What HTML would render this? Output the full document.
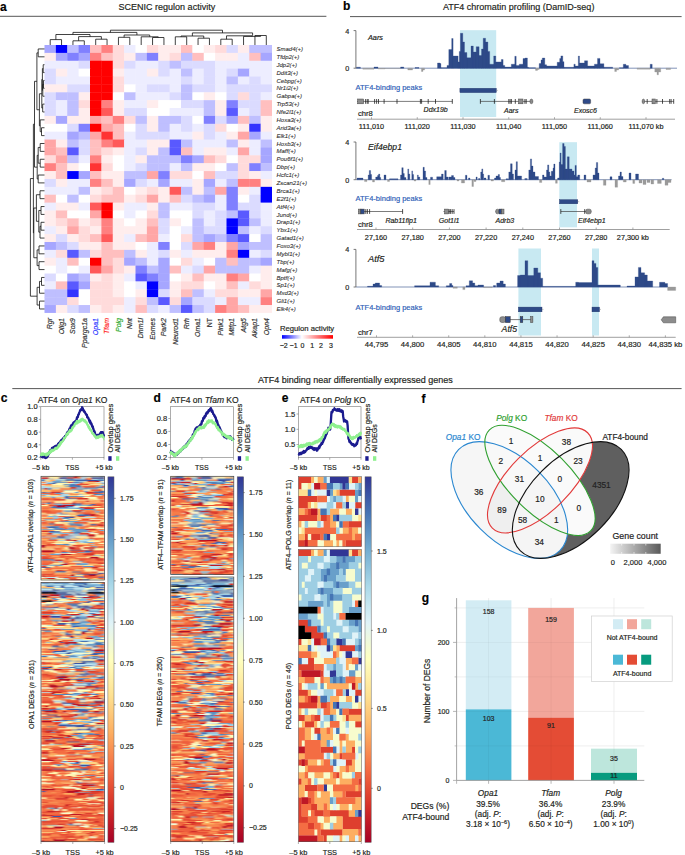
<!DOCTYPE html>
<html><head><meta charset="utf-8"><title>Figure</title>
<style>html,body{margin:0;padding:0;background:#fff;}body{width:685px;height:855px;overflow:hidden;font-family:"Liberation Sans",sans-serif;}svg{display:block;}</style>
</head><body><svg width="685" height="855" viewBox="0 0 685 855" font-family="'Liberation Sans', sans-serif"><text stroke="#000" stroke-width="0.18" x="0" y="11.3" font-size="12" text-anchor="start" fill="#000" font-weight="bold">a</text><text stroke="#231f20" stroke-width="0.18" x="118.6" y="10" font-size="9" text-anchor="start" fill="#231f20">SCENIC regulon activity</text><line x1="0" y1="16.3" x2="326.4" y2="16.3" stroke="#444" stroke-width="0.9"/><rect x="44.5" y="45" width="11.78" height="8.28" fill="#a6a6ff"/><rect x="55.88" y="45" width="11.78" height="8.28" fill="#0000ff"/><rect x="67.25" y="45" width="11.78" height="8.28" fill="#bfbfff"/><rect x="78.62" y="45" width="11.78" height="8.28" fill="#8080ff"/><rect x="90" y="45" width="11.78" height="8.28" fill="#ffbfbf"/><rect x="101.38" y="45" width="11.78" height="8.28" fill="#ff8080"/><rect x="112.75" y="45" width="11.78" height="8.28" fill="#ffdbdb"/><rect x="124.12" y="45" width="11.78" height="8.28" fill="#ededff"/><rect x="135.5" y="45" width="11.78" height="8.28" fill="#ffffff"/><rect x="146.88" y="45" width="11.78" height="8.28" fill="#ffdbdb"/><rect x="158.25" y="45" width="11.78" height="8.28" fill="#ffeded"/><rect x="169.62" y="45" width="11.78" height="8.28" fill="#ffeded"/><rect x="181" y="45" width="11.78" height="8.28" fill="#ffbfbf"/><rect x="192.38" y="45" width="11.78" height="8.28" fill="#ffffff"/><rect x="203.75" y="45" width="11.78" height="8.28" fill="#ffeded"/><rect x="215.12" y="45" width="11.78" height="8.28" fill="#ffdbdb"/><rect x="226.5" y="45" width="11.78" height="8.28" fill="#dbdbff"/><rect x="237.88" y="45" width="11.78" height="8.28" fill="#ffeded"/><rect x="249.25" y="45" width="11.78" height="8.28" fill="#bfbfff"/><rect x="260.62" y="45" width="11.38" height="8.28" fill="#bfbfff"/><rect x="44.5" y="52.88" width="11.78" height="8.28" fill="#ffeded"/><rect x="55.88" y="52.88" width="11.78" height="8.28" fill="#a6a6ff"/><rect x="67.25" y="52.88" width="11.78" height="8.28" fill="#8080ff"/><rect x="78.62" y="52.88" width="11.78" height="8.28" fill="#a6a6ff"/><rect x="90" y="52.88" width="11.78" height="8.28" fill="#ff8080"/><rect x="101.38" y="52.88" width="11.78" height="8.28" fill="#ffbfbf"/><rect x="112.75" y="52.88" width="11.78" height="8.28" fill="#ffdbdb"/><rect x="124.12" y="52.88" width="11.78" height="8.28" fill="#ffeded"/><rect x="135.5" y="52.88" width="11.78" height="8.28" fill="#bfbfff"/><rect x="146.88" y="52.88" width="11.78" height="8.28" fill="#8080ff"/><rect x="158.25" y="52.88" width="11.78" height="8.28" fill="#ffeded"/><rect x="169.62" y="52.88" width="11.78" height="8.28" fill="#ffdbdb"/><rect x="181" y="52.88" width="11.78" height="8.28" fill="#bfbfff"/><rect x="192.38" y="52.88" width="11.78" height="8.28" fill="#ffbfbf"/><rect x="203.75" y="52.88" width="11.78" height="8.28" fill="#ffffff"/><rect x="215.12" y="52.88" width="11.78" height="8.28" fill="#ffeded"/><rect x="226.5" y="52.88" width="11.78" height="8.28" fill="#ffeded"/><rect x="237.88" y="52.88" width="11.78" height="8.28" fill="#ededff"/><rect x="249.25" y="52.88" width="11.78" height="8.28" fill="#ffbfbf"/><rect x="260.62" y="52.88" width="11.38" height="8.28" fill="#a6a6ff"/><rect x="44.5" y="60.76" width="11.78" height="8.28" fill="#ededff"/><rect x="55.88" y="60.76" width="11.78" height="8.28" fill="#ededff"/><rect x="67.25" y="60.76" width="11.78" height="8.28" fill="#ededff"/><rect x="78.62" y="60.76" width="11.78" height="8.28" fill="#dbdbff"/><rect x="90" y="60.76" width="11.78" height="8.28" fill="#ff0000"/><rect x="101.38" y="60.76" width="11.78" height="8.28" fill="#ff0000"/><rect x="112.75" y="60.76" width="11.78" height="8.28" fill="#ffdbdb"/><rect x="124.12" y="60.76" width="11.78" height="8.28" fill="#dbdbff"/><rect x="135.5" y="60.76" width="11.78" height="8.28" fill="#ededff"/><rect x="146.88" y="60.76" width="11.78" height="8.28" fill="#ededff"/><rect x="158.25" y="60.76" width="11.78" height="8.28" fill="#dbdbff"/><rect x="169.62" y="60.76" width="11.78" height="8.28" fill="#bfbfff"/><rect x="181" y="60.76" width="11.78" height="8.28" fill="#dbdbff"/><rect x="192.38" y="60.76" width="11.78" height="8.28" fill="#dbdbff"/><rect x="203.75" y="60.76" width="11.78" height="8.28" fill="#dbdbff"/><rect x="215.12" y="60.76" width="11.78" height="8.28" fill="#ededff"/><rect x="226.5" y="60.76" width="11.78" height="8.28" fill="#ededff"/><rect x="237.88" y="60.76" width="11.78" height="8.28" fill="#ededff"/><rect x="249.25" y="60.76" width="11.78" height="8.28" fill="#ededff"/><rect x="260.62" y="60.76" width="11.38" height="8.28" fill="#ededff"/><rect x="44.5" y="68.64" width="11.78" height="8.28" fill="#dbdbff"/><rect x="55.88" y="68.64" width="11.78" height="8.28" fill="#ffeded"/><rect x="67.25" y="68.64" width="11.78" height="8.28" fill="#ededff"/><rect x="78.62" y="68.64" width="11.78" height="8.28" fill="#ffffff"/><rect x="90" y="68.64" width="11.78" height="8.28" fill="#ff0000"/><rect x="101.38" y="68.64" width="11.78" height="8.28" fill="#ff0000"/><rect x="112.75" y="68.64" width="11.78" height="8.28" fill="#ffeded"/><rect x="124.12" y="68.64" width="11.78" height="8.28" fill="#ededff"/><rect x="135.5" y="68.64" width="11.78" height="8.28" fill="#ededff"/><rect x="146.88" y="68.64" width="11.78" height="8.28" fill="#ffeded"/><rect x="158.25" y="68.64" width="11.78" height="8.28" fill="#dbdbff"/><rect x="169.62" y="68.64" width="11.78" height="8.28" fill="#ededff"/><rect x="181" y="68.64" width="11.78" height="8.28" fill="#bfbfff"/><rect x="192.38" y="68.64" width="11.78" height="8.28" fill="#ededff"/><rect x="203.75" y="68.64" width="11.78" height="8.28" fill="#dbdbff"/><rect x="215.12" y="68.64" width="11.78" height="8.28" fill="#ededff"/><rect x="226.5" y="68.64" width="11.78" height="8.28" fill="#dbdbff"/><rect x="237.88" y="68.64" width="11.78" height="8.28" fill="#a6a6ff"/><rect x="249.25" y="68.64" width="11.78" height="8.28" fill="#ededff"/><rect x="260.62" y="68.64" width="11.38" height="8.28" fill="#ededff"/><rect x="44.5" y="76.52" width="11.78" height="8.28" fill="#dbdbff"/><rect x="55.88" y="76.52" width="11.78" height="8.28" fill="#ededff"/><rect x="67.25" y="76.52" width="11.78" height="8.28" fill="#ededff"/><rect x="78.62" y="76.52" width="11.78" height="8.28" fill="#ededff"/><rect x="90" y="76.52" width="11.78" height="8.28" fill="#ff0000"/><rect x="101.38" y="76.52" width="11.78" height="8.28" fill="#ff0000"/><rect x="112.75" y="76.52" width="11.78" height="8.28" fill="#ffdbdb"/><rect x="124.12" y="76.52" width="11.78" height="8.28" fill="#ededff"/><rect x="135.5" y="76.52" width="11.78" height="8.28" fill="#ededff"/><rect x="146.88" y="76.52" width="11.78" height="8.28" fill="#ededff"/><rect x="158.25" y="76.52" width="11.78" height="8.28" fill="#ededff"/><rect x="169.62" y="76.52" width="11.78" height="8.28" fill="#ededff"/><rect x="181" y="76.52" width="11.78" height="8.28" fill="#dbdbff"/><rect x="192.38" y="76.52" width="11.78" height="8.28" fill="#ededff"/><rect x="203.75" y="76.52" width="11.78" height="8.28" fill="#dbdbff"/><rect x="215.12" y="76.52" width="11.78" height="8.28" fill="#ededff"/><rect x="226.5" y="76.52" width="11.78" height="8.28" fill="#bfbfff"/><rect x="237.88" y="76.52" width="11.78" height="8.28" fill="#ededff"/><rect x="249.25" y="76.52" width="11.78" height="8.28" fill="#dbdbff"/><rect x="260.62" y="76.52" width="11.38" height="8.28" fill="#ededff"/><rect x="44.5" y="84.4" width="11.78" height="8.28" fill="#ffeded"/><rect x="55.88" y="84.4" width="11.78" height="8.28" fill="#ffeded"/><rect x="67.25" y="84.4" width="11.78" height="8.28" fill="#dbdbff"/><rect x="78.62" y="84.4" width="11.78" height="8.28" fill="#dbdbff"/><rect x="90" y="84.4" width="11.78" height="8.28" fill="#ff0000"/><rect x="101.38" y="84.4" width="11.78" height="8.28" fill="#ff0000"/><rect x="112.75" y="84.4" width="11.78" height="8.28" fill="#ffdbdb"/><rect x="124.12" y="84.4" width="11.78" height="8.28" fill="#ffffff"/><rect x="135.5" y="84.4" width="11.78" height="8.28" fill="#ededff"/><rect x="146.88" y="84.4" width="11.78" height="8.28" fill="#dbdbff"/><rect x="158.25" y="84.4" width="11.78" height="8.28" fill="#dbdbff"/><rect x="169.62" y="84.4" width="11.78" height="8.28" fill="#ededff"/><rect x="181" y="84.4" width="11.78" height="8.28" fill="#bfbfff"/><rect x="192.38" y="84.4" width="11.78" height="8.28" fill="#dbdbff"/><rect x="203.75" y="84.4" width="11.78" height="8.28" fill="#dbdbff"/><rect x="215.12" y="84.4" width="11.78" height="8.28" fill="#ededff"/><rect x="226.5" y="84.4" width="11.78" height="8.28" fill="#dbdbff"/><rect x="237.88" y="84.4" width="11.78" height="8.28" fill="#dbdbff"/><rect x="249.25" y="84.4" width="11.78" height="8.28" fill="#dbdbff"/><rect x="260.62" y="84.4" width="11.38" height="8.28" fill="#dbdbff"/><rect x="44.5" y="92.28" width="11.78" height="8.28" fill="#dbdbff"/><rect x="55.88" y="92.28" width="11.78" height="8.28" fill="#bfbfff"/><rect x="67.25" y="92.28" width="11.78" height="8.28" fill="#bfbfff"/><rect x="78.62" y="92.28" width="11.78" height="8.28" fill="#ffeded"/><rect x="90" y="92.28" width="11.78" height="8.28" fill="#ff0000"/><rect x="101.38" y="92.28" width="11.78" height="8.28" fill="#ff0000"/><rect x="112.75" y="92.28" width="11.78" height="8.28" fill="#ffffff"/><rect x="124.12" y="92.28" width="11.78" height="8.28" fill="#bfbfff"/><rect x="135.5" y="92.28" width="11.78" height="8.28" fill="#ededff"/><rect x="146.88" y="92.28" width="11.78" height="8.28" fill="#ededff"/><rect x="158.25" y="92.28" width="11.78" height="8.28" fill="#ededff"/><rect x="169.62" y="92.28" width="11.78" height="8.28" fill="#dbdbff"/><rect x="181" y="92.28" width="11.78" height="8.28" fill="#bfbfff"/><rect x="192.38" y="92.28" width="11.78" height="8.28" fill="#ffffff"/><rect x="203.75" y="92.28" width="11.78" height="8.28" fill="#ffeded"/><rect x="215.12" y="92.28" width="11.78" height="8.28" fill="#ffffff"/><rect x="226.5" y="92.28" width="11.78" height="8.28" fill="#dbdbff"/><rect x="237.88" y="92.28" width="11.78" height="8.28" fill="#ffdbdb"/><rect x="249.25" y="92.28" width="11.78" height="8.28" fill="#dbdbff"/><rect x="260.62" y="92.28" width="11.38" height="8.28" fill="#ededff"/><rect x="44.5" y="100.16" width="11.78" height="8.28" fill="#dbdbff"/><rect x="55.88" y="100.16" width="11.78" height="8.28" fill="#ededff"/><rect x="67.25" y="100.16" width="11.78" height="8.28" fill="#bfbfff"/><rect x="78.62" y="100.16" width="11.78" height="8.28" fill="#ffdbdb"/><rect x="90" y="100.16" width="11.78" height="8.28" fill="#ff0000"/><rect x="101.38" y="100.16" width="11.78" height="8.28" fill="#ff8080"/><rect x="112.75" y="100.16" width="11.78" height="8.28" fill="#ffeded"/><rect x="124.12" y="100.16" width="11.78" height="8.28" fill="#ededff"/><rect x="135.5" y="100.16" width="11.78" height="8.28" fill="#ededff"/><rect x="146.88" y="100.16" width="11.78" height="8.28" fill="#ffeded"/><rect x="158.25" y="100.16" width="11.78" height="8.28" fill="#ffffff"/><rect x="169.62" y="100.16" width="11.78" height="8.28" fill="#ffffff"/><rect x="181" y="100.16" width="11.78" height="8.28" fill="#dbdbff"/><rect x="192.38" y="100.16" width="11.78" height="8.28" fill="#dbdbff"/><rect x="203.75" y="100.16" width="11.78" height="8.28" fill="#bfbfff"/><rect x="215.12" y="100.16" width="11.78" height="8.28" fill="#ffeded"/><rect x="226.5" y="100.16" width="11.78" height="8.28" fill="#8080ff"/><rect x="237.88" y="100.16" width="11.78" height="8.28" fill="#dbdbff"/><rect x="249.25" y="100.16" width="11.78" height="8.28" fill="#dbdbff"/><rect x="260.62" y="100.16" width="11.38" height="8.28" fill="#ffbfbf"/><rect x="44.5" y="108.04" width="11.78" height="8.28" fill="#dbdbff"/><rect x="55.88" y="108.04" width="11.78" height="8.28" fill="#ededff"/><rect x="67.25" y="108.04" width="11.78" height="8.28" fill="#bfbfff"/><rect x="78.62" y="108.04" width="11.78" height="8.28" fill="#ffeded"/><rect x="90" y="108.04" width="11.78" height="8.28" fill="#ff0000"/><rect x="101.38" y="108.04" width="11.78" height="8.28" fill="#ff5959"/><rect x="112.75" y="108.04" width="11.78" height="8.28" fill="#ffeded"/><rect x="124.12" y="108.04" width="11.78" height="8.28" fill="#dbdbff"/><rect x="135.5" y="108.04" width="11.78" height="8.28" fill="#dbdbff"/><rect x="146.88" y="108.04" width="11.78" height="8.28" fill="#ffffff"/><rect x="158.25" y="108.04" width="11.78" height="8.28" fill="#ffffff"/><rect x="169.62" y="108.04" width="11.78" height="8.28" fill="#ededff"/><rect x="181" y="108.04" width="11.78" height="8.28" fill="#ededff"/><rect x="192.38" y="108.04" width="11.78" height="8.28" fill="#ededff"/><rect x="203.75" y="108.04" width="11.78" height="8.28" fill="#bfbfff"/><rect x="215.12" y="108.04" width="11.78" height="8.28" fill="#ffeded"/><rect x="226.5" y="108.04" width="11.78" height="8.28" fill="#5959ff"/><rect x="237.88" y="108.04" width="11.78" height="8.28" fill="#ededff"/><rect x="249.25" y="108.04" width="11.78" height="8.28" fill="#dbdbff"/><rect x="260.62" y="108.04" width="11.38" height="8.28" fill="#ffbfbf"/><rect x="44.5" y="115.92" width="11.78" height="8.28" fill="#ffeded"/><rect x="55.88" y="115.92" width="11.78" height="8.28" fill="#a6a6ff"/><rect x="67.25" y="115.92" width="11.78" height="8.28" fill="#ffeded"/><rect x="78.62" y="115.92" width="11.78" height="8.28" fill="#ffeded"/><rect x="90" y="115.92" width="11.78" height="8.28" fill="#ffa6a6"/><rect x="101.38" y="115.92" width="11.78" height="8.28" fill="#ffbfbf"/><rect x="112.75" y="115.92" width="11.78" height="8.28" fill="#ff8080"/><rect x="124.12" y="115.92" width="11.78" height="8.28" fill="#ffdbdb"/><rect x="135.5" y="115.92" width="11.78" height="8.28" fill="#bfbfff"/><rect x="146.88" y="115.92" width="11.78" height="8.28" fill="#ffeded"/><rect x="158.25" y="115.92" width="11.78" height="8.28" fill="#bfbfff"/><rect x="169.62" y="115.92" width="11.78" height="8.28" fill="#bfbfff"/><rect x="181" y="115.92" width="11.78" height="8.28" fill="#dbdbff"/><rect x="192.38" y="115.92" width="11.78" height="8.28" fill="#ffffff"/><rect x="203.75" y="115.92" width="11.78" height="8.28" fill="#8080ff"/><rect x="215.12" y="115.92" width="11.78" height="8.28" fill="#dbdbff"/><rect x="226.5" y="115.92" width="11.78" height="8.28" fill="#a6a6ff"/><rect x="237.88" y="115.92" width="11.78" height="8.28" fill="#ffbfbf"/><rect x="249.25" y="115.92" width="11.78" height="8.28" fill="#bfbfff"/><rect x="260.62" y="115.92" width="11.38" height="8.28" fill="#ffeded"/><rect x="44.5" y="123.8" width="11.78" height="8.28" fill="#ffffff"/><rect x="55.88" y="123.8" width="11.78" height="8.28" fill="#ffffff"/><rect x="67.25" y="123.8" width="11.78" height="8.28" fill="#dbdbff"/><rect x="78.62" y="123.8" width="11.78" height="8.28" fill="#8080ff"/><rect x="90" y="123.8" width="11.78" height="8.28" fill="#ff0000"/><rect x="101.38" y="123.8" width="11.78" height="8.28" fill="#ffa6a6"/><rect x="112.75" y="123.8" width="11.78" height="8.28" fill="#ffbfbf"/><rect x="124.12" y="123.8" width="11.78" height="8.28" fill="#ffffff"/><rect x="135.5" y="123.8" width="11.78" height="8.28" fill="#dbdbff"/><rect x="146.88" y="123.8" width="11.78" height="8.28" fill="#ffeded"/><rect x="158.25" y="123.8" width="11.78" height="8.28" fill="#bfbfff"/><rect x="169.62" y="123.8" width="11.78" height="8.28" fill="#ededff"/><rect x="181" y="123.8" width="11.78" height="8.28" fill="#dbdbff"/><rect x="192.38" y="123.8" width="11.78" height="8.28" fill="#ededff"/><rect x="203.75" y="123.8" width="11.78" height="8.28" fill="#dbdbff"/><rect x="215.12" y="123.8" width="11.78" height="8.28" fill="#ffdbdb"/><rect x="226.5" y="123.8" width="11.78" height="8.28" fill="#ffffff"/><rect x="237.88" y="123.8" width="11.78" height="8.28" fill="#ffeded"/><rect x="249.25" y="123.8" width="11.78" height="8.28" fill="#3333ff"/><rect x="260.62" y="123.8" width="11.38" height="8.28" fill="#ffeded"/><rect x="44.5" y="131.68" width="11.78" height="8.28" fill="#ededff"/><rect x="55.88" y="131.68" width="11.78" height="8.28" fill="#ededff"/><rect x="67.25" y="131.68" width="11.78" height="8.28" fill="#a6a6ff"/><rect x="78.62" y="131.68" width="11.78" height="8.28" fill="#bfbfff"/><rect x="90" y="131.68" width="11.78" height="8.28" fill="#ffa6a6"/><rect x="101.38" y="131.68" width="11.78" height="8.28" fill="#ff3333"/><rect x="112.75" y="131.68" width="11.78" height="8.28" fill="#ffbfbf"/><rect x="124.12" y="131.68" width="11.78" height="8.28" fill="#ededff"/><rect x="135.5" y="131.68" width="11.78" height="8.28" fill="#dbdbff"/><rect x="146.88" y="131.68" width="11.78" height="8.28" fill="#dbdbff"/><rect x="158.25" y="131.68" width="11.78" height="8.28" fill="#dbdbff"/><rect x="169.62" y="131.68" width="11.78" height="8.28" fill="#ededff"/><rect x="181" y="131.68" width="11.78" height="8.28" fill="#ededff"/><rect x="192.38" y="131.68" width="11.78" height="8.28" fill="#ffeded"/><rect x="203.75" y="131.68" width="11.78" height="8.28" fill="#dbdbff"/><rect x="215.12" y="131.68" width="11.78" height="8.28" fill="#ededff"/><rect x="226.5" y="131.68" width="11.78" height="8.28" fill="#ffeded"/><rect x="237.88" y="131.68" width="11.78" height="8.28" fill="#ffa6a6"/><rect x="249.25" y="131.68" width="11.78" height="8.28" fill="#a6a6ff"/><rect x="260.62" y="131.68" width="11.38" height="8.28" fill="#ededff"/><rect x="44.5" y="139.56" width="11.78" height="8.28" fill="#ffa6a6"/><rect x="55.88" y="139.56" width="11.78" height="8.28" fill="#ffeded"/><rect x="67.25" y="139.56" width="11.78" height="8.28" fill="#bfbfff"/><rect x="78.62" y="139.56" width="11.78" height="8.28" fill="#dbdbff"/><rect x="90" y="139.56" width="11.78" height="8.28" fill="#ffbfbf"/><rect x="101.38" y="139.56" width="11.78" height="8.28" fill="#ff8080"/><rect x="112.75" y="139.56" width="11.78" height="8.28" fill="#ff5959"/><rect x="124.12" y="139.56" width="11.78" height="8.28" fill="#ededff"/><rect x="135.5" y="139.56" width="11.78" height="8.28" fill="#ededff"/><rect x="146.88" y="139.56" width="11.78" height="8.28" fill="#ffeded"/><rect x="158.25" y="139.56" width="11.78" height="8.28" fill="#ffeded"/><rect x="169.62" y="139.56" width="11.78" height="8.28" fill="#5959ff"/><rect x="181" y="139.56" width="11.78" height="8.28" fill="#bfbfff"/><rect x="192.38" y="139.56" width="11.78" height="8.28" fill="#ededff"/><rect x="203.75" y="139.56" width="11.78" height="8.28" fill="#ededff"/><rect x="215.12" y="139.56" width="11.78" height="8.28" fill="#ededff"/><rect x="226.5" y="139.56" width="11.78" height="8.28" fill="#bfbfff"/><rect x="237.88" y="139.56" width="11.78" height="8.28" fill="#ffeded"/><rect x="249.25" y="139.56" width="11.78" height="8.28" fill="#ededff"/><rect x="260.62" y="139.56" width="11.38" height="8.28" fill="#bfbfff"/><rect x="44.5" y="147.44" width="11.78" height="8.28" fill="#ffa6a6"/><rect x="55.88" y="147.44" width="11.78" height="8.28" fill="#ffbfbf"/><rect x="67.25" y="147.44" width="11.78" height="8.28" fill="#5959ff"/><rect x="78.62" y="147.44" width="11.78" height="8.28" fill="#dbdbff"/><rect x="90" y="147.44" width="11.78" height="8.28" fill="#ffbfbf"/><rect x="101.38" y="147.44" width="11.78" height="8.28" fill="#ffdbdb"/><rect x="112.75" y="147.44" width="11.78" height="8.28" fill="#ffeded"/><rect x="124.12" y="147.44" width="11.78" height="8.28" fill="#ededff"/><rect x="135.5" y="147.44" width="11.78" height="8.28" fill="#dbdbff"/><rect x="146.88" y="147.44" width="11.78" height="8.28" fill="#ffeded"/><rect x="158.25" y="147.44" width="11.78" height="8.28" fill="#bfbfff"/><rect x="169.62" y="147.44" width="11.78" height="8.28" fill="#5959ff"/><rect x="181" y="147.44" width="11.78" height="8.28" fill="#ffbfbf"/><rect x="192.38" y="147.44" width="11.78" height="8.28" fill="#ededff"/><rect x="203.75" y="147.44" width="11.78" height="8.28" fill="#ffeded"/><rect x="215.12" y="147.44" width="11.78" height="8.28" fill="#ffeded"/><rect x="226.5" y="147.44" width="11.78" height="8.28" fill="#ededff"/><rect x="237.88" y="147.44" width="11.78" height="8.28" fill="#ffa6a6"/><rect x="249.25" y="147.44" width="11.78" height="8.28" fill="#ededff"/><rect x="260.62" y="147.44" width="11.38" height="8.28" fill="#a6a6ff"/><rect x="44.5" y="155.32" width="11.78" height="8.28" fill="#ffdbdb"/><rect x="55.88" y="155.32" width="11.78" height="8.28" fill="#ffa6a6"/><rect x="67.25" y="155.32" width="11.78" height="8.28" fill="#bfbfff"/><rect x="78.62" y="155.32" width="11.78" height="8.28" fill="#ededff"/><rect x="90" y="155.32" width="11.78" height="8.28" fill="#ff8080"/><rect x="101.38" y="155.32" width="11.78" height="8.28" fill="#ffeded"/><rect x="112.75" y="155.32" width="11.78" height="8.28" fill="#ffffff"/><rect x="124.12" y="155.32" width="11.78" height="8.28" fill="#ededff"/><rect x="135.5" y="155.32" width="11.78" height="8.28" fill="#ffeded"/><rect x="146.88" y="155.32" width="11.78" height="8.28" fill="#bfbfff"/><rect x="158.25" y="155.32" width="11.78" height="8.28" fill="#bfbfff"/><rect x="169.62" y="155.32" width="11.78" height="8.28" fill="#bfbfff"/><rect x="181" y="155.32" width="11.78" height="8.28" fill="#8080ff"/><rect x="192.38" y="155.32" width="11.78" height="8.28" fill="#a6a6ff"/><rect x="203.75" y="155.32" width="11.78" height="8.28" fill="#ffbfbf"/><rect x="215.12" y="155.32" width="11.78" height="8.28" fill="#ffdbdb"/><rect x="226.5" y="155.32" width="11.78" height="8.28" fill="#ffffff"/><rect x="237.88" y="155.32" width="11.78" height="8.28" fill="#ffdbdb"/><rect x="249.25" y="155.32" width="11.78" height="8.28" fill="#ffdbdb"/><rect x="260.62" y="155.32" width="11.38" height="8.28" fill="#a6a6ff"/><rect x="44.5" y="163.2" width="11.78" height="8.28" fill="#ff8080"/><rect x="55.88" y="163.2" width="11.78" height="8.28" fill="#ffbfbf"/><rect x="67.25" y="163.2" width="11.78" height="8.28" fill="#ffeded"/><rect x="78.62" y="163.2" width="11.78" height="8.28" fill="#ffffff"/><rect x="90" y="163.2" width="11.78" height="8.28" fill="#ff3333"/><rect x="101.38" y="163.2" width="11.78" height="8.28" fill="#ffdbdb"/><rect x="112.75" y="163.2" width="11.78" height="8.28" fill="#ffffff"/><rect x="124.12" y="163.2" width="11.78" height="8.28" fill="#ededff"/><rect x="135.5" y="163.2" width="11.78" height="8.28" fill="#dbdbff"/><rect x="146.88" y="163.2" width="11.78" height="8.28" fill="#bfbfff"/><rect x="158.25" y="163.2" width="11.78" height="8.28" fill="#bfbfff"/><rect x="169.62" y="163.2" width="11.78" height="8.28" fill="#ededff"/><rect x="181" y="163.2" width="11.78" height="8.28" fill="#bfbfff"/><rect x="192.38" y="163.2" width="11.78" height="8.28" fill="#ffeded"/><rect x="203.75" y="163.2" width="11.78" height="8.28" fill="#ffeded"/><rect x="215.12" y="163.2" width="11.78" height="8.28" fill="#ffffff"/><rect x="226.5" y="163.2" width="11.78" height="8.28" fill="#bfbfff"/><rect x="237.88" y="163.2" width="11.78" height="8.28" fill="#ffdbdb"/><rect x="249.25" y="163.2" width="11.78" height="8.28" fill="#8080ff"/><rect x="260.62" y="163.2" width="11.38" height="8.28" fill="#bfbfff"/><rect x="44.5" y="171.08" width="11.78" height="8.28" fill="#ffeded"/><rect x="55.88" y="171.08" width="11.78" height="8.28" fill="#ffbfbf"/><rect x="67.25" y="171.08" width="11.78" height="8.28" fill="#0000ff"/><rect x="78.62" y="171.08" width="11.78" height="8.28" fill="#a6a6ff"/><rect x="90" y="171.08" width="11.78" height="8.28" fill="#ffbfbf"/><rect x="101.38" y="171.08" width="11.78" height="8.28" fill="#ffeded"/><rect x="112.75" y="171.08" width="11.78" height="8.28" fill="#ffeded"/><rect x="124.12" y="171.08" width="11.78" height="8.28" fill="#bfbfff"/><rect x="135.5" y="171.08" width="11.78" height="8.28" fill="#bfbfff"/><rect x="146.88" y="171.08" width="11.78" height="8.28" fill="#ffa6a6"/><rect x="158.25" y="171.08" width="11.78" height="8.28" fill="#8080ff"/><rect x="169.62" y="171.08" width="11.78" height="8.28" fill="#ffdbdb"/><rect x="181" y="171.08" width="11.78" height="8.28" fill="#ffdbdb"/><rect x="192.38" y="171.08" width="11.78" height="8.28" fill="#ffffff"/><rect x="203.75" y="171.08" width="11.78" height="8.28" fill="#ffbfbf"/><rect x="215.12" y="171.08" width="11.78" height="8.28" fill="#dbdbff"/><rect x="226.5" y="171.08" width="11.78" height="8.28" fill="#dbdbff"/><rect x="237.88" y="171.08" width="11.78" height="8.28" fill="#ffdbdb"/><rect x="249.25" y="171.08" width="11.78" height="8.28" fill="#ffeded"/><rect x="260.62" y="171.08" width="11.38" height="8.28" fill="#ededff"/><rect x="44.5" y="178.96" width="11.78" height="8.28" fill="#dbdbff"/><rect x="55.88" y="178.96" width="11.78" height="8.28" fill="#ffeded"/><rect x="67.25" y="178.96" width="11.78" height="8.28" fill="#ededff"/><rect x="78.62" y="178.96" width="11.78" height="8.28" fill="#ededff"/><rect x="90" y="178.96" width="11.78" height="8.28" fill="#ff8080"/><rect x="101.38" y="178.96" width="11.78" height="8.28" fill="#ffbfbf"/><rect x="112.75" y="178.96" width="11.78" height="8.28" fill="#ffeded"/><rect x="124.12" y="178.96" width="11.78" height="8.28" fill="#a6a6ff"/><rect x="135.5" y="178.96" width="11.78" height="8.28" fill="#dbdbff"/><rect x="146.88" y="178.96" width="11.78" height="8.28" fill="#ededff"/><rect x="158.25" y="178.96" width="11.78" height="8.28" fill="#a6a6ff"/><rect x="169.62" y="178.96" width="11.78" height="8.28" fill="#ededff"/><rect x="181" y="178.96" width="11.78" height="8.28" fill="#ededff"/><rect x="192.38" y="178.96" width="11.78" height="8.28" fill="#ffeded"/><rect x="203.75" y="178.96" width="11.78" height="8.28" fill="#a6a6ff"/><rect x="215.12" y="178.96" width="11.78" height="8.28" fill="#ededff"/><rect x="226.5" y="178.96" width="11.78" height="8.28" fill="#bfbfff"/><rect x="237.88" y="178.96" width="11.78" height="8.28" fill="#ff8080"/><rect x="249.25" y="178.96" width="11.78" height="8.28" fill="#ff8080"/><rect x="260.62" y="178.96" width="11.38" height="8.28" fill="#ffeded"/><rect x="44.5" y="186.84" width="11.78" height="8.28" fill="#ededff"/><rect x="55.88" y="186.84" width="11.78" height="8.28" fill="#ededff"/><rect x="67.25" y="186.84" width="11.78" height="8.28" fill="#ededff"/><rect x="78.62" y="186.84" width="11.78" height="8.28" fill="#bfbfff"/><rect x="90" y="186.84" width="11.78" height="8.28" fill="#ffeded"/><rect x="101.38" y="186.84" width="11.78" height="8.28" fill="#ffdbdb"/><rect x="112.75" y="186.84" width="11.78" height="8.28" fill="#ffbfbf"/><rect x="124.12" y="186.84" width="11.78" height="8.28" fill="#ffffff"/><rect x="135.5" y="186.84" width="11.78" height="8.28" fill="#ffeded"/><rect x="146.88" y="186.84" width="11.78" height="8.28" fill="#ffdbdb"/><rect x="158.25" y="186.84" width="11.78" height="8.28" fill="#ffeded"/><rect x="169.62" y="186.84" width="11.78" height="8.28" fill="#ff5959"/><rect x="181" y="186.84" width="11.78" height="8.28" fill="#bfbfff"/><rect x="192.38" y="186.84" width="11.78" height="8.28" fill="#ffeded"/><rect x="203.75" y="186.84" width="11.78" height="8.28" fill="#bfbfff"/><rect x="215.12" y="186.84" width="11.78" height="8.28" fill="#ffa6a6"/><rect x="226.5" y="186.84" width="11.78" height="8.28" fill="#8080ff"/><rect x="237.88" y="186.84" width="11.78" height="8.28" fill="#ffeded"/><rect x="249.25" y="186.84" width="11.78" height="8.28" fill="#ededff"/><rect x="260.62" y="186.84" width="11.38" height="8.28" fill="#0000ff"/><rect x="44.5" y="194.72" width="11.78" height="8.28" fill="#ffbfbf"/><rect x="55.88" y="194.72" width="11.78" height="8.28" fill="#ffffff"/><rect x="67.25" y="194.72" width="11.78" height="8.28" fill="#bfbfff"/><rect x="78.62" y="194.72" width="11.78" height="8.28" fill="#ffffff"/><rect x="90" y="194.72" width="11.78" height="8.28" fill="#ffdbdb"/><rect x="101.38" y="194.72" width="11.78" height="8.28" fill="#ffbfbf"/><rect x="112.75" y="194.72" width="11.78" height="8.28" fill="#ffbfbf"/><rect x="124.12" y="194.72" width="11.78" height="8.28" fill="#ffeded"/><rect x="135.5" y="194.72" width="11.78" height="8.28" fill="#ffdbdb"/><rect x="146.88" y="194.72" width="11.78" height="8.28" fill="#ffa6a6"/><rect x="158.25" y="194.72" width="11.78" height="8.28" fill="#ffeded"/><rect x="169.62" y="194.72" width="11.78" height="8.28" fill="#ffbfbf"/><rect x="181" y="194.72" width="11.78" height="8.28" fill="#dbdbff"/><rect x="192.38" y="194.72" width="11.78" height="8.28" fill="#bfbfff"/><rect x="203.75" y="194.72" width="11.78" height="8.28" fill="#a6a6ff"/><rect x="215.12" y="194.72" width="11.78" height="8.28" fill="#ededff"/><rect x="226.5" y="194.72" width="11.78" height="8.28" fill="#8080ff"/><rect x="237.88" y="194.72" width="11.78" height="8.28" fill="#ffffff"/><rect x="249.25" y="194.72" width="11.78" height="8.28" fill="#dbdbff"/><rect x="260.62" y="194.72" width="11.38" height="8.28" fill="#0000ff"/><rect x="44.5" y="202.6" width="11.78" height="8.28" fill="#ededff"/><rect x="55.88" y="202.6" width="11.78" height="8.28" fill="#ffeded"/><rect x="67.25" y="202.6" width="11.78" height="8.28" fill="#ffeded"/><rect x="78.62" y="202.6" width="11.78" height="8.28" fill="#ededff"/><rect x="90" y="202.6" width="11.78" height="8.28" fill="#ff5959"/><rect x="101.38" y="202.6" width="11.78" height="8.28" fill="#ff0000"/><rect x="112.75" y="202.6" width="11.78" height="8.28" fill="#ffeded"/><rect x="124.12" y="202.6" width="11.78" height="8.28" fill="#ededff"/><rect x="135.5" y="202.6" width="11.78" height="8.28" fill="#ededff"/><rect x="146.88" y="202.6" width="11.78" height="8.28" fill="#ffeded"/><rect x="158.25" y="202.6" width="11.78" height="8.28" fill="#bfbfff"/><rect x="169.62" y="202.6" width="11.78" height="8.28" fill="#ededff"/><rect x="181" y="202.6" width="11.78" height="8.28" fill="#ededff"/><rect x="192.38" y="202.6" width="11.78" height="8.28" fill="#dbdbff"/><rect x="203.75" y="202.6" width="11.78" height="8.28" fill="#dbdbff"/><rect x="215.12" y="202.6" width="11.78" height="8.28" fill="#ededff"/><rect x="226.5" y="202.6" width="11.78" height="8.28" fill="#8080ff"/><rect x="237.88" y="202.6" width="11.78" height="8.28" fill="#dbdbff"/><rect x="249.25" y="202.6" width="11.78" height="8.28" fill="#dbdbff"/><rect x="260.62" y="202.6" width="11.38" height="8.28" fill="#ededff"/><rect x="44.5" y="210.48" width="11.78" height="8.28" fill="#ffeded"/><rect x="55.88" y="210.48" width="11.78" height="8.28" fill="#ffbfbf"/><rect x="67.25" y="210.48" width="11.78" height="8.28" fill="#ffffff"/><rect x="78.62" y="210.48" width="11.78" height="8.28" fill="#ffffff"/><rect x="90" y="210.48" width="11.78" height="8.28" fill="#ffa6a6"/><rect x="101.38" y="210.48" width="11.78" height="8.28" fill="#ff0000"/><rect x="112.75" y="210.48" width="11.78" height="8.28" fill="#ffffff"/><rect x="124.12" y="210.48" width="11.78" height="8.28" fill="#ededff"/><rect x="135.5" y="210.48" width="11.78" height="8.28" fill="#ffffff"/><rect x="146.88" y="210.48" width="11.78" height="8.28" fill="#ffdbdb"/><rect x="158.25" y="210.48" width="11.78" height="8.28" fill="#bfbfff"/><rect x="169.62" y="210.48" width="11.78" height="8.28" fill="#ffffff"/><rect x="181" y="210.48" width="11.78" height="8.28" fill="#ffffff"/><rect x="192.38" y="210.48" width="11.78" height="8.28" fill="#dbdbff"/><rect x="203.75" y="210.48" width="11.78" height="8.28" fill="#ededff"/><rect x="215.12" y="210.48" width="11.78" height="8.28" fill="#dbdbff"/><rect x="226.5" y="210.48" width="11.78" height="8.28" fill="#bfbfff"/><rect x="237.88" y="210.48" width="11.78" height="8.28" fill="#5959ff"/><rect x="249.25" y="210.48" width="11.78" height="8.28" fill="#dbdbff"/><rect x="260.62" y="210.48" width="11.38" height="8.28" fill="#ededff"/><rect x="44.5" y="218.36" width="11.78" height="8.28" fill="#ffeded"/><rect x="55.88" y="218.36" width="11.78" height="8.28" fill="#ffdbdb"/><rect x="67.25" y="218.36" width="11.78" height="8.28" fill="#ffbfbf"/><rect x="78.62" y="218.36" width="11.78" height="8.28" fill="#ffeded"/><rect x="90" y="218.36" width="11.78" height="8.28" fill="#ffdbdb"/><rect x="101.38" y="218.36" width="11.78" height="8.28" fill="#ff8080"/><rect x="112.75" y="218.36" width="11.78" height="8.28" fill="#ffeded"/><rect x="124.12" y="218.36" width="11.78" height="8.28" fill="#ffffff"/><rect x="135.5" y="218.36" width="11.78" height="8.28" fill="#ffeded"/><rect x="146.88" y="218.36" width="11.78" height="8.28" fill="#ffbfbf"/><rect x="158.25" y="218.36" width="11.78" height="8.28" fill="#dbdbff"/><rect x="169.62" y="218.36" width="11.78" height="8.28" fill="#ffeded"/><rect x="181" y="218.36" width="11.78" height="8.28" fill="#ffffff"/><rect x="192.38" y="218.36" width="11.78" height="8.28" fill="#bfbfff"/><rect x="203.75" y="218.36" width="11.78" height="8.28" fill="#ededff"/><rect x="215.12" y="218.36" width="11.78" height="8.28" fill="#dbdbff"/><rect x="226.5" y="218.36" width="11.78" height="8.28" fill="#0000ff"/><rect x="237.88" y="218.36" width="11.78" height="8.28" fill="#5959ff"/><rect x="249.25" y="218.36" width="11.78" height="8.28" fill="#bfbfff"/><rect x="260.62" y="218.36" width="11.38" height="8.28" fill="#ededff"/><rect x="44.5" y="226.24" width="11.78" height="8.28" fill="#ededff"/><rect x="55.88" y="226.24" width="11.78" height="8.28" fill="#ffeded"/><rect x="67.25" y="226.24" width="11.78" height="8.28" fill="#ffa6a6"/><rect x="78.62" y="226.24" width="11.78" height="8.28" fill="#ffdbdb"/><rect x="90" y="226.24" width="11.78" height="8.28" fill="#ffeded"/><rect x="101.38" y="226.24" width="11.78" height="8.28" fill="#ff8080"/><rect x="112.75" y="226.24" width="11.78" height="8.28" fill="#ffeded"/><rect x="124.12" y="226.24" width="11.78" height="8.28" fill="#ffeded"/><rect x="135.5" y="226.24" width="11.78" height="8.28" fill="#ffeded"/><rect x="146.88" y="226.24" width="11.78" height="8.28" fill="#ffa6a6"/><rect x="158.25" y="226.24" width="11.78" height="8.28" fill="#dbdbff"/><rect x="169.62" y="226.24" width="11.78" height="8.28" fill="#ffffff"/><rect x="181" y="226.24" width="11.78" height="8.28" fill="#ededff"/><rect x="192.38" y="226.24" width="11.78" height="8.28" fill="#bfbfff"/><rect x="203.75" y="226.24" width="11.78" height="8.28" fill="#dbdbff"/><rect x="215.12" y="226.24" width="11.78" height="8.28" fill="#dbdbff"/><rect x="226.5" y="226.24" width="11.78" height="8.28" fill="#0000ff"/><rect x="237.88" y="226.24" width="11.78" height="8.28" fill="#bfbfff"/><rect x="249.25" y="226.24" width="11.78" height="8.28" fill="#ededff"/><rect x="260.62" y="226.24" width="11.38" height="8.28" fill="#dbdbff"/><rect x="44.5" y="234.12" width="11.78" height="8.28" fill="#ffeded"/><rect x="55.88" y="234.12" width="11.78" height="8.28" fill="#dbdbff"/><rect x="67.25" y="234.12" width="11.78" height="8.28" fill="#ffeded"/><rect x="78.62" y="234.12" width="11.78" height="8.28" fill="#ffdbdb"/><rect x="90" y="234.12" width="11.78" height="8.28" fill="#ffbfbf"/><rect x="101.38" y="234.12" width="11.78" height="8.28" fill="#ff5959"/><rect x="112.75" y="234.12" width="11.78" height="8.28" fill="#ffeded"/><rect x="124.12" y="234.12" width="11.78" height="8.28" fill="#ededff"/><rect x="135.5" y="234.12" width="11.78" height="8.28" fill="#ffbfbf"/><rect x="146.88" y="234.12" width="11.78" height="8.28" fill="#ffa6a6"/><rect x="158.25" y="234.12" width="11.78" height="8.28" fill="#ededff"/><rect x="169.62" y="234.12" width="11.78" height="8.28" fill="#ffffff"/><rect x="181" y="234.12" width="11.78" height="8.28" fill="#ffdbdb"/><rect x="192.38" y="234.12" width="11.78" height="8.28" fill="#bfbfff"/><rect x="203.75" y="234.12" width="11.78" height="8.28" fill="#a6a6ff"/><rect x="215.12" y="234.12" width="11.78" height="8.28" fill="#bfbfff"/><rect x="226.5" y="234.12" width="11.78" height="8.28" fill="#8080ff"/><rect x="237.88" y="234.12" width="11.78" height="8.28" fill="#5959ff"/><rect x="249.25" y="234.12" width="11.78" height="8.28" fill="#ffffff"/><rect x="260.62" y="234.12" width="11.38" height="8.28" fill="#bfbfff"/><rect x="44.5" y="242" width="11.78" height="8.28" fill="#a6a6ff"/><rect x="55.88" y="242" width="11.78" height="8.28" fill="#bfbfff"/><rect x="67.25" y="242" width="11.78" height="8.28" fill="#dbdbff"/><rect x="78.62" y="242" width="11.78" height="8.28" fill="#ffeded"/><rect x="90" y="242" width="11.78" height="8.28" fill="#ffeded"/><rect x="101.38" y="242" width="11.78" height="8.28" fill="#ffbfbf"/><rect x="112.75" y="242" width="11.78" height="8.28" fill="#ffeded"/><rect x="124.12" y="242" width="11.78" height="8.28" fill="#ffeded"/><rect x="135.5" y="242" width="11.78" height="8.28" fill="#ffffff"/><rect x="146.88" y="242" width="11.78" height="8.28" fill="#ededff"/><rect x="158.25" y="242" width="11.78" height="8.28" fill="#8080ff"/><rect x="169.62" y="242" width="11.78" height="8.28" fill="#ffffff"/><rect x="181" y="242" width="11.78" height="8.28" fill="#dbdbff"/><rect x="192.38" y="242" width="11.78" height="8.28" fill="#ffa6a6"/><rect x="203.75" y="242" width="11.78" height="8.28" fill="#ff8080"/><rect x="215.12" y="242" width="11.78" height="8.28" fill="#ffeded"/><rect x="226.5" y="242" width="11.78" height="8.28" fill="#ffa6a6"/><rect x="237.88" y="242" width="11.78" height="8.28" fill="#a6a6ff"/><rect x="249.25" y="242" width="11.78" height="8.28" fill="#bfbfff"/><rect x="260.62" y="242" width="11.38" height="8.28" fill="#bfbfff"/><rect x="44.5" y="249.88" width="11.78" height="8.28" fill="#ededff"/><rect x="55.88" y="249.88" width="11.78" height="8.28" fill="#ffdbdb"/><rect x="67.25" y="249.88" width="11.78" height="8.28" fill="#5959ff"/><rect x="78.62" y="249.88" width="11.78" height="8.28" fill="#bfbfff"/><rect x="90" y="249.88" width="11.78" height="8.28" fill="#ffdbdb"/><rect x="101.38" y="249.88" width="11.78" height="8.28" fill="#ffbfbf"/><rect x="112.75" y="249.88" width="11.78" height="8.28" fill="#ffbfbf"/><rect x="124.12" y="249.88" width="11.78" height="8.28" fill="#bfbfff"/><rect x="135.5" y="249.88" width="11.78" height="8.28" fill="#ffeded"/><rect x="146.88" y="249.88" width="11.78" height="8.28" fill="#ededff"/><rect x="158.25" y="249.88" width="11.78" height="8.28" fill="#dbdbff"/><rect x="169.62" y="249.88" width="11.78" height="8.28" fill="#ffeded"/><rect x="181" y="249.88" width="11.78" height="8.28" fill="#ededff"/><rect x="192.38" y="249.88" width="11.78" height="8.28" fill="#ffeded"/><rect x="203.75" y="249.88" width="11.78" height="8.28" fill="#ffeded"/><rect x="215.12" y="249.88" width="11.78" height="8.28" fill="#ffeded"/><rect x="226.5" y="249.88" width="11.78" height="8.28" fill="#ff8080"/><rect x="237.88" y="249.88" width="11.78" height="8.28" fill="#0000ff"/><rect x="249.25" y="249.88" width="11.78" height="8.28" fill="#ededff"/><rect x="260.62" y="249.88" width="11.38" height="8.28" fill="#dbdbff"/><rect x="44.5" y="257.76" width="11.78" height="8.28" fill="#ffeded"/><rect x="55.88" y="257.76" width="11.78" height="8.28" fill="#ededff"/><rect x="67.25" y="257.76" width="11.78" height="8.28" fill="#ffbfbf"/><rect x="78.62" y="257.76" width="11.78" height="8.28" fill="#ffffff"/><rect x="90" y="257.76" width="11.78" height="8.28" fill="#ff0000"/><rect x="101.38" y="257.76" width="11.78" height="8.28" fill="#ffbfbf"/><rect x="112.75" y="257.76" width="11.78" height="8.28" fill="#ffdbdb"/><rect x="124.12" y="257.76" width="11.78" height="8.28" fill="#a6a6ff"/><rect x="135.5" y="257.76" width="11.78" height="8.28" fill="#bfbfff"/><rect x="146.88" y="257.76" width="11.78" height="8.28" fill="#ededff"/><rect x="158.25" y="257.76" width="11.78" height="8.28" fill="#a6a6ff"/><rect x="169.62" y="257.76" width="11.78" height="8.28" fill="#ffffff"/><rect x="181" y="257.76" width="11.78" height="8.28" fill="#ffdbdb"/><rect x="192.38" y="257.76" width="11.78" height="8.28" fill="#ededff"/><rect x="203.75" y="257.76" width="11.78" height="8.28" fill="#ffffff"/><rect x="215.12" y="257.76" width="11.78" height="8.28" fill="#bfbfff"/><rect x="226.5" y="257.76" width="11.78" height="8.28" fill="#ffbfbf"/><rect x="237.88" y="257.76" width="11.78" height="8.28" fill="#bfbfff"/><rect x="249.25" y="257.76" width="11.78" height="8.28" fill="#bfbfff"/><rect x="260.62" y="257.76" width="11.38" height="8.28" fill="#a6a6ff"/><rect x="44.5" y="265.64" width="11.78" height="8.28" fill="#ffffff"/><rect x="55.88" y="265.64" width="11.78" height="8.28" fill="#ededff"/><rect x="67.25" y="265.64" width="11.78" height="8.28" fill="#ffffff"/><rect x="78.62" y="265.64" width="11.78" height="8.28" fill="#ededff"/><rect x="90" y="265.64" width="11.78" height="8.28" fill="#ff5959"/><rect x="101.38" y="265.64" width="11.78" height="8.28" fill="#ffa6a6"/><rect x="112.75" y="265.64" width="11.78" height="8.28" fill="#ffdbdb"/><rect x="124.12" y="265.64" width="11.78" height="8.28" fill="#ffeded"/><rect x="135.5" y="265.64" width="11.78" height="8.28" fill="#8080ff"/><rect x="146.88" y="265.64" width="11.78" height="8.28" fill="#bfbfff"/><rect x="158.25" y="265.64" width="11.78" height="8.28" fill="#a6a6ff"/><rect x="169.62" y="265.64" width="11.78" height="8.28" fill="#ffbfbf"/><rect x="181" y="265.64" width="11.78" height="8.28" fill="#ededff"/><rect x="192.38" y="265.64" width="11.78" height="8.28" fill="#dbdbff"/><rect x="203.75" y="265.64" width="11.78" height="8.28" fill="#ffa6a6"/><rect x="215.12" y="265.64" width="11.78" height="8.28" fill="#bfbfff"/><rect x="226.5" y="265.64" width="11.78" height="8.28" fill="#bfbfff"/><rect x="237.88" y="265.64" width="11.78" height="8.28" fill="#bfbfff"/><rect x="249.25" y="265.64" width="11.78" height="8.28" fill="#ededff"/><rect x="260.62" y="265.64" width="11.38" height="8.28" fill="#ffeded"/><rect x="44.5" y="273.52" width="11.78" height="8.28" fill="#dbdbff"/><rect x="55.88" y="273.52" width="11.78" height="8.28" fill="#ffffff"/><rect x="67.25" y="273.52" width="11.78" height="8.28" fill="#a6a6ff"/><rect x="78.62" y="273.52" width="11.78" height="8.28" fill="#bfbfff"/><rect x="90" y="273.52" width="11.78" height="8.28" fill="#ffeded"/><rect x="101.38" y="273.52" width="11.78" height="8.28" fill="#ffdbdb"/><rect x="112.75" y="273.52" width="11.78" height="8.28" fill="#ffeded"/><rect x="124.12" y="273.52" width="11.78" height="8.28" fill="#ededff"/><rect x="135.5" y="273.52" width="11.78" height="8.28" fill="#5959ff"/><rect x="146.88" y="273.52" width="11.78" height="8.28" fill="#8080ff"/><rect x="158.25" y="273.52" width="11.78" height="8.28" fill="#a6a6ff"/><rect x="169.62" y="273.52" width="11.78" height="8.28" fill="#ffffff"/><rect x="181" y="273.52" width="11.78" height="8.28" fill="#ffeded"/><rect x="192.38" y="273.52" width="11.78" height="8.28" fill="#ffbfbf"/><rect x="203.75" y="273.52" width="11.78" height="8.28" fill="#ffeded"/><rect x="215.12" y="273.52" width="11.78" height="8.28" fill="#ffeded"/><rect x="226.5" y="273.52" width="11.78" height="8.28" fill="#ff8080"/><rect x="237.88" y="273.52" width="11.78" height="8.28" fill="#ffa6a6"/><rect x="249.25" y="273.52" width="11.78" height="8.28" fill="#ffffff"/><rect x="260.62" y="273.52" width="11.38" height="8.28" fill="#ffeded"/><rect x="44.5" y="281.4" width="11.78" height="8.28" fill="#ededff"/><rect x="55.88" y="281.4" width="11.78" height="8.28" fill="#ffbfbf"/><rect x="67.25" y="281.4" width="11.78" height="8.28" fill="#5959ff"/><rect x="78.62" y="281.4" width="11.78" height="8.28" fill="#a6a6ff"/><rect x="90" y="281.4" width="11.78" height="8.28" fill="#ffdbdb"/><rect x="101.38" y="281.4" width="11.78" height="8.28" fill="#ffdbdb"/><rect x="112.75" y="281.4" width="11.78" height="8.28" fill="#ffeded"/><rect x="124.12" y="281.4" width="11.78" height="8.28" fill="#ffffff"/><rect x="135.5" y="281.4" width="11.78" height="8.28" fill="#ededff"/><rect x="146.88" y="281.4" width="11.78" height="8.28" fill="#0000ff"/><rect x="158.25" y="281.4" width="11.78" height="8.28" fill="#a6a6ff"/><rect x="169.62" y="281.4" width="11.78" height="8.28" fill="#ffeded"/><rect x="181" y="281.4" width="11.78" height="8.28" fill="#ffdbdb"/><rect x="192.38" y="281.4" width="11.78" height="8.28" fill="#ffdbdb"/><rect x="203.75" y="281.4" width="11.78" height="8.28" fill="#ffffff"/><rect x="215.12" y="281.4" width="11.78" height="8.28" fill="#ffeded"/><rect x="226.5" y="281.4" width="11.78" height="8.28" fill="#ffbfbf"/><rect x="237.88" y="281.4" width="11.78" height="8.28" fill="#ededff"/><rect x="249.25" y="281.4" width="11.78" height="8.28" fill="#ffdbdb"/><rect x="260.62" y="281.4" width="11.38" height="8.28" fill="#ffeded"/><rect x="44.5" y="289.28" width="11.78" height="8.28" fill="#bfbfff"/><rect x="55.88" y="289.28" width="11.78" height="8.28" fill="#bfbfff"/><rect x="67.25" y="289.28" width="11.78" height="8.28" fill="#3333ff"/><rect x="78.62" y="289.28" width="11.78" height="8.28" fill="#ffffff"/><rect x="90" y="289.28" width="11.78" height="8.28" fill="#ffdbdb"/><rect x="101.38" y="289.28" width="11.78" height="8.28" fill="#ffdbdb"/><rect x="112.75" y="289.28" width="11.78" height="8.28" fill="#ffeded"/><rect x="124.12" y="289.28" width="11.78" height="8.28" fill="#ffffff"/><rect x="135.5" y="289.28" width="11.78" height="8.28" fill="#ffeded"/><rect x="146.88" y="289.28" width="11.78" height="8.28" fill="#0000ff"/><rect x="158.25" y="289.28" width="11.78" height="8.28" fill="#dbdbff"/><rect x="169.62" y="289.28" width="11.78" height="8.28" fill="#ffeded"/><rect x="181" y="289.28" width="11.78" height="8.28" fill="#ffbfbf"/><rect x="192.38" y="289.28" width="11.78" height="8.28" fill="#bfbfff"/><rect x="203.75" y="289.28" width="11.78" height="8.28" fill="#ededff"/><rect x="215.12" y="289.28" width="11.78" height="8.28" fill="#ffdbdb"/><rect x="226.5" y="289.28" width="11.78" height="8.28" fill="#ffdbdb"/><rect x="237.88" y="289.28" width="11.78" height="8.28" fill="#ffeded"/><rect x="249.25" y="289.28" width="11.78" height="8.28" fill="#ffeded"/><rect x="260.62" y="289.28" width="11.38" height="8.28" fill="#ffa6a6"/><rect x="44.5" y="297.16" width="11.78" height="8.28" fill="#bfbfff"/><rect x="55.88" y="297.16" width="11.78" height="8.28" fill="#bfbfff"/><rect x="67.25" y="297.16" width="11.78" height="8.28" fill="#ffdbdb"/><rect x="78.62" y="297.16" width="11.78" height="8.28" fill="#ffffff"/><rect x="90" y="297.16" width="11.78" height="8.28" fill="#ffdbdb"/><rect x="101.38" y="297.16" width="11.78" height="8.28" fill="#ffdbdb"/><rect x="112.75" y="297.16" width="11.78" height="8.28" fill="#ffdbdb"/><rect x="124.12" y="297.16" width="11.78" height="8.28" fill="#ededff"/><rect x="135.5" y="297.16" width="11.78" height="8.28" fill="#ffdbdb"/><rect x="146.88" y="297.16" width="11.78" height="8.28" fill="#bfbfff"/><rect x="158.25" y="297.16" width="11.78" height="8.28" fill="#5959ff"/><rect x="169.62" y="297.16" width="11.78" height="8.28" fill="#ffdbdb"/><rect x="181" y="297.16" width="11.78" height="8.28" fill="#a6a6ff"/><rect x="192.38" y="297.16" width="11.78" height="8.28" fill="#dbdbff"/><rect x="203.75" y="297.16" width="11.78" height="8.28" fill="#dbdbff"/><rect x="215.12" y="297.16" width="11.78" height="8.28" fill="#ededff"/><rect x="226.5" y="297.16" width="11.78" height="8.28" fill="#ffa6a6"/><rect x="237.88" y="297.16" width="11.78" height="8.28" fill="#ededff"/><rect x="249.25" y="297.16" width="11.78" height="8.28" fill="#ededff"/><rect x="260.62" y="297.16" width="11.38" height="8.28" fill="#ff8080"/><rect x="44.5" y="305.04" width="11.78" height="7.88" fill="#a6a6ff"/><rect x="55.88" y="305.04" width="11.78" height="7.88" fill="#ffeded"/><rect x="67.25" y="305.04" width="11.78" height="7.88" fill="#dbdbff"/><rect x="78.62" y="305.04" width="11.78" height="7.88" fill="#bfbfff"/><rect x="90" y="305.04" width="11.78" height="7.88" fill="#ffeded"/><rect x="101.38" y="305.04" width="11.78" height="7.88" fill="#ffdbdb"/><rect x="112.75" y="305.04" width="11.78" height="7.88" fill="#ffeded"/><rect x="124.12" y="305.04" width="11.78" height="7.88" fill="#ededff"/><rect x="135.5" y="305.04" width="11.78" height="7.88" fill="#ffbfbf"/><rect x="146.88" y="305.04" width="11.78" height="7.88" fill="#dbdbff"/><rect x="158.25" y="305.04" width="11.78" height="7.88" fill="#ededff"/><rect x="169.62" y="305.04" width="11.78" height="7.88" fill="#bfbfff"/><rect x="181" y="305.04" width="11.78" height="7.88" fill="#5959ff"/><rect x="192.38" y="305.04" width="11.78" height="7.88" fill="#bfbfff"/><rect x="203.75" y="305.04" width="11.78" height="7.88" fill="#dbdbff"/><rect x="215.12" y="305.04" width="11.78" height="7.88" fill="#ff8080"/><rect x="226.5" y="305.04" width="11.78" height="7.88" fill="#ffa6a6"/><rect x="237.88" y="305.04" width="11.78" height="7.88" fill="#ffbfbf"/><rect x="249.25" y="305.04" width="11.78" height="7.88" fill="#ffeded"/><rect x="260.62" y="305.04" width="11.38" height="7.88" fill="#ffeded"/><text stroke="#333" stroke-width="0.18" x="52.49" y="318" font-size="7" text-anchor="end" fill="#333" font-style="italic" transform="rotate(-90 52.49 318)">Rgr</text><text stroke="#333" stroke-width="0.18" x="63.86" y="318" font-size="7" text-anchor="end" fill="#333" font-style="italic" transform="rotate(-90 63.86 318)">Olig1</text><text stroke="#333" stroke-width="0.18" x="75.24" y="318" font-size="7" text-anchor="end" fill="#333" font-style="italic" transform="rotate(-90 75.24 318)">Sox9</text><text stroke="#333" stroke-width="0.18" x="86.61" y="318" font-size="7" text-anchor="end" fill="#333" font-style="italic" transform="rotate(-90 86.61 318)">Ppargc1a</text><text stroke="#2a35ff" stroke-width="0.18" x="97.99" y="318" font-size="7" text-anchor="end" fill="#2a35ff" font-style="italic" transform="rotate(-90 97.99 318)">Opa1</text><text stroke="#ff2a2a" stroke-width="0.18" x="109.36" y="318" font-size="7" text-anchor="end" fill="#ff2a2a" font-style="italic" transform="rotate(-90 109.36 318)">Tfam</text><text stroke="#2aa82a" stroke-width="0.18" x="120.74" y="318" font-size="7" text-anchor="end" fill="#2aa82a" font-style="italic" transform="rotate(-90 120.74 318)">Polg</text><text stroke="#333" stroke-width="0.18" x="132.11" y="318" font-size="7" text-anchor="end" fill="#333" font-style="italic" transform="rotate(-90 132.11 318)">Nnt</text><text stroke="#333" stroke-width="0.18" x="143.49" y="318" font-size="7" text-anchor="end" fill="#333" font-style="italic" transform="rotate(-90 143.49 318)">Dnm1l</text><text stroke="#333" stroke-width="0.18" x="154.86" y="318" font-size="7" text-anchor="end" fill="#333" font-style="italic" transform="rotate(-90 154.86 318)">Eomes</text><text stroke="#333" stroke-width="0.18" x="166.24" y="318" font-size="7" text-anchor="end" fill="#333" font-style="italic" transform="rotate(-90 166.24 318)">Park2</text><text stroke="#333" stroke-width="0.18" x="177.61" y="318" font-size="7" text-anchor="end" fill="#333" font-style="italic" transform="rotate(-90 177.61 318)">Neurod1</text><text stroke="#333" stroke-width="0.18" x="188.99" y="318" font-size="7" text-anchor="end" fill="#333" font-style="italic" transform="rotate(-90 188.99 318)">Rrh</text><text stroke="#333" stroke-width="0.18" x="200.36" y="318" font-size="7" text-anchor="end" fill="#333" font-style="italic" transform="rotate(-90 200.36 318)">Oma1</text><text stroke="#333" stroke-width="0.18" x="211.74" y="318" font-size="7" text-anchor="end" fill="#333" transform="rotate(-90 211.74 318)">NT</text><text stroke="#333" stroke-width="0.18" x="223.11" y="318" font-size="7" text-anchor="end" fill="#333" font-style="italic" transform="rotate(-90 223.11 318)">Pink1</text><text stroke="#333" stroke-width="0.18" x="234.49" y="318" font-size="7" text-anchor="end" fill="#333" font-style="italic" transform="rotate(-90 234.49 318)">Mtfp1</text><text stroke="#333" stroke-width="0.18" x="245.86" y="318" font-size="7" text-anchor="end" fill="#333" font-style="italic" transform="rotate(-90 245.86 318)">Atg5</text><text stroke="#333" stroke-width="0.18" x="257.24" y="318" font-size="7" text-anchor="end" fill="#333" font-style="italic" transform="rotate(-90 257.24 318)">Akap1</text><text stroke="#333" stroke-width="0.18" x="268.61" y="318" font-size="7" text-anchor="end" fill="#333" font-style="italic" transform="rotate(-90 268.61 318)">Opn4</text><text stroke="#333" stroke-width="0.1" x="276.5" y="51.04" font-size="6" text-anchor="start" fill="#333" font-style="italic">Smad4(+)</text><text stroke="#333" stroke-width="0.1" x="276.5" y="58.92" font-size="6" text-anchor="start" fill="#333" font-style="italic">Tfdp2(+)</text><text stroke="#333" stroke-width="0.1" x="276.5" y="66.8" font-size="6" text-anchor="start" fill="#333" font-style="italic">Jdp2(+)</text><text stroke="#333" stroke-width="0.1" x="276.5" y="74.68" font-size="6" text-anchor="start" fill="#333" font-style="italic">Ddit3(+)</text><text stroke="#333" stroke-width="0.1" x="276.5" y="82.56" font-size="6" text-anchor="start" fill="#333" font-style="italic">Cebpg(+)</text><text stroke="#333" stroke-width="0.1" x="276.5" y="90.44" font-size="6" text-anchor="start" fill="#333" font-style="italic">Nr1i2(+)</text><text stroke="#333" stroke-width="0.1" x="276.5" y="98.32" font-size="6" text-anchor="start" fill="#333" font-style="italic">Gabpa(+)</text><text stroke="#333" stroke-width="0.1" x="276.5" y="106.2" font-size="6" text-anchor="start" fill="#333" font-style="italic">Trp53(+)</text><text stroke="#333" stroke-width="0.1" x="276.5" y="114.08" font-size="6" text-anchor="start" fill="#333" font-style="italic">Nfe2l1(+)</text><text stroke="#333" stroke-width="0.1" x="276.5" y="121.96" font-size="6" text-anchor="start" fill="#333" font-style="italic">Hoxa3(+)</text><text stroke="#333" stroke-width="0.1" x="276.5" y="129.84" font-size="6" text-anchor="start" fill="#333" font-style="italic">Arid3a(+)</text><text stroke="#333" stroke-width="0.1" x="276.5" y="137.72" font-size="6" text-anchor="start" fill="#333" font-style="italic">Elk1(+)</text><text stroke="#333" stroke-width="0.1" x="276.5" y="145.6" font-size="6" text-anchor="start" fill="#333" font-style="italic">Hoxb3(+)</text><text stroke="#333" stroke-width="0.1" x="276.5" y="153.48" font-size="6" text-anchor="start" fill="#333" font-style="italic">Maff(+)</text><text stroke="#333" stroke-width="0.1" x="276.5" y="161.36" font-size="6" text-anchor="start" fill="#333" font-style="italic">Pou6f1(+)</text><text stroke="#333" stroke-width="0.1" x="276.5" y="169.24" font-size="6" text-anchor="start" fill="#333" font-style="italic">Dbp(+)</text><text stroke="#333" stroke-width="0.1" x="276.5" y="177.12" font-size="6" text-anchor="start" fill="#333" font-style="italic">Hcfc1(+)</text><text stroke="#333" stroke-width="0.1" x="276.5" y="185" font-size="6" text-anchor="start" fill="#333" font-style="italic">Zscan21(+)</text><text stroke="#333" stroke-width="0.1" x="276.5" y="192.88" font-size="6" text-anchor="start" fill="#333" font-style="italic">Brca1(+)</text><text stroke="#333" stroke-width="0.1" x="276.5" y="200.76" font-size="6" text-anchor="start" fill="#333" font-style="italic">E2f1(+)</text><text stroke="#333" stroke-width="0.1" x="276.5" y="208.64" font-size="6" text-anchor="start" fill="#333" font-style="italic">Atf4(+)</text><text stroke="#333" stroke-width="0.1" x="276.5" y="216.52" font-size="6" text-anchor="start" fill="#333" font-style="italic">Jund(+)</text><text stroke="#333" stroke-width="0.1" x="276.5" y="224.4" font-size="6" text-anchor="start" fill="#333" font-style="italic">Drap1(+)</text><text stroke="#333" stroke-width="0.1" x="276.5" y="232.28" font-size="6" text-anchor="start" fill="#333" font-style="italic">Ybx1(+)</text><text stroke="#333" stroke-width="0.1" x="276.5" y="240.16" font-size="6" text-anchor="start" fill="#333" font-style="italic">Gatad1(+)</text><text stroke="#333" stroke-width="0.1" x="276.5" y="248.04" font-size="6" text-anchor="start" fill="#333" font-style="italic">Foxo3(+)</text><text stroke="#333" stroke-width="0.1" x="276.5" y="255.92" font-size="6" text-anchor="start" fill="#333" font-style="italic">Mybl1(+)</text><text stroke="#333" stroke-width="0.1" x="276.5" y="263.8" font-size="6" text-anchor="start" fill="#333" font-style="italic">Tbp(+)</text><text stroke="#333" stroke-width="0.1" x="276.5" y="271.68" font-size="6" text-anchor="start" fill="#333" font-style="italic">Mafg(+)</text><text stroke="#333" stroke-width="0.1" x="276.5" y="279.56" font-size="6" text-anchor="start" fill="#333" font-style="italic">Bptf(+)</text><text stroke="#333" stroke-width="0.1" x="276.5" y="287.44" font-size="6" text-anchor="start" fill="#333" font-style="italic">Sp1(+)</text><text stroke="#333" stroke-width="0.1" x="276.5" y="295.32" font-size="6" text-anchor="start" fill="#333" font-style="italic">Mxd3(+)</text><text stroke="#333" stroke-width="0.1" x="276.5" y="303.2" font-size="6" text-anchor="start" fill="#333" font-style="italic">Gli1(+)</text><text stroke="#333" stroke-width="0.1" x="276.5" y="311.08" font-size="6" text-anchor="start" fill="#333" font-style="italic">Elk4(+)</text><path d="M50.19 45L50.19 39.6M61.56 45L61.56 39.6M50.19 39.6L61.56 39.6M72.94 45L72.94 40.8M84.31 45L84.31 40.8M72.94 40.8L84.31 40.8M95.69 45L95.69 39.2M107.06 45L107.06 39.2M95.69 39.2L107.06 39.2M78.62 40.8L78.62 36.6M101.38 39.2L101.38 36.6M78.62 36.6L101.38 36.6M55.88 39.6L55.88 34.5M90 36.6L90 34.5M55.88 34.5L90 34.5M118.44 45L118.44 37.3M129.81 45L129.81 37.3M118.44 37.3L129.81 37.3M152.56 45L152.56 37.5M163.94 45L163.94 37.5M152.56 37.5L163.94 37.5M141.19 45L141.19 36.8M158.25 37.5L158.25 36.8M141.19 36.8L158.25 36.8M124.12 37.3L124.12 35M149.72 36.8L149.72 35M124.12 35L149.72 35M72.94 34.5L72.94 32.4M136.92 35L136.92 32.4M72.94 32.4L136.92 32.4M175.31 45L175.31 36.8M186.69 45L186.69 36.8M175.31 36.8L186.69 36.8M198.06 45L198.06 38.2M209.44 45L209.44 38.2M198.06 38.2L209.44 38.2M181 36.8L181 36M203.75 38.2L203.75 36M181 36L203.75 36M220.81 45L220.81 39.2M232.19 45L232.19 39.2M220.81 39.2L232.19 39.2M254.94 45L254.94 35.5M266.31 45L266.31 35.5M254.94 35.5L266.31 35.5M243.56 45L243.56 36.4M260.62 35.5L260.62 36.4M243.56 36.4L260.62 36.4M226.5 39.2L226.5 35.8M252.09 36.4L252.09 35.8M226.5 35.8L252.09 35.8M192.38 36L192.38 32.9M252.6 35.8L252.6 32.9M192.38 32.9L252.6 32.9M110.4 32.4L110.4 30.2M222.49 32.9L222.49 30.2M110.4 30.2L222.49 30.2" stroke="#111" stroke-width="0.8" fill="none"/><path d="M44.5 48.94L38.2 48.94M44.5 56.82L38.2 56.82M38.2 48.94L38.2 56.82M44.5 64.7L43.2 64.7M44.5 72.58L43.2 72.58M43.2 64.7L43.2 72.58M44.5 80.46L43.5 80.46M44.5 88.34L43.5 88.34M43.5 80.46L43.5 88.34M43.5 84.4L42.8 84.4M44.5 96.22L42.8 96.22M42.8 84.4L42.8 96.22M43.2 68.64L42.4 68.64M42.8 90.31L42.4 90.31M42.4 68.64L42.4 90.31M44.5 104.1L42.7 104.1M44.5 111.98L42.7 111.98M42.7 104.1L42.7 111.98M42.4 79.47L41.8 79.47M42.7 108.04L41.8 108.04M41.8 79.47L41.8 108.04M44.5 127.74L41.5 127.74M44.5 135.62L41.5 135.62M41.5 127.74L41.5 135.62M44.5 119.86L40.2 119.86M41.5 131.68L40.2 131.68M40.2 119.86L40.2 131.68M41.8 93.76L39.4 93.76M40.2 125.77L39.4 125.77M39.4 93.76L39.4 125.77M38.2 52.88L36.9 52.88M39.4 109.76L36.9 109.76M36.9 52.88L36.9 109.76M44.5 143.5L40.2 143.5M44.5 151.38L40.2 151.38M40.2 143.5L40.2 151.38M44.5 159.26L40.2 159.26M44.5 167.14L40.2 167.14M40.2 159.26L40.2 167.14M40.2 147.44L38.2 147.44M40.2 163.2L38.2 163.2M38.2 147.44L38.2 163.2M44.5 175.02L38.2 175.02M44.5 182.9L38.2 182.9M38.2 175.02L38.2 182.9M38.2 155.32L37.2 155.32M38.2 178.96L37.2 178.96M37.2 155.32L37.2 178.96M36.9 81.32L34.5 81.32M37.2 167.14L34.5 167.14M34.5 81.32L34.5 167.14M44.5 190.78L40 190.78M44.5 198.66L40 198.66M40 190.78L40 198.66M44.5 206.54L41 206.54M44.5 214.42L41 214.42M41 206.54L41 214.42M44.5 222.3L41 222.3M44.5 230.18L41 230.18M41 222.3L41 230.18M41 226.24L40 226.24M44.5 238.06L40 238.06M40 226.24L40 238.06M41 210.48L38.8 210.48M40 232.15L38.8 232.15M38.8 210.48L38.8 232.15M40 194.72L36.4 194.72M38.8 221.31L36.4 221.31M36.4 194.72L36.4 221.31M44.5 245.94L39 245.94M44.5 253.82L39 253.82M39 245.94L39 253.82M44.5 261.7L39 261.7M44.5 269.58L39 269.58M39 261.7L39 269.58M39 249.88L37.1 249.88M39 265.64L37.1 265.64M37.1 249.88L37.1 265.64M36.4 208.02L33.8 208.02M37.1 257.76L33.8 257.76M33.8 208.02L33.8 257.76M34.5 124.23L33.4 124.23M33.8 232.89L33.4 232.89M33.4 124.23L33.4 232.89M44.5 277.46L41.5 277.46M44.5 285.34L41.5 285.34M41.5 277.46L41.5 285.34M41.5 281.4L39.5 281.4M44.5 293.22L39.5 293.22M39.5 281.4L39.5 293.22M44.5 301.1L39.5 301.1M44.5 308.98L39.5 308.98M39.5 301.1L39.5 308.98M39.5 287.31L37.1 287.31M39.5 305.04L37.1 305.04M37.1 287.31L37.1 305.04M33.4 178.56L30.4 178.56M37.1 296.18L30.4 296.18M30.4 178.56L30.4 296.18" stroke="#111" stroke-width="0.8" fill="none"/><text stroke="#231f20" stroke-width="0.18" x="279.9" y="331.4" font-size="7.7" text-anchor="start" fill="#231f20">Regulon activity</text><defs><linearGradient id="gbwr" x1="0" x2="1" y1="0" y2="0"><stop offset="0" stop-color="#0000ff"/><stop offset="0.39" stop-color="#ffffff"/><stop offset="1" stop-color="#ff0000"/></linearGradient></defs><rect x="282" y="335.1" width="51" height="3.6" fill="url(#gbwr)"/><text stroke="#231f20" stroke-width="0.18" x="283.7" y="348.4" font-size="7" text-anchor="middle" fill="#231f20">−2</text><text stroke="#231f20" stroke-width="0.18" x="293.6" y="348.4" font-size="7" text-anchor="middle" fill="#231f20">−1</text><text stroke="#231f20" stroke-width="0.18" x="302.4" y="348.4" font-size="7" text-anchor="middle" fill="#231f20">0</text><text stroke="#231f20" stroke-width="0.18" x="312.2" y="348.4" font-size="7" text-anchor="middle" fill="#231f20">1</text><text stroke="#231f20" stroke-width="0.18" x="321" y="348.4" font-size="7" text-anchor="middle" fill="#231f20">2</text><text stroke="#231f20" stroke-width="0.18" x="331" y="348.4" font-size="7" text-anchor="middle" fill="#231f20">3</text><text stroke="#000" stroke-width="0.18" x="343" y="10.3" font-size="12" text-anchor="start" fill="#000" font-weight="bold">b</text><text stroke="#231f20" stroke-width="0.18" x="443" y="10.4" font-size="9" text-anchor="start" fill="#231f20">ATF4 chromatin profiling (DamID-seq)</text><line x1="350" y1="16.6" x2="681.6" y2="16.6" stroke="#444" stroke-width="0.9"/><rect x="460" y="30.2" width="36.2" height="86.8" fill="#c8e9f2"/><line x1="356" y1="68.2" x2="677" y2="68.2" stroke="#2e4a88" stroke-width="0.6"/><path d="M362.8 68.2H374V69.2H362.8ZM378 68.2H385V69H378ZM385 68.2H400.6V68.6H385ZM407.8 68.2H412.6V70H407.8ZM421.4 68.2H423V71.5H421.4ZM423 68.2H424.6V70H423ZM535.5 68.2H537.5V70.4H535.5ZM537.5 68.2H539.2V69.5H537.5ZM614.7 68.2H616.5V71.5H614.7ZM616.5 68.2H618.7V70H616.5ZM637 68.2H650.2V69.2H637ZM654.8 68.2H657V72H654.8ZM657 68.2H658.5V74.8H657ZM658.5 68.2H660.7V72H658.5ZM666 68.2H670.6V69.5H666Z" fill="#9a9a9a" stroke="#9a9a9a" stroke-width="0.3"/><path d="M356.4 68.2H360.4V67.2H356.4ZM374 68.2H378V67H374ZM400.6 68.2H403.8V67H400.6ZM415 68.2H419V67.6H415ZM437.5 68.2H440V63H437.5ZM440 68.2H440.9V63.6H440ZM440.9 68.2H447V67.7H440.9ZM447 68.2H448.8V65.4H447ZM448.8 68.2H451.7V49.6H448.8ZM451.7 68.2H453.1V38.5H451.7ZM453.1 68.2H458.1V56H453.1ZM458.1 68.2H459.3V61.9H458.1ZM459.3 68.2H460.4V51.4H459.3ZM460.4 68.2H462.8V33.3H460.4ZM462.8 68.2H464.5V42H462.8ZM464.5 68.2H466.9V52.5H464.5ZM466.9 68.2H471V57.8H466.9ZM471 68.2H473.3V46.1H471ZM473.3 68.2H476.2V52H473.3ZM476.2 68.2H479.1V46.7H476.2ZM479.1 68.2H481.5V55.5H479.1ZM481.5 68.2H483.2V49H481.5ZM483.2 68.2H485.6V38.3H483.2ZM485.6 68.2H487.9V42H485.6ZM487.9 68.2H489.7V51.4H487.9ZM489.7 68.2H493.7V64.2H489.7ZM493.7 68.2H495.8V56H493.7ZM495.8 68.2H501.3V61.9H495.8ZM501.3 68.2H503.1V59.5H501.3ZM503.1 68.2H504.8V65.4H503.1ZM504.8 68.2H511.3V67.1H504.8ZM511.3 68.2H514.8V64.2H511.3ZM514.8 68.2H516.2V56.3H514.8ZM516.2 68.2H519.3V65.4H516.2ZM519.3 68.2H523V64.2H519.3ZM523 68.2H525V58.6H523ZM525 68.2H527.4V58H525ZM527.4 68.2H528.6V67.3H527.4ZM528.6 68.2H535.5V67.8H528.6ZM539.2 68.2H541V63.6H539.2ZM541 68.2H542.3V59.9H541ZM542.3 68.2H544.8V58H542.3ZM544.8 68.2H546.6V64.8H544.8ZM546.6 68.2H557.2V66H546.6ZM557.2 68.2H559.7V62.3H557.2ZM559.7 68.2H560.9V58.6H559.7ZM560.9 68.2H562.8V55.9H560.9ZM562.8 68.2H564V61.7H562.8ZM564 68.2H573.9V67.3H564ZM573.9 68.2H575.2V64.2H573.9ZM575.2 68.2H578.3V66H575.2ZM578.3 68.2H579.5V56.1H578.3ZM579.5 68.2H584.5V63H579.5ZM584.5 68.2H587.6V60.8H584.5ZM587.6 68.2H594.4V66H587.6ZM594.4 68.2H597.5V64.2H594.4ZM597.5 68.2H600V58.4H597.5ZM600 68.2H603.9V63.7H600ZM603.9 68.2H612.7V67.2H603.9ZM619.3 68.2H623.3V67.8H619.3ZM623.3 68.2H625.9V64.3H623.3ZM625.9 68.2H628.5V65.6H625.9ZM650.2 68.2H652.2V64.3H650.2Z" fill="#2e4a88" stroke="#2e4a88" stroke-width="0.3"/><line x1="355.9" y1="30.6" x2="355.9" y2="68.2" stroke="#555" stroke-width="0.8"/><line x1="353.6" y1="30.6" x2="355.9" y2="30.6" stroke="#555" stroke-width="0.8"/><line x1="353.6" y1="68.2" x2="355.9" y2="68.2" stroke="#555" stroke-width="0.8"/><text stroke="#231f20" stroke-width="0.18" x="345.2" y="33.6" font-size="7.2" text-anchor="start" fill="#231f20">4</text><text stroke="#231f20" stroke-width="0.18" x="345.2" y="71" font-size="7.2" text-anchor="start" fill="#231f20">0</text><text stroke="#231f20" stroke-width="0.18" x="368" y="39.6" font-size="7.3" text-anchor="start" fill="#231f20" font-style="italic">Aars</text><text stroke="#2f5fb8" stroke-width="0.18" x="355.6" y="90.3" font-size="7.5" text-anchor="start" fill="#2f5fb8">ATF4-binding peaks</text><rect x="459.9" y="88.3" width="36.4" height="4.3" fill="#2e4a88" stroke="#1f3366" stroke-width="0.4"/><line x1="496.3" y1="90.4" x2="497.8" y2="90.4" stroke="#888" stroke-width="0.5"/><line x1="357" y1="101.4" x2="452.3" y2="101.4" stroke="#444" stroke-width="0.7"/><rect x="357.6" y="99" width="6" height="4.8" fill="#8c8c8c" stroke="#444" stroke-width="0.5"/><line x1="365.6" y1="99" x2="365.6" y2="103.8" stroke="#222" stroke-width="0.8"/><line x1="367.2" y1="99" x2="367.2" y2="103.8" stroke="#222" stroke-width="0.8"/><line x1="368.2" y1="99" x2="368.2" y2="103.8" stroke="#222" stroke-width="0.8"/><line x1="374.6" y1="99" x2="374.6" y2="103.8" stroke="#222" stroke-width="0.8"/><line x1="376.6" y1="99" x2="376.6" y2="103.8" stroke="#222" stroke-width="0.8"/><line x1="378.5" y1="99" x2="378.5" y2="103.8" stroke="#222" stroke-width="0.8"/><line x1="384.1" y1="99" x2="384.1" y2="103.8" stroke="#222" stroke-width="0.8"/><line x1="397" y1="99" x2="397" y2="103.8" stroke="#222" stroke-width="0.8"/><line x1="420.4" y1="99" x2="420.4" y2="103.8" stroke="#222" stroke-width="0.8"/><line x1="421.6" y1="99" x2="421.6" y2="103.8" stroke="#222" stroke-width="0.8"/><line x1="428.2" y1="99" x2="428.2" y2="103.8" stroke="#222" stroke-width="0.8"/><line x1="435.5" y1="99" x2="435.5" y2="103.8" stroke="#222" stroke-width="0.8"/><line x1="452.3" y1="99" x2="452.3" y2="103.8" stroke="#222" stroke-width="0.8"/><line x1="480.4" y1="101.4" x2="532.6" y2="101.4" stroke="#444" stroke-width="0.7"/><line x1="480.4" y1="99" x2="480.4" y2="103.8" stroke="#222" stroke-width="0.8"/><line x1="494.4" y1="99" x2="494.4" y2="103.8" stroke="#222" stroke-width="0.8"/><line x1="508.8" y1="99" x2="508.8" y2="103.8" stroke="#222" stroke-width="0.8"/><line x1="510.1" y1="99" x2="510.1" y2="103.8" stroke="#222" stroke-width="0.8"/><line x1="511.4" y1="99" x2="511.4" y2="103.8" stroke="#222" stroke-width="0.8"/><line x1="515.3" y1="99" x2="515.3" y2="103.8" stroke="#222" stroke-width="0.8"/><rect x="518.5" y="99" width="4.5" height="4.8" fill="#8c8c8c" stroke="#444" stroke-width="0.5"/><line x1="524.9" y1="99" x2="524.9" y2="103.8" stroke="#222" stroke-width="0.8"/><line x1="526.2" y1="99" x2="526.2" y2="103.8" stroke="#222" stroke-width="0.8"/><rect x="530" y="99.1" width="2.8" height="4.6" rx="1.68" fill="#8c8c8c" stroke="#444" stroke-width="0.5"/><rect x="583" y="99.0" width="7.6" height="4.8" rx="1.2" fill="#2e4a88" stroke="#444" stroke-width="0.5"/><line x1="642.2" y1="101.4" x2="673.7" y2="101.4" stroke="#444" stroke-width="0.7"/><rect x="642.2" y="99.1" width="2.4" height="4.6" rx="1.68" fill="#8c8c8c" stroke="#444" stroke-width="0.5"/><line x1="647.2" y1="99" x2="647.2" y2="103.8" stroke="#222" stroke-width="0.8"/><rect x="652" y="99" width="3.3" height="4.8" fill="#8c8c8c" stroke="#444" stroke-width="0.5"/><line x1="656.9" y1="99" x2="656.9" y2="103.8" stroke="#222" stroke-width="0.8"/><line x1="662.5" y1="99" x2="662.5" y2="103.8" stroke="#222" stroke-width="0.8"/><line x1="669.7" y1="99" x2="669.7" y2="103.8" stroke="#222" stroke-width="0.8"/><line x1="671.1" y1="99" x2="671.1" y2="103.8" stroke="#222" stroke-width="0.8"/><line x1="673.7" y1="99" x2="673.7" y2="103.8" stroke="#222" stroke-width="0.8"/><text stroke="#231f20" stroke-width="0.18" x="423.6" y="112.4" font-size="7" text-anchor="start" fill="#231f20" font-style="italic">Ddx19b</text><text stroke="#231f20" stroke-width="0.18" x="504" y="112.6" font-size="7" text-anchor="start" fill="#231f20" font-style="italic">Aars</text><text stroke="#231f20" stroke-width="0.18" x="574" y="112.6" font-size="7" text-anchor="start" fill="#231f20" font-style="italic">Exosc6</text><line x1="357" y1="119.2" x2="675" y2="119.2" stroke="#888" stroke-width="0.8"/><line x1="371.5" y1="117.2" x2="371.5" y2="119.2" stroke="#888" stroke-width="0.7"/><text stroke="#231f20" stroke-width="0.18" x="371.5" y="128.9" font-size="7.3" text-anchor="middle" fill="#231f20">111,010</text><line x1="417.25" y1="117.2" x2="417.25" y2="119.2" stroke="#888" stroke-width="0.7"/><text stroke="#231f20" stroke-width="0.18" x="417.25" y="128.9" font-size="7.3" text-anchor="middle" fill="#231f20">111,020</text><line x1="463" y1="117.2" x2="463" y2="119.2" stroke="#888" stroke-width="0.7"/><text stroke="#231f20" stroke-width="0.18" x="463" y="128.9" font-size="7.3" text-anchor="middle" fill="#231f20">111,030</text><line x1="508.75" y1="117.2" x2="508.75" y2="119.2" stroke="#888" stroke-width="0.7"/><text stroke="#231f20" stroke-width="0.18" x="508.75" y="128.9" font-size="7.3" text-anchor="middle" fill="#231f20">111,040</text><line x1="554.5" y1="117.2" x2="554.5" y2="119.2" stroke="#888" stroke-width="0.7"/><text stroke="#231f20" stroke-width="0.18" x="554.5" y="128.9" font-size="7.3" text-anchor="middle" fill="#231f20">111,050</text><line x1="600.25" y1="117.2" x2="600.25" y2="119.2" stroke="#888" stroke-width="0.7"/><text stroke="#231f20" stroke-width="0.18" x="600.25" y="128.9" font-size="7.3" text-anchor="middle" fill="#231f20">111,060</text><line x1="646" y1="117.2" x2="646" y2="119.2" stroke="#888" stroke-width="0.7"/><text stroke="#231f20" stroke-width="0.18" x="646" y="128.9" font-size="7.3" text-anchor="middle" fill="#231f20">111,070 kb</text><text stroke="#231f20" stroke-width="0.18" x="358" y="115.8" font-size="7.6" text-anchor="start" fill="#231f20">chr8</text><rect x="559.3" y="142.2" width="17.7" height="85.1" fill="#c8e9f2"/><line x1="356" y1="179.7" x2="671.6" y2="179.7" stroke="#2e4a88" stroke-width="0.6"/><path d="M364.5 179.7H367V181.6H364.5ZM372.5 179.7H374.5V182H372.5ZM387.5 179.7H389.5V181.5H387.5ZM414 179.7H416V181H414ZM428.8 179.7H430.2V184.5H428.8ZM457 179.7H459V181H457ZM461.4 179.7H464.6V183H461.4ZM471.9 179.7H473.5V186.5H471.9ZM474 179.7H476V181.5H474ZM491 179.7H493.5V181H491ZM501.5 179.7H504.8V181.7H501.5ZM539.5 179.7H541.8V182.5H539.5ZM555.5 179.7H557.3V183.3H555.5ZM587 179.7H591V182H587ZM603.4 179.7H606V185.3H603.4ZM615 179.7H617.6V187.2H615ZM623.3 179.7H626.2V182H623.3ZM632.8 179.7H634.7V183.4H632.8ZM639 179.7H642V183H639ZM643 179.7H646V184.5H643ZM647 179.7H650V182.5H647ZM651 179.7H653.7V184H651ZM657.5 179.7H661.3V183.4H657.5ZM665 179.7H668V185.2H665ZM668 179.7H671V182.5H668Z" fill="#9a9a9a" stroke="#9a9a9a" stroke-width="0.3"/><path d="M357 179.7H363V178.1H357ZM368.2 179.7H369.3V175H368.2ZM369.3 179.7H370.6V170.5H369.3ZM370.6 179.7H371.6V174.5H370.6ZM375.7 179.7H377.5V177H375.7ZM377.5 179.7H378.6V175.5H377.5ZM378.6 179.7H379.8V174.1H378.6ZM379.8 179.7H380.7V177.5H379.8ZM384 179.7H386V175H384ZM389.5 179.7H398V178.8H389.5ZM400.5 179.7H401.8V175H400.5ZM401.8 179.7H403.2V167.7H401.8ZM403.2 179.7H404.3V173.5H403.2ZM404.3 179.7H406V177.5H404.3ZM407.8 179.7H408.7V169H407.8ZM408.7 179.7H409.8V174H408.7ZM411.8 179.7H412.6V170.9H411.8ZM412.6 179.7H413.6V174.5H412.6ZM417.4 179.7H418.3V175H417.4ZM418.3 179.7H419.8V177H418.3ZM423 179.7H424.3V167.3H423ZM424.3 179.7H425.6V171H424.3ZM425.6 179.7H427V177.5H425.6ZM430.5 179.7H432.6V177.2H430.5ZM436.7 179.7H441.5V176.8H436.7ZM441.5 179.7H443.2V174.1H441.5ZM444.7 179.7H446.3V170.5H444.7ZM446.3 179.7H448V177H446.3ZM448.7 179.7H451.5V177H448.7ZM451.5 179.7H453.5V175.6H451.5ZM453.5 179.7H455V177.5H453.5ZM465.4 179.7H467V175.3H465.4ZM468.5 179.7H470V178H468.5ZM476 179.7H477.2V177H476ZM478.5 179.7H480V178.5H478.5ZM480.7 179.7H481.8V172H480.7ZM481.8 179.7H482.8V168.9H481.8ZM482.8 179.7H483.6V174H482.8ZM484 179.7H486V178H484ZM487.9 179.7H489.5V175.3H487.9ZM494.5 179.7H496V178H494.5ZM496 179.7H498.2V176H496ZM498.2 179.7H499.5V174.5H498.2ZM499.5 179.7H500.5V177.5H499.5ZM506 179.7H508.5V178.8H506ZM508.8 179.7H510.5V172H508.8ZM510.5 179.7H512.2V163.8H510.5ZM512.2 179.7H513.5V174H512.2ZM515 179.7H516.2V170H515ZM516.2 179.7H517.4V161.7H516.2ZM517.4 179.7H521.6V176H517.4ZM524.8 179.7H527.2V178.5H524.8ZM528.8 179.7H530.4V170H528.8ZM530.4 179.7H531.6V158.9H530.4ZM531.6 179.7H533V166H531.6ZM533 179.7H535V172H533ZM535 179.7H538.5V176.5H535ZM542.5 179.7H544V175H542.5ZM544 179.7H546.5V177H544ZM546.5 179.7H547.6V170H546.5ZM547.6 179.7H548.8V164.9H547.6ZM548.8 179.7H549.8V172H548.8ZM549.8 179.7H551.3V176H549.8ZM551.3 179.7H553V171.3H551.3ZM553 179.7H553.8V168H553ZM553.8 179.7H555V164.1H553.8ZM557.6 179.7H559.3V178H557.6ZM559.3 179.7H560.1V162H559.3ZM560.1 179.7H561.1V153H560.1ZM561.1 179.7H562.6V164.4H561.1ZM562.6 179.7H564.1V143.5H562.6ZM564.1 179.7H565.4V146.4H564.1ZM565.4 179.7H567.3V169H565.4ZM567.3 179.7H569.2V156.8H567.3ZM569.2 179.7H572V169H569.2ZM572 179.7H574V171H572ZM574 179.7H575V175H574ZM575 179.7H576.3V165.4H575ZM576.3 179.7H577.8V176.7H576.3ZM577.8 179.7H579.7V175H577.8ZM584 179.7H585.9V175H584ZM593 179.7H595.2V175H593ZM595.2 179.7H596.4V168H595.2ZM596.4 179.7H597.7V162.5H596.4ZM597.7 179.7H599V173H597.7ZM610 179.7H612V176.8H610ZM618.5 179.7H620V176H618.5ZM620 179.7H621.4V172H620ZM621.4 179.7H623V176.5H621.4ZM629 179.7H631V173H629ZM635.6 179.7H638.5V174H635.6ZM662.3 179.7H663.8V178.3H662.3Z" fill="#2e4a88" stroke="#2e4a88" stroke-width="0.3"/><line x1="355.9" y1="142" x2="355.9" y2="179.7" stroke="#555" stroke-width="0.8"/><line x1="353.6" y1="142" x2="355.9" y2="142" stroke="#555" stroke-width="0.8"/><line x1="353.6" y1="179.7" x2="355.9" y2="179.7" stroke="#555" stroke-width="0.8"/><text stroke="#231f20" stroke-width="0.18" x="345.2" y="145" font-size="7.2" text-anchor="start" fill="#231f20">4</text><text stroke="#231f20" stroke-width="0.18" x="345.2" y="182.5" font-size="7.2" text-anchor="start" fill="#231f20">0</text><text stroke="#231f20" stroke-width="0.18" x="368" y="150.4" font-size="8.6" text-anchor="start" fill="#231f20" font-style="italic">Eif4ebp1</text><text stroke="#2f5fb8" stroke-width="0.18" x="355.6" y="201.2" font-size="7.5" text-anchor="start" fill="#2f5fb8">ATF4-binding peaks</text><rect x="559.5" y="199.7" width="18.3" height="4.1" fill="#2e4a88" stroke="#1f3366" stroke-width="0.4"/><line x1="577.8" y1="201.7" x2="579.3" y2="201.7" stroke="#888" stroke-width="0.5"/><line x1="358.4" y1="211.5" x2="402.6" y2="211.5" stroke="#444" stroke-width="0.7"/><rect x="358.4" y="209.1" width="2.6" height="4.8" fill="#8c8c8c" stroke="#444" stroke-width="0.5"/><rect x="360.8" y="209.1" width="3.4" height="4.8" fill="#2e4a88" stroke="#333" stroke-width="0.5"/><line x1="365.8" y1="209.1" x2="365.8" y2="213.9" stroke="#222" stroke-width="0.8"/><line x1="367.4" y1="209.1" x2="367.4" y2="213.9" stroke="#222" stroke-width="0.8"/><line x1="369.6" y1="209.1" x2="369.6" y2="213.9" stroke="#222" stroke-width="0.8"/><line x1="402.6" y1="209.1" x2="402.6" y2="213.9" stroke="#222" stroke-width="0.8"/><line x1="443.5" y1="211.5" x2="454" y2="211.5" stroke="#444" stroke-width="0.7"/><rect x="444.5" y="209.1" width="4" height="4.8" fill="#8c8c8c" stroke="#444" stroke-width="0.5"/><line x1="449.2" y1="209.1" x2="449.2" y2="213.9" stroke="#222" stroke-width="0.8"/><line x1="450.6" y1="209.1" x2="450.6" y2="213.9" stroke="#222" stroke-width="0.8"/><line x1="452.2" y1="209.1" x2="452.2" y2="213.9" stroke="#222" stroke-width="0.8"/><line x1="454" y1="209.1" x2="454" y2="213.9" stroke="#222" stroke-width="0.8"/><line x1="495.7" y1="211.5" x2="504" y2="211.5" stroke="#444" stroke-width="0.7"/><rect x="495.7" y="209.2" width="3.3" height="4.6" rx="1.68" fill="#8c8c8c" stroke="#444" stroke-width="0.5"/><rect x="499" y="209.1" width="2.5" height="4.8" fill="#2e4a88" stroke="#333" stroke-width="0.5"/><rect x="501.5" y="209.1" width="2.5" height="4.8" fill="#8c8c8c" stroke="#444" stroke-width="0.5"/><line x1="560.8" y1="211.5" x2="591.2" y2="211.5" stroke="#444" stroke-width="0.7"/><line x1="560.8" y1="209.1" x2="560.8" y2="213.9" stroke="#222" stroke-width="0.8"/><line x1="584.7" y1="209.1" x2="584.7" y2="213.9" stroke="#222" stroke-width="0.8"/><rect x="585.7" y="209.2" width="5.5" height="4.6" rx="1.68" fill="#8c8c8c" stroke="#444" stroke-width="0.5"/><text stroke="#231f20" stroke-width="0.18" x="385.4" y="222.8" font-size="7" text-anchor="start" fill="#231f20" font-style="italic">Rab11fip1</text><text stroke="#231f20" stroke-width="0.18" x="438.8" y="222.8" font-size="7" text-anchor="start" fill="#231f20" font-style="italic">Got1l1</text><text stroke="#231f20" stroke-width="0.18" x="495.5" y="222.8" font-size="7" text-anchor="start" fill="#231f20" font-style="italic">Adrb3</text><text stroke="#231f20" stroke-width="0.18" x="578" y="222.8" font-size="7" text-anchor="start" fill="#231f20" font-style="italic">Eif4ebp1</text><line x1="357" y1="229.5" x2="669.7" y2="229.5" stroke="#888" stroke-width="0.8"/><line x1="376" y1="227.5" x2="376" y2="229.5" stroke="#888" stroke-width="0.7"/><text stroke="#231f20" stroke-width="0.18" x="376" y="239.5" font-size="7.3" text-anchor="middle" fill="#231f20">27,160</text><line x1="412.7" y1="227.5" x2="412.7" y2="229.5" stroke="#888" stroke-width="0.7"/><text stroke="#231f20" stroke-width="0.18" x="412.7" y="239.5" font-size="7.3" text-anchor="middle" fill="#231f20">27,180</text><line x1="449.4" y1="227.5" x2="449.4" y2="229.5" stroke="#888" stroke-width="0.7"/><text stroke="#231f20" stroke-width="0.18" x="449.4" y="239.5" font-size="7.3" text-anchor="middle" fill="#231f20">27,200</text><line x1="486.1" y1="227.5" x2="486.1" y2="229.5" stroke="#888" stroke-width="0.7"/><text stroke="#231f20" stroke-width="0.18" x="486.1" y="239.5" font-size="7.3" text-anchor="middle" fill="#231f20">27,220</text><line x1="522.8" y1="227.5" x2="522.8" y2="229.5" stroke="#888" stroke-width="0.7"/><text stroke="#231f20" stroke-width="0.18" x="522.8" y="239.5" font-size="7.3" text-anchor="middle" fill="#231f20">27,240</text><line x1="559.5" y1="227.5" x2="559.5" y2="229.5" stroke="#888" stroke-width="0.7"/><text stroke="#231f20" stroke-width="0.18" x="559.5" y="239.5" font-size="7.3" text-anchor="middle" fill="#231f20">27,260</text><line x1="596.2" y1="227.5" x2="596.2" y2="229.5" stroke="#888" stroke-width="0.7"/><text stroke="#231f20" stroke-width="0.18" x="596.2" y="239.5" font-size="7.3" text-anchor="middle" fill="#231f20">27,280</text><line x1="632.9" y1="227.5" x2="632.9" y2="229.5" stroke="#888" stroke-width="0.7"/><text stroke="#231f20" stroke-width="0.18" x="632.9" y="239.5" font-size="7.3" text-anchor="middle" fill="#231f20">27,300 kb</text><text stroke="#231f20" stroke-width="0.18" x="358" y="227.3" font-size="7.6" text-anchor="start" fill="#231f20">chr8</text><rect x="518.4" y="248.5" width="22.6" height="87" fill="#c8e9f2"/><rect x="592" y="248.5" width="7" height="87" fill="#c8e9f2"/><line x1="356" y1="287" x2="667.6" y2="287" stroke="#2e4a88" stroke-width="0.6"/><path d="M453 287H457.3V288.3H453ZM462.8 287H465V289.6H462.8ZM483.6 287H492.3V287.6H483.6ZM667.6 287H675.7V290.4H667.6Z" fill="#9a9a9a" stroke="#9a9a9a" stroke-width="0.3"/><path d="M367.5 287H373V286.3H367.5ZM373 287H375.2V284.1H373ZM375.2 287H379.6V283H375.2ZM379.6 287H381.7V285.5H379.6ZM414.6 287H430V285.7H414.6ZM430 287H435.4V282.2H430ZM435.4 287H438.7V285.7H435.4ZM446.3 287H449.6V285.7H446.3ZM449.6 287H451.8V283.5H449.6ZM451.8 287H453V285.5H451.8ZM466 287H469.3V285.7H466ZM469.3 287H472.6V280.8H469.3ZM472.6 287H474.8V283H472.6ZM474.8 287H478V285.7H474.8ZM478 287H483.6V285H478ZM493.4 287H495.6V285.5H493.4ZM496.7 287H500V283H496.7ZM500 287H503.2V281H500ZM503.2 287H505.4V284H503.2ZM517.6 287H520.3V275.5H517.6ZM520.3 287H525V275H520.3ZM525 287H527.8V260.7H525ZM527.8 287H533.8V275.5H527.8ZM533.8 287H537.8V268H533.8ZM537.8 287H540.5V272.8H537.8ZM540.5 287H542.7V278.2H540.5ZM542.7 287H575.7V286.4H542.7ZM575.7 287H578.4V282.3H575.7ZM578.4 287H592V282.6H578.4ZM592 287H594V260.7H592ZM594 287H596V263.4H594ZM596 287H597.8V267.4H596ZM597.8 287H620.3V285H597.8ZM627 287H635V286H627ZM635 287H638.4V276.9H635ZM638.4 287H641V267.4H638.4ZM641 287H644.6V272.8H641ZM644.6 287H647.3V275H644.6ZM647.3 287H652.7V281H647.3ZM659.5 287H664.9V282.3H659.5ZM664.9 287H667.6V283.5H664.9Z" fill="#2e4a88" stroke="#2e4a88" stroke-width="0.3"/><line x1="355.9" y1="249.4" x2="355.9" y2="287" stroke="#555" stroke-width="0.8"/><line x1="353.6" y1="249.4" x2="355.9" y2="249.4" stroke="#555" stroke-width="0.8"/><line x1="353.6" y1="287" x2="355.9" y2="287" stroke="#555" stroke-width="0.8"/><text stroke="#231f20" stroke-width="0.18" x="345.2" y="252.4" font-size="7.2" text-anchor="start" fill="#231f20">4</text><text stroke="#231f20" stroke-width="0.18" x="345.2" y="289.8" font-size="7.2" text-anchor="start" fill="#231f20">0</text><text stroke="#231f20" stroke-width="0.18" x="368" y="261.8" font-size="9.3" text-anchor="start" fill="#231f20" font-style="italic">Atf5</text><text stroke="#2f5fb8" stroke-width="0.18" x="355.6" y="309.5" font-size="7.5" text-anchor="start" fill="#2f5fb8">ATF4-binding peaks</text><rect x="518.4" y="307.1" width="23.6" height="4.7" fill="#2e4a88" stroke="#1f3366" stroke-width="0.4"/><line x1="542" y1="309.4" x2="543.5" y2="309.4" stroke="#888" stroke-width="0.5"/><rect x="592" y="307.1" width="7.5" height="4.7" fill="#2e4a88" stroke="#1f3366" stroke-width="0.4"/><line x1="599.5" y1="309.4" x2="601" y2="309.4" stroke="#888" stroke-width="0.5"/><line x1="500" y1="319.6" x2="533" y2="319.6" stroke="#444" stroke-width="0.7"/><rect x="499.8" y="316.7" width="6" height="5.8" rx="2.1" fill="#8c8c8c" stroke="#444" stroke-width="0.5"/><rect x="505.4" y="316.6" width="4.8" height="6" fill="#2e4a88" stroke="#333" stroke-width="0.5"/><rect x="520.2" y="316.6" width="2.6" height="6" fill="#2e4a88" stroke="#333" stroke-width="0.5"/><rect x="530.6" y="316.6" width="2.3" height="6" fill="#8c8c8c" stroke="#444" stroke-width="0.5"/><path d="M661.2 319.8L663.4 316.8H675.7V322.8H663.4Z" fill="#8c8c8c" stroke="#444" stroke-width="0.5"/><text stroke="#231f20" stroke-width="0.18" x="501.6" y="332" font-size="8.7" text-anchor="start" fill="#231f20" font-style="italic">Atf5</text><line x1="357" y1="337.3" x2="675.7" y2="337.3" stroke="#888" stroke-width="0.8"/><line x1="376.5" y1="335.3" x2="376.5" y2="337.3" stroke="#888" stroke-width="0.7"/><text stroke="#231f20" stroke-width="0.18" x="376.5" y="347.4" font-size="7.7" text-anchor="middle" fill="#231f20">44,795</text><line x1="412.61" y1="335.3" x2="412.61" y2="337.3" stroke="#888" stroke-width="0.7"/><text stroke="#231f20" stroke-width="0.18" x="412.61" y="347.4" font-size="7.7" text-anchor="middle" fill="#231f20">44,800</text><line x1="448.72" y1="335.3" x2="448.72" y2="337.3" stroke="#888" stroke-width="0.7"/><text stroke="#231f20" stroke-width="0.18" x="448.72" y="347.4" font-size="7.7" text-anchor="middle" fill="#231f20">44,805</text><line x1="484.83" y1="335.3" x2="484.83" y2="337.3" stroke="#888" stroke-width="0.7"/><text stroke="#231f20" stroke-width="0.18" x="484.83" y="347.4" font-size="7.7" text-anchor="middle" fill="#231f20">44,810</text><line x1="520.94" y1="335.3" x2="520.94" y2="337.3" stroke="#888" stroke-width="0.7"/><text stroke="#231f20" stroke-width="0.18" x="520.94" y="347.4" font-size="7.7" text-anchor="middle" fill="#231f20">44,815</text><line x1="557.05" y1="335.3" x2="557.05" y2="337.3" stroke="#888" stroke-width="0.7"/><text stroke="#231f20" stroke-width="0.18" x="557.05" y="347.4" font-size="7.7" text-anchor="middle" fill="#231f20">44,820</text><line x1="593.16" y1="335.3" x2="593.16" y2="337.3" stroke="#888" stroke-width="0.7"/><text stroke="#231f20" stroke-width="0.18" x="593.16" y="347.4" font-size="7.7" text-anchor="middle" fill="#231f20">44,825</text><line x1="629.27" y1="335.3" x2="629.27" y2="337.3" stroke="#888" stroke-width="0.7"/><text stroke="#231f20" stroke-width="0.18" x="629.27" y="347.4" font-size="7.7" text-anchor="middle" fill="#231f20">44,830</text><line x1="665.38" y1="335.3" x2="665.38" y2="337.3" stroke="#888" stroke-width="0.7"/><text stroke="#231f20" stroke-width="0.18" x="665.38" y="347.4" font-size="7.7" text-anchor="middle" fill="#231f20">44,835 kb</text><text stroke="#231f20" stroke-width="0.18" x="358" y="334.9" font-size="7.6" text-anchor="start" fill="#231f20">chr7</text><text stroke="#231f20" stroke-width="0.18" x="355.3" y="383.2" font-size="9" text-anchor="middle" fill="#231f20">ATF4 binding near differentially expressed genes</text><line x1="12.3" y1="388.6" x2="681.6" y2="388.6" stroke="#444" stroke-width="0.9"/><defs><filter id="hblur" x="0" y="0" width="1" height="1"><feGaussianBlur stdDeviation="0.8 0.45"/></filter></defs><rect x="40.8" y="406.7" width="63.2" height="51" fill="none" stroke="#777" stroke-width="0.6"/><line x1="38.8" y1="406.7" x2="40.8" y2="406.7" stroke="#777" stroke-width="0.6"/><text stroke="#231f20" stroke-width="0.18" x="37.6" y="409.4" font-size="7.5" text-anchor="end" fill="#231f20">1.0</text><line x1="38.8" y1="419.4" x2="40.8" y2="419.4" stroke="#777" stroke-width="0.6"/><text stroke="#231f20" stroke-width="0.18" x="37.6" y="422.1" font-size="7.5" text-anchor="end" fill="#231f20">0.8</text><line x1="38.8" y1="432.1" x2="40.8" y2="432.1" stroke="#777" stroke-width="0.6"/><text stroke="#231f20" stroke-width="0.18" x="37.6" y="434.8" font-size="7.5" text-anchor="end" fill="#231f20">0.6</text><line x1="38.8" y1="444.8" x2="40.8" y2="444.8" stroke="#777" stroke-width="0.6"/><text stroke="#231f20" stroke-width="0.18" x="37.6" y="447.5" font-size="7.5" text-anchor="end" fill="#231f20">0.4</text><line x1="38.8" y1="457.4" x2="40.8" y2="457.4" stroke="#777" stroke-width="0.6"/><text stroke="#231f20" stroke-width="0.18" x="37.6" y="460.1" font-size="7.5" text-anchor="end" fill="#231f20">0.2</text><line x1="40.8" y1="457.7" x2="40.8" y2="459.7" stroke="#777" stroke-width="0.6"/><line x1="72.4" y1="457.7" x2="72.4" y2="459.7" stroke="#777" stroke-width="0.6"/><line x1="104" y1="457.7" x2="104" y2="459.7" stroke="#777" stroke-width="0.6"/><text stroke="#231f20" stroke-width="0.18" x="40.8" y="470.2" font-size="7" text-anchor="middle" fill="#231f20">–5 kb</text><text stroke="#231f20" stroke-width="0.18" x="72.4" y="470.2" font-size="7" text-anchor="middle" fill="#231f20">TSS</text><text stroke="#231f20" stroke-width="0.18" x="104" y="470.2" font-size="7" text-anchor="middle" fill="#231f20">+5 kb</text><path d="M40.8 455.43L41.25 456.5L41.7 454.79L42.15 455.49L42.61 457.14L43.06 456.63L43.51 455.61L43.96 456.24L44.41 457.56L44.86 456.75L45.31 455.99L45.77 458.05L46.22 456.51L46.67 457.42L47.12 456.59L47.57 455.45L48.02 455.77L48.47 453.26L48.93 453.42L49.38 451.55L49.83 452.64L50.28 450.05L50.73 450.08L51.18 450L51.63 449.8L52.09 447.82L52.54 449.28L52.99 448.95L53.44 447.54L53.89 448.26L54.34 446.85L54.79 446.43L55.25 446.2L55.7 446.27L56.15 447.16L56.6 446.11L57.05 446.94L57.5 446.23L57.95 444.23L58.41 444.21L58.86 442.9L59.31 443.54L59.76 443.09L60.21 442.54L60.66 440.94L61.11 441.59L61.57 439.99L62.02 441.09L62.47 439.75L62.92 438.38L63.37 439.71L63.82 439.04L64.27 437.09L64.73 437.8L65.18 435.78L65.63 435.72L66.08 435.2L66.53 435.08L66.98 432.89L67.43 432.21L67.89 431.86L68.34 431.75L68.79 431.76L69.24 430.69L69.69 428.43L70.14 428.9L70.59 426.8L71.05 425.52L71.5 425.63L71.95 425.67L72.4 425.1L72.85 423.7L73.3 424.11L73.75 422.4L74.21 421.95L74.66 423.33L75.11 422.32L75.56 420.85L76.01 420.65L76.46 420.48L76.91 417.77L77.37 416.92L77.82 417.15L78.27 414.77L78.72 414.04L79.17 412.93L79.62 411.9L80.07 410.72L80.53 409.83L80.98 410.29L81.43 409.45L81.88 409.11L82.33 407.49L82.78 408.42L83.23 410.62L83.69 410.1L84.14 411.83L84.59 411.42L85.04 412.29L85.49 413.6L85.94 413.9L86.39 414.94L86.85 414.7L87.3 417.33L87.75 417.64L88.2 417.67L88.65 418.98L89.1 420.17L89.55 421.71L90.01 420.61L90.46 423.5L90.91 423.67L91.36 423.37L91.81 424.99L92.26 426.68L92.71 426.24L93.17 428.4L93.62 429.75L94.07 431.18L94.52 431.39L94.97 432.78L95.42 436.27L95.87 435.74L96.33 435.58L96.78 436.23L97.23 434.81L97.68 436.18L98.13 436.05L98.58 434.91L99.03 435.15L99.49 434.51L99.94 434.58L100.39 433.08L100.84 432.38L101.29 432.15L101.74 433.62L102.19 433.36L102.65 432.06L103.1 434.41L103.55 434.63L104 436.71" fill="none" stroke="#1b1b8f" stroke-width="2.3" stroke-linejoin="round"/><path d="M40.8 455.08L41.25 455.91L41.7 457.46L42.15 457.47L42.61 457.85L43.06 457.6L43.51 456.33L43.96 455.38L44.41 458.04L44.86 457.46L45.31 455.6L45.77 456.75L46.22 455.54L46.67 458.21L47.12 458.08L47.57 453.58L48.02 455.28L48.47 455.56L48.93 454.76L49.38 453.32L49.83 450.1L50.28 451.08L50.73 449.41L51.18 449.59L51.63 448.39L52.09 447.55L52.54 448.83L52.99 446.66L53.44 446.49L53.89 448.18L54.34 448.41L54.79 445.67L55.25 445.22L55.7 446.4L56.15 444.81L56.6 447.96L57.05 445.05L57.5 443.42L57.95 444.8L58.41 444.51L58.86 443.58L59.31 443.66L59.76 441.15L60.21 440.98L60.66 442.23L61.11 439.48L61.57 440.6L62.02 439.29L62.47 440.86L62.92 439.36L63.37 439.07L63.82 437.25L64.27 437.43L64.73 436.73L65.18 436.14L65.63 436.07L66.08 435.03L66.53 435.47L66.98 433.51L67.43 432.14L67.89 430.83L68.34 430.29L68.79 429.15L69.24 428.54L69.69 430.08L70.14 428.98L70.59 426.69L71.05 427.93L71.5 424.65L71.95 424.38L72.4 424.99L72.85 422.63L73.3 423.13L73.75 422.28L74.21 423.49L74.66 421.01L75.11 421.65L75.56 422.44L76.01 421.77L76.46 421.69L76.91 418.39L77.37 417.91L77.82 415.28L78.27 414.65L78.72 415.25L79.17 414.87L79.62 411.5L80.07 409.57L80.53 411.11L80.98 407.97L81.43 407.95L81.88 406.35L82.33 409.05L82.78 410.25L83.23 408.34L83.69 411.42L84.14 410.48L84.59 411.57L85.04 412.77L85.49 413.25L85.94 414.31L86.39 414.19L86.85 415.65L87.3 418.1L87.75 416.21L88.2 418.11L88.65 418.03L89.1 419.22L89.55 419.57L90.01 422.87L90.46 422.42L90.91 421.63L91.36 425.63L91.81 425.04L92.26 424.9L92.71 427.43L93.17 426.78L93.62 429.79L94.07 431.87L94.52 432L94.97 433.02L95.42 434.83L95.87 435.06L96.33 436.96L96.78 435.31L97.23 434.68L97.68 437.12L98.13 436.9L98.58 433.99L99.03 435.5L99.49 433.2L99.94 433.26L100.39 433.37L100.84 431.71L101.29 431.09L101.74 433.94L102.19 431.73L102.65 431.95L103.1 432.57L103.55 436.73L104 437.71" fill="none" stroke="#1b1b8f" stroke-width="1.0" stroke-linejoin="round"/><path d="M40.8 453.36L41.25 455.24L41.7 453.78L42.15 453.44L42.61 454.22L43.06 454.83L43.51 453.52L43.96 453.99L44.41 454.1L44.86 454.62L45.31 454.15L45.77 455.28L46.22 455.52L46.67 455.38L47.12 453.39L47.57 454.05L48.02 454.43L48.47 453.29L48.93 453L49.38 453.33L49.83 452.72L50.28 451.11L50.73 450.71L51.18 451.96L51.63 450.42L52.09 450.68L52.54 450.7L52.99 449.81L53.44 449.97L53.89 450.36L54.34 449.49L54.79 449.02L55.25 448.28L55.7 448.95L56.15 447.68L56.6 448.87L57.05 448.32L57.5 447.97L57.95 446.82L58.41 447.03L58.86 444.94L59.31 445.95L59.76 445.3L60.21 444.22L60.66 442.34L61.11 442.26L61.57 441.61L62.02 441.84L62.47 441.11L62.92 441.14L63.37 439.96L63.82 439.04L64.27 437.91L64.73 438.29L65.18 437.24L65.63 436.7L66.08 435.93L66.53 434.35L66.98 433.76L67.43 433.28L67.89 434.31L68.34 432.83L68.79 431.76L69.24 431.66L69.69 430.9L70.14 430.04L70.59 431.5L71.05 430.09L71.5 430.46L71.95 429.54L72.4 427.46L72.85 427.55L73.3 426.67L73.75 426.42L74.21 426.15L74.66 424.48L75.11 423.77L75.56 423.95L76.01 422.78L76.46 422.16L76.91 421.11L77.37 423.1L77.82 421.84L78.27 422.24L78.72 422.26L79.17 420.67L79.62 420.42L80.07 421.26L80.53 421.41L80.98 420.22L81.43 419.03L81.88 419.02L82.33 418.76L82.78 419.11L83.23 419.88L83.69 420.15L84.14 420.4L84.59 421.48L85.04 421.02L85.49 421.32L85.94 421.61L86.39 422.08L86.85 423.32L87.3 424.74L87.75 425.06L88.2 426L88.65 427.45L89.1 426.74L89.55 428.69L90.01 429.83L90.46 429.16L90.91 430.47L91.36 431L91.81 431.77L92.26 433.29L92.71 433.73L93.17 433.62L93.62 433.89L94.07 435.46L94.52 435.28L94.97 436.57L95.42 436.29L95.87 437.36L96.33 437.08L96.78 437.21L97.23 436.59L97.68 437.43L98.13 436.49L98.58 437.54L99.03 436.67L99.49 436.05L99.94 436.59L100.39 435.96L100.84 436.6L101.29 435.81L101.74 436.38L102.19 434.9L102.65 436.41L103.1 437.21L103.55 437.23L104 438.1" fill="none" stroke="#8ff08f" stroke-width="2.3" stroke-linejoin="round"/><path d="M40.8 454.89L41.25 455.14L41.7 452.87L42.15 453.96L42.61 453.09L43.06 455.82L43.51 455.31L43.96 455.04L44.41 454.25L44.86 454.07L45.31 455.85L45.77 452.9L46.22 453.5L46.67 454.37L47.12 455.97L47.57 452.49L48.02 455.11L48.47 451.55L48.93 453.15L49.38 451.02L49.83 453.57L50.28 450.09L50.73 452.04L51.18 449.52L51.63 452.19L52.09 448.77L52.54 451.81L52.99 451.34L53.44 451.28L53.89 450.03L54.34 448.68L54.79 449.38L55.25 447.29L55.7 449.85L56.15 447.84L56.6 448.27L57.05 449.22L57.5 448.48L57.95 447.01L58.41 444.34L58.86 444.03L59.31 443.53L59.76 443.78L60.21 442.52L60.66 441.69L61.11 444.01L61.57 444.19L62.02 441.18L62.47 442.12L62.92 440.84L63.37 439.4L63.82 437.55L64.27 439.07L64.73 438.05L65.18 438.45L65.63 437.34L66.08 434.9L66.53 436.42L66.98 434.42L67.43 433.77L67.89 433.95L68.34 431.74L68.79 432.78L69.24 430.31L69.69 429.36L70.14 429.19L70.59 430.46L71.05 430.71L71.5 429.7L71.95 429.46L72.4 427.11L72.85 425.85L73.3 428.46L73.75 425.89L74.21 425.51L74.66 422.91L75.11 422.97L75.56 424.88L76.01 423.25L76.46 420.45L76.91 424.14L77.37 423.99L77.82 420.3L78.27 422.55L78.72 420.4L79.17 421.54L79.62 422.97L80.07 421.53L80.53 420.6L80.98 420.31L81.43 418.17L81.88 421.42L82.33 418.72L82.78 420.42L83.23 421.13L83.69 418.96L84.14 421.61L84.59 421.17L85.04 419.31L85.49 423.24L85.94 421.68L86.39 421.45L86.85 421.96L87.3 423.85L87.75 424.67L88.2 426.52L88.65 428.32L89.1 426.32L89.55 428.84L90.01 428.52L90.46 429.41L90.91 428.99L91.36 432.27L91.81 433.41L92.26 433.27L92.71 434.46L93.17 434.58L93.62 434.78L94.07 435.51L94.52 434.19L94.97 435.14L95.42 437.03L95.87 439.13L96.33 439.08L96.78 438.24L97.23 436.68L97.68 439.02L98.13 437.52L98.58 438.14L99.03 437.68L99.49 437.54L99.94 436.5L100.39 434.33L100.84 436.57L101.29 436.48L101.74 436.43L102.19 436.75L102.65 435.61L103.1 436.92L103.55 437.13L104 440.38" fill="none" stroke="#8ff08f" stroke-width="1.0" stroke-linejoin="round"/><text stroke="#231f20" stroke-width="0.18" x="37.7" y="403.4" font-size="8.5" fill="#231f20">ATF4 on <tspan font-style="italic">Opa1</tspan> KO</text><text stroke="#000" stroke-width="0.18" x="0.8" y="402.4" font-size="12" text-anchor="start" fill="#000" font-weight="bold">c</text><text stroke="#231f20" stroke-width="0.18" x="112.8" y="452.6" font-size="7.5" text-anchor="start" fill="#231f20" transform="rotate(-90 112.8 452.6)">Overlap genes</text><text stroke="#231f20" stroke-width="0.18" x="120.2" y="452.6" font-size="7" text-anchor="start" fill="#231f20" transform="rotate(-90 120.2 452.6)">All DEGs</text><rect x="108.3" y="456.2" width="3.3" height="4.6" fill="#1b1b8f"/><rect x="116" y="456.2" width="3.3" height="4.6" fill="#8ff08f"/><rect x="170.3" y="406.7" width="63.2" height="51" fill="none" stroke="#777" stroke-width="0.6"/><line x1="168.3" y1="418.5" x2="170.3" y2="418.5" stroke="#777" stroke-width="0.6"/><text stroke="#231f20" stroke-width="0.18" x="167.1" y="421.2" font-size="7.5" text-anchor="end" fill="#231f20">0.8</text><line x1="168.3" y1="431.4" x2="170.3" y2="431.4" stroke="#777" stroke-width="0.6"/><text stroke="#231f20" stroke-width="0.18" x="167.1" y="434.1" font-size="7.5" text-anchor="end" fill="#231f20">0.6</text><line x1="168.3" y1="444.5" x2="170.3" y2="444.5" stroke="#777" stroke-width="0.6"/><text stroke="#231f20" stroke-width="0.18" x="167.1" y="447.2" font-size="7.5" text-anchor="end" fill="#231f20">0.4</text><line x1="168.3" y1="457.4" x2="170.3" y2="457.4" stroke="#777" stroke-width="0.6"/><text stroke="#231f20" stroke-width="0.18" x="167.1" y="460.1" font-size="7.5" text-anchor="end" fill="#231f20">0.2</text><line x1="170.3" y1="457.7" x2="170.3" y2="459.7" stroke="#777" stroke-width="0.6"/><line x1="201.9" y1="457.7" x2="201.9" y2="459.7" stroke="#777" stroke-width="0.6"/><line x1="233.5" y1="457.7" x2="233.5" y2="459.7" stroke="#777" stroke-width="0.6"/><text stroke="#231f20" stroke-width="0.18" x="170.3" y="470.2" font-size="7" text-anchor="middle" fill="#231f20">–5 kb</text><text stroke="#231f20" stroke-width="0.18" x="201.9" y="470.2" font-size="7" text-anchor="middle" fill="#231f20">TSS</text><text stroke="#231f20" stroke-width="0.18" x="233.5" y="470.2" font-size="7" text-anchor="middle" fill="#231f20">+5 kb</text><path d="M170.3 451.57L170.75 452.27L171.2 451.99L171.65 451.82L172.11 452.09L172.56 452.58L173.01 452.69L173.46 454.61L173.91 453.32L174.36 455.72L174.81 454.82L175.27 455.26L175.72 454.95L176.17 454.71L176.62 453.1L177.07 454.54L177.52 453.38L177.97 452.4L178.43 452.67L178.88 451.68L179.33 451.31L179.78 450.58L180.23 451.18L180.68 449.88L181.13 450.41L181.59 450.13L182.04 449.74L182.49 448.79L182.94 447.63L183.39 448.25L183.84 446.65L184.29 447.03L184.75 445.84L185.2 445.99L185.65 446.92L186.1 444.49L186.55 445.34L187 443.59L187.45 443.26L187.91 443.14L188.36 441.65L188.81 441.45L189.26 440.97L189.71 439.85L190.16 440.86L190.61 438.89L191.07 438.74L191.52 438.3L191.97 438.13L192.42 436.75L192.87 434.52L193.32 435.57L193.77 434.55L194.23 433.08L194.68 430.65L195.13 431.04L195.58 428.76L196.03 429.84L196.48 427.65L196.93 427.83L197.39 428.18L197.84 427.09L198.29 427.89L198.74 426.4L199.19 426.84L199.64 427.37L200.09 425.19L200.55 424.44L201 424.38L201.45 424.07L201.9 421.13L202.35 421.11L202.8 420.77L203.25 418.07L203.71 417.85L204.16 418.4L204.61 416.29L205.06 416.51L205.51 415.67L205.96 413.93L206.41 413.2L206.87 412.46L207.32 413.45L207.77 412.57L208.22 411.17L208.67 410.14L209.12 411.15L209.57 410.15L210.03 409.41L210.48 408.41L210.93 408.12L211.38 410.08L211.83 411.79L212.28 410.68L212.73 412.04L213.19 413.84L213.64 414.35L214.09 414.74L214.54 416L214.99 416.31L215.44 417.24L215.89 418.58L216.35 421.03L216.8 420.5L217.25 421.62L217.7 424.55L218.15 424.36L218.6 426.26L219.05 426.42L219.51 427.29L219.96 429.29L220.41 429.23L220.86 431.07L221.31 431.11L221.76 432.21L222.21 433.44L222.67 434.59L223.12 435.51L223.57 435.33L224.02 435.52L224.47 437.12L224.92 436.75L225.37 436.79L225.83 437.41L226.28 437.04L226.73 438.35L227.18 437.83L227.63 436.96L228.08 437.11L228.53 436.23L228.99 437.81L229.44 438.09L229.89 437.02L230.34 436.45L230.79 437.77L231.24 438.88L231.69 438.54L232.15 439.72L232.6 439.51L233.05 438.82L233.5 440.12" fill="none" stroke="#1b1b8f" stroke-width="2.3" stroke-linejoin="round"/><path d="M170.3 451.77L170.75 449.9L171.2 453.34L171.65 451.15L172.11 452.9L172.56 452.45L173.01 454L173.46 455.64L173.91 453.21L174.36 455.56L174.81 456.79L175.27 456.86L175.72 454.23L176.17 453.71L176.62 453.81L177.07 453.89L177.52 452.1L177.97 454.86L178.43 453.77L178.88 454L179.33 452.2L179.78 452.26L180.23 451.46L180.68 452.26L181.13 450.77L181.59 449.16L182.04 448.63L182.49 450.12L182.94 448.39L183.39 447.38L183.84 448.24L184.29 447.33L184.75 446L185.2 447.06L185.65 444.99L186.1 447.13L186.55 444.68L187 442.66L187.45 442.45L187.91 443.44L188.36 441.87L188.81 443.58L189.26 439.9L189.71 438.95L190.16 439.73L190.61 438.58L191.07 437.14L191.52 439.57L191.97 437.2L192.42 437.27L192.87 435.17L193.32 436.3L193.77 433.94L194.23 434.51L194.68 430.15L195.13 429.09L195.58 427.87L196.03 429.46L196.48 426.78L196.93 430.3L197.39 429.64L197.84 428.19L198.29 426.68L198.74 427.98L199.19 426.89L199.64 425.86L200.09 424.96L200.55 426.87L201 425L201.45 422.19L201.9 423.07L202.35 420.01L202.8 420.53L203.25 419.23L203.71 416.67L204.16 416.5L204.61 416.43L205.06 415.92L205.51 417.38L205.96 416.66L206.41 415.02L206.87 413.08L207.32 411.17L207.77 412.44L208.22 412.84L208.67 410.47L209.12 408.97L209.57 410.01L210.03 408.4L210.48 407.63L210.93 407.71L211.38 411.56L211.83 409.7L212.28 411.65L212.73 412.59L213.19 414.69L213.64 415.16L214.09 415.33L214.54 417.58L214.99 416.51L215.44 418.7L215.89 417.39L216.35 422.33L216.8 422.89L217.25 423.88L217.7 422.58L218.15 426.41L218.6 426.77L219.05 429.11L219.51 426.21L219.96 427.43L220.41 431.99L220.86 430.98L221.31 431.85L221.76 431.54L222.21 432.99L222.67 434.1L223.12 435.61L223.57 436.05L224.02 434.12L224.47 436.9L224.92 437.7L225.37 435.74L225.83 437.03L226.28 438.53L226.73 437.94L227.18 437.08L227.63 435.85L228.08 436.09L228.53 435.86L228.99 435.66L229.44 436.01L229.89 438.54L230.34 437.06L230.79 439.86L231.24 436.54L231.69 439.92L232.15 439.55L232.6 439.98L233.05 439.38L233.5 440.57" fill="none" stroke="#1b1b8f" stroke-width="1.0" stroke-linejoin="round"/><path d="M170.3 451.84L170.75 453.07L171.2 453.76L171.65 452.66L172.11 453.99L172.56 453.97L173.01 453.35L173.46 453.68L173.91 455.5L174.36 454.34L174.81 455.07L175.27 456.09L175.72 453.82L176.17 454.95L176.62 454.3L177.07 452.57L177.52 452.93L177.97 452.81L178.43 453.38L178.88 450.93L179.33 451.93L179.78 451.57L180.23 449.96L180.68 449.57L181.13 450.6L181.59 449.86L182.04 448.88L182.49 448.17L182.94 447.41L183.39 447.64L183.84 447.29L184.29 446.44L184.75 447.24L185.2 447.47L185.65 445.32L186.1 446.68L186.55 446.32L187 445.83L187.45 444.72L187.91 443.63L188.36 442.64L188.81 442.94L189.26 441.28L189.71 440.77L190.16 440.77L190.61 439.18L191.07 440.26L191.52 438.76L191.97 437.18L192.42 438.4L192.87 436.92L193.32 435.57L193.77 435.88L194.23 434.39L194.68 434.34L195.13 432.93L195.58 431.2L196.03 431.16L196.48 430.75L196.93 430.18L197.39 429.25L197.84 429.78L198.29 430.06L198.74 427.71L199.19 427.89L199.64 428.37L200.09 426.86L200.55 427.06L201 427.43L201.45 428.34L201.9 428.26L202.35 426.84L202.8 427.78L203.25 427.64L203.71 427.88L204.16 425.99L204.61 425L205.06 426.49L205.51 424.74L205.96 423.68L206.41 423.68L206.87 423.48L207.32 421.42L207.77 423.03L208.22 422.71L208.67 420.54L209.12 421.65L209.57 420.76L210.03 421.59L210.48 421.02L210.93 420.65L211.38 421.4L211.83 420.43L212.28 421.5L212.73 423.14L213.19 423.35L213.64 422.41L214.09 422.38L214.54 423.08L214.99 423.37L215.44 423.95L215.89 425.04L216.35 426.23L216.8 427.46L217.25 428.2L217.7 427.09L218.15 429.16L218.6 430.41L219.05 429.61L219.51 429.8L219.96 430.58L220.41 431.46L220.86 432.16L221.31 431.85L221.76 432.17L222.21 432.73L222.67 435.23L223.12 433.8L223.57 434.19L224.02 434.6L224.47 434.65L224.92 435.72L225.37 435.07L225.83 436.67L226.28 436.69L226.73 436.98L227.18 437.55L227.63 437.27L228.08 436.06L228.53 438.04L228.99 436.66L229.44 437.51L229.89 437.14L230.34 438.7L230.79 437.37L231.24 439.07L231.69 438.85L232.15 438.93L232.6 439.65L233.05 439.8L233.5 439.53" fill="none" stroke="#8ff08f" stroke-width="2.3" stroke-linejoin="round"/><path d="M170.3 450.91L170.75 453.57L171.2 453.66L171.65 451.47L172.11 452.81L172.56 452.97L173.01 455.73L173.46 455.4L173.91 456.18L174.36 455.18L174.81 457.19L175.27 456.29L175.72 456.72L176.17 452.84L176.62 454.03L177.07 452.76L177.52 451.31L177.97 454.57L178.43 451.37L178.88 452.88L179.33 453.03L179.78 450.53L180.23 449.44L180.68 452.23L181.13 449.13L181.59 448.34L182.04 450.72L182.49 447.58L182.94 449.57L183.39 447.54L183.84 446.9L184.29 446.49L184.75 447.95L185.2 446.76L185.65 444.9L186.1 446.95L186.55 446.82L187 443.08L187.45 443.53L187.91 444.82L188.36 442.55L188.81 443.06L189.26 441.97L189.71 443.02L190.16 440.08L190.61 438.5L191.07 440.51L191.52 440.75L191.97 438.49L192.42 438.9L192.87 435.18L193.32 437.67L193.77 433.46L194.23 434.29L194.68 433.93L195.13 431.83L195.58 432.23L196.03 433.18L196.48 431.69L196.93 428.45L197.39 428.52L197.84 428.63L198.29 428.2L198.74 429.1L199.19 428.12L199.64 425.99L200.09 428.79L200.55 427.2L201 429.16L201.45 426.95L201.9 428.33L202.35 426.3L202.8 426.6L203.25 425.89L203.71 429.02L204.16 425.03L204.61 425.13L205.06 424L205.51 424.82L205.96 423.93L206.41 425.6L206.87 423.39L207.32 422.12L207.77 423.84L208.22 421.43L208.67 419.64L209.12 422.86L209.57 422.7L210.03 419.82L210.48 422.17L210.93 420.91L211.38 420.69L211.83 422.34L212.28 419.84L212.73 423.57L213.19 421.89L213.64 422.66L214.09 424.3L214.54 424L214.99 425.23L215.44 423.07L215.89 426.8L216.35 424.46L216.8 428.6L217.25 426.33L217.7 428.82L218.15 427.67L218.6 428.59L219.05 428.28L219.51 430.35L219.96 430.99L220.41 432.54L220.86 430.5L221.31 434.05L221.76 431.82L222.21 432.37L222.67 432.42L223.12 434.66L223.57 433.84L224.02 432.92L224.47 436.79L224.92 435.66L225.37 435.02L225.83 436.39L226.28 437.71L226.73 435.21L227.18 436L227.63 435.37L228.08 437.24L228.53 435.89L228.99 438.78L229.44 439.46L229.89 436.24L230.34 437.28L230.79 439.99L231.24 436.97L231.69 437.88L232.15 438.75L232.6 437.41L233.05 440.86L233.5 441.82" fill="none" stroke="#8ff08f" stroke-width="1.0" stroke-linejoin="round"/><text stroke="#231f20" stroke-width="0.18" x="170.3" y="403.4" font-size="8.5" fill="#231f20">ATF4 on <tspan font-style="italic">Tfam</tspan> KO</text><text stroke="#000" stroke-width="0.18" x="153.6" y="402.4" font-size="12" text-anchor="start" fill="#000" font-weight="bold">d</text><text stroke="#231f20" stroke-width="0.18" x="242.3" y="452.6" font-size="7.5" text-anchor="start" fill="#231f20" transform="rotate(-90 242.3 452.6)">Overlap genes</text><text stroke="#231f20" stroke-width="0.18" x="249.7" y="452.6" font-size="7" text-anchor="start" fill="#231f20" transform="rotate(-90 249.7 452.6)">All DEGs</text><rect x="237.8" y="456.2" width="3.3" height="4.6" fill="#1b1b8f"/><rect x="245.5" y="456.2" width="3.3" height="4.6" fill="#8ff08f"/><rect x="298.5" y="406.7" width="62.5" height="51" fill="none" stroke="#777" stroke-width="0.6"/><line x1="296.5" y1="414" x2="298.5" y2="414" stroke="#777" stroke-width="0.6"/><text stroke="#231f20" stroke-width="0.18" x="295.3" y="416.7" font-size="7.5" text-anchor="end" fill="#231f20">1.5</text><line x1="296.5" y1="429.3" x2="298.5" y2="429.3" stroke="#777" stroke-width="0.6"/><text stroke="#231f20" stroke-width="0.18" x="295.3" y="432" font-size="7.5" text-anchor="end" fill="#231f20">1.0</text><line x1="296.5" y1="444.5" x2="298.5" y2="444.5" stroke="#777" stroke-width="0.6"/><text stroke="#231f20" stroke-width="0.18" x="295.3" y="447.2" font-size="7.5" text-anchor="end" fill="#231f20">0.5</text><line x1="298.5" y1="457.7" x2="298.5" y2="459.7" stroke="#777" stroke-width="0.6"/><line x1="329.75" y1="457.7" x2="329.75" y2="459.7" stroke="#777" stroke-width="0.6"/><line x1="361" y1="457.7" x2="361" y2="459.7" stroke="#777" stroke-width="0.6"/><text stroke="#231f20" stroke-width="0.18" x="298.5" y="470.2" font-size="7" text-anchor="middle" fill="#231f20">–5 kb</text><text stroke="#231f20" stroke-width="0.18" x="329.75" y="470.2" font-size="7" text-anchor="middle" fill="#231f20">TSS</text><text stroke="#231f20" stroke-width="0.18" x="361" y="470.2" font-size="7" text-anchor="middle" fill="#231f20">+5 kb</text><path d="M298.5 453.88L298.95 454.62L299.39 453.36L299.84 453.11L300.29 454.1L300.73 453.25L301.18 453.93L301.62 452.79L302.07 452.69L302.52 452.93L302.96 451.71L303.41 452.21L303.86 450.98L304.3 452.54L304.75 451.47L305.2 451.92L305.64 450.75L306.09 450.53L306.54 450.3L306.98 449.11L307.43 448.09L307.88 448.89L308.32 448.77L308.77 446.99L309.21 448.15L309.66 447.37L310.11 446.51L310.55 447.15L311 447.88L311.45 447.23L311.89 448.01L312.34 447.48L312.79 448.22L313.23 449.43L313.68 448.6L314.12 449.95L314.57 448.41L315.02 449.51L315.46 448.76L315.91 448.28L316.36 448.52L316.8 450.11L317.25 450.52L317.7 449.21L318.14 448.11L318.59 448.66L319.04 446.59L319.48 447.81L319.93 445.67L320.38 445.08L320.82 444.56L321.27 443.88L321.71 442.69L322.16 443.78L322.61 442.44L323.05 441.9L323.5 440.62L323.95 438.67L324.39 438.83L324.84 438.12L325.29 436.6L325.73 434.55L326.18 434.3L326.62 434.1L327.07 432.08L327.52 430.53L327.96 430.22L328.41 427.78L328.86 428.27L329.3 429.84L329.75 429.21L330.2 429.44L330.64 425.25L331.09 418.17L331.54 411.88L331.98 412.39L332.43 411.98L332.88 410.01L333.32 409.72L333.77 409.53L334.21 409.51L334.66 408.73L335.11 409.67L335.55 410.06L336 409.69L336.45 410.44L336.89 409.8L337.34 409.97L337.79 409.23L338.23 410.3L338.68 409.54L339.12 410.44L339.57 409.3L340.02 411.11L340.46 410.6L340.91 411.19L341.36 411.72L341.8 410.4L342.25 410.91L342.7 411.01L343.14 416.17L343.59 418.73L344.04 421.48L344.48 419.87L344.93 420.1L345.38 420.1L345.82 421.67L346.27 421.88L346.71 421.14L347.16 421.6L347.61 425.47L348.05 433.43L348.5 438.72L348.95 439.33L349.39 441.8L349.84 440.92L350.29 441.7L350.73 442.52L351.18 443L351.62 444.41L352.07 444.43L352.52 444.88L352.96 444.04L353.41 445.09L353.86 444.7L354.3 444.84L354.75 445.24L355.2 445.67L355.64 444.62L356.09 445.1L356.54 443.06L356.98 444.05L357.43 441.54L357.88 440.55L358.32 438.84L358.77 435.09L359.21 435.81L359.66 435.95L360.11 436.57L360.55 437.81L361 439.3" fill="none" stroke="#1b1b8f" stroke-width="2.3" stroke-linejoin="round"/><path d="M298.5 454.02L298.95 453.62L299.39 452.75L299.84 455.13L300.29 451.91L300.73 452.31L301.18 452.28L301.62 451.82L302.07 454.18L302.52 452.97L302.96 454.05L303.41 452.89L303.86 452.54L304.3 451.2L304.75 452.6L305.2 451.05L305.64 451.79L306.09 450.27L306.54 449.4L306.98 448.84L307.43 449.93L307.88 447.8L308.32 448.95L308.77 449.62L309.21 447.91L309.66 446.13L310.11 447.97L310.55 447.7L311 445.98L311.45 447.17L311.89 448.8L312.34 449.43L312.79 447.41L313.23 447.32L313.68 449.69L314.12 449.49L314.57 447.41L315.02 449.92L315.46 449.1L315.91 449.75L316.36 451.4L316.8 451.31L317.25 447.57L317.7 449.26L318.14 448.84L318.59 447.07L319.04 445.53L319.48 447.49L319.93 445.4L320.38 444.71L320.82 446.34L321.27 445.93L321.71 443.14L322.16 444.78L322.61 440.6L323.05 440.34L323.5 439.08L323.95 440.4L324.39 437.95L324.84 436.25L325.29 434.85L325.73 435.56L326.18 436.19L326.62 433.45L327.07 433.32L327.52 432.6L327.96 428.56L328.41 430.21L328.86 428.93L329.3 427.65L329.75 428.9L330.2 428.81L330.64 425.89L331.09 416.62L331.54 411.2L331.98 412.72L332.43 413.19L332.88 411.4L333.32 409.79L333.77 410.8L334.21 407.23L334.66 407.89L335.11 409.2L335.55 410.4L336 410.2L336.45 410.76L336.89 408.65L337.34 411.62L337.79 408.79L338.23 411.24L338.68 411.81L339.12 409.38L339.57 410.41L340.02 410.69L340.46 412.15L340.91 410.86L341.36 409.66L341.8 412.71L342.25 411.48L342.7 412.23L343.14 414.81L343.59 420.45L344.04 420.12L344.48 420.49L344.93 420.57L345.38 420.38L345.82 420.28L346.27 421.97L346.71 420.72L347.16 422.9L347.61 425.39L348.05 431.36L348.5 439.43L348.95 438.95L349.39 440.98L349.84 441.61L350.29 444.04L350.73 443.51L351.18 442.16L351.62 443.22L352.07 445.32L352.52 444.01L352.96 443.04L353.41 446.78L353.86 446.97L354.3 447.17L354.75 444.09L355.2 443.97L355.64 444.65L356.09 445.22L356.54 443.93L356.98 443.86L357.43 442.62L357.88 438.58L358.32 439.66L358.77 434.34L359.21 435.64L359.66 437.6L360.11 435.8L360.55 437.62L361 436.39" fill="none" stroke="#1b1b8f" stroke-width="1.0" stroke-linejoin="round"/><path d="M298.5 447.51L298.95 445.9L299.39 446.5L299.84 446.87L300.29 445.88L300.73 445.28L301.18 446.61L301.62 445.03L302.07 447.02L302.52 445.63L302.96 446.73L303.41 446.62L303.86 444.98L304.3 446.16L304.75 446.16L305.2 444.96L305.64 445.22L306.09 444.74L306.54 445.33L306.98 443.48L307.43 444.31L307.88 444.91L308.32 444.13L308.77 443.65L309.21 443.04L309.66 443.79L310.11 443.95L310.55 443.35L311 444.07L311.45 443.68L311.89 444.52L312.34 443.2L312.79 444.1L313.23 443.55L313.68 443L314.12 443.22L314.57 441.65L315.02 443.07L315.46 442.65L315.91 441.66L316.36 441.86L316.8 440.98L317.25 442.42L317.7 440.89L318.14 440.58L318.59 440.04L319.04 440.13L319.48 441.17L319.93 439.26L320.38 439.65L320.82 440.08L321.27 438.29L321.71 437.26L322.16 438.17L322.61 437.25L323.05 436.3L323.5 434.96L323.95 433.21L324.39 432.45L324.84 431.62L325.29 432.97L325.73 431.05L326.18 432.66L326.62 430.69L327.07 430.85L327.52 429.74L327.96 430.11L328.41 429.23L328.86 429.53L329.3 428.66L329.75 428.25L330.2 426.79L330.64 427.67L331.09 426.37L331.54 424.5L331.98 424.11L332.43 423.86L332.88 424.72L333.32 424.07L333.77 425.39L334.21 426.19L334.66 425.48L335.11 426.78L335.55 425.81L336 427.18L336.45 425.65L336.89 425.85L337.34 426.51L337.79 427.49L338.23 425.96L338.68 426.51L339.12 426.68L339.57 426.84L340.02 426.13L340.46 427.42L340.91 426.68L341.36 428.65L341.8 427.71L342.25 428.1L342.7 429.46L343.14 429.3L343.59 429.61L344.04 429.27L344.48 428.95L344.93 430.79L345.38 430.64L345.82 431.63L346.27 431.38L346.71 433.5L347.16 434.27L347.61 434.39L348.05 433.29L348.5 435.48L348.95 434.65L349.39 435.23L349.84 436.07L350.29 436.88L350.73 438.19L351.18 437.24L351.62 437.39L352.07 439.17L352.52 439.08L352.96 438.98L353.41 436.86L353.86 438.23L354.3 437.53L354.75 437.03L355.2 437.08L355.64 436.95L356.09 436.24L356.54 435.76L356.98 436.24L357.43 435.83L357.88 435.93L358.32 435.87L358.77 434.11L359.21 433.79L359.66 434.86L360.11 435.05L360.55 432.75L361 434.57" fill="none" stroke="#8ff08f" stroke-width="2.3" stroke-linejoin="round"/><path d="M298.5 445.66L298.95 445.7L299.39 446.54L299.84 448.29L300.29 445.37L300.73 445.88L301.18 444.7L301.62 446.77L302.07 444.13L302.52 447.18L302.96 444.73L303.41 445.34L303.86 443.89L304.3 444.92L304.75 446.31L305.2 443.93L305.64 443.65L306.09 446.35L306.54 444.29L306.98 444.62L307.43 445.79L307.88 445.09L308.32 442.7L308.77 443.47L309.21 445.81L309.66 443.97L310.11 444.23L310.55 442.58L311 444.27L311.45 445.16L311.89 443.23L312.34 444.54L312.79 441.75L313.23 441.88L313.68 444.7L314.12 443.14L314.57 443.19L315.02 442.73L315.46 443.87L315.91 440.16L316.36 442.03L316.8 441.51L317.25 443.03L317.7 440.47L318.14 441.53L318.59 442.44L319.04 438.54L319.48 438.94L319.93 441.68L320.38 439.22L320.82 438.65L321.27 439.71L321.71 436.88L322.16 436.93L322.61 437.03L323.05 434.86L323.5 433.07L323.95 433.09L324.39 434.67L324.84 434.14L325.29 433.31L325.73 430.02L326.18 429.72L326.62 430.4L327.07 430.41L327.52 431.48L327.96 431.26L328.41 431.08L328.86 430.37L329.3 426.83L329.75 429.21L330.2 428.61L330.64 427.81L331.09 424.27L331.54 425.52L331.98 423.66L332.43 422.77L332.88 423.93L333.32 423.01L333.77 426.62L334.21 423.35L334.66 424.86L335.11 427.28L335.55 424.15L336 427.87L336.45 425.58L336.89 425.04L337.34 427.9L337.79 426.37L338.23 426.75L338.68 425.67L339.12 425.28L339.57 428.46L340.02 427.84L340.46 427.26L340.91 425.86L341.36 429L341.8 429.76L342.25 427.95L342.7 428.55L343.14 427.8L343.59 428.52L344.04 428.4L344.48 431.07L344.93 431.79L345.38 432.09L345.82 430.17L346.27 432.57L346.71 432.81L347.16 432.2L347.61 434.79L348.05 433.39L348.5 434.38L348.95 435.1L349.39 434.2L349.84 436.29L350.29 439.15L350.73 437.49L351.18 438.43L351.62 439.23L352.07 437.53L352.52 438.56L352.96 439.08L353.41 437.45L353.86 438.97L354.3 436.98L354.75 436.19L355.2 438.55L355.64 437.15L356.09 435.33L356.54 434.38L356.98 437.59L357.43 435.72L357.88 434.64L358.32 434.51L358.77 435.98L359.21 435.69L359.66 432.82L360.11 435.94L360.55 434.29L361 432.67" fill="none" stroke="#8ff08f" stroke-width="1.0" stroke-linejoin="round"/><text stroke="#231f20" stroke-width="0.18" x="300" y="403.4" font-size="8.5" fill="#231f20">ATF4 on <tspan font-style="italic">Polg</tspan> KO</text><text stroke="#000" stroke-width="0.18" x="281.8" y="402.4" font-size="12" text-anchor="start" fill="#000" font-weight="bold">e</text><text stroke="#231f20" stroke-width="0.18" x="369.8" y="452.6" font-size="7.5" text-anchor="start" fill="#231f20" transform="rotate(-90 369.8 452.6)">Overlap genes</text><text stroke="#231f20" stroke-width="0.18" x="377.2" y="452.6" font-size="7" text-anchor="start" fill="#231f20" transform="rotate(-90 377.2 452.6)">All DEGs</text><rect x="365.3" y="456.2" width="3.3" height="4.6" fill="#1b1b8f"/><rect x="373" y="456.2" width="3.3" height="4.6" fill="#8ff08f"/><g filter="url(#hblur)"><rect x="41" y="476.3" width="63.6" height="103.7" fill="#f46d43"/><path d="M41 476.3h8v1.4h-8zM53.3 478.5h13v1.4h-13zM100.3 480.7h4.3v1.4h-4.3zM41 485h3.9v1.4h-3.9zM61.4 491.6h13.4v1.4h-13.4zM95.6 494.9h6.5v1.4h-6.5zM96.6 499.2h8v1.4h-8zM73.5 505.8h7.1v1.4h-7.1zM61.9 511.2h4.6v1.4h-4.6zM41 513.4h8.7v1.4h-8.7zM76.7 518.9h4.6v1.4h-4.6zM90 518.9h12.2v1.4h-12.2zM82.7 524.3h4.4v1.4h-4.4zM48.1 527.6h5.5v1.4h-5.5zM52.4 533.1h7v1.4h-7zM71.3 546.2h5v1.4h-5zM41 548.3h13.8v1.4h-13.8zM54.9 552.7h12.5v1.4h-12.5z" fill="#f0f9dc"/><path d="M49 476.3h8.1v1.4h-8.1zM57.1 476.3h5v1.4h-5zM48.8 477.4h10v1.4h-10zM89.2 483.9h12.5v1.4h-12.5zM101.7 483.9h2.9v1.4h-2.9zM52 488.3h7.9v1.4h-7.9zM78.8 491.6h6.2v1.4h-6.2zM88.7 498.1h9.9v1.4h-9.9zM93.5 499.2h3.1v1.4h-3.1zM41 500.3h10.3v1.4h-10.3zM75.9 501.4h4.9v1.4h-4.9zM84.4 501.4h7.6v1.4h-7.6zM92.1 501.4h7v1.4h-7zM55.3 523.2h12.9v1.4h-12.9zM66.1 545.1h6.1v1.4h-6.1zM45.3 546.2h9.2v1.4h-9.2zM98 556h6.6v1.4h-6.6zM63 564.7h13.6v1.4h-13.6zM76.6 564.7h7.1v1.4h-7.1zM51.6 569.1h11.2v1.4h-11.2zM83.5 569.1h12.3v1.4h-12.3zM101.4 578.9h3.2v1.4h-3.2z" fill="#fef0a8"/><path d="M62.1 476.3h11.7v1.4h-11.7zM99.5 485h5.1v1.4h-5.1zM56.2 508h12.8v1.4h-12.8zM69.8 530.9h5.6v1.4h-5.6zM69.2 533.1h10.1v1.4h-10.1zM78.1 535.2h9.5v1.4h-9.5zM64.9 536.3h5.5v1.4h-5.5zM65.2 538.5h5.8v1.4h-5.8zM73.8 540.7h13.7v1.4h-13.7zM69.1 541.8h5.6v1.4h-5.6zM88.1 548.3h6.5v1.4h-6.5zM41 554.9h4.1v1.4h-4.1zM92.6 554.9h7.7v1.4h-7.7zM63.8 562.5h3.3v1.4h-3.3z" fill="#90c3dd"/><path d="M73.9 476.3h4v1.4h-4zM66.9 477.4h14v1.4h-14zM67.4 481.8h5.8v1.4h-5.8zM102 486.1h2.6v1.4h-2.6zM50.4 491.6h11v1.4h-11zM84.9 491.6h8.8v1.4h-8.8zM41 498.1h8.7v1.4h-8.7zM86 500.3h3.3v1.4h-3.3zM83.3 508h11.8v1.4h-11.8zM83.7 513.4h12.6v1.4h-12.6zM64.3 520h4.5v1.4h-4.5zM69.6 551.6h7.9v1.4h-7.9zM41 558.2h13.5v1.4h-13.5zM96.2 559.3h8.4v1.4h-8.4zM55.9 570.2h12.1v1.4h-12.1zM46.9 577.8h8.8v1.4h-8.8z" fill="#ca2427"/><path d="M77.8 476.3h3.5v1.4h-3.5zM82.8 482.8h10.7v1.4h-10.7zM73.4 489.4h9.9v1.4h-9.9zM88.1 490.5h11.5v1.4h-11.5zM64 492.7h8.5v1.4h-8.5zM89.2 500.3h5.8v1.4h-5.8zM45.3 503.6h8v1.4h-8zM81.8 503.6h8.8v1.4h-8.8zM41 509h12.7v1.4h-12.7zM92.9 510.1h11.7v1.4h-11.7zM91.2 512.3h8.3v1.4h-8.3zM66 515.6h12.1v1.4h-12.1zM85.3 515.6h9.2v1.4h-9.2zM80.9 517.8h6.6v1.4h-6.6zM87.5 517.8h7.4v1.4h-7.4zM83.2 523.2h8.5v1.4h-8.5zM97.9 525.4h6.7v1.4h-6.7zM49.7 529.8h4.8v1.4h-4.8zM51.3 536.3h6.1v1.4h-6.1zM41 539.6h7v1.4h-7zM41 544h5.5v1.4h-5.5zM77.3 544h13.3v1.4h-13.3zM60.6 546.2h7v1.4h-7zM62.3 548.3h3.3v1.4h-3.3zM62.6 559.3h6.5v1.4h-6.5zM68.4 563.6h7.7v1.4h-7.7zM99.8 573.5h4.8v1.4h-4.8zM41 574.5h6.4v1.4h-6.4zM56.2 575.6h13.7v1.4h-13.7z" fill="#fb9e5a"/><path d="M81.3 476.3h9.8v1.4h-9.8zM46.2 481.8h7.6v1.4h-7.6zM95.6 481.8h9v1.4h-9zM41 482.8h6v1.4h-6zM70.1 482.8h9.4v1.4h-9.4zM76.4 487.2h8v1.4h-8zM49.7 513.4h10.2v1.4h-10.2zM41 525.4h9.4v1.4h-9.4zM86.1 532h7.7v1.4h-7.7zM70.4 536.3h5.4v1.4h-5.4zM44.4 576.7h13.5v1.4h-13.5z" fill="#c6e6f0"/><path d="M91.1 476.3h8.8v1.4h-8.8zM41 478.5h12.3v1.4h-12.3zM74.8 480.7h12.5v1.4h-12.5zM41 486.1h10.5v1.4h-10.5zM41 487.2h13.5v1.4h-13.5zM54.5 487.2h8v1.4h-8zM61.2 493.8h8.2v1.4h-8.2zM58.9 494.9h8.8v1.4h-8.8zM60.8 498.1h7.5v1.4h-7.5zM66.5 511.2h7.1v1.4h-7.1zM53.5 516.7h10.3v1.4h-10.3zM41 521.1h3.8v1.4h-3.8zM80.1 521.1h11.8v1.4h-11.8zM46.4 534.2h9v1.4h-9zM72.5 535.2h5.6v1.4h-5.6zM41 536.3h10.3v1.4h-10.3zM51.7 560.4h11.2v1.4h-11.2z" fill="#abd9e9"/><path d="M99.9 476.3h4.7v1.4h-4.7zM51.6 480.7h9.6v1.4h-9.6zM95.5 486.1h6.5v1.4h-6.5zM41 488.3h3.2v1.4h-3.2zM71.8 488.3h10.5v1.4h-10.5zM82.4 488.3h5v1.4h-5zM62.5 489.4h10.9v1.4h-10.9zM45.9 491.6h4.5v1.4h-4.5zM95 511.2h5v1.4h-5zM67.7 518.9h9v1.4h-9zM50.4 525.4h12.9v1.4h-12.9zM41 528.7h13.9v1.4h-13.9zM99.5 529.8h5.1v1.4h-5.1zM48.5 532h13.7v1.4h-13.7zM75.2 537.4h4.7v1.4h-4.7zM48.3 538.5h7.4v1.4h-7.4zM83.8 538.5h10.3v1.4h-10.3zM83.4 541.8h10.8v1.4h-10.8zM77.5 551.6h13.2v1.4h-13.2zM58.5 561.4h4.4v1.4h-4.4zM69.9 575.6h13.3v1.4h-13.3z" fill="#74add1"/><path d="M41 477.4h7.8v1.4h-7.8zM87.3 480.7h13v1.4h-13zM44.2 488.3h3.3v1.4h-3.3zM71.9 502.5h3.8v1.4h-3.8zM79.1 506.9h6.9v1.4h-6.9zM89.6 514.5h5.3v1.4h-5.3zM78.1 515.6h7.1v1.4h-7.1zM96.7 524.3h7.9v1.4h-7.9zM84.7 528.7h11.6v1.4h-11.6zM41 530.9h7.8v1.4h-7.8zM65.4 539.6h12.1v1.4h-12.1zM60 553.8h11.7v1.4h-11.7zM54.4 559.3h8.2v1.4h-8.2zM60.6 563.6h7.7v1.4h-7.7zM91.6 566.9h7.2v1.4h-7.2zM41 575.6h4.5v1.4h-4.5z" fill="#be1826"/><path d="M58.9 477.4h8v1.4h-8zM87.7 479.6h10.1v1.4h-10.1zM57.2 504.7h5.1v1.4h-5.1z" fill="#36469d"/><path d="M80.9 477.4h6.5v1.4h-6.5zM91.9 478.5h12.7v1.4h-12.7zM87.3 488.3h10.9v1.4h-10.9zM79.2 493.8h3.3v1.4h-3.3zM41 495.9h12.8v1.4h-12.8zM41 502.5h6.3v1.4h-6.3zM62.1 503.6h10.3v1.4h-10.3zM56.9 512.3h5.5v1.4h-5.5zM79 513.4h4.7v1.4h-4.7zM76.6 525.4h8.2v1.4h-8.2zM73.9 534.2h10.6v1.4h-10.6zM84.5 534.2h3.2v1.4h-3.2zM68.6 537.4h6.6v1.4h-6.6zM57.9 539.6h7.5v1.4h-7.5zM90.5 544h4.3v1.4h-4.3zM80.8 562.5h7.6v1.4h-7.6zM101.8 564.7h2.8v1.4h-2.8zM63.7 577.8h4.9v1.4h-4.9z" fill="#9dcee3"/><path d="M87.3 477.4h3.8v1.4h-3.8zM44.9 485h12.7v1.4h-12.7zM41 489.4h9.8v1.4h-9.8zM72.5 492.7h13.7v1.4h-13.7zM82.5 493.8h10.6v1.4h-10.6zM51.3 500.3h9.3v1.4h-9.3zM87.2 505.8h13.1v1.4h-13.1zM47.2 516.7h6.3v1.4h-6.3zM74.9 516.7h9.2v1.4h-9.2zM100.2 516.7h4.4v1.4h-4.4zM69.4 517.8h11.4v1.4h-11.4zM41 518.9h3.2v1.4h-3.2zM91.9 521.1h8.1v1.4h-8.1zM95.1 534.2h9.5v1.4h-9.5zM55.8 538.5h9.4v1.4h-9.4zM90.5 539.6h8.6v1.4h-8.6zM54.6 541.8h8.4v1.4h-8.4zM63.3 542.9h5.8v1.4h-5.8zM69.7 544h7.6v1.4h-7.6zM65.5 548.3h5.5v1.4h-5.5zM94.9 553.8h9.7v1.4h-9.7zM69.3 558.2h5.8v1.4h-5.8zM91.2 558.2h4v1.4h-4zM49.5 563.6h11.1v1.4h-11.1zM55.6 578.9h13.9v1.4h-13.9z" fill="#fed484"/><path d="M91.1 477.4h13.5v1.4h-13.5zM65.2 479.6h5.3v1.4h-5.3zM73.6 511.2h7.7v1.4h-7.7zM63.8 516.7h11v1.4h-11zM54.9 528.7h11.3v1.4h-11.3zM48.8 530.9h11.8v1.4h-11.8zM41 566.9h10v1.4h-10zM98.2 572.4h6.4v1.4h-6.4zM76.2 573.5h13.4v1.4h-13.4zM89.6 573.5h10.2v1.4h-10.2z" fill="#3b56a4"/><path d="M66.3 478.5h7.4v1.4h-7.4zM64.4 486.1h12.8v1.4h-12.8zM47.5 488.3h4.5v1.4h-4.5zM60.7 506.9h3.8v1.4h-3.8zM83.6 509h12.9v1.4h-12.9zM61.7 517.8h7.7v1.4h-7.7zM58.7 521.1h10.2v1.4h-10.2zM53.6 527.6h10.3v1.4h-10.3zM74.6 528.7h10.1v1.4h-10.1zM75.4 530.9h3.5v1.4h-3.5zM60.9 551.6h8.7v1.4h-8.7zM41 559.3h13.4v1.4h-13.4zM82.5 565.8h11.4v1.4h-11.4z" fill="#5c91c2"/><path d="M73.7 478.5h11.6v1.4h-11.6zM41 480.7h6.6v1.4h-6.6zM53.8 495.9h11v1.4h-11zM68.5 506.9h10.6v1.4h-10.6zM81.3 511.2h3.7v1.4h-3.7zM84 516.7h12.1v1.4h-12.1zM68.7 534.2h5.3v1.4h-5.3zM77.5 539.6h13v1.4h-13zM79.7 541.8h3.7v1.4h-3.7z" fill="#b8e0ed"/><path d="M85.3 478.5h6.7v1.4h-6.7zM98 492.7h3.7v1.4h-3.7zM49.2 493.8h12v1.4h-12zM41 501.4h13.6v1.4h-13.6zM50.7 502.5h7.3v1.4h-7.3zM58 502.5h13.9v1.4h-13.9zM75.7 502.5h8.3v1.4h-8.3zM41 508h7.8v1.4h-7.8zM46 512.3h10.9v1.4h-10.9zM41 515.6h6.4v1.4h-6.4zM94.9 517.8h9.7v1.4h-9.7zM41 520h5.7v1.4h-5.7zM95.3 520h6.2v1.4h-6.2zM41 523.2h7.8v1.4h-7.8zM91.8 523.2h10.6v1.4h-10.6zM59.4 526.5h6.4v1.4h-6.4zM78.4 526.5h10.7v1.4h-10.7zM99.7 526.5h4.9v1.4h-4.9zM96.5 530.9h8.1v1.4h-8.1zM62.2 532h11.4v1.4h-11.4zM93.8 532h10.8v1.4h-10.8zM93.5 537.4h11.1v1.4h-11.1zM94.1 538.5h10.5v1.4h-10.5zM41 540.7h5.5v1.4h-5.5zM100.2 540.7h4.4v1.4h-4.4zM45.8 542.9h5.8v1.4h-5.8zM67.6 546.2h3.7v1.4h-3.7zM76.3 546.2h5.2v1.4h-5.2zM53.5 547.3h7.9v1.4h-7.9zM54.8 548.3h7.4v1.4h-7.4zM82.7 549.4h6.5v1.4h-6.5zM94.6 552.7h3.7v1.4h-3.7zM41 553.8h8.9v1.4h-8.9zM57.6 554.9h7.3v1.4h-7.3zM57.2 557.1h6.8v1.4h-6.8zM86.1 559.3h10.1v1.4h-10.1zM41 560.4h5.4v1.4h-5.4zM41 561.4h8.9v1.4h-8.9zM62.9 561.4h6.2v1.4h-6.2zM90.7 561.4h9.7v1.4h-9.7zM41 562.5h12v1.4h-12zM67.2 562.5h13.6v1.4h-13.6zM62.3 566.9h7.6v1.4h-7.6zM44.8 568h10.3v1.4h-10.3zM55.1 568h6.4v1.4h-6.4zM61.5 568h9.2v1.4h-9.2zM91.7 568h12.9v1.4h-12.9zM41 569.1h10.6v1.4h-10.6zM52 572.4h3.2v1.4h-3.2zM47.4 574.5h3.7v1.4h-3.7zM51.1 574.5h9.3v1.4h-9.3zM60.4 574.5h10.5v1.4h-10.5zM92.7 575.6h9.7v1.4h-9.7zM102.5 575.6h2.1v1.4h-2.1zM70 576.7h11.3v1.4h-11.3z" fill="#f46d43"/><path d="M41 479.6h4.1v1.4h-4.1zM97.8 479.6h6.8v1.4h-6.8zM68.6 485h12.2v1.4h-12.2zM77.2 486.1h5.2v1.4h-5.2zM97 487.2h7.6v1.4h-7.6zM99.6 490.5h5v1.4h-5zM41 491.6h4.9v1.4h-4.9zM64.8 495.9h12.2v1.4h-12.2zM47.3 502.5h3.5v1.4h-3.5zM72.4 503.6h9.4v1.4h-9.4zM52.2 505.8h3.8v1.4h-3.8zM65.9 505.8h7.7v1.4h-7.7zM50.2 506.9h10.5v1.4h-10.5zM59.9 513.4h8.2v1.4h-8.2zM69.8 524.3h12.9v1.4h-12.9zM73 560.4h11.2v1.4h-11.2zM54.5 571.3h11.9v1.4h-11.9zM71.7 571.3h9.7v1.4h-9.7zM81.3 576.7h3v1.4h-3zM98.1 576.7h6.5v1.4h-6.5zM82.5 578.9h7.3v1.4h-7.3z" fill="#4575b4"/><path d="M45.1 479.6h5v1.4h-5zM57.6 485h11.1v1.4h-11.1zM80.9 485h3.3v1.4h-3.3zM51.5 486.1h13v1.4h-13zM51.1 494.9h7.8v1.4h-7.8zM89.7 499.2h3.8v1.4h-3.8zM67.3 512.3h9v1.4h-9zM52.6 514.5h4.1v1.4h-4.1zM70.2 514.5h6.3v1.4h-6.3zM46.7 520h13.2v1.4h-13.2zM62.4 522.1h11.3v1.4h-11.3zM87.7 522.1h12.4v1.4h-12.4zM84.8 537.4h4v1.4h-4zM75.8 542.9h12.1v1.4h-12.1zM97.3 545.1h7.3v1.4h-7.3zM54.5 546.2h6v1.4h-6zM99.2 557.1h5.4v1.4h-5.4zM54.5 558.2h10.4v1.4h-10.4zM69.1 561.4h3.6v1.4h-3.6zM55.2 572.4h5.8v1.4h-5.8zM49.9 578.9h5.7v1.4h-5.7z" fill="#fee090"/><path d="M50.1 479.6h5.1v1.4h-5.1zM50.8 489.4h11.7v1.4h-11.7zM41 497h10.5v1.4h-10.5zM95 500.3h5.1v1.4h-5.1zM99.6 514.5h5v1.4h-5zM102.2 518.9h2.4v1.4h-2.4zM102.4 523.2h2.2v1.4h-2.2zM65.8 526.5h12.6v1.4h-12.6zM41 538.5h7.3v1.4h-7.3zM74.8 541.8h5v1.4h-5zM92.6 545.1h4.6v1.4h-4.6zM41 547.3h12.5v1.4h-12.5zM61.4 547.3h3.3v1.4h-3.3zM50 549.4h5v1.4h-5zM64.9 554.9h9.8v1.4h-9.8zM51.5 556h8.1v1.4h-8.1zM46.6 570.2h9.3v1.4h-9.3z" fill="#fdae61"/><path d="M55.2 479.6h10.1v1.4h-10.1zM41 493.8h8.2v1.4h-8.2zM53.3 503.6h8.8v1.4h-8.8zM75.3 504.7h3.7v1.4h-3.7zM69.1 508h7v1.4h-7zM47.4 515.6h10.6v1.4h-10.6zM53.2 517.8h4.7v1.4h-4.7zM44.2 518.9h10.2v1.4h-10.2zM79.5 523.2h3.8v1.4h-3.8zM59.4 533.1h9.7v1.4h-9.7zM56.6 535.2h3.2v1.4h-3.2zM63.8 535.2h8.7v1.4h-8.7zM51.3 537.4h10v1.4h-10zM61.3 537.4h7.3v1.4h-7.3zM41 564.7h8.4v1.4h-8.4z" fill="#82b8d7"/><path d="M70.6 479.6h11.8v1.4h-11.8zM82.4 479.6h5.3v1.4h-5.3zM51.9 482.8h4.4v1.4h-4.4zM93.7 491.6h6.4v1.4h-6.4zM100.1 491.6h4.5v1.4h-4.5zM64.4 497h5v1.4h-5zM68.3 498.1h8.6v1.4h-8.6zM90.7 503.6h5.6v1.4h-5.6zM76.5 514.5h13.1v1.4h-13.1zM90.1 524.3h6.6v1.4h-6.6zM45.9 526.5h10v1.4h-10zM78.2 532h3.4v1.4h-3.4zM57.4 536.3h7.5v1.4h-7.5zM69.2 549.4h13.5v1.4h-13.5zM84.1 550.5h9.2v1.4h-9.2z" fill="#4065ac"/><path d="M47.6 480.7h4v1.4h-4zM83.2 481.8h12.4v1.4h-12.4zM93.5 482.8h8.3v1.4h-8.3zM41 512.3h5v1.4h-5zM62.4 512.3h4.9v1.4h-4.9zM68.8 520h9.2v1.4h-9.2zM87.1 524.3h3v1.4h-3zM94.5 526.5h5.2v1.4h-5.2zM75.8 527.6h3.5v1.4h-3.5zM85 527.6h11.3v1.4h-11.3zM60.1 529.8h11.7v1.4h-11.7zM81.6 532h4.6v1.4h-4.6zM55.4 534.2h5.4v1.4h-5.4zM80 537.4h4.8v1.4h-4.8zM71 538.5h12.8v1.4h-12.8zM46.5 540.7h9v1.4h-9zM86.9 556h11.1v1.4h-11.1zM97.3 563.6h4.1v1.4h-4.1zM58.3 565.8h12.1v1.4h-12.1zM41 572.4h11v1.4h-11zM61 572.4h6v1.4h-6zM92.9 577.8h5v1.4h-5z" fill="#fec778"/><path d="M61.2 480.7h13.6v1.4h-13.6zM84.2 485h5.5v1.4h-5.5zM62.4 487.2h7.6v1.4h-7.6zM98.2 488.3h6.4v1.4h-6.4zM45.4 494.9h5.8v1.4h-5.8zM67.7 494.9h9.9v1.4h-9.9zM53.7 509h8.7v1.4h-8.7zM96.2 513.4h8.4v1.4h-8.4zM41 516.7h6.2v1.4h-6.2zM101.5 520h3.1v1.4h-3.1zM100 521.1h4.6v1.4h-4.6zM64.3 524.3h5.4v1.4h-5.4zM55.5 540.7h8.4v1.4h-8.4zM63 541.8h6.1v1.4h-6.1zM61.8 549.4h7.4v1.4h-7.4zM53 562.5h10.8v1.4h-10.8zM83.6 564.7h9.5v1.4h-9.5zM74.8 569.1h8.7v1.4h-8.7zM66.3 571.3h5.4v1.4h-5.4zM74.7 574.5h8.8v1.4h-8.8zM76.9 577.8h10.2v1.4h-10.2z" fill="#fee89c"/><path d="M41 481.8h5.2v1.4h-5.2zM89.7 485h9.8v1.4h-9.8zM59.9 488.3h11.9v1.4h-11.9zM77.7 490.5h6.5v1.4h-6.5zM69.4 493.8h9.8v1.4h-9.8zM41 494.9h4.4v1.4h-4.4zM84.5 495.9h13v1.4h-13zM74.6 500.3h11.4v1.4h-11.4zM80.8 501.4h3.6v1.4h-3.6zM84 502.5h13.3v1.4h-13.3zM41 505.8h11.2v1.4h-11.2zM48.8 508h7.4v1.4h-7.4zM82.6 510.1h10.3v1.4h-10.3zM45.7 514.5h3v1.4h-3zM96.1 516.7h4v1.4h-4zM44.8 521.1h13.9v1.4h-13.9zM46.9 522.1h3.4v1.4h-3.4zM41 524.3h13v1.4h-13zM63.3 525.4h13.3v1.4h-13.3zM41 527.6h7.1v1.4h-7.1zM45.7 535.2h11v1.4h-11zM94.2 541.8h10.4v1.4h-10.4zM87.9 542.9h10.8v1.4h-10.8zM95.1 547.3h9.5v1.4h-9.5zM41 549.4h9v1.4h-9zM55 549.4h6.9v1.4h-6.9zM54.4 550.5h6.9v1.4h-6.9zM41 552.7h13.9v1.4h-13.9zM74.7 554.9h5.3v1.4h-5.3zM100.3 554.9h4.3v1.4h-4.3zM64.1 557.1h6.1v1.4h-6.1zM54.1 561.4h4.4v1.4h-4.4zM51 566.9h11.3v1.4h-11.3zM69.9 566.9h13.8v1.4h-13.8zM68 570.2h7.8v1.4h-7.8zM81.4 571.3h9.4v1.4h-9.4zM89.3 572.4h8.9v1.4h-8.9zM53.6 573.5h13.4v1.4h-13.4zM96.3 574.5h8.3v1.4h-8.3z" fill="#f88e52"/><path d="M53.8 481.8h13.6v1.4h-13.6zM73.2 481.8h6.2v1.4h-6.2zM63.2 483.9h13.1v1.4h-13.1zM84.4 487.2h12.6v1.4h-12.6zM93 493.8h11.6v1.4h-11.6zM76.9 495.9h4.4v1.4h-4.4zM81.3 495.9h3.2v1.4h-3.2zM88.9 504.7h3.8v1.4h-3.8zM64.6 506.9h3.9v1.4h-3.9zM79.7 509h3.9v1.4h-3.9zM63.4 510.1h8.4v1.4h-8.4zM48.8 523.2h6.5v1.4h-6.5zM55.8 526.5h3.6v1.4h-3.6zM73.6 532h4.6v1.4h-4.6zM56 544h13.7v1.4h-13.7z" fill="#5183bb"/><path d="M79.4 481.8h3.8v1.4h-3.8zM47 482.8h4.9v1.4h-4.9zM101.8 482.8h2.8v1.4h-2.8zM84.2 490.5h3.9v1.4h-3.9zM74.8 491.6h3.9v1.4h-3.9zM54.7 492.7h9.3v1.4h-9.3zM51.5 497h4.2v1.4h-4.2zM79 504.7h9.9v1.4h-9.9zM76.1 508h7.3v1.4h-7.3zM68.9 521.1h11.1v1.4h-11.1zM68.2 523.2h11.3v1.4h-11.3zM67.9 527.6h7.8v1.4h-7.8zM66.1 528.7h8.5v1.4h-8.5zM71.8 529.8h8.4v1.4h-8.4zM80.2 529.8h8.5v1.4h-8.5zM78.9 530.9h8.8v1.4h-8.8zM89.9 546.2h7.4v1.4h-7.4zM49.9 553.8h10.1v1.4h-10.1zM76.1 563.6h12.2v1.4h-12.2zM49.4 564.7h13.6v1.4h-13.6z" fill="#689fca"/><path d="M56.3 482.8h13.8v1.4h-13.8zM78.3 499.2h11.4v1.4h-11.4zM60.6 500.3h14v1.4h-14zM99.1 501.4h5.5v1.4h-5.5zM41 504.7h7v1.4h-7zM80.6 505.8h6.6v1.4h-6.6zM48.7 514.5h3.9v1.4h-3.9zM54.9 522.1h7.5v1.4h-7.5zM89.1 526.5h5.5v1.4h-5.5zM95.3 535.2h9.3v1.4h-9.3zM85.7 536.3h13.7v1.4h-13.7zM99.4 536.3h5.2v1.4h-5.2zM87.5 540.7h12.7v1.4h-12.7zM51.6 542.9h11.8v1.4h-11.8zM98.7 542.9h5.9v1.4h-5.9zM94.7 548.3h9.9v1.4h-9.9zM93.4 549.4h5.4v1.4h-5.4zM98.9 549.4h5.7v1.4h-5.7zM76.3 557.1h13.3v1.4h-13.3zM101.4 563.6h3.2v1.4h-3.2zM47 565.8h7.4v1.4h-7.4zM98.7 566.9h5.9v1.4h-5.9zM83.9 568h7.8v1.4h-7.8zM41 570.2h5.6v1.4h-5.6z" fill="#fff7b3"/><path d="M79.6 482.8h3.2v1.4h-3.2zM82.4 486.1h13.1v1.4h-13.1zM41 492.7h13.7v1.4h-13.7zM52.8 498.1h8v1.4h-8zM41 499.2h13v1.4h-13zM96.3 503.6h8.3v1.4h-8.3zM90.3 506.9h14.3v1.4h-14.3zM96.5 509h4.6v1.4h-4.6zM101.1 509h3.5v1.4h-3.5zM41 510.1h8.7v1.4h-8.7zM51 511.2h10.8v1.4h-10.8zM82.2 512.3h9v1.4h-9zM99.5 512.3h5.1v1.4h-5.1zM57.9 515.6h8.1v1.4h-8.1zM59.9 520h4.4v1.4h-4.4zM41 522.1h5.9v1.4h-5.9zM50.3 522.1h4.6v1.4h-4.6zM73.8 522.1h13.9v1.4h-13.9zM64 527.6h4v1.4h-4zM87.7 530.9h4v1.4h-4zM41 533.1h5.8v1.4h-5.8zM60.8 534.2h7.9v1.4h-7.9zM59.9 535.2h3.9v1.4h-3.9zM88.8 537.4h4.7v1.4h-4.7zM48 539.6h9.9v1.4h-9.9zM45.3 545.1h9v1.4h-9zM97.2 546.2h7.4v1.4h-7.4zM74.9 547.3h5.3v1.4h-5.3zM41 551.6h10.3v1.4h-10.3zM90.8 551.6h13.8v1.4h-13.8zM98.3 552.7h6.3v1.4h-6.3zM41 556h6.1v1.4h-6.1zM47.1 556h4.4v1.4h-4.4zM59.6 556h13.4v1.4h-13.4zM70.2 557.1h6.2v1.4h-6.2zM87.1 558.2h4.1v1.4h-4.1zM78.7 559.3h7.3v1.4h-7.3zM49.9 561.4h4.2v1.4h-4.2zM88.4 562.5h4.2v1.4h-4.2zM41 563.6h8.5v1.4h-8.5zM70.5 565.8h12v1.4h-12zM93.9 565.8h10.7v1.4h-10.7zM79.6 568h4.4v1.4h-4.4zM68 569.1h6.8v1.4h-6.8zM95.8 569.1h8.8v1.4h-8.8zM97.4 570.2h3.4v1.4h-3.4zM100.7 570.2h3.9v1.4h-3.9zM90.8 571.3h7v1.4h-7zM45.5 575.6h10.7v1.4h-10.7zM84.3 576.7h13.7v1.4h-13.7zM68.6 577.8h8.3v1.4h-8.3zM97.9 577.8h6.7v1.4h-6.7z" fill="#ed5e3c"/><path d="M41 483.9h11.1v1.4h-11.1zM51.1 490.5h12.9v1.4h-12.9zM101.7 492.7h2.9v1.4h-2.9zM90 494.9h5.6v1.4h-5.6zM97.5 495.9h7.1v1.4h-7.1zM69.4 497h13.9v1.4h-13.9zM96.8 497h7.8v1.4h-7.8zM49.7 498.1h3.1v1.4h-3.1zM98.6 498.1h6v1.4h-6zM72.4 501.4h3.5v1.4h-3.5zM97.3 502.5h7.3v1.4h-7.3zM101.7 504.7h2.9v1.4h-2.9zM100.3 505.8h4.3v1.4h-4.3zM41 506.9h9.2v1.4h-9.2zM49.7 510.1h13.7v1.4h-13.7zM84.9 511.2h10.1v1.4h-10.1zM100 511.2h4.6v1.4h-4.6zM76.3 512.3h5.9v1.4h-5.9zM41 514.5h4.7v1.4h-4.7zM94.5 515.6h10.1v1.4h-10.1zM41 517.8h12.2v1.4h-12.2zM57.9 517.8h3.8v1.4h-3.8zM54.4 518.9h8.6v1.4h-8.6zM77.9 520h13v1.4h-13zM84.8 525.4h13.1v1.4h-13.1zM41 526.5h4.9v1.4h-4.9zM79.3 527.6h5.8v1.4h-5.8zM96.3 528.7h8.3v1.4h-8.3zM41 529.8h8.7v1.4h-8.7zM88.7 529.8h10.9v1.4h-10.9zM41 537.4h10.3v1.4h-10.3zM41 541.8h13.6v1.4h-13.6zM41 542.9h4.8v1.4h-4.8zM94.8 544h9.8v1.4h-9.8zM54.3 545.1h11.8v1.4h-11.8zM83.6 545.1h9v1.4h-9zM66 550.5h5.3v1.4h-5.3zM51.3 551.6h9.6v1.4h-9.6zM75.8 552.7h10.1v1.4h-10.1zM71.6 553.8h11.8v1.4h-11.8zM45.1 554.9h12.5v1.4h-12.5zM80 554.9h12.6v1.4h-12.6zM73 556h13.9v1.4h-13.9zM48.7 557.1h8.6v1.4h-8.6zM46.4 560.4h5.3v1.4h-5.3zM62.9 560.4h10.1v1.4h-10.1zM84.2 560.4h11v1.4h-11zM95.2 560.4h3.2v1.4h-3.2zM98.4 560.4h6.2v1.4h-6.2zM81.9 561.4h4.1v1.4h-4.1zM100.5 561.4h4.1v1.4h-4.1zM93.1 564.7h8.7v1.4h-8.7zM54.4 565.8h3.9v1.4h-3.9zM83.7 566.9h7.8v1.4h-7.8zM70.7 568h8.9v1.4h-8.9zM75.7 570.2h9.2v1.4h-9.2zM41 571.3h13.5v1.4h-13.5zM67 572.4h8.6v1.4h-8.6zM75.6 572.4h4.8v1.4h-4.8zM41 577.8h5.9v1.4h-5.9zM87.1 577.8h5.8v1.4h-5.8z" fill="#f67d4a"/><path d="M52.1 483.9h11.1v1.4h-11.1zM102.2 489.4h2.4v1.4h-2.4zM64 490.5h13.8v1.4h-13.8zM83.3 497h13.5v1.4h-13.5zM65.6 499.2h12.7v1.4h-12.7zM54.6 501.4h13.9v1.4h-13.9zM68.6 501.4h3.8v1.4h-3.8zM95.1 508h9.5v1.4h-9.5zM62.4 509h13.6v1.4h-13.6zM76 509h3.7v1.4h-3.7zM54.5 529.8h5.6v1.4h-5.6zM60.6 530.9h9.3v1.4h-9.3zM75.7 536.3h9.9v1.4h-9.9zM63.9 540.7h9.9v1.4h-9.9zM81.5 546.2h8.3v1.4h-8.3zM64.7 547.3h3.8v1.4h-3.8zM80.2 547.3h3.1v1.4h-3.1zM41 568h3.8v1.4h-3.8zM84.9 570.2h8.4v1.4h-8.4zM41 578.9h8.9v1.4h-8.9zM89.8 578.9h11.6v1.4h-11.6z" fill="#ffffbf"/><path d="M76.3 483.9h12.9v1.4h-12.9zM90.4 489.4h11.8v1.4h-11.8zM86.2 492.7h11.8v1.4h-11.8zM100.2 500.3h4.4v1.4h-4.4zM41 503.6h4.3v1.4h-4.3zM48 504.7h9.2v1.4h-9.2zM92.6 504.7h9.1v1.4h-9.1zM71.8 510.1h10.8v1.4h-10.8zM41 511.2h10v1.4h-10zM94.9 514.5h4.7v1.4h-4.7zM81.3 518.9h8.7v1.4h-8.7zM90.9 520h4.3v1.4h-4.3zM100.1 522.1h4.5v1.4h-4.5zM54 524.3h10.3v1.4h-10.3zM98 533.1h6.6v1.4h-6.6zM41 535.2h4.7v1.4h-4.7zM46.5 544h9.4v1.4h-9.4zM72.2 545.1h11.4v1.4h-11.4zM71 548.3h10.2v1.4h-10.2zM61.4 550.5h4.6v1.4h-4.6zM71.3 550.5h12.8v1.4h-12.8zM93.3 550.5h11.3v1.4h-11.3zM41 557.1h7.7v1.4h-7.7zM64.9 558.2h4.5v1.4h-4.5zM75.1 558.2h12v1.4h-12zM95.2 558.2h9.4v1.4h-9.4zM86 561.4h4.7v1.4h-4.7zM92.6 562.5h6.6v1.4h-6.6zM80.4 572.4h9v1.4h-9zM41 573.5h7v1.4h-7zM48 573.5h5.6v1.4h-5.6zM83.5 574.5h5.2v1.4h-5.2zM83.2 575.6h9.5v1.4h-9.5zM57.9 576.7h12.1v1.4h-12.1z" fill="#e64e35"/><path d="M70 487.2h6.5v1.4h-6.5zM76.9 498.1h11.8v1.4h-11.8zM46.8 533.1h5.7v1.4h-5.7zM89.3 549.4h4.2v1.4h-4.2zM83.4 553.8h11.5v1.4h-11.5z" fill="#d73027"/><path d="M83.3 489.4h7.1v1.4h-7.1zM77.7 494.9h12.4v1.4h-12.4zM56.6 514.5h13.5v1.4h-13.5zM63 518.9h4.7v1.4h-4.7zM96.4 527.6h8.2v1.4h-8.2zM90 533.1h8.1v1.4h-8.1zM69.1 542.9h6.7v1.4h-6.7zM81.3 548.3h6.9v1.4h-6.9zM67.4 552.7h8.4v1.4h-8.4zM72.7 561.4h9.1v1.4h-9.1zM93.2 570.2h4.1v1.4h-4.1zM97.8 571.3h6.8v1.4h-6.8zM41 576.7h3.4v1.4h-3.4zM55.7 577.8h8v1.4h-8z" fill="#f7fccd"/><path d="M41 490.5h10.1v1.4h-10.1zM55.7 497h8.7v1.4h-8.7zM68.1 513.4h10.8v1.4h-10.8zM91.7 530.9h4.9v1.4h-4.9zM41 532h7.5v1.4h-7.5zM41 534.2h5.4v1.4h-5.4zM99.1 539.6h5.5v1.4h-5.5zM69.1 559.3h9.7v1.4h-9.7zM88.3 563.6h9v1.4h-9zM62.8 569.1h5.2v1.4h-5.2zM66.9 573.5h9.2v1.4h-9.2z" fill="#fdba6d"/><path d="M102.1 494.9h2.5v1.4h-2.5zM54 499.2h11.6v1.4h-11.6zM86.1 506.9h4.3v1.4h-4.3zM79.3 533.1h10.6v1.4h-10.6zM87.8 534.2h7.3v1.4h-7.3zM83.3 547.3h11.7v1.4h-11.7zM86 552.7h8.6v1.4h-8.6zM99.2 562.5h5.4v1.4h-5.4zM41 565.8h6v1.4h-6zM69.5 578.9h13v1.4h-13z" fill="#de3f2e"/><path d="M62.3 504.7h13.1v1.4h-13.1zM56 505.8h9.9v1.4h-9.9zM87.7 535.2h7.7v1.4h-7.7zM41 545.1h4.3v1.4h-4.3zM41 546.2h4.3v1.4h-4.3zM68.5 547.3h6.4v1.4h-6.4zM41 550.5h13.4v1.4h-13.4zM89.6 557.1h9.6v1.4h-9.6zM70.9 574.5h3.8v1.4h-3.8zM88.7 574.5h7.6v1.4h-7.6z" fill="#b20c26"/></g><rect x="41" y="476.3" width="63.6" height="103.7" fill="none" stroke="#444" stroke-width="0.7"/><g filter="url(#hblur)"><rect x="41" y="582.6" width="63.6" height="259.1" fill="#f46d43"/><path d="M41 582.6h8.2v1.4h-8.2zM59.8 582.6h9.6v1.4h-9.6zM100.9 583.7h3.7v1.4h-3.7zM59.6 589.1h10.6v1.4h-10.6zM48 590.2h7.9v1.4h-7.9zM54.6 591.2h7.3v1.4h-7.3zM48.3 592.3h6.5v1.4h-6.5zM60.1 594.5h10v1.4h-10zM41 596.6h5.7v1.4h-5.7zM50.9 597.7h5.5v1.4h-5.5zM53.1 598.8h6.3v1.4h-6.3zM66.9 604.2h5.5v1.4h-5.5zM95.8 604.2h4.9v1.4h-4.9zM81 606.4h13.3v1.4h-13.3zM58.4 607.4h7.5v1.4h-7.5zM88.4 610.7h10.9v1.4h-10.9zM75.2 616.1h11.6v1.4h-11.6zM70.2 617.1h4.6v1.4h-4.6zM78.4 618.2h9.2v1.4h-9.2zM80.5 624.7h11.3v1.4h-11.3zM89.5 625.8h8.1v1.4h-8.1zM87 627.9h8.5v1.4h-8.5zM97.6 630.1h7v1.4h-7zM86.8 635.5h3.3v1.4h-3.3zM94.3 635.5h3.6v1.4h-3.6zM72.9 644.1h11.9v1.4h-11.9zM65 645.2h4.2v1.4h-4.2zM51.5 646.3h12.8v1.4h-12.8zM61.6 649.5h13.3v1.4h-13.3zM65.2 654.9h9.9v1.4h-9.9zM68.9 656h9.5v1.4h-9.5zM53.1 657.1h8.5v1.4h-8.5zM98.2 657.1h6.4v1.4h-6.4zM92.1 661.4h4.1v1.4h-4.1zM73.7 665.7h11.5v1.4h-11.5zM71.4 671.1h8.7v1.4h-8.7zM82.8 677.6h7.2v1.4h-7.2zM97.9 677.6h6.7v1.4h-6.7zM87.2 684.1h4.3v1.4h-4.3zM56.8 688.4h11.9v1.4h-11.9zM52.6 693.8h9.1v1.4h-9.1zM93.6 705.7h3.4v1.4h-3.4zM87.9 717.5h4.5v1.4h-4.5zM93.4 718.6h11.2v1.4h-11.2zM58.5 724h12.7v1.4h-12.7zM45.4 729.4h13.3v1.4h-13.3zM50.8 731.6h4.7v1.4h-4.7zM72.8 748.9h5.7v1.4h-5.7zM78.5 748.9h13v1.4h-13zM74.5 769.4h13.4v1.4h-13.4z" fill="#5c91c2"/><path d="M49.2 582.6h4.6v1.4h-4.6zM62.3 583.7h12v1.4h-12zM74.3 583.7h9.6v1.4h-9.6zM53.9 584.8h3.3v1.4h-3.3zM57.2 584.8h8.7v1.4h-8.7zM41 588h13.6v1.4h-13.6zM74.5 589.1h7.3v1.4h-7.3zM76 590.2h6.1v1.4h-6.1zM74.6 592.3h7.5v1.4h-7.5zM96.6 594.5h8v1.4h-8zM60.8 597.7h11.2v1.4h-11.2zM97.3 597.7h7.3v1.4h-7.3zM76.3 598.8h10.4v1.4h-10.4zM88.7 605.3h3.7v1.4h-3.7zM72.6 607.4h10.5v1.4h-10.5zM76.3 623.6h10.1v1.4h-10.1zM74.4 630.1h13.9v1.4h-13.9zM97.7 634.4h6.9v1.4h-6.9zM90.1 635.5h4.2v1.4h-4.2zM85.3 645.2h11.1v1.4h-11.1zM101.3 647.4h3.3v1.4h-3.3zM79.7 650.6h5.8v1.4h-5.8zM90.9 650.6h3.4v1.4h-3.4zM99.7 662.5h4.9v1.4h-4.9zM60.4 663.6h13.9v1.4h-13.9zM89.3 674.4h12.7v1.4h-12.7zM77.7 683h9v1.4h-9zM79.8 688.4h9v1.4h-9zM83.4 696h9.1v1.4h-9.1zM65.4 697h9.8v1.4h-9.8zM101.9 698.1h2.7v1.4h-2.7zM78.8 733.7h9.6v1.4h-9.6zM44.2 739.1h8.4v1.4h-8.4zM49.7 743.5h8.8v1.4h-8.8zM68.9 754.3h12v1.4h-12zM80.1 764h9.4v1.4h-9.4zM86.9 783.4h9.2v1.4h-9.2zM95.4 789.9h9.2v1.4h-9.2z" fill="#82b8d7"/><path d="M53.8 582.6h6v1.4h-6zM73.2 584.8h9v1.4h-9zM60.6 586.9h13.4v1.4h-13.4zM84.8 586.9h5.8v1.4h-5.8zM70.1 589.1h4.4v1.4h-4.4zM88.4 589.1h4v1.4h-4zM61.9 591.2h13.7v1.4h-13.7zM75.4 593.4h4.9v1.4h-4.9zM93 593.4h11.6v1.4h-11.6zM59 595.6h5.7v1.4h-5.7zM76.7 596.6h5.5v1.4h-5.5zM72.3 604.2h6.1v1.4h-6.1zM70.2 605.3h13.3v1.4h-13.3zM78.3 612.8h6.4v1.4h-6.4zM88.2 612.8h7.3v1.4h-7.3zM92.1 615h8.2v1.4h-8.2zM66.8 618.2h11.7v1.4h-11.7zM70.4 623.6h6v1.4h-6zM94.7 642h9.9v1.4h-9.9zM73.6 643.1h8v1.4h-8zM81.3 648.5h10.9v1.4h-10.9zM85.8 649.5h7.8v1.4h-7.8zM68.6 651.7h6.7v1.4h-6.7zM76.1 660.3h13.3v1.4h-13.3zM85.1 664.6h7.3v1.4h-7.3zM96.4 672.2h8.2v1.4h-8.2zM58.2 677.6h6v1.4h-6zM68.3 685.2h12.8v1.4h-12.8zM81.2 685.2h13.8v1.4h-13.8zM83.3 691.6h4.6v1.4h-4.6zM72.8 692.7h7.4v1.4h-7.4zM61.7 693.8h11.3v1.4h-11.3zM91.3 693.8h8v1.4h-8zM79.4 698.1h6.2v1.4h-6.2zM93.5 700.3h11.1v1.4h-11.1zM49.2 708.9h12v1.4h-12zM72.5 711.1h9.1v1.4h-9.1zM77.9 714.3h6.9v1.4h-6.9zM87.8 716.5h9.9v1.4h-9.9zM88.3 721.9h5.4v1.4h-5.4zM82.4 724h7.2v1.4h-7.2zM96.3 727.3h8.3v1.4h-8.3zM86.8 729.4h13.2v1.4h-13.2zM58.4 743.5h4v1.4h-4zM96.6 744.5h8v1.4h-8zM100.1 756.4h4.5v1.4h-4.5zM69.6 762.9h10v1.4h-10zM74.1 768.3h8.4v1.4h-8.4zM81.6 779.1h10v1.4h-10zM84.3 792h6.3v1.4h-6.3zM50 808.2h10.7v1.4h-10.7zM69.5 817.9h8.2v1.4h-8.2zM41 820.1h5.7v1.4h-5.7z" fill="#5183bb"/><path d="M69.4 582.6h4.6v1.4h-4.6zM45.2 583.7h6.4v1.4h-6.4zM51.7 583.7h10.7v1.4h-10.7zM82.1 592.3h7.4v1.4h-7.4zM80.3 593.4h6.3v1.4h-6.3zM101.5 596.6h3.1v1.4h-3.1zM69.1 601h4.3v1.4h-4.3zM50.5 607.4h7.9v1.4h-7.9zM41 609.6h5.9v1.4h-5.9zM65.5 609.6h12.1v1.4h-12.1zM76.5 615h7.7v1.4h-7.7zM87.3 617.1h7.5v1.4h-7.5zM59.1 619.3h11.8v1.4h-11.8zM46.9 624.7h5.8v1.4h-5.8zM70.7 626.9h4v1.4h-4zM73.9 639.8h9.8v1.4h-9.8zM83.7 639.8h12.1v1.4h-12.1zM88.4 640.9h10.3v1.4h-10.3zM102.2 643.1h2.4v1.4h-2.4zM74.1 646.3h9.4v1.4h-9.4zM71.5 648.5h9.8v1.4h-9.8zM66.6 650.6h7.4v1.4h-7.4zM41 654.9h13.5v1.4h-13.5zM69.1 657.1h12.8v1.4h-12.8zM90.4 657.1h7.8v1.4h-7.8zM56.6 661.4h13.6v1.4h-13.6zM100.8 664.6h3.8v1.4h-3.8zM82.5 674.4h6.8v1.4h-6.8zM73.5 676.5h4.6v1.4h-4.6zM86.4 692.7h8.7v1.4h-8.7zM54.2 701.4h12.3v1.4h-12.3zM102.5 704.6h2.1v1.4h-2.1zM97.1 705.7h7.5v1.4h-7.5zM72.7 707.8h13v1.4h-13zM76.3 712.2h11.6v1.4h-11.6zM74.2 715.4h13.9v1.4h-13.9zM72.7 720.8h7.6v1.4h-7.6zM59.5 722.9h8.6v1.4h-8.6zM98.9 740.2h5.7v1.4h-5.7zM58 757.5h4.1v1.4h-4.1zM99.4 767.2h5.2v1.4h-5.2zM80.8 775.8h3.7v1.4h-3.7zM60.6 779.1h3.5v1.4h-3.5zM82.3 789.9h13.1v1.4h-13.1z" fill="#abd9e9"/><path d="M74 582.6h13v1.4h-13zM50.9 585.8h3.1v1.4h-3.1zM49.1 591.2h5.5v1.4h-5.5zM95.4 591.2h5.8v1.4h-5.8zM54.8 592.3h12.3v1.4h-12.3zM91.4 595.6h8.2v1.4h-8.2zM65.4 603.1h5.4v1.4h-5.4zM70.8 603.1h11.2v1.4h-11.2zM69.3 622.5h11.7v1.4h-11.7zM91.7 624.7h4.3v1.4h-4.3zM61.1 629h13.5v1.4h-13.5zM79.8 640.9h8.6v1.4h-8.6zM93.3 643.1h8.9v1.4h-8.9zM95.6 644.1h9v1.4h-9zM92.6 646.3h6.7v1.4h-6.7zM51.6 651.7h4v1.4h-4zM41 656h6.6v1.4h-6.6zM92 656h7.3v1.4h-7.3zM61.7 657.1h7.5v1.4h-7.5zM89.4 660.3h5.2v1.4h-5.2zM81.7 661.4h10.3v1.4h-10.3zM41 666.8h6.7v1.4h-6.7zM69 666.8h7v1.4h-7zM74.5 667.9h9.1v1.4h-9.1zM75.6 675.4h6.2v1.4h-6.2zM92.1 676.5h12.5v1.4h-12.5zM71 678.7h13.3v1.4h-13.3zM86.7 683h10.1v1.4h-10.1zM79.9 701.4h6.8v1.4h-6.8zM89.8 702.4h10.9v1.4h-10.9zM80.1 708.9h13.1v1.4h-13.1zM46.6 714.3h11.2v1.4h-11.2zM82.1 718.6h7.2v1.4h-7.2zM90.8 719.7h8.2v1.4h-8.2zM95.3 725.1h9.3v1.4h-9.3zM46.5 726.2h8.4v1.4h-8.4zM88.3 733.7h12v1.4h-12zM62.2 760.7h5v1.4h-5zM47 767.2h3.1v1.4h-3.1zM52.4 768.3h13.8v1.4h-13.8zM88.5 794.2h5.3v1.4h-5.3z" fill="#4575b4"/><path d="M87 582.6h3.8v1.4h-3.8zM87.2 583.7h13.7v1.4h-13.7zM41 584.8h4.3v1.4h-4.3zM82.2 584.8h3.4v1.4h-3.4zM64.1 588h9.4v1.4h-9.4zM55.9 590.2h6.8v1.4h-6.8zM62.7 590.2h13.4v1.4h-13.4zM75.6 591.2h6.9v1.4h-6.9zM82.5 591.2h8.5v1.4h-8.5zM81 597.7h9.3v1.4h-9.3zM41 598.8h5.3v1.4h-5.3zM78.4 599.9h10.9v1.4h-10.9zM79.8 602h3.2v1.4h-3.2zM89.1 609.6h11.1v1.4h-11.1zM54.9 613.9h6.9v1.4h-6.9zM81 622.5h10.5v1.4h-10.5zM74.6 629h12.9v1.4h-12.9zM62.5 634.4h9.2v1.4h-9.2zM45.3 642h6v1.4h-6zM62.8 644.1h10.1v1.4h-10.1zM75.4 651.7h13.4v1.4h-13.4zM53.5 652.8h12.8v1.4h-12.8zM72.7 664.6h12.4v1.4h-12.4zM93.2 667.9h5.9v1.4h-5.9zM91 679.8h6.3v1.4h-6.3zM95.1 680.8h4.8v1.4h-4.8zM83.5 681.9h13.3v1.4h-13.3zM80.2 692.7h6.2v1.4h-6.2zM74.7 705.7h3.9v1.4h-3.9zM73.5 719.7h3.2v1.4h-3.2zM80.3 720.8h11.1v1.4h-11.1zM83.2 721.9h5.1v1.4h-5.1zM90.9 728.3h5.1v1.4h-5.1zM70.1 739.1h3v1.4h-3zM81.4 742.4h12v1.4h-12zM93.2 746.7h3.4v1.4h-3.4zM73.6 778h3.7v1.4h-3.7zM74.9 792h9.4v1.4h-9.4zM87.2 796.4h6.6v1.4h-6.6zM66.1 823.3h7.1v1.4h-7.1z" fill="#90c3dd"/><path d="M90.8 582.6h7.5v1.4h-7.5zM54 585.8h6.8v1.4h-6.8zM64.2 585.8h14v1.4h-14zM73.4 588h11.1v1.4h-11.1zM72.1 593.4h3.3v1.4h-3.3zM55.1 595.6h3.9v1.4h-3.9zM61.6 601h7.6v1.4h-7.6zM71.7 606.4h5.2v1.4h-5.2zM84.8 611.7h11.5v1.4h-11.5zM95.5 612.8h4.9v1.4h-4.9zM84.2 615h7.9v1.4h-7.9zM73.6 620.4h8.5v1.4h-8.5zM74.4 636.6h5.4v1.4h-5.4zM64.3 646.3h3.5v1.4h-3.5zM83.5 646.3h9.1v1.4h-9.1zM68.6 647.4h8.8v1.4h-8.8zM91.9 647.4h9.4v1.4h-9.4zM88.8 651.7h5.4v1.4h-5.4zM74.3 663.6h13.9v1.4h-13.9zM88.2 663.6h9.2v1.4h-9.2zM41 664.6h5.4v1.4h-5.4zM65 665.7h4v1.4h-4zM85.2 665.7h10v1.4h-10zM61.8 703.5h9.8v1.4h-9.8zM69.4 707.8h3.3v1.4h-3.3zM91.4 720.8h9.9v1.4h-9.9zM71.1 726.2h4.4v1.4h-4.4zM44 754.3h4.5v1.4h-4.5zM79 760.7h13v1.4h-13zM65.7 761.8h9.5v1.4h-9.5z" fill="#c6e6f0"/><path d="M98.3 582.6h3.7v1.4h-3.7zM95.3 588h9.3v1.4h-9.3zM82.1 590.2h5.4v1.4h-5.4zM99.2 602h5.4v1.4h-5.4zM41 605.3h7.6v1.4h-7.6zM70.8 608.5h9.7v1.4h-9.7zM98.7 618.2h5.9v1.4h-5.9zM100.4 621.5h4.2v1.4h-4.2zM97.6 625.8h7v1.4h-7zM63.7 627.9h9.6v1.4h-9.6zM53.3 640.9h4.6v1.4h-4.6zM98.7 640.9h5.9v1.4h-5.9zM79.3 645.2h6v1.4h-6zM41 658.2h12.7v1.4h-12.7zM66.3 659.3h5v1.4h-5zM49.9 671.1h6.9v1.4h-6.9zM51.7 678.7h6.5v1.4h-6.5zM77.4 690.6h5.4v1.4h-5.4zM55.9 706.8h7.8v1.4h-7.8zM41 712.2h12.9v1.4h-12.9zM49.3 718.6h13.2v1.4h-13.2zM65.4 720.8h7.2v1.4h-7.2zM89.6 724h15v1.4h-15zM41 725.1h4.1v1.4h-4.1zM65.4 731.6h9.3v1.4h-9.3zM75.4 738.1h6.5v1.4h-6.5zM91.5 748.9h6.4v1.4h-6.4zM75.3 753.2h3.9v1.4h-3.9zM48.6 755.3h6.7v1.4h-6.7zM98.4 768.3h6.2v1.4h-6.2zM53 771.5h8v1.4h-8zM77.5 772.6h12.3v1.4h-12.3zM72.1 775.8h8.7v1.4h-8.7zM46.8 779.1h8.5v1.4h-8.5zM53.7 786.6h8.6v1.4h-8.6zM74.9 799.6h8v1.4h-8zM45.3 808.2h4.7v1.4h-4.7zM79.7 810.4h4v1.4h-4zM91.1 829.8h13.5v1.4h-13.5zM84.9 837.4h11.6v1.4h-11.6zM77.5 838.5h9.5v1.4h-9.5z" fill="#fee89c"/><path d="M101.9 582.6h2.7v1.4h-2.7zM70.5 598.8h5.8v1.4h-5.8zM56.6 603.1h8.8v1.4h-8.8zM92.5 605.3h12.1v1.4h-12.1zM41 606.4h11.6v1.4h-11.6zM41 611.7h12.7v1.4h-12.7zM41 673.3h7.1v1.4h-7.1zM46.8 674.4h5.3v1.4h-5.3zM47.9 680.8h13.3v1.4h-13.3zM99.9 680.8h4.7v1.4h-4.7zM66.6 690.6h10.8v1.4h-10.8zM80.2 693.8h11.1v1.4h-11.1zM48.6 707.8h8.1v1.4h-8.1zM81.6 711.1h11.9v1.4h-11.9zM97.3 713.2h7.3v1.4h-7.3zM54.3 715.4h6v1.4h-6zM53.9 722.9h5.6v1.4h-5.6zM41 730.5h8.2v1.4h-8.2zM57.6 734.8h13.6v1.4h-13.6zM81.8 738.1h11.4v1.4h-11.4zM86 741.3h11.8v1.4h-11.8zM41 758.6h9.8v1.4h-9.8zM41 767.2h6v1.4h-6zM86.4 776.9h4.7v1.4h-4.7zM90.1 791h10.8v1.4h-10.8zM61.4 792h13.6v1.4h-13.6zM64.8 803.9h7v1.4h-7zM60.6 808.2h7.6v1.4h-7.6zM41 811.5h13.5v1.4h-13.5zM97.2 813.6h4.3v1.4h-4.3zM57.8 821.2h11v1.4h-11zM41 824.4h5.7v1.4h-5.7zM94.7 825.5h9.9v1.4h-9.9zM78.4 836.3h5.2v1.4h-5.2zM41 837.4h6.7v1.4h-6.7zM64.4 838.5h13v1.4h-13z" fill="#d73027"/><path d="M41 583.7h4.2v1.4h-4.2zM65.9 584.8h7.3v1.4h-7.3zM41 589.1h11.7v1.4h-11.7zM81.9 589.1h6.6v1.4h-6.6zM50.7 595.6h4.4v1.4h-4.4zM92.5 603.1h7v1.4h-7zM68.9 610.7h13.6v1.4h-13.6zM80.5 613.9h11.1v1.4h-11.1zM50.9 615h9.8v1.4h-9.8zM54 627.9h9.7v1.4h-9.7zM58.1 637.7h13.7v1.4h-13.7zM93.9 637.7h6.8v1.4h-6.8zM72.4 638.7h10.1v1.4h-10.1zM86.6 643.1h6.7v1.4h-6.7zM55.5 651.7h13.1v1.4h-13.1zM72.2 653.9h10.6v1.4h-10.6zM79.8 658.2h12v1.4h-12zM97.3 658.2h7.3v1.4h-7.3zM84.5 672.2h5v1.4h-5zM76.4 674.4h6.2v1.4h-6.2zM90 677.6h7.9v1.4h-7.9zM71.4 683h6.3v1.4h-6.3zM74.1 684.1h13.1v1.4h-13.1zM68.7 688.4h11.1v1.4h-11.1zM41 691.6h10.5v1.4h-10.5zM70.7 694.9h6.7v1.4h-6.7zM49.2 697h3.8v1.4h-3.8zM53 700.3h12.6v1.4h-12.6zM63.9 704.6h12.5v1.4h-12.5zM61.3 708.9h5.2v1.4h-5.2zM89.2 718.6h4.1v1.4h-4.1zM71.2 724h11.2v1.4h-11.2zM66 726.2h5.1v1.4h-5.1zM87.8 727.3h8.6v1.4h-8.6zM60.9 761.8h4.8v1.4h-4.8zM68.7 765h10.7v1.4h-10.7z" fill="#b8e0ed"/><path d="M83.9 583.7h3.3v1.4h-3.3zM100.9 584.8h3.7v1.4h-3.7zM45.8 585.8h5.1v1.4h-5.1zM100.7 586.9h3.9v1.4h-3.9zM52.7 589.1h6.9v1.4h-6.9zM92.4 589.1h12.2v1.4h-12.2zM89.5 592.3h5.3v1.4h-5.3zM77.3 594.5h10.9v1.4h-10.9zM88.1 595.6h3.3v1.4h-3.3zM60.1 596.6h7v1.4h-7zM92.5 599.9h12.1v1.4h-12.1zM83 602h7.4v1.4h-7.4zM99.5 603.1h5.1v1.4h-5.1zM83.5 605.3h5.2v1.4h-5.2zM52.6 606.4h6.5v1.4h-6.5zM83.1 607.4h7.3v1.4h-7.3zM66.1 608.5h4.8v1.4h-4.8zM66 613.9h3.7v1.4h-3.7zM56.9 622.5h12.3v1.4h-12.3zM100.9 627.9h3.7v1.4h-3.7zM41 630.1h10.3v1.4h-10.3zM81.6 631.2h11.9v1.4h-11.9zM65 633.3h9.1v1.4h-9.1zM69.7 636.6h4.6v1.4h-4.6zM52 645.2h7.1v1.4h-7.1zM52.8 650.6h13.8v1.4h-13.8zM66.3 652.8h5.2v1.4h-5.2zM89.8 653.9h8.8v1.4h-8.8zM81.9 657.1h8.5v1.4h-8.5zM96.9 659.3h7.7v1.4h-7.7zM73 662.5h12.8v1.4h-12.8zM81.8 675.4h5v1.4h-5zM58.3 686.2h6.4v1.4h-6.4zM98.6 704.6h3.9v1.4h-3.9zM66.5 708.9h13.6v1.4h-13.6zM99.7 711.1h4.9v1.4h-4.9zM60.5 719.7h7.2v1.4h-7.2zM57.6 725.1h8.6v1.4h-8.6zM77.3 725.1h7.7v1.4h-7.7zM75.5 726.2h12.6v1.4h-12.6zM66.5 741.3h13.4v1.4h-13.4zM75.2 761.8h5.2v1.4h-5.2zM56.7 765h3.9v1.4h-3.9zM79.4 765h12.2v1.4h-12.2zM82.5 768.3h7.3v1.4h-7.3zM76.6 782.3h5.4v1.4h-5.4zM95.6 788.8h9v1.4h-9zM41 791h5.3v1.4h-5.3zM51.5 815.8h10.7v1.4h-10.7z" fill="#3b56a4"/><path d="M45.3 584.8h8.6v1.4h-8.6zM85.6 584.8h10v1.4h-10zM95.6 584.8h5.3v1.4h-5.3zM41 590.2h7v1.4h-7zM87.5 590.2h10.7v1.4h-10.7zM70.1 594.5h7.3v1.4h-7.3zM100.7 604.2h3.9v1.4h-3.9zM41 607.4h9.5v1.4h-9.5zM41 613.9h13.9v1.4h-13.9zM60.7 615h11.3v1.4h-11.3zM72 615h4.5v1.4h-4.5zM50.5 617.1h10.9v1.4h-10.9zM49.3 619.3h9.8v1.4h-9.8zM82.1 620.4h5.4v1.4h-5.4zM90.8 629h3.1v1.4h-3.1zM44.3 631.2h8v1.4h-8zM90.6 636.6h14v1.4h-14zM69.2 643.1h4.4v1.4h-4.4zM62.1 660.3h14v1.4h-14zM63.8 673.3h10.8v1.4h-10.8zM68.2 676.5h5.3v1.4h-5.3zM77.5 677.6h5.3v1.4h-5.3zM73 693.8h7.2v1.4h-7.2zM78.6 705.7h12.1v1.4h-12.1zM92.4 707.8h3.7v1.4h-3.7zM92.7 712.2h9.3v1.4h-9.3zM80.6 713.2h7.7v1.4h-7.7zM41 718.6h8.3v1.4h-8.3zM79.1 737h6.4v1.4h-6.4zM87.4 752.1h7.1v1.4h-7.1zM53.4 764h10.2v1.4h-10.2zM81.1 766.1h5.1v1.4h-5.1zM89.4 785.6h6.9v1.4h-6.9zM47.2 807.2h7.2v1.4h-7.2z" fill="#74add1"/><path d="M41 585.8h4.8v1.4h-4.8zM41 597.7h9.9v1.4h-9.9zM64.1 625.8h7.6v1.4h-7.6zM88.3 630.1h9.3v1.4h-9.3zM41 637.7h8.7v1.4h-8.7zM41 638.7h7.9v1.4h-7.9zM41 643.1h13.2v1.4h-13.2zM41 646.3h10.5v1.4h-10.5zM85.5 650.6h5.4v1.4h-5.4zM53.7 658.2h13.5v1.4h-13.5zM65.8 674.4h10.5v1.4h-10.5zM41 685.2h8.3v1.4h-8.3zM82.8 690.6h13.4v1.4h-13.4zM96.2 690.6h4.8v1.4h-4.8zM41 696h13.9v1.4h-13.9zM75.2 697h5.8v1.4h-5.8zM41 706.8h9.7v1.4h-9.7zM69.5 713.2h11.2v1.4h-11.2zM57.9 714.3h10.7v1.4h-10.7zM101.3 715.4h3.3v1.4h-3.3zM80.6 719.7h10.2v1.4h-10.2zM67.9 728.3h9.3v1.4h-9.3zM101.8 728.3h2.8v1.4h-2.8zM69.5 737h9.6v1.4h-9.6zM85.5 737h6.4v1.4h-6.4zM41 747.8h7.9v1.4h-7.9zM88.4 761.8h9.1v1.4h-9.1zM85.2 762.9h13.7v1.4h-13.7zM96 764h8.6v1.4h-8.6zM60.6 765h3.9v1.4h-3.9zM54.5 766.1h13.7v1.4h-13.7zM80.7 770.4h12.1v1.4h-12.1zM92.8 770.4h11.8v1.4h-11.8zM41 783.4h10.3v1.4h-10.3zM46 787.7h6.1v1.4h-6.1zM86.8 787.7h9.6v1.4h-9.6zM96.4 787.7h3.4v1.4h-3.4zM79 801.8h8.3v1.4h-8.3zM92.7 807.2h8.2v1.4h-8.2zM41 832h12.7v1.4h-12.7zM68.1 837.4h6.8v1.4h-6.8z" fill="#fed484"/><path d="M60.8 585.8h3.4v1.4h-3.4zM95 586.9h5.7v1.4h-5.7zM48.6 616.1h12.5v1.4h-12.5zM94.9 617.1h9.7v1.4h-9.7zM47.9 648.5h10.5v1.4h-10.5zM47.7 666.8h5.1v1.4h-5.1zM90.6 705.7h3v1.4h-3zM77.3 728.3h13.6v1.4h-13.6zM63.9 769.4h4.3v1.4h-4.3zM68.2 769.4h6.3v1.4h-6.3z" fill="#36469d"/><path d="M78.2 585.8h6.5v1.4h-6.5zM41 591.2h8.1v1.4h-8.1zM41 592.3h7.3v1.4h-7.3zM94.7 592.3h9.9v1.4h-9.9zM53.6 593.4h6.4v1.4h-6.4zM60 593.4h12.2v1.4h-12.2zM41 601h12.9v1.4h-12.9zM87.3 601h4.6v1.4h-4.6zM45.5 604.2h8.9v1.4h-8.9zM77 606.4h4v1.4h-4zM98.2 608.5h6.4v1.4h-6.4zM74.8 617.1h4.9v1.4h-4.9zM69.3 620.4h4.3v1.4h-4.3zM56.8 623.6h9.4v1.4h-9.4zM71.7 625.8h8.1v1.4h-8.1zM41 627.9h5.8v1.4h-5.8zM74.1 633.3h7.3v1.4h-7.3zM54.9 635.5h6.6v1.4h-6.6zM94.4 638.7h10.2v1.4h-10.2zM59.9 642h4.1v1.4h-4.1zM94.3 650.6h10.3v1.4h-10.3zM92.1 652.8h12.5v1.4h-12.5zM91.7 658.2h5.6v1.4h-5.6zM80.2 671.1h6.7v1.4h-6.7zM79.3 673.3h10.2v1.4h-10.2zM60.4 675.4h5.5v1.4h-5.5zM95.1 687.3h9.5v1.4h-9.5zM61.5 702.4h13.5v1.4h-13.5zM41 710h11.4v1.4h-11.4zM78.2 710h10.7v1.4h-10.7zM54.6 716.5h6.6v1.4h-6.6zM66.2 725.1h11.1v1.4h-11.1zM88.1 726.2h6v1.4h-6zM73.5 732.7h8.4v1.4h-8.4zM74.8 781.2h3.8v1.4h-3.8zM68.7 824.4h12.1v1.4h-12.1z" fill="#4065ac"/><path d="M84.7 585.8h10v1.4h-10zM91 591.2h4.5v1.4h-4.5zM41 594.5h8.9v1.4h-8.9zM79.6 617.1h7.7v1.4h-7.7zM52.6 620.4h8.9v1.4h-8.9zM79.2 621.5h11.3v1.4h-11.3zM70.6 624.7h9.8v1.4h-9.8zM79.8 625.8h9.7v1.4h-9.7zM59.8 632.3h9.2v1.4h-9.2zM101.3 633.3h3.3v1.4h-3.3zM75.7 634.4h6.8v1.4h-6.8zM84.8 644.1h10.8v1.4h-10.8zM74 650.6h5.8v1.4h-5.8zM82.8 653.9h7v1.4h-7zM41 669h12.3v1.4h-12.3zM89.6 673.3h5.6v1.4h-5.6zM55.6 675.4h4.7v1.4h-4.7zM101.4 675.4h3.2v1.4h-3.2zM76.9 680.8h7.2v1.4h-7.2zM88.7 688.4h10.2v1.4h-10.2zM76 699.2h10.1v1.4h-10.1zM79.4 703.5h9v1.4h-9zM88.4 703.5h7v1.4h-7zM41 716.5h13.6v1.4h-13.6zM74.3 718.6h7.8v1.4h-7.8zM67.7 719.7h5.8v1.4h-5.8zM71.5 729.4h8.9v1.4h-8.9zM81.9 732.7h12.1v1.4h-12.1zM71.2 734.8h11.6v1.4h-11.6zM76.4 735.9h8.2v1.4h-8.2zM64.4 737h5.1v1.4h-5.1zM50.3 738.1h11.3v1.4h-11.3zM82.8 747.8h10.7v1.4h-10.7zM91.3 769.4h5.3v1.4h-5.3zM84.6 774.8h11.1v1.4h-11.1zM96.4 776.9h4v1.4h-4zM46.7 824.4h10.9v1.4h-10.9z" fill="#689fca"/><path d="M94.8 585.8h9.8v1.4h-9.8zM54.4 586.9h6.2v1.4h-6.2zM74 586.9h10.8v1.4h-10.8zM98.2 590.2h6.4v1.4h-6.4zM67.1 592.3h7.5v1.4h-7.5zM53.9 601h7.6v1.4h-7.6zM45.6 608.5h9.5v1.4h-9.5zM85.2 608.5h13v1.4h-13zM53.2 610.7h4v1.4h-4zM96.3 611.7h3.9v1.4h-3.9zM74.6 619.3h10.4v1.4h-10.4zM91.8 620.4h6.6v1.4h-6.6zM87.6 626.9h7.5v1.4h-7.5zM95.4 627.9h5.5v1.4h-5.5zM68.6 640.9h11.2v1.4h-11.2zM74.9 649.5h10.9v1.4h-10.9zM98.5 653.9h6.1v1.4h-6.1zM75.1 654.9h10.8v1.4h-10.8zM87.4 656h4.6v1.4h-4.6zM85.8 662.5h13.9v1.4h-13.9zM92.4 664.6h8.3v1.4h-8.3zM76 666.8h5.5v1.4h-5.5zM57.7 667.9h13.1v1.4h-13.1zM83.5 670h12.2v1.4h-12.2zM57.5 673.3h6.3v1.4h-6.3zM66.3 687.3h5.4v1.4h-5.4zM61.8 698.1h13.8v1.4h-13.8zM56.7 707.8h12.6v1.4h-12.6zM87.9 712.2h4.9v1.4h-4.9zM70.8 716.5h7v1.4h-7zM53 720.8h12.4v1.4h-12.4zM80.4 729.4h6.4v1.4h-6.4zM92.9 739.1h11.7v1.4h-11.7zM80 744.5h8.7v1.4h-8.7zM91.3 751h13.3v1.4h-13.3zM81 754.3h6.4v1.4h-6.4zM64.1 779.1h4.3v1.4h-4.3zM92.7 827.7h11.9v1.4h-11.9z" fill="#9dcee3"/><path d="M41 586.9h13.4v1.4h-13.4zM63.4 602h4.2v1.4h-4.2zM77.7 609.6h7.8v1.4h-7.8zM84.9 619.3h9.1v1.4h-9.1zM45 621.5h10.1v1.4h-10.1zM86.5 623.6h12.9v1.4h-12.9zM65.4 624.7h5.2v1.4h-5.2zM45.4 626.9h11.6v1.4h-11.6zM69 632.3h5.5v1.4h-5.5zM73.9 635.5h12.9v1.4h-12.9zM71.8 637.7h13.2v1.4h-13.2zM69.2 645.2h10v1.4h-10zM95.9 654.9h8.7v1.4h-8.7zM68.4 664.6h4.3v1.4h-4.3zM52.7 667.9h4.9v1.4h-4.9zM64.7 670h4.5v1.4h-4.5zM41 672.2h12.9v1.4h-12.9zM64.2 677.6h13.3v1.4h-13.3zM52.1 681.9h12.6v1.4h-12.6zM91.5 684.1h8.8v1.4h-8.8zM54.8 692.7h7.8v1.4h-7.8zM97.1 697h7.5v1.4h-7.5zM101.4 703.5h3.2v1.4h-3.2zM74.3 706.8h12.5v1.4h-12.5zM102 707.8h2.6v1.4h-2.6zM88.9 710h6v1.4h-6zM94.9 710h9.7v1.4h-9.7zM77.8 716.5h10.1v1.4h-10.1zM93.8 721.9h10.8v1.4h-10.8zM60.4 732.7h13.1v1.4h-13.1zM64.2 733.7h7.1v1.4h-7.1zM92.7 745.6h9v1.4h-9zM98 747.8h6.6v1.4h-6.6zM75.5 752.1h11.9v1.4h-11.9zM48.6 754.3h6.9v1.4h-6.9zM102.6 766.1h2v1.4h-2zM77.3 778h6.2v1.4h-6.2zM79.9 821.2h13.9v1.4h-13.9zM85.9 823.3h6.6v1.4h-6.6zM63.5 825.5h12.7v1.4h-12.7z" fill="#fdba6d"/><path d="M90.6 586.9h4.4v1.4h-4.4zM89.7 604.2h6.1v1.4h-6.1zM59.1 606.4h12.7v1.4h-12.7zM99.8 619.3h4.8v1.4h-4.8zM46.8 627.9h7.2v1.4h-7.2zM73.3 627.9h4.8v1.4h-4.8zM53.2 633.3h11.8v1.4h-11.8zM41 652.8h12.5v1.4h-12.5zM67.2 658.2h12.6v1.4h-12.6zM71.3 659.3h12.3v1.4h-12.3zM65 662.5h7.9v1.4h-7.9zM73.7 672.2h10.9v1.4h-10.9zM41 681.9h11.1v1.4h-11.1zM102.1 683h2.5v1.4h-2.5zM68.6 692.7h4.2v1.4h-4.2zM96.1 707.8h5.9v1.4h-5.9zM64 730.5h13v1.4h-13zM82.8 734.8h3.6v1.4h-3.6zM49.8 742.4h3.9v1.4h-3.9zM88.7 744.5h7.9v1.4h-7.9zM96.7 746.7h7.9v1.4h-7.9zM55.4 754.3h13.5v1.4h-13.5zM64.7 762.9h4.9v1.4h-4.9zM79.6 762.9h5.6v1.4h-5.6zM67 764h5.2v1.4h-5.2zM64.9 771.5h14v1.4h-14zM81.5 797.4h4v1.4h-4zM83.7 810.4h8.1v1.4h-8.1zM96.4 810.4h8.2v1.4h-8.2zM87.4 816.9h7.7v1.4h-7.7zM84.1 824.4h13.2v1.4h-13.2zM41 825.5h12.2v1.4h-12.2zM47.6 826.6h6v1.4h-6zM80.5 829.8h10.7v1.4h-10.7zM70.8 832h10.3v1.4h-10.3z" fill="#fee090"/><path d="M54.6 588h9.5v1.4h-9.5zM84.5 588h10.8v1.4h-10.8zM57.3 599.9h7v1.4h-7zM46.1 602h11.4v1.4h-11.4zM78.4 604.2h11.3v1.4h-11.3zM67.7 612.8h10.6v1.4h-10.6zM41 625.8h11.1v1.4h-11.1zM41 634.4h10.4v1.4h-10.4zM77.6 642h7v1.4h-7zM77.4 647.4h3.8v1.4h-3.8zM59.5 653.9h7.1v1.4h-7.1zM61.6 654.9h3.6v1.4h-3.6zM87.5 659.3h9.3v1.4h-9.3zM70.2 661.4h5.5v1.4h-5.5zM54.8 664.6h13.7v1.4h-13.7zM51.5 670h5.8v1.4h-5.8zM41 679.8h12.8v1.4h-12.8zM66.9 680.8h9.9v1.4h-9.9zM77.2 689.5h13.8v1.4h-13.8zM89.4 694.9h6v1.4h-6zM52 699.2h9v1.4h-9zM70.9 699.2h5.1v1.4h-5.1zM86.1 699.2h3.9v1.4h-3.9zM54 702.4h7.4v1.4h-7.4zM76.7 719.7h3.9v1.4h-3.9zM61.9 721.9h10v1.4h-10zM99.7 726.2h4.9v1.4h-4.9zM66.4 727.3h5.4v1.4h-5.4zM41 765h10.2v1.4h-10.2zM91.7 765h10.9v1.4h-10.9zM95.7 775.8h8.9v1.4h-8.9zM74.4 798.5h8v1.4h-8zM89.2 798.5h9.6v1.4h-9.6zM87.8 807.2h4.9v1.4h-4.9zM64.1 816.9h11v1.4h-11zM60.1 819h7.8v1.4h-7.8zM99.3 834.1h5.3v1.4h-5.3zM90.3 840.6h3.9v1.4h-3.9z" fill="#ffffbf"/><path d="M101.2 591.2h3.4v1.4h-3.4zM72 597.7h4.1v1.4h-4.1zM76.1 597.7h4.9v1.4h-4.9zM59.4 598.8h7.4v1.4h-7.4zM92.8 598.8h11.8v1.4h-11.8zM69.9 599.9h8.5v1.4h-8.5zM82 603.1h10.4v1.4h-10.4zM95.1 616.1h9.5v1.4h-9.5zM58.2 621.5h12.8v1.4h-12.8zM41 631.2h3.3v1.4h-3.3zM72.8 631.2h8.8v1.4h-8.8zM74.4 632.3h6.6v1.4h-6.6zM85.5 632.3h7.5v1.4h-7.5zM82.5 638.7h11.9v1.4h-11.9zM49.7 639.8h12v1.4h-12zM45.3 647.4h10.4v1.4h-10.4zM75.8 661.4h5.9v1.4h-5.9zM46.4 664.6h8.4v1.4h-8.4zM52.9 666.8h5.2v1.4h-5.2zM57.9 672.2h9.3v1.4h-9.3zM101.1 690.6h3.5v1.4h-3.5zM84.7 714.3h10.9v1.4h-10.9zM94.1 726.2h5.6v1.4h-5.6zM71.8 727.3h6.8v1.4h-6.8zM91.9 737h3.5v1.4h-3.5zM83.3 739.1h9.6v1.4h-9.6zM58.6 745.6h8.7v1.4h-8.7zM41 748.9h10.8v1.4h-10.8zM65.1 748.9h7.7v1.4h-7.7zM41 775.8h9.9v1.4h-9.9zM83.5 778h6.6v1.4h-6.6zM75.6 788.8h11.2v1.4h-11.2zM82.9 799.6h7.9v1.4h-7.9zM84.3 826.6h4.4v1.4h-4.4zM66.7 829.8h13.8v1.4h-13.8z" fill="#fef0a8"/><path d="M41 593.4h12.6v1.4h-12.6zM88.2 594.5h8.4v1.4h-8.4zM49.3 599.9h8v1.4h-8zM73.4 601h4.3v1.4h-4.3zM92 601h12.6v1.4h-12.6zM53.3 603.1h3.3v1.4h-3.3zM41 618.2h8.5v1.4h-8.5zM55.1 621.5h3.1v1.4h-3.1zM90.5 621.5h9.8v1.4h-9.8zM91.5 622.5h4.5v1.4h-4.5zM41 626.9h4.4v1.4h-4.4zM93.9 629h10.7v1.4h-10.7zM41 632.3h6.7v1.4h-6.7zM41 635.5h13.9v1.4h-13.9zM61.6 639.8h12.3v1.4h-12.3zM54.2 643.1h11.4v1.4h-11.4zM54.9 644.1h7.9v1.4h-7.9zM94.2 651.7h10.4v1.4h-10.4zM54.5 654.9h7v1.4h-7zM94.7 660.3h3.8v1.4h-3.8zM41 670h3.3v1.4h-3.3zM74.9 670h8.5v1.4h-8.5zM64.5 671.1h6.9v1.4h-6.9zM95.2 673.3h6.5v1.4h-6.5zM41 675.4h5.1v1.4h-5.1zM65.9 675.4h9.8v1.4h-9.8zM41 676.5h3.6v1.4h-3.6zM96.8 681.9h7.8v1.4h-7.8zM41 686.2h8.6v1.4h-8.6zM41 688.4h5.9v1.4h-5.9zM91 689.5h4.6v1.4h-4.6zM95.6 689.5h9v1.4h-9zM41 693.8h11.6v1.4h-11.6zM77.4 694.9h12v1.4h-12zM58.6 696h13.4v1.4h-13.4zM41 697h8.2v1.4h-8.2zM52.9 697h12.5v1.4h-12.5zM41 699.2h11v1.4h-11zM41 700.3h12v1.4h-12zM41 702.4h13v1.4h-13zM49.4 703.5h12.4v1.4h-12.4zM52.4 704.6h11.6v1.4h-11.6zM68.8 706.8h5.5v1.4h-5.5zM92.7 706.8h11.9v1.4h-11.9zM41 708.9h8.2v1.4h-8.2zM98.2 708.9h6.4v1.4h-6.4zM70.5 710h7.7v1.4h-7.7zM41 711.1h3.6v1.4h-3.6zM53.9 712.2h9.2v1.4h-9.2zM88.3 713.2h9v1.4h-9zM61.3 716.5h9.5v1.4h-9.5zM41 717.5h6.4v1.4h-6.4zM47.4 717.5h5.3v1.4h-5.3zM62.8 717.5h11.6v1.4h-11.6zM101.3 720.8h3.3v1.4h-3.3zM52.5 724h6v1.4h-6zM55.6 727.3h10.8v1.4h-10.8zM41 729.4h4.4v1.4h-4.4zM100 729.4h4.6v1.4h-4.6zM52.5 730.5h11.5v1.4h-11.5zM41 731.6h4.4v1.4h-4.4zM48 733.7h9.5v1.4h-9.5zM67.5 740.2h13.8v1.4h-13.8zM41 741.3h3.2v1.4h-3.2zM44.2 741.3h11.1v1.4h-11.1zM93.4 742.4h6.4v1.4h-6.4zM62.4 743.5h10.6v1.4h-10.6zM90.3 743.5h11.3v1.4h-11.3zM67 744.5h3.1v1.4h-3.1zM48.9 747.8h11.9v1.4h-11.9zM74 749.9h13.1v1.4h-13.1zM41 751h4.7v1.4h-4.7zM49.1 752.1h7.2v1.4h-7.2zM94.5 752.1h10.1v1.4h-10.1zM41 753.2h8.5v1.4h-8.5zM90.2 753.2h6.5v1.4h-6.5zM41 755.3h7.6v1.4h-7.6zM74.5 755.3h8.7v1.4h-8.7zM64.7 756.4h11.2v1.4h-11.2zM76 757.5h11.5v1.4h-11.5zM95.6 758.6h6.2v1.4h-6.2zM54.3 759.7h8.3v1.4h-8.3zM100.2 759.7h4.4v1.4h-4.4zM97.5 761.8h7.1v1.4h-7.1zM41 762.9h11v1.4h-11zM52 762.9h12.7v1.4h-12.7zM41 766.1h13.5v1.4h-13.5zM96.6 769.4h5.6v1.4h-5.6zM95.7 774.8h8.9v1.4h-8.9zM50.9 775.8h7.8v1.4h-7.8zM50.4 776.9h4.4v1.4h-4.4zM51 778h11.7v1.4h-11.7zM98.9 780.2h5.7v1.4h-5.7zM87.7 782.3h6v1.4h-6zM93.7 782.3h10.9v1.4h-10.9zM94.3 784.5h5.2v1.4h-5.2zM79 785.6h10.4v1.4h-10.4zM76.2 786.6h13.7v1.4h-13.7zM55 788.8h8.2v1.4h-8.2zM91.9 788.8h3.7v1.4h-3.7zM41 789.9h7.4v1.4h-7.4zM78.9 791h11.2v1.4h-11.2zM96.6 793.1h3.7v1.4h-3.7zM41 794.2h6v1.4h-6zM47 794.2h8.6v1.4h-8.6zM52.2 795.3h7.2v1.4h-7.2zM72.7 795.3h7.6v1.4h-7.6zM99.3 795.3h5.3v1.4h-5.3zM41 798.5h4.2v1.4h-4.2zM102.1 798.5h2.5v1.4h-2.5zM64.2 799.6h10.7v1.4h-10.7zM81.6 800.7h12.8v1.4h-12.8zM71.8 803.9h11.7v1.4h-11.7zM62.1 807.2h9.3v1.4h-9.3zM91.2 808.2h6.3v1.4h-6.3zM54.5 811.5h11v1.4h-11zM41 813.6h4.9v1.4h-4.9zM82.3 813.6h10.7v1.4h-10.7zM78.5 815.8h11.7v1.4h-11.7zM90.2 815.8h3.3v1.4h-3.3zM93.5 815.8h4.9v1.4h-4.9zM98.4 815.8h6.2v1.4h-6.2zM60.3 816.9h3.7v1.4h-3.7zM96.8 817.9h7.8v1.4h-7.8zM50.1 819h4.7v1.4h-4.7zM54.9 819h5.2v1.4h-5.2zM67.9 819h12.8v1.4h-12.8zM98.9 819h5.7v1.4h-5.7zM46.7 820.1h11.8v1.4h-11.8zM58.5 820.1h7.4v1.4h-7.4zM87.2 820.1h11.2v1.4h-11.2zM98.4 820.1h6.2v1.4h-6.2zM41 822.3h13.9v1.4h-13.9zM76.8 822.3h4.4v1.4h-4.4zM41 823.3h10.9v1.4h-10.9zM51.9 823.3h5.8v1.4h-5.8zM102 824.4h2.6v1.4h-2.6zM80.6 826.6h3.7v1.4h-3.7zM66.2 830.9h5.3v1.4h-5.3zM48.6 833.1h13.1v1.4h-13.1zM99.9 833.1h4.7v1.4h-4.7zM68.7 834.1h7.3v1.4h-7.3zM89.1 834.1h10.2v1.4h-10.2zM60.6 835.2h13.6v1.4h-13.6zM49.3 836.3h13.2v1.4h-13.2zM62.5 836.3h3.2v1.4h-3.2zM47.7 837.4h12.1v1.4h-12.1zM59.8 837.4h8.3v1.4h-8.3zM41 839.5h3v1.4h-3zM65.3 839.5h12.2v1.4h-12.2zM87.5 839.5h6.9v1.4h-6.9zM50.7 840.6h3.4v1.4h-3.4z" fill="#ed5e3c"/><path d="M86.5 593.4h6.4v1.4h-6.4zM67.1 596.6h9.6v1.4h-9.6zM41 604.2h4.5v1.4h-4.5zM54.4 604.2h12.5v1.4h-12.5zM45.6 623.6h11.2v1.4h-11.2zM51.3 630.1h12.6v1.4h-12.6zM63.9 630.1h10.5v1.4h-10.5zM61.6 635.5h4.4v1.4h-4.4zM52 636.6h9.1v1.4h-9.1zM79.8 636.6h10.8v1.4h-10.8zM51.2 642h8.6v1.4h-8.6zM56.8 656h12.1v1.4h-12.1zM45.9 663.6h8v1.4h-8zM99 667.9h5.6v1.4h-5.6zM74.6 673.3h4.7v1.4h-4.7zM78.1 676.5h14v1.4h-14zM84.3 678.7h11.3v1.4h-11.3zM97.3 679.8h7.3v1.4h-7.3zM100.3 684.1h4.3v1.4h-4.3zM52.6 687.3h8.9v1.4h-8.9zM86.7 687.3h8.4v1.4h-8.4zM95.1 692.7h9.5v1.4h-9.5zM75 702.4h9.2v1.4h-9.2zM45.1 725.1h12.5v1.4h-12.5zM41 727.3h9v1.4h-9zM86.9 731.6h11.2v1.4h-11.2zM100.3 733.7h4.3v1.4h-4.3zM48.8 734.8h8.7v1.4h-8.7zM101.7 735.9h2.9v1.4h-2.9zM41 739.1h3.2v1.4h-3.2zM55.3 741.3h7.5v1.4h-7.5zM66.5 742.4h6.5v1.4h-6.5zM72.9 742.4h8.4v1.4h-8.4zM41 745.6h4.4v1.4h-4.4zM47.6 746.7h4.3v1.4h-4.3zM87.1 749.9h11.6v1.4h-11.6zM87.4 754.3h6.3v1.4h-6.3zM41 761.8h8.9v1.4h-8.9zM41 770.4h6.6v1.4h-6.6zM47.6 770.4h6.9v1.4h-6.9zM54.3 773.7h12.9v1.4h-12.9zM41 778h10v1.4h-10zM54.5 781.2h6.9v1.4h-6.9zM101.1 800.7h3.5v1.4h-3.5zM77.8 806.1h9.3v1.4h-9.3zM68.3 810.4h11.4v1.4h-11.4zM70.4 814.7h9.6v1.4h-9.6zM57.6 824.4h5.9v1.4h-5.9zM71.6 827.7h7.7v1.4h-7.7zM41 835.2h13.8v1.4h-13.8zM77.5 839.5h10v1.4h-10zM78 840.6h12.3v1.4h-12.3z" fill="#fb9e5a"/><path d="M49.9 594.5h10.2v1.4h-10.2zM82.2 596.6h12.1v1.4h-12.1zM80.5 608.5h4.6v1.4h-4.6zM61.5 620.4h7.8v1.4h-7.8zM65.9 635.5h8v1.4h-8zM85 637.7h8.8v1.4h-8.8zM57.8 640.9h4.5v1.4h-4.5zM64 642h13.6v1.4h-13.6zM65.6 643.1h3.6v1.4h-3.6zM98.5 660.3h6.1v1.4h-6.1zM53.3 669h8.9v1.4h-8.9zM63 679.8h7.1v1.4h-7.1zM88.8 680.8h6.2v1.4h-6.2zM84.9 686.2h13.7v1.4h-13.7zM92.5 696h6.6v1.4h-6.6zM75.6 698.1h3.8v1.4h-3.8zM88.7 698.1h13.2v1.4h-13.2zM71.6 703.5h7.8v1.4h-7.8zM76.5 704.6h12.4v1.4h-12.4zM44.9 705.7h3.9v1.4h-3.9zM93.5 711.1h6.2v1.4h-6.2zM95.5 722.9h9.1v1.4h-9.1zM49.2 730.5h3.3v1.4h-3.3zM66.6 735.9h6.5v1.4h-6.5zM52.2 737h12.2v1.4h-12.2zM60.8 747.8h7.4v1.4h-7.4zM66.7 775.8h5.5v1.4h-5.5zM80.7 784.5h13.6v1.4h-13.6zM73.4 789.9h8.9v1.4h-8.9zM55.2 797.4h7.4v1.4h-7.4zM62.5 797.4h6.1v1.4h-6.1zM96.6 797.4h8v1.4h-8zM54.4 807.2h3.6v1.4h-3.6zM46.6 810.4h8.9v1.4h-8.9zM69.8 813.6h12.5v1.4h-12.5zM41 814.7h12.1v1.4h-12.1zM61.6 814.7h8.8v1.4h-8.8zM80.7 819h8.8v1.4h-8.8zM90 832h5.4v1.4h-5.4zM41 840.6h3.5v1.4h-3.5z" fill="#be1826"/><path d="M41 595.6h9.7v1.4h-9.7zM90.4 607.4h14.2v1.4h-14.2zM99.4 610.7h5.2v1.4h-5.2zM69.6 613.9h10.9v1.4h-10.9zM91.7 613.9h12.9v1.4h-12.9zM86.8 616.1h8.3v1.4h-8.3zM98.5 620.4h6.1v1.4h-6.1zM48.9 638.7h4.5v1.4h-4.5zM41 667.9h8v1.4h-8zM75.7 679.8h7.9v1.4h-7.9zM84.1 680.8h4.7v1.4h-4.7zM47.6 684.1h7.5v1.4h-7.5zM75.8 687.3h10.9v1.4h-10.9zM46.9 688.4h9.9v1.4h-9.9zM51.5 691.6h11.1v1.4h-11.1zM41 707.8h7.6v1.4h-7.6zM52.4 710h4.1v1.4h-4.1zM60.3 715.4h13.8v1.4h-13.8zM53.8 719.7h6.7v1.4h-6.7zM45.4 731.6h5.4v1.4h-5.4zM55.5 731.6h5.7v1.4h-5.7zM41 735.9h12.3v1.4h-12.3zM98.5 735.9h3.3v1.4h-3.3zM77.3 743.5h13v1.4h-13zM70.2 744.5h9.8v1.4h-9.8zM41 752.1h8.1v1.4h-8.1zM68.4 779.1h13.2v1.4h-13.2zM82 782.3h5.7v1.4h-5.7zM80.3 787.7h6.5v1.4h-6.5zM76.8 793.1h9.2v1.4h-9.2zM75.7 794.2h9.4v1.4h-9.4zM64.4 796.4h11.5v1.4h-11.5zM64.7 805h4.3v1.4h-4.3zM55.4 810.4h6v1.4h-6zM93.8 821.2h5.9v1.4h-5.9zM68.5 822.3h8.3v1.4h-8.3zM57.7 823.3h8.4v1.4h-8.4zM102.6 826.6h2v1.4h-2zM41 827.7h13.1v1.4h-13.1zM60.4 829.8h6.3v1.4h-6.3zM97.4 838.5h4.5v1.4h-4.5z" fill="#ca2427"/><path d="M64.8 595.6h9.8v1.4h-9.8zM94.3 596.6h7.2v1.4h-7.2zM99.3 623.6h5.3v1.4h-5.3zM95.1 626.9h9.5v1.4h-9.5zM41 661.4h4.1v1.4h-4.1zM97.3 663.6h7.3v1.4h-7.3zM76.1 669h13.2v1.4h-13.2zM86.9 671.1h12.7v1.4h-12.7zM53.8 679.8h9.3v1.4h-9.3zM62.8 684.1h11.2v1.4h-11.2zM57.1 685.2h11.2v1.4h-11.2zM95 685.2h9.6v1.4h-9.6zM47.8 690.6h11v1.4h-11zM102.5 699.2h2.1v1.4h-2.1zM41 701.4h13.2v1.4h-13.2zM66.5 701.4h13.3v1.4h-13.3zM95.4 703.5h6v1.4h-6zM63.7 706.8h5.1v1.4h-5.1zM41 728.3h7.3v1.4h-7.3zM95.7 734.8h8.9v1.4h-8.9zM93.2 738.1h11.4v1.4h-11.4zM97.8 741.3h6.8v1.4h-6.8zM41 743.5h8.7v1.4h-8.7zM101.7 745.6h2.9v1.4h-2.9zM52.4 769.4h11.5v1.4h-11.5zM54.5 770.4h12.3v1.4h-12.3zM46.3 771.5h6.7v1.4h-6.7zM63.7 783.4h9.5v1.4h-9.5zM56.1 784.5h8.1v1.4h-8.1zM41 785.6h8.4v1.4h-8.4zM90.6 792h8.7v1.4h-8.7zM86 793.1h10.6v1.4h-10.6zM87.8 795.3h11.5v1.4h-11.5zM46.6 797.4h8.5v1.4h-8.5zM41 801.8h7.4v1.4h-7.4zM100.5 802.8h4.1v1.4h-4.1zM90.6 803.9h5.5v1.4h-5.5zM59.1 806.1h7.8v1.4h-7.8zM41 807.2h6.2v1.4h-6.2zM84.5 812.6h13.9v1.4h-13.9zM100.7 814.7h3.9v1.4h-3.9zM41 821.2h10.1v1.4h-10.1zM89.1 822.3h7.4v1.4h-7.4zM96.4 822.3h8.2v1.4h-8.2zM89 825.5h5.7v1.4h-5.7zM67.4 832h3.4v1.4h-3.4zM41 834.1h9.9v1.4h-9.9zM80.3 835.2h12.9v1.4h-12.9zM65.7 836.3h12.6v1.4h-12.6zM101.9 838.5h2.7v1.4h-2.7z" fill="#de3f2e"/><path d="M74.6 595.6h13.6v1.4h-13.6zM56.4 597.7h4.4v1.4h-4.4zM71.5 616.1h3.7v1.4h-3.7zM66.2 623.6h4.2v1.4h-4.2zM84.6 642h10.1v1.4h-10.1zM81.6 643.1h5v1.4h-5zM41 647.4h4.3v1.4h-4.3zM69 665.7h4.7v1.4h-4.7zM53.9 672.2h4v1.4h-4zM41 687.3h11.6v1.4h-11.6zM71.7 687.3h4.1v1.4h-4.1zM67.5 691.6h11v1.4h-11zM78.5 691.6h4.8v1.4h-4.8zM63.5 694.9h7.1v1.4h-7.1zM79.5 700.3h14v1.4h-14zM93.2 708.9h4.9v1.4h-4.9zM63.1 712.2h13.2v1.4h-13.2zM41 744.5h13v1.4h-13zM85.3 745.6h7.4v1.4h-7.4zM71.2 747.8h11.6v1.4h-11.6zM55.3 755.3h9.8v1.4h-9.8zM82.1 771.5h3v1.4h-3zM76.8 773.7h6.5v1.4h-6.5zM78.6 781.2h12.9v1.4h-12.9zM71.6 787.7h8.7v1.4h-8.7zM58 807.2h4.2v1.4h-4.2zM71.4 807.2h10v1.4h-10zM53.7 809.3h5.3v1.4h-5.3zM73.2 823.3h12.6v1.4h-12.6zM79.9 825.5h9.1v1.4h-9.1zM57.1 830.9h9.1v1.4h-9.1zM89.5 836.3h8v1.4h-8z" fill="#f0f9dc"/><path d="M99.7 595.6h4.9v1.4h-4.9zM82.5 610.7h5.9v1.4h-5.9zM74.2 611.7h10.7v1.4h-10.7zM84.7 612.8h3.5v1.4h-3.5zM61.8 613.9h4.2v1.4h-4.2zM52.8 622.5h4.1v1.4h-4.1zM57 626.9h13.7v1.4h-13.7zM74.7 626.9h12.9v1.4h-12.9zM71.7 634.4h4v1.4h-4zM58.5 638.7h14v1.4h-14zM59.1 645.2h5.9v1.4h-5.9zM45.1 661.4h11.6v1.4h-11.6zM56.8 671.1h4.4v1.4h-4.4zM70.1 679.8h5.6v1.4h-5.6zM41 689.5h10.8v1.4h-10.8zM48.9 705.7h13.7v1.4h-13.7zM85.7 707.8h6.6v1.4h-6.6zM52.7 717.5h10.1v1.4h-10.1zM74.7 731.6h12.3v1.4h-12.3zM73.1 735.9h3.3v1.4h-3.3zM61 746.7h11v1.4h-11zM84.9 746.7h8.3v1.4h-8.3zM62.1 757.5h13.8v1.4h-13.8zM80.4 761.8h8v1.4h-8zM74 767.2h5.9v1.4h-5.9zM41 780.2h11.5v1.4h-11.5zM60.7 782.3h7.2v1.4h-7.2zM67.9 782.3h8.7v1.4h-8.7zM100.8 806.1h3.8v1.4h-3.8zM65.5 811.5h9.7v1.4h-9.7zM92.9 813.6h4.3v1.4h-4.3zM41 816.9h8.7v1.4h-8.7zM47.7 817.9h10.6v1.4h-10.6zM82.2 834.1h6.8v1.4h-6.8z" fill="#fec778"/><path d="M46.7 596.6h13.5v1.4h-13.5zM86.7 598.8h6.1v1.4h-6.1zM94.3 606.4h8.1v1.4h-8.1zM41 608.5h4.6v1.4h-4.6zM46.9 609.6h6v1.4h-6zM61.1 611.7h13.1v1.4h-13.1zM100.2 611.7h4.4v1.4h-4.4zM63.7 612.8h4v1.4h-4zM100.3 615h4.3v1.4h-4.3zM62.6 618.2h4.1v1.4h-4.1zM45.6 619.3h3.7v1.4h-3.7zM94.1 619.3h5.7v1.4h-5.7zM41 621.5h4v1.4h-4zM96 622.5h8.6v1.4h-8.6zM41 623.6h4.6v1.4h-4.6zM93.5 631.2h11.1v1.4h-11.1zM53.4 638.7h5v1.4h-5zM41 640.9h5v1.4h-5zM41 642h4.3v1.4h-4.3zM96.4 645.2h3.4v1.4h-3.4zM99.8 645.2h4.8v1.4h-4.8zM58.4 648.5h13.1v1.4h-13.1zM49.6 649.5h11.9v1.4h-11.9zM41 653.9h5.1v1.4h-5.1zM41 659.3h11.8v1.4h-11.8zM51.4 662.5h13.7v1.4h-13.7zM41 663.6h4.9v1.4h-4.9zM89.3 669h11.6v1.4h-11.6zM99.6 671.1h5v1.4h-5zM48.1 673.3h9.4v1.4h-9.4zM52.1 674.4h9.6v1.4h-9.6zM41 677.6h9.3v1.4h-9.3zM41 678.7h4.2v1.4h-4.2zM83.6 679.8h4v1.4h-4zM69.8 681.9h13.7v1.4h-13.7zM41 684.1h3.1v1.4h-3.1zM51.8 689.5h6.6v1.4h-6.6zM64 689.5h13.2v1.4h-13.2zM87.9 691.6h5.8v1.4h-5.8zM54.9 696h3.8v1.4h-3.8zM55.5 698.1h6.3v1.4h-6.3zM84.2 702.4h5.6v1.4h-5.6zM50.7 706.8h5.2v1.4h-5.2zM56.5 710h10.4v1.4h-10.4zM57.5 711.1h5.4v1.4h-5.4zM95.7 714.3h3.2v1.4h-3.2zM88 715.4h13.3v1.4h-13.3zM74.4 717.5h13.5v1.4h-13.5zM41 719.7h12.8v1.4h-12.8zM41 722.9h12.9v1.4h-12.9zM41 724h11.5v1.4h-11.5zM84.9 725.1h10.3v1.4h-10.3zM41 726.2h5.5v1.4h-5.5zM54.9 726.2h11.1v1.4h-11.1zM50 727.3h5.6v1.4h-5.6zM41 734.8h7.8v1.4h-7.8zM53.3 735.9h13.3v1.4h-13.3zM84.5 735.9h13.9v1.4h-13.9zM41 740.2h3.7v1.4h-3.7zM62.8 741.3h3.7v1.4h-3.7zM41 746.7h6.6v1.4h-6.6zM50.3 749.9h5.5v1.4h-5.5zM98.7 749.9h5.9v1.4h-5.9zM56.7 753.2h7.1v1.4h-7.1zM96.6 753.2h8v1.4h-8zM91.5 755.3h13.1v1.4h-13.1zM41 756.4h12.4v1.4h-12.4zM101.5 757.5h3.1v1.4h-3.1zM50.8 758.6h5.9v1.4h-5.9zM101.8 758.6h2.8v1.4h-2.8zM52.6 760.7h9.7v1.4h-9.7zM92 760.7h12.6v1.4h-12.6zM91.2 766.1h11.4v1.4h-11.4zM92.6 767.2h6.8v1.4h-6.8zM89.8 768.3h8.6v1.4h-8.6zM102.1 769.4h2.5v1.4h-2.5zM41 771.5h5.3v1.4h-5.3zM101.5 771.5h3.1v1.4h-3.1zM41 772.6h7.5v1.4h-7.5zM84.5 775.8h5.7v1.4h-5.7zM41 776.9h9.4v1.4h-9.4zM100.4 776.9h4.2v1.4h-4.2zM66.2 780.2h4.4v1.4h-4.4zM82.1 780.2h6.7v1.4h-6.7zM88.8 780.2h10.1v1.4h-10.1zM59.1 783.4h4.6v1.4h-4.6zM96 783.4h8.6v1.4h-8.6zM41 784.5h10.1v1.4h-10.1zM49.4 785.6h13.6v1.4h-13.6zM63 785.6h8.7v1.4h-8.7zM41 786.6h4.6v1.4h-4.6zM89.9 786.6h12.7v1.4h-12.7zM58.4 787.7h5.8v1.4h-5.8zM48.4 789.9h13.2v1.4h-13.2zM44.6 792h6.3v1.4h-6.3zM56.1 792h5.3v1.4h-5.3zM41 793.1h10.9v1.4h-10.9zM73 793.1h3.9v1.4h-3.9zM100.3 793.1h4.3v1.4h-4.3zM64 794.2h3.1v1.4h-3.1zM41 796.4h13.6v1.4h-13.6zM53.1 799.6h11.2v1.4h-11.2zM90.8 799.6h7.6v1.4h-7.6zM52.8 800.7h11.9v1.4h-11.9zM64.8 800.7h11.5v1.4h-11.5zM94.4 800.7h6.6v1.4h-6.6zM57.9 801.8h7.5v1.4h-7.5zM46.7 802.8h4.4v1.4h-4.4zM51.1 802.8h8.6v1.4h-8.6zM72.6 802.8h5.7v1.4h-5.7zM53.9 803.9h10.9v1.4h-10.9zM41 805h3.3v1.4h-3.3zM81.4 807.2h6.4v1.4h-6.4zM41 809.3h12.7v1.4h-12.7zM59 809.3h3v1.4h-3zM96.6 809.3h8v1.4h-8zM85.1 811.5h9.9v1.4h-9.9zM41 815.8h10.5v1.4h-10.5zM87.2 817.9h9.6v1.4h-9.6zM85.3 827.7h7.4v1.4h-7.4zM41 830.9h9.1v1.4h-9.1zM50.1 830.9h7v1.4h-7zM95.4 832h9.2v1.4h-9.2zM50.9 834.1h3.2v1.4h-3.2zM54 834.1h5.5v1.4h-5.5zM41 838.5h11.7v1.4h-11.7zM44 839.5h9.1v1.4h-9.1zM94.4 839.5h5.2v1.4h-5.2zM54.1 840.6h4.3v1.4h-4.3zM58.3 840.6h11.6v1.4h-11.6z" fill="#f67d4a"/><path d="M90.4 597.7h6.9v1.4h-6.9zM41 602h5.1v1.4h-5.1zM67.6 602h12.2v1.4h-12.2zM57.5 605.3h6.3v1.4h-6.3zM52.9 609.6h12.7v1.4h-12.7zM41 610.7h12.2v1.4h-12.2zM53.7 611.7h7.5v1.4h-7.5zM41 615h4.6v1.4h-4.6zM45.6 615h5.3v1.4h-5.3zM61.1 616.1h10.4v1.4h-10.4zM41 617.1h9.5v1.4h-9.5zM41 620.4h11.6v1.4h-11.6zM41 622.5h11.8v1.4h-11.8zM47.7 632.3h12.1v1.4h-12.1zM93 632.3h11.6v1.4h-11.6zM41 633.3h4.1v1.4h-4.1zM81.4 633.3h12.2v1.4h-12.2zM51.4 634.4h11.2v1.4h-11.2zM97.9 635.5h6.7v1.4h-6.7zM49.7 637.7h8.4v1.4h-8.4zM41 639.8h8.7v1.4h-8.7zM62.3 640.9h6.3v1.4h-6.3zM41 644.1h13.9v1.4h-13.9zM99.3 646.3h5.3v1.4h-5.3zM41 648.5h6.9v1.4h-6.9zM41 650.6h11.8v1.4h-11.8zM44.9 651.7h6.7v1.4h-6.7zM46.1 653.9h13.4v1.4h-13.4zM99.3 656h5.3v1.4h-5.3zM53.9 663.6h6.4v1.4h-6.4zM50.1 665.7h3v1.4h-3zM62.2 669h13.9v1.4h-13.9zM100.9 669h3.7v1.4h-3.7zM57.3 670h7.4v1.4h-7.4zM95.7 670h8.9v1.4h-8.9zM41 671.1h8.9v1.4h-8.9zM61.2 671.1h3.3v1.4h-3.3zM61.7 674.4h4.2v1.4h-4.2zM86.9 675.4h10.3v1.4h-10.3zM44.6 676.5h12v1.4h-12zM87.6 679.8h3.4v1.4h-3.4zM41 680.8h6.9v1.4h-6.9zM41 683h6.6v1.4h-6.6zM60.8 683h10.6v1.4h-10.6zM98.6 686.2h6v1.4h-6zM41 692.7h10.3v1.4h-10.3zM62.6 692.7h6v1.4h-6zM95.4 694.9h9.2v1.4h-9.2zM81 697h5.6v1.4h-5.6zM86.6 697h10.5v1.4h-10.5zM41 698.1h8.1v1.4h-8.1zM49.1 698.1h6.4v1.4h-6.4zM86.6 701.4h7.9v1.4h-7.9zM41 704.6h11.4v1.4h-11.4zM41 705.7h3.9v1.4h-3.9zM71 705.7h3.7v1.4h-3.7zM66.9 710h3.6v1.4h-3.6zM66.4 711.1h6.1v1.4h-6.1zM102 712.2h2.6v1.4h-2.6zM60.5 713.2h8.9v1.4h-8.9zM41 715.4h13.3v1.4h-13.3zM62.5 718.6h11.8v1.4h-11.8zM41 721.9h13.8v1.4h-13.8zM68.1 722.9h8.9v1.4h-8.9zM93.7 730.5h10.9v1.4h-10.9zM61.2 731.6h4.1v1.4h-4.1zM98.1 731.6h6.5v1.4h-6.5zM41 732.7h7.5v1.4h-7.5zM48.5 732.7h11.9v1.4h-11.9zM93.9 732.7h10.7v1.4h-10.7zM41 733.7h7v1.4h-7zM71.2 733.7h7.5v1.4h-7.5zM86.4 734.8h9.3v1.4h-9.3zM41 737h11.2v1.4h-11.2zM95.4 737h9.2v1.4h-9.2zM57.6 739.1h12.5v1.4h-12.5zM55.6 740.2h11.8v1.4h-11.8zM81.2 740.2h7.2v1.4h-7.2zM88.4 740.2h10.5v1.4h-10.5zM80 741.3h6v1.4h-6zM101.6 743.5h3v1.4h-3zM51.9 746.7h9.1v1.4h-9.1zM68.2 747.8h3v1.4h-3zM97.9 748.9h6.7v1.4h-6.7zM41 749.9h9.3v1.4h-9.3zM55.8 749.9h9.2v1.4h-9.2zM65.1 749.9h8.9v1.4h-8.9zM53.3 751h13v1.4h-13zM69.8 751h11.3v1.4h-11.3zM81.1 751h10.2v1.4h-10.2zM56.3 752.1h10.9v1.4h-10.9zM63.7 753.2h11.6v1.4h-11.6zM79.2 753.2h10.9v1.4h-10.9zM65.1 755.3h9.4v1.4h-9.4zM53.4 756.4h11.3v1.4h-11.3zM95.1 757.5h6.5v1.4h-6.5zM76.6 758.6h7.1v1.4h-7.1zM87.8 759.7h12.4v1.4h-12.4zM57.7 761.8h3.3v1.4h-3.3zM41 764h12.4v1.4h-12.4zM63.5 764h3.4v1.4h-3.4zM72.1 764h8v1.4h-8zM89.5 764h6.5v1.4h-6.5zM102.6 765h2v1.4h-2zM56.2 767.2h5.3v1.4h-5.3zM61.4 767.2h12.5v1.4h-12.5zM87.8 769.4h3.5v1.4h-3.5zM66.8 770.4h13.8v1.4h-13.8zM78.9 771.5h3.2v1.4h-3.2zM57.7 772.6h5.4v1.4h-5.4zM63 772.6h7.8v1.4h-7.8zM41 773.7h6.6v1.4h-6.6zM47.6 773.7h6.7v1.4h-6.7zM83.3 773.7h7.9v1.4h-7.9zM91.2 773.7h4.6v1.4h-4.6zM60.9 774.8h3.5v1.4h-3.5zM75.8 774.8h8.8v1.4h-8.8zM58.7 775.8h7.9v1.4h-7.9zM54.9 776.9h4.5v1.4h-4.5zM59.4 776.9h7.9v1.4h-7.9zM67.2 776.9h7v1.4h-7zM62.7 778h10.9v1.4h-10.9zM90 778h11.3v1.4h-11.3zM101.3 778h3.3v1.4h-3.3zM55.3 779.1h5.3v1.4h-5.3zM91.6 779.1h8.3v1.4h-8.3zM52.5 780.2h13.7v1.4h-13.7zM41 781.2h5.5v1.4h-5.5zM70.3 781.2h4.5v1.4h-4.5zM64.2 784.5h5.9v1.4h-5.9zM96.3 785.6h8.3v1.4h-8.3zM45.6 786.6h8.1v1.4h-8.1zM52.1 787.7h6.4v1.4h-6.4zM99.8 787.7h4.8v1.4h-4.8zM86.7 788.8h5.2v1.4h-5.2zM46.3 791h12.9v1.4h-12.9zM59.2 791h7.3v1.4h-7.3zM41 792h3.6v1.4h-3.6zM51.9 793.1h11.9v1.4h-11.9zM55.6 794.2h8.4v1.4h-8.4zM85.1 794.2h3.4v1.4h-3.4zM93.8 794.2h7.2v1.4h-7.2zM101 794.2h3.6v1.4h-3.6zM80.2 795.3h7.5v1.4h-7.5zM54.6 796.4h9.7v1.4h-9.7zM67.4 798.5h7v1.4h-7zM82.4 798.5h6.8v1.4h-6.8zM98.8 798.5h3.3v1.4h-3.3zM41 799.6h12.1v1.4h-12.1zM41 800.7h11.8v1.4h-11.8zM76.3 800.7h5.3v1.4h-5.3zM65.4 801.8h13.6v1.4h-13.6zM59.7 802.8h12.9v1.4h-12.9zM78.3 802.8h9v1.4h-9zM41 803.9h12.9v1.4h-12.9zM96.1 803.9h8.5v1.4h-8.5zM57.5 805h7.2v1.4h-7.2zM69 805h9.1v1.4h-9.1zM88.3 805h10.6v1.4h-10.6zM41 808.2h4.3v1.4h-4.3zM68.3 808.2h7.6v1.4h-7.6zM75.9 808.2h3.1v1.4h-3.1zM41 810.4h5.6v1.4h-5.6zM61.4 810.4h6.9v1.4h-6.9zM75.2 811.5h9.9v1.4h-9.9zM95 811.5h9.6v1.4h-9.6zM41 812.6h8.5v1.4h-8.5zM49.5 812.6h11.6v1.4h-11.6zM45.9 813.6h10.9v1.4h-10.9zM56.7 813.6h6.9v1.4h-6.9zM63.7 813.6h6.1v1.4h-6.1zM101.5 813.6h3.1v1.4h-3.1zM62.2 815.8h8.6v1.4h-8.6zM70.8 815.8h7.7v1.4h-7.7zM75.1 816.9h12.3v1.4h-12.3zM95.1 816.9h9.5v1.4h-9.5zM77.7 817.9h9.5v1.4h-9.5zM65.9 820.1h6.3v1.4h-6.3zM72.2 820.1h3.4v1.4h-3.4zM99.8 821.2h4.8v1.4h-4.8zM54.9 822.3h13.6v1.4h-13.6zM81.3 822.3h7.8v1.4h-7.8zM92.4 823.3h12.2v1.4h-12.2zM63.5 824.4h5.2v1.4h-5.2zM80.8 824.4h3.3v1.4h-3.3zM76.2 825.5h3.7v1.4h-3.7zM41 826.6h6.6v1.4h-6.6zM63.9 826.6h11.5v1.4h-11.5zM75.4 826.6h5.2v1.4h-5.2zM79.4 827.7h5.9v1.4h-5.9zM41 828.7h11v1.4h-11zM52 828.7h5v1.4h-5zM68.3 828.7h10.7v1.4h-10.7zM88.2 828.7h13.2v1.4h-13.2zM101.4 828.7h3.2v1.4h-3.2zM56.6 829.8h3.8v1.4h-3.8zM71.5 830.9h4.4v1.4h-4.4zM82.7 830.9h12.7v1.4h-12.7zM95.5 830.9h9.1v1.4h-9.1zM53.7 832h13.7v1.4h-13.7zM41 833.1h7.6v1.4h-7.6zM66.4 833.1h8.9v1.4h-8.9zM91.8 833.1h8.1v1.4h-8.1zM97.6 836.3h7v1.4h-7zM74.9 837.4h10v1.4h-10zM96.5 837.4h8.1v1.4h-8.1zM99.6 839.5h5v1.4h-5zM70 840.6h8.1v1.4h-8.1zM94.2 840.6h10.4v1.4h-10.4z" fill="#f46d43"/><path d="M46.3 598.8h6.8v1.4h-6.8zM41 599.9h8.3v1.4h-8.3zM89.3 599.9h3.3v1.4h-3.3zM77.7 601h9.6v1.4h-9.6zM63.8 605.3h6.5v1.4h-6.5zM102.4 606.4h2.2v1.4h-2.2zM57.2 610.7h11.7v1.4h-11.7zM53.5 612.8h10.2v1.4h-10.2zM100.5 612.8h4.1v1.4h-4.1zM41 629h12.6v1.4h-12.6zM45.1 633.3h8.1v1.4h-8.1zM90.9 634.4h6.8v1.4h-6.8zM41 636.6h7.4v1.4h-7.4zM41 645.2h11v1.4h-11zM67.8 646.3h6.4v1.4h-6.4zM55.6 647.4h13v1.4h-13zM97.5 648.5h7.1v1.4h-7.1zM44.5 649.5h5.2v1.4h-5.2zM41 651.7h3.9v1.4h-3.9zM96.2 661.4h8.4v1.4h-8.4zM41 665.7h9.1v1.4h-9.1zM95.1 665.7h9.5v1.4h-9.5zM58.1 666.8h10.9v1.4h-10.9zM45.2 678.7h6.5v1.4h-6.5zM47.6 683h13.2v1.4h-13.2zM96.8 683h5.2v1.4h-5.2zM55.1 684.1h7.7v1.4h-7.7zM99 688.4h5.6v1.4h-5.6zM62.6 691.6h4.9v1.4h-4.9zM61.1 699.2h9.9v1.4h-9.9zM62.6 705.7h8.4v1.4h-8.4zM48.8 713.2h11.7v1.4h-11.7zM98.9 714.3h5.7v1.4h-5.7zM45.4 745.6h13.3v1.4h-13.3zM93.5 747.8h4.6v1.4h-4.6zM66.3 751h3.5v1.4h-3.5zM41 754.3h3v1.4h-3zM93.7 754.3h10.9v1.4h-10.9zM56.7 758.6h10.1v1.4h-10.1zM64.5 765h4.2v1.4h-4.2zM60.9 771.5h4v1.4h-4zM85.2 771.5h11.3v1.4h-11.3zM41 774.8h4.2v1.4h-4.2zM83.4 776.9h3.1v1.4h-3.1zM91.1 776.9h5.2v1.4h-5.2zM61.4 781.2h8.9v1.4h-8.9zM98.6 781.2h6v1.4h-6zM53.9 782.3h6.8v1.4h-6.8zM51.3 783.4h7.8v1.4h-7.8zM50.9 792h5.2v1.4h-5.2zM67.1 794.2h8.6v1.4h-8.6zM100.5 796.4h4.1v1.4h-4.1zM68.7 797.4h12.8v1.4h-12.8zM45.2 798.5h10.3v1.4h-10.3zM48.4 801.8h9.6v1.4h-9.6zM41 802.8h5.7v1.4h-5.7zM83.5 803.9h7.1v1.4h-7.1zM100.9 807.2h3.7v1.4h-3.7zM91.7 810.4h4.7v1.4h-4.7zM72.5 812.6h12v1.4h-12zM68.7 821.2h11.2v1.4h-11.2zM61.9 827.7h9.7v1.4h-9.7zM57 828.7h11.3v1.4h-11.3zM41 829.8h6.3v1.4h-6.3zM47.3 829.8h9.4v1.4h-9.4zM81.1 832h8.9v1.4h-8.9zM75.3 833.1h10.7v1.4h-10.7zM54.8 835.2h5.8v1.4h-5.8zM74.2 835.2h6.1v1.4h-6.1zM55.7 838.5h8.7v1.4h-8.7z" fill="#f88e52"/><path d="M66.7 598.8h3.8v1.4h-3.8zM48.6 605.3h8.9v1.4h-8.9zM49.5 618.2h13.2v1.4h-13.2zM71 621.5h8.2v1.4h-8.2zM78 627.9h9v1.4h-9zM82.5 634.4h8.4v1.4h-8.4zM48.4 636.6h3.5v1.4h-3.5zM46 640.9h7.3v1.4h-7.3zM81.2 647.4h10.7v1.4h-10.7zM41 649.5h3.5v1.4h-3.5zM85.9 654.9h10v1.4h-10zM82.4 656h5v1.4h-5zM41 657.1h12.1v1.4h-12.1zM52.8 659.3h13.5v1.4h-13.5zM81.5 666.8h8.2v1.4h-8.2zM49 667.9h3.8v1.4h-3.8zM102 674.4h2.6v1.4h-2.6zM44.1 684.1h3.5v1.4h-3.5zM61.5 687.3h4.8v1.4h-4.8zM99.3 693.8h5.3v1.4h-5.3zM99.1 696h5.5v1.4h-5.5zM85.6 698.1h3.1v1.4h-3.1zM71.9 721.9h11.3v1.4h-11.3zM77 722.9h12.3v1.4h-12.3zM52.7 739.1h4.9v1.4h-4.9zM54 744.5h13.1v1.4h-13.1zM48.8 751h4.4v1.4h-4.4zM49.5 753.2h7.2v1.4h-7.2zM75.9 756.4h10.4v1.4h-10.4zM86.2 756.4h13.9v1.4h-13.9zM87.5 757.5h7.6v1.4h-7.6zM89.8 772.6h9.8v1.4h-9.8zM95.8 773.7h8.8v1.4h-8.8zM41 787.7h5v1.4h-5zM63.7 793.1h9.2v1.4h-9.2zM88.7 826.6h13.9v1.4h-13.9zM76 830.9h6.8v1.4h-6.8zM61.7 833.1h4.6v1.4h-4.6zM75.9 834.1h6.3v1.4h-6.3zM93.2 835.2h5.6v1.4h-5.6zM41 836.3h8.3v1.4h-8.3zM83.6 836.3h6v1.4h-6z" fill="#fdae61"/><path d="M64.3 599.9h5.6v1.4h-5.6zM87.6 618.2h8v1.4h-8zM95.7 618.2h3.1v1.4h-3.1zM52.1 625.8h12v1.4h-12zM52.4 631.2h13.2v1.4h-13.2zM61.1 636.6h8.7v1.4h-8.7zM95.9 639.8h8.7v1.4h-8.7zM85 652.8h7.1v1.4h-7.1zM66.6 653.9h5.6v1.4h-5.6zM49.1 660.3h13v1.4h-13zM83.6 667.9h9.6v1.4h-9.6zM44.3 670h7.1v1.4h-7.1zM67.1 672.2h6.5v1.4h-6.5zM77.5 686.2h7.4v1.4h-7.4zM93.7 691.6h10.9v1.4h-10.9zM72 696h11.4v1.4h-11.4zM41 703.5h8.4v1.4h-8.4zM86.8 706.8h5.9v1.4h-5.9zM78.6 727.3h9.2v1.4h-9.2zM57.9 728.3h10.1v1.4h-10.1zM77 730.5h12.9v1.4h-12.9zM67.3 745.6h4.8v1.4h-4.8zM83.2 755.3h8.3v1.4h-8.3zM62.6 759.7h13.1v1.4h-13.1zM51.2 765h5.5v1.4h-5.5zM96.5 771.5h5v1.4h-5zM48.5 772.6h9.1v1.4h-9.1zM67.2 773.7h9.6v1.4h-9.6zM64.4 774.8h11.5v1.4h-11.5zM70.6 780.2h11.5v1.4h-11.5zM91.6 781.2h7v1.4h-7zM70.1 784.5h10.6v1.4h-10.6zM99.5 784.5h5.1v1.4h-5.1zM64.3 787.7h7.3v1.4h-7.3zM93.8 796.4h6.7v1.4h-6.7zM41 797.4h5.6v1.4h-5.6zM98.4 799.6h6.2v1.4h-6.2zM62.1 809.3h5.4v1.4h-5.4z" fill="#fff7b3"/><path d="M57.5 602h5.9v1.4h-5.9zM90.4 602h8.7v1.4h-8.7zM41 603.1h12.3v1.4h-12.3zM55 608.5h11v1.4h-11zM100.2 609.6h4.4v1.4h-4.4zM41 619.3h4.6v1.4h-4.6zM41 624.7h5.9v1.4h-5.9zM100.6 637.7h4v1.4h-4zM92.2 648.5h5.3v1.4h-5.3zM71.5 652.8h13.5v1.4h-13.5zM47.6 656h9.2v1.4h-9.2zM78.3 656h4.1v1.4h-4.1zM83.5 659.3h4v1.4h-4zM41 660.3h8.1v1.4h-8.1zM53.1 665.7h11.9v1.4h-11.9zM89.8 666.8h14.8v1.4h-14.8zM70.8 667.9h3.7v1.4h-3.7zM69.2 670h5.7v1.4h-5.7zM97.2 675.4h4.2v1.4h-4.2zM61.2 680.8h5.7v1.4h-5.7zM64.7 686.2h12.8v1.4h-12.8zM89.9 699.2h12.6v1.4h-12.6zM41 714.3h5.6v1.4h-5.6zM97.7 716.5h6.9v1.4h-6.9zM92.4 717.5h12.2v1.4h-12.2zM89.3 722.9h6.2v1.4h-6.2zM71.9 746.7h13v1.4h-13zM41 757.5h5v1.4h-5zM75.7 759.7h12.1v1.4h-12.1zM41 760.7h11.6v1.4h-11.6zM66.2 768.3h8v1.4h-8zM70.9 772.6h6.6v1.4h-6.6zM56.4 774.8h4.5v1.4h-4.5zM41 779.1h5.8v1.4h-5.8zM41 782.3h12.9v1.4h-12.9zM62.3 786.6h13.9v1.4h-13.9zM85.4 797.4h11.2v1.4h-11.2zM87.3 802.8h13.2v1.4h-13.2zM61.1 812.6h11.4v1.4h-11.4zM98.4 812.6h6.2v1.4h-6.2zM41 819h9.1v1.4h-9.1zM75.6 820.1h11.6v1.4h-11.6zM53.2 825.5h10.3v1.4h-10.3z" fill="#f7fccd"/><path d="M65.9 607.4h6.6v1.4h-6.6zM41 612.8h12.5v1.4h-12.5zM87.5 620.4h4.3v1.4h-4.3zM52.7 624.7h12.7v1.4h-12.7zM96 624.7h8.6v1.4h-8.6zM53.6 629h7.5v1.4h-7.5zM65.6 631.2h7.2v1.4h-7.2zM93.6 633.3h7.7v1.4h-7.7zM41 662.5h10.4v1.4h-10.4zM89.5 672.2h6.9v1.4h-6.9zM101.6 673.3h3v1.4h-3zM41 674.4h5.8v1.4h-5.8zM46.1 675.4h9.5v1.4h-9.5zM50.3 677.6h7.9v1.4h-7.9zM95.5 678.7h9.1v1.4h-9.1zM64.7 681.9h5.2v1.4h-5.2zM58.5 689.5h5.5v1.4h-5.5zM41 690.6h6.8v1.4h-6.8zM58.7 690.6h7.9v1.4h-7.9zM41 694.9h9.2v1.4h-9.2zM50.2 694.9h13.4v1.4h-13.4zM65.5 700.3h14v1.4h-14zM100.8 702.4h3.8v1.4h-3.8zM88.8 704.6h9.7v1.4h-9.7zM41 713.2h7.8v1.4h-7.8zM68.5 714.3h6.1v1.4h-6.1zM98.9 719.7h5.7v1.4h-5.7zM54.8 721.9h7.1v1.4h-7.1zM48.3 728.3h9.6v1.4h-9.6zM96 728.3h5.8v1.4h-5.8zM58.7 729.4h12.8v1.4h-12.8zM89.9 730.5h3.8v1.4h-3.8zM57.6 733.7h6.6v1.4h-6.6zM41 738.1h9.3v1.4h-9.3zM61.6 738.1h13.8v1.4h-13.8zM73.1 739.1h10.2v1.4h-10.2zM41 742.4h8.8v1.4h-8.8zM53.7 742.4h12.8v1.4h-12.8zM99.8 742.4h4.8v1.4h-4.8zM73 743.5h4.3v1.4h-4.3zM51.8 748.9h13.3v1.4h-13.3zM45.7 751h3.1v1.4h-3.1zM67.2 752.1h8.3v1.4h-8.3zM46 757.5h12.1v1.4h-12.1zM66.8 758.6h9.9v1.4h-9.9zM67.2 760.7h11.8v1.4h-11.8zM49.9 761.8h7.8v1.4h-7.8zM98.9 762.9h5.7v1.4h-5.7zM68.2 766.1h12.9v1.4h-12.9zM86.2 766.1h5v1.4h-5zM50.1 767.2h6.1v1.4h-6.1zM79.8 767.2h12.8v1.4h-12.8zM41 768.3h11.4v1.4h-11.4zM99.5 772.6h5.1v1.4h-5.1zM45.2 774.8h11.2v1.4h-11.2zM90.2 775.8h5.6v1.4h-5.6zM74.2 776.9h9.1v1.4h-9.1zM99.9 779.1h4.7v1.4h-4.7zM46.5 781.2h8v1.4h-8zM73.2 783.4h13.7v1.4h-13.7zM51.1 784.5h5v1.4h-5zM71.7 785.6h7.2v1.4h-7.2zM102.6 786.6h2v1.4h-2zM63.2 788.8h12.4v1.4h-12.4zM61.6 789.9h11.8v1.4h-11.8zM100.9 791h3.7v1.4h-3.7zM99.2 792h5.4v1.4h-5.4zM41 795.3h11.2v1.4h-11.2zM59.4 795.3h13.3v1.4h-13.3zM75.9 796.4h11.3v1.4h-11.3zM55.6 798.5h11.8v1.4h-11.8zM87.3 801.8h7.9v1.4h-7.9zM95.2 801.8h9.4v1.4h-9.4zM44.3 805h13.2v1.4h-13.2zM78.1 805h10.2v1.4h-10.2zM98.9 805h5.7v1.4h-5.7zM41 806.1h10.7v1.4h-10.7zM51.7 806.1h7.4v1.4h-7.4zM66.9 806.1h10.9v1.4h-10.9zM87.1 806.1h13.7v1.4h-13.7zM78.9 808.2h12.3v1.4h-12.3zM97.5 808.2h3.2v1.4h-3.2zM100.8 808.2h3.8v1.4h-3.8zM67.4 809.3h13.4v1.4h-13.4zM80.9 809.3h4.7v1.4h-4.7zM85.5 809.3h11v1.4h-11zM53.1 814.7h8.5v1.4h-8.5zM80 814.7h10.9v1.4h-10.9zM90.9 814.7h9.8v1.4h-9.8zM49.7 816.9h10.7v1.4h-10.7zM41 817.9h6.7v1.4h-6.7zM58.3 817.9h6.2v1.4h-6.2zM64.5 817.9h5v1.4h-5zM89.5 819h9.5v1.4h-9.5zM51.1 821.2h6.7v1.4h-6.7zM97.3 824.4h4.7v1.4h-4.7zM54.1 827.7h7.9v1.4h-7.9zM79 828.7h9.2v1.4h-9.2zM86 833.1h5.9v1.4h-5.9zM59.5 834.1h9.2v1.4h-9.2zM98.8 835.2h5.8v1.4h-5.8zM52.7 838.5h3v1.4h-3zM87 838.5h10.4v1.4h-10.4zM44.5 840.6h6.2v1.4h-6.2z" fill="#e64e35"/><path d="M85.5 609.6h3.7v1.4h-3.7zM41 616.1h7.6v1.4h-7.6zM61.4 617.1h8.8v1.4h-8.8zM70.9 619.3h3.7v1.4h-3.7zM87.5 629h3.3v1.4h-3.3zM81 632.3h4.5v1.4h-4.5zM93.6 649.5h11v1.4h-11zM56.6 676.5h11.6v1.4h-11.6zM58.2 678.7h12.7v1.4h-12.7zM49.3 685.2h7.8v1.4h-7.8zM49.6 686.2h8.7v1.4h-8.7zM51.3 692.7h3.5v1.4h-3.5zM94.5 701.4h10.1v1.4h-10.1zM44.6 711.1h12.8v1.4h-12.8zM62.8 711.1h3.5v1.4h-3.5zM74.6 714.3h3.3v1.4h-3.3zM41 720.8h12v1.4h-12zM44.7 740.2h11v1.4h-11zM72 745.6h13.3v1.4h-13.3zM83.8 758.6h11.9v1.4h-11.9zM41 759.7h13.3v1.4h-13.3zM41 769.4h11.4v1.4h-11.4zM41 788.8h14v1.4h-14zM66.5 791h12.4v1.4h-12.4zM53.6 826.6h10.3v1.4h-10.3zM53.2 839.5h12.2v1.4h-12.2z" fill="#b20c26"/><path d="M41 592.3h16v1.1h-16zM86.8 592.3h17.8v1.1h-17.8zM41 596.2h7v1.1h-7zM41 600.6h11v1.1h-11z" fill="#000000"/></g><rect x="41" y="582.6" width="63.6" height="259.1" fill="none" stroke="#444" stroke-width="0.7"/><g filter="url(#hblur)"><rect x="170.7" y="476.3" width="63.1" height="98.3" fill="#f46d43"/><path d="M170.7 476.3h4.8v1.4h-4.8zM209.9 492.7h6.9v1.4h-6.9zM191.2 494.9h11.5v1.4h-11.5zM208.7 498.1h13.6v1.4h-13.6zM189.9 500.3h12v1.4h-12zM215.7 505.8h13.8v1.4h-13.8zM183 506.9h13.3v1.4h-13.3zM184.3 510.2h9.3v1.4h-9.3zM200 514.5h5v1.4h-5zM224.8 514.5h4.3v1.4h-4.3zM170.7 521.1h9.4v1.4h-9.4zM206.6 524.4h8.7v1.4h-8.7zM182.4 534.2h7.8v1.4h-7.8zM227.5 539.6h6.3v1.4h-6.3zM217.4 554.9h9.3v1.4h-9.3zM226.7 561.5h7.1v1.4h-7.1zM222.6 565.9h8.6v1.4h-8.6z" fill="#fef0a8"/><path d="M175.5 476.3h8.3v1.4h-8.3zM201.3 476.3h9.4v1.4h-9.4zM179.2 477.4h7.1v1.4h-7.1zM191.5 479.6h4.1v1.4h-4.1zM170.7 490.5h5.1v1.4h-5.1zM216.9 494.9h8v1.4h-8zM200.1 499.2h8.4v1.4h-8.4zM205 500.3h13v1.4h-13zM192.9 501.4h10.2v1.4h-10.2zM196.3 506.9h12v1.4h-12zM201 510.2h5.1v1.4h-5.1zM220.7 568h5.2v1.4h-5.2zM201 572.4h7.1v1.4h-7.1z" fill="#4575b4"/><path d="M183.8 476.3h11.9v1.4h-11.9zM216.4 483.9h4.1v1.4h-4.1zM228.5 499.2h5.3v1.4h-5.3zM218.2 506.9h11.8v1.4h-11.8zM216.3 510.2h5.9v1.4h-5.9zM186.4 515.6h5.8v1.4h-5.8zM194.8 517.8h5.2v1.4h-5.2zM201.4 518.9h9.6v1.4h-9.6zM218.6 523.3h12.6v1.4h-12.6zM205.6 532h5.1v1.4h-5.1zM187.3 536.4h6v1.4h-6zM223 538.6h10.8v1.4h-10.8zM183 549.5h8v1.4h-8zM187 553.8h3.6v1.4h-3.6zM202.2 562.6h14v1.4h-14zM170.7 565.9h9.2v1.4h-9.2zM192.1 571.3h8.3v1.4h-8.3z" fill="#fee89c"/><path d="M195.7 476.3h5.6v1.4h-5.6zM230.2 476.3h3.6v1.4h-3.6zM191 483.9h3.5v1.4h-3.5zM191.5 487.2h3.1v1.4h-3.1zM185.4 490.5h6.7v1.4h-6.7zM181.7 491.6h5.4v1.4h-5.4zM201.9 500.3h3.1v1.4h-3.1zM189.7 502.5h8.4v1.4h-8.4zM197.4 508h11v1.4h-11zM219.8 514.5h5v1.4h-5zM191.6 516.7h12.9v1.4h-12.9zM223.3 530.9h10.5v1.4h-10.5zM206.1 558.2h6v1.4h-6zM170.7 573.5h11.8v1.4h-11.8zM208.9 573.5h4.4v1.4h-4.4z" fill="#90c3dd"/><path d="M210.7 476.3h5.6v1.4h-5.6zM199.1 478.5h13.9v1.4h-13.9zM170.7 483.9h3.1v1.4h-3.1zM223.4 485h7.4v1.4h-7.4zM197 493.8h7v1.4h-7zM202.2 496h11.9v1.4h-11.9zM211.4 506.9h6.8v1.4h-6.8zM197.1 513.4h6.8v1.4h-6.8zM197.5 527.6h9.8v1.4h-9.8zM219.9 536.4h10.9v1.4h-10.9zM194.2 537.5h5.4v1.4h-5.4zM217.5 542.9h3.5v1.4h-3.5zM187.6 545.1h13.6v1.4h-13.6zM212.2 556h5.2v1.4h-5.2zM184.3 558.2h6.5v1.4h-6.5zM183.4 559.3h6.5v1.4h-6.5z" fill="#c6e6f0"/><path d="M216.3 476.3h14v1.4h-14zM231.2 479.6h2.6v1.4h-2.6zM191.5 481.8h7.7v1.4h-7.7zM198.2 486.1h8.4v1.4h-8.4zM204.4 489.4h5.5v1.4h-5.5zM192.2 490.5h6.3v1.4h-6.3zM218.1 500.3h3.4v1.4h-3.4zM208.4 508h6.3v1.4h-6.3zM189.6 509.1h10.9v1.4h-10.9zM228.9 511.3h4.9v1.4h-4.9zM221 522.2h10.2v1.4h-10.2zM170.7 523.3h12.4v1.4h-12.4zM211.2 527.6h4.5v1.4h-4.5zM174.8 530.9h11v1.4h-11zM228.8 537.5h5v1.4h-5zM170.7 540.7h8.8v1.4h-8.8zM228.3 545.1h5.5v1.4h-5.5zM206.7 547.3h9.4v1.4h-9.4zM216.4 548.4h4.5v1.4h-4.5zM189.6 560.4h11.3v1.4h-11.3zM181.1 561.5h9.2v1.4h-9.2zM196.4 562.6h5.7v1.4h-5.7z" fill="#f7fccd"/><path d="M170.7 477.4h8.5v1.4h-8.5zM200.8 477.4h11.6v1.4h-11.6zM179.8 479.6h4.9v1.4h-4.9zM170.7 482.9h5.8v1.4h-5.8zM228.6 486.1h5.2v1.4h-5.2zM201.9 487.2h3.9v1.4h-3.9zM215.5 488.3h6v1.4h-6zM214.8 508h14v1.4h-14zM223.5 509.1h10.3v1.4h-10.3zM206.1 510.2h5.5v1.4h-5.5zM205.1 514.5h7.9v1.4h-7.9zM211.5 520h8.9v1.4h-8.9zM201.2 545.1h8.5v1.4h-8.5z" fill="#3b56a4"/><path d="M186.2 477.4h4.4v1.4h-4.4zM224.8 488.3h3.2v1.4h-3.2zM231.5 488.3h2.3v1.4h-2.3zM170.7 493.8h5.3v1.4h-5.3zM228 497.1h5.8v1.4h-5.8zM187.5 499.2h3.2v1.4h-3.2zM174.6 501.4h11.5v1.4h-11.5zM228.7 508h5.1v1.4h-5.1zM183.9 513.4h9.5v1.4h-9.5zM174.6 514.5h12.5v1.4h-12.5zM216.2 516.7h7.9v1.4h-7.9zM170.7 518.9h13.6v1.4h-13.6zM220.4 520h9.1v1.4h-9.1zM180.1 521.1h3.6v1.4h-3.6zM170.7 522.2h8.3v1.4h-8.3zM219.7 526.5h8.7v1.4h-8.7zM170.7 528.7h6.8v1.4h-6.8zM174.6 529.8h10.8v1.4h-10.8zM217.8 529.8h12.5v1.4h-12.5zM170.7 532h9.6v1.4h-9.6zM223.9 535.3h9.9v1.4h-9.9zM179.5 540.7h3.1v1.4h-3.1zM207.1 540.7h12.8v1.4h-12.8zM221 542.9h8v1.4h-8zM170.7 546.2h6.9v1.4h-6.9zM186.4 548.4h5.4v1.4h-5.4zM220.6 549.5h7.8v1.4h-7.8zM193.3 550.6h12.7v1.4h-12.7zM203.3 553.8h7.9v1.4h-7.9zM226.7 554.9h7.1v1.4h-7.1zM184.6 556h6.4v1.4h-6.4zM182 557.1h5.4v1.4h-5.4zM192.8 557.1h11.1v1.4h-11.1zM226.6 557.1h7.2v1.4h-7.2zM216.5 558.2h3.9v1.4h-3.9zM179.5 559.3h4v1.4h-4zM200.9 560.4h10.7v1.4h-10.7zM202 561.5h7.1v1.4h-7.1zM216.1 562.6h9.7v1.4h-9.7zM183.9 563.7h3.8v1.4h-3.8zM230.6 564.8h3.2v1.4h-3.2zM231.2 565.9h2.6v1.4h-2.6zM170.7 567h10.5v1.4h-10.5zM178.5 569.1h3.2v1.4h-3.2zM187.2 569.1h6.5v1.4h-6.5zM213.4 573.5h10.3v1.4h-10.3zM230.1 573.5h3.7v1.4h-3.7z" fill="#ed5e3c"/><path d="M190.6 477.4h6.8v1.4h-6.8zM215.8 480.7h6.2v1.4h-6.2zM202.5 482.9h8.4v1.4h-8.4zM195.9 491.6h10.8v1.4h-10.8zM213.3 497.1h6.3v1.4h-6.3zM208.5 499.2h6.6v1.4h-6.6zM215.1 499.2h3.5v1.4h-3.5zM203.2 502.5h5.2v1.4h-5.2zM208.3 506.9h3v1.4h-3zM191.9 514.5h8.1v1.4h-8.1zM184.3 518.9h6v1.4h-6zM183.9 528.7h11.7v1.4h-11.7zM202.7 547.3h4.1v1.4h-4.1zM208.1 563.7h13.9v1.4h-13.9zM201.6 568h10.6v1.4h-10.6z" fill="#abd9e9"/><path d="M197.4 477.4h3.4v1.4h-3.4zM178.9 478.5h13.2v1.4h-13.2zM170.7 496h13.9v1.4h-13.9zM217.9 501.4h10.3v1.4h-10.3zM198.2 502.5h5.1v1.4h-5.1zM226.5 502.5h7.3v1.4h-7.3zM180.2 503.6h10.6v1.4h-10.6zM198.6 511.3h10v1.4h-10zM228.2 524.4h5.6v1.4h-5.6zM170.7 533.1h7.9v1.4h-7.9zM189.9 538.6h7.6v1.4h-7.6zM218.6 538.6h4.4v1.4h-4.4zM183.6 560.4h6v1.4h-6zM208.6 564.8h9.6v1.4h-9.6zM218.2 564.8h4.7v1.4h-4.7zM170.7 570.2h13.9v1.4h-13.9z" fill="#be1826"/><path d="M212.4 477.4h12.8v1.4h-12.8zM225 482.9h8.8v1.4h-8.8zM206.7 486.1h11.6v1.4h-11.6zM170.7 487.2h7.2v1.4h-7.2zM192.1 493.8h5v1.4h-5zM170.7 497.1h7.1v1.4h-7.1zM206.7 501.4h6.6v1.4h-6.6zM175.5 504.7h6v1.4h-6zM208.9 505.8h6.8v1.4h-6.8zM179.6 508h5.4v1.4h-5.4zM187.4 511.3h11.2v1.4h-11.2zM187.1 514.5h4.9v1.4h-4.9zM198.6 515.6h10.2v1.4h-10.2zM219 546.2h14.8v1.4h-14.8zM229.2 550.6h4.6v1.4h-4.6zM230.2 563.7h3.6v1.4h-3.6zM197.3 564.8h11.3v1.4h-11.3zM226.9 567h4.1v1.4h-4.1zM211.1 570.2h13.3v1.4h-13.3z" fill="#ffffbf"/><path d="M225.2 477.4h8.6v1.4h-8.6zM231.5 483.9h2.3v1.4h-2.3zM174.7 489.4h12.8v1.4h-12.8zM194.7 497.1h6.4v1.4h-6.4zM170.7 498.1h7.1v1.4h-7.1zM190.7 499.2h9.5v1.4h-9.5zM170.7 501.4h3.9v1.4h-3.9zM213.2 501.4h4.6v1.4h-4.6zM201.6 505.8h7.3v1.4h-7.3zM210.9 518.9h13.2v1.4h-13.2zM185.9 530.9h9.6v1.4h-9.6zM195.5 530.9h7.9v1.4h-7.9zM178.6 533.1h13.1v1.4h-13.1zM190.2 534.2h13.4v1.4h-13.4zM213.7 534.2h13.7v1.4h-13.7zM184.5 539.6h13.6v1.4h-13.6zM217.9 539.6h9.6v1.4h-9.6zM181.4 544h12.9v1.4h-12.9zM190.5 553.8h4.8v1.4h-4.8zM189.9 559.3h12.8v1.4h-12.8zM222.1 560.4h8v1.4h-8zM187.7 563.7h10.5v1.4h-10.5zM193.7 569.1h3.9v1.4h-3.9z" fill="#fdae61"/><path d="M170.7 478.5h8.2v1.4h-8.2zM190.8 503.6h12.8v1.4h-12.8zM170.7 530.9h4.1v1.4h-4.1zM198.2 539.6h8.5v1.4h-8.5zM206.6 539.6h11.3v1.4h-11.3zM175.9 541.8h3.9v1.4h-3.9zM211.3 553.8h11.8v1.4h-11.8z" fill="#b20c26"/><path d="M192.1 478.5h7v1.4h-7zM189.5 482.9h4v1.4h-4zM209.4 488.3h6.1v1.4h-6.1zM185.1 493.8h7v1.4h-7zM202.7 494.9h5.8v1.4h-5.8zM198.9 512.3h11.6v1.4h-11.6zM193.4 513.4h3.7v1.4h-3.7zM192.1 515.6h6.5v1.4h-6.5zM196 520h7.2v1.4h-7.2zM187.5 523.3h13.5v1.4h-13.5zM203.4 530.9h13.7v1.4h-13.7zM187.4 557.1h5.4v1.4h-5.4zM176.4 558.2h7.9v1.4h-7.9zM221.3 561.5h5.4v1.4h-5.4z" fill="#82b8d7"/><path d="M213.1 478.5h4v1.4h-4zM226.8 490.5h4.7v1.4h-4.7zM187.7 496h9.4v1.4h-9.4zM180.8 512.3h4.3v1.4h-4.3zM190.3 512.3h8.6v1.4h-8.6zM184.4 516.7h7.2v1.4h-7.2zM190.3 517.8h4.5v1.4h-4.5zM224.1 518.9h9.7v1.4h-9.7zM196.8 522.2h10.1v1.4h-10.1zM231.3 522.2h2.5v1.4h-2.5zM208 525.5h11.9v1.4h-11.9zM189.7 526.5h12.5v1.4h-12.5zM170.7 535.3h12v1.4h-12zM170.7 539.6h13.8v1.4h-13.8z" fill="#f0f9dc"/><path d="M217.1 478.5h8.5v1.4h-8.5zM217.1 481.8h13.5v1.4h-13.5zM194.6 487.2h7.3v1.4h-7.3zM199.3 489.4h5.1v1.4h-5.1zM208.5 494.9h8.4v1.4h-8.4zM185.9 500.3h4.1v1.4h-4.1zM193 521.1h12.3v1.4h-12.3zM206.3 523.3h12.3v1.4h-12.3zM195.4 532h10.2v1.4h-10.2zM189.8 535.3h8.4v1.4h-8.4zM214.5 546.2h4.5v1.4h-4.5zM229.9 558.2h3.9v1.4h-3.9zM202.7 559.3h6.2v1.4h-6.2z" fill="#689fca"/><path d="M225.5 478.5h8.3v1.4h-8.3zM205.7 485h9.8v1.4h-9.8zM201.2 488.3h8.1v1.4h-8.1zM217.1 509.1h6.4v1.4h-6.4zM190.3 518.9h11v1.4h-11zM186.8 524.4h11.8v1.4h-11.8zM207.1 536.4h12.9v1.4h-12.9zM201.8 544h3.7v1.4h-3.7zM209.1 546.2h5.4v1.4h-5.4z" fill="#5c91c2"/><path d="M170.7 479.6h9.1v1.4h-9.1zM217 487.2h13.5v1.4h-13.5zM187.1 491.6h8.9v1.4h-8.9zM180.6 502.5h9.1v1.4h-9.1zM224 512.3h6.2v1.4h-6.2zM170.7 517.8h13.7v1.4h-13.7zM201 523.3h5.3v1.4h-5.3zM223.3 533.1h10.5v1.4h-10.5zM217.4 556h10.8v1.4h-10.8zM218.4 567h8.5v1.4h-8.5z" fill="#fdba6d"/><path d="M184.7 479.6h6.8v1.4h-6.8zM199.2 481.8h6.4v1.4h-6.4zM185.2 483.9h5.8v1.4h-5.8zM188.9 488.3h5.2v1.4h-5.2zM181.5 504.7h9.7v1.4h-9.7zM189.4 505.8h4.2v1.4h-4.2zM211.5 510.2h4.8v1.4h-4.8zM204.5 516.7h11.7v1.4h-11.7zM217.1 530.9h6.1v1.4h-6.1zM185.5 537.5h8.7v1.4h-8.7zM186.4 542.9h11.7v1.4h-11.7zM229 542.9h4.8v1.4h-4.8zM191 549.5h12v1.4h-12zM226.1 569.1h7.7v1.4h-7.7zM205.4 573.5h3.5v1.4h-3.5z" fill="#fec778"/><path d="M195.6 479.6h11.5v1.4h-11.5zM205.6 481.8h11.5v1.4h-11.5zM210.9 482.9h5v1.4h-5zM215.9 482.9h9.1v1.4h-9.1zM173.8 483.9h11.4v1.4h-11.4zM230.8 485h3v1.4h-3zM197.1 496h5.2v1.4h-5.2zM201.1 497.1h12.1v1.4h-12.1zM188.9 498.1h10.2v1.4h-10.2zM193.6 510.2h7.4v1.4h-7.4zM170.7 515.6h8.3v1.4h-8.3zM189.7 525.5h3.7v1.4h-3.7zM193.5 525.5h6.8v1.4h-6.8zM195.6 528.7h6.9v1.4h-6.9zM184.5 538.6h5.4v1.4h-5.4zM197.8 547.3h4.9v1.4h-4.9zM196.8 548.4h7.9v1.4h-7.9zM170.7 563.7h5.1v1.4h-5.1zM180.3 564.8h9.4v1.4h-9.4zM181.2 567h13.9v1.4h-13.9z" fill="#5183bb"/><path d="M207.2 479.6h10.4v1.4h-10.4zM194.1 488.3h7.2v1.4h-7.2zM216.3 490.5h10.5v1.4h-10.5zM219.1 491.6h14.7v1.4h-14.7zM170.7 494.9h12.8v1.4h-12.8zM183.5 494.9h7.7v1.4h-7.7zM189.5 497.1h5.2v1.4h-5.2zM182 499.2h5.5v1.4h-5.5zM218.7 499.2h9.9v1.4h-9.9zM170.7 502.5h9.9v1.4h-9.9zM170.7 503.6h9.5v1.4h-9.5zM229.5 505.8h4.3v1.4h-4.3zM230 506.9h3.8v1.4h-3.8zM185 508h12.4v1.4h-12.4zM175.8 509.1h13.8v1.4h-13.8zM222.2 510.2h4.3v1.4h-4.3zM170.7 511.3h10.2v1.4h-10.2zM170.7 512.3h10.1v1.4h-10.1zM170.7 513.4h13.2v1.4h-13.2zM214.3 513.4h6.7v1.4h-6.7zM221 513.4h5.5v1.4h-5.5zM170.7 514.5h3.9v1.4h-3.9zM213 514.5h6.8v1.4h-6.8zM170.7 516.7h6v1.4h-6zM184.4 517.8h5.9v1.4h-5.9zM170.7 520h13.1v1.4h-13.1zM211.7 522.2h5.8v1.4h-5.8zM217.6 522.2h3.4v1.4h-3.4zM177.2 524.4h9.7v1.4h-9.7zM210.4 526.5h9.3v1.4h-9.3zM178.2 527.6h4.9v1.4h-4.9zM183 527.6h10.6v1.4h-10.6zM170.7 529.8h3.9v1.4h-3.9zM220.9 532h12.9v1.4h-12.9zM199.6 537.5h4.4v1.4h-4.4zM170.7 542.9h8.2v1.4h-8.2zM170.7 544h10.7v1.4h-10.7zM225.9 544h3.6v1.4h-3.6zM170.7 545.1h11.7v1.4h-11.7zM170.7 547.3h13.6v1.4h-13.6zM183.1 548.4h3.3v1.4h-3.3zM206.7 549.5h13.9v1.4h-13.9zM180.7 550.6h12.6v1.4h-12.6zM212.7 550.6h5.9v1.4h-5.9zM187.9 551.7h10.7v1.4h-10.7zM176.9 554.9h14v1.4h-14zM217.3 557.1h9.3v1.4h-9.3zM190.8 558.2h9.8v1.4h-9.8zM170.7 559.3h8.8v1.4h-8.8zM170.7 560.4h12.9v1.4h-12.9zM225.9 568h7.9v1.4h-7.9zM197.5 569.1h11.3v1.4h-11.3zM199.7 570.2h11.4v1.4h-11.4zM228.6 571.3h5.2v1.4h-5.2zM180 572.4h8.5v1.4h-8.5z" fill="#f67d4a"/><path d="M217.6 479.6h13.5v1.4h-13.5zM182.7 485h6.9v1.4h-6.9zM208.8 533.1h3.7v1.4h-3.7zM207.4 537.5h9.5v1.4h-9.5zM212 558.2h4.5v1.4h-4.5z" fill="#36469d"/><path d="M170.7 480.7h8.4v1.4h-8.4zM203.6 480.7h12.2v1.4h-12.2zM202.2 490.5h10.5v1.4h-10.5zM188.1 521.1h4.9v1.4h-4.9zM193.3 536.4h13.8v1.4h-13.8zM170.7 548.4h12.4v1.4h-12.4zM212.2 568h8.4v1.4h-8.4zM200.4 571.3h9.9v1.4h-9.9z" fill="#9dcee3"/><path d="M179.1 480.7h12.6v1.4h-12.6zM176.5 482.9h13v1.4h-13zM189.6 485h4.2v1.4h-4.2zM205.8 487.2h11.2v1.4h-11.2zM211.7 493.8h10.3v1.4h-10.3zM203.1 501.4h3.6v1.4h-3.6zM176.9 505.8h4.5v1.4h-4.5zM200.4 509.1h4.8v1.4h-4.8zM191.7 533.1h11.9v1.4h-11.9zM216.8 544h9.1v1.4h-9.1zM201.2 565.9h13.3v1.4h-13.3zM214.5 565.9h8.1v1.4h-8.1zM209.3 567h9.1v1.4h-9.1z" fill="#b8e0ed"/><path d="M191.7 480.7h11.9v1.4h-11.9zM225.8 480.7h8v1.4h-8zM193.8 485h12v1.4h-12zM170.7 486.1h12v1.4h-12zM170.7 489.4h4v1.4h-4zM193.7 505.8h7.9v1.4h-7.9zM229.1 515.6h4.7v1.4h-4.7zM206.9 522.2h4.8v1.4h-4.8zM183.1 523.3h4.4v1.4h-4.4zM200.2 525.5h7.8v1.4h-7.8zM202.5 528.7h5.9v1.4h-5.9zM208.4 528.7h6.4v1.4h-6.4zM213.2 529.8h4.7v1.4h-4.7zM180.3 532h3.7v1.4h-3.7zM184 532h11.4v1.4h-11.4zM208 534.2h5.7v1.4h-5.7zM204 537.5h3.4v1.4h-3.4zM216.9 537.5h11.9v1.4h-11.9zM199.3 541.8h5.6v1.4h-5.6zM203 549.5h3.7v1.4h-3.7zM191.1 556h9v1.4h-9zM225.8 562.6h4.1v1.4h-4.1zM195.2 567h6.5v1.4h-6.5zM184.6 570.2h9v1.4h-9zM202.1 573.5h3.3v1.4h-3.3z" fill="#fee090"/><path d="M222 480.7h3.8v1.4h-3.8zM176.5 481.8h3.3v1.4h-3.3zM181.4 498.1h7.6v1.4h-7.6zM198.6 524.4h8v1.4h-8zM170.7 526.5h7.1v1.4h-7.1zM214.7 528.7h13.8v1.4h-13.8zM200.8 529.8h12.4v1.4h-12.4zM203.6 534.2h4.4v1.4h-4.4zM198.1 535.3h12.4v1.4h-12.4zM175.7 536.4h7.2v1.4h-7.2zM214.7 541.8h12v1.4h-12zM210.7 542.9h6.8v1.4h-6.8zM188.2 565.9h13v1.4h-13z" fill="#4065ac"/><path d="M170.7 481.8h5.8v1.4h-5.8zM184.6 496h3v1.4h-3zM214.2 496h7.1v1.4h-7.1zM177.8 497.1h11.7v1.4h-11.7zM170.7 499.2h11.3v1.4h-11.3zM228.2 501.4h5.6v1.4h-5.6zM221 502.5h5.5v1.4h-5.5zM203 504.7h12.1v1.4h-12.1zM170.7 508h4.9v1.4h-4.9zM170.7 509.1h5.1v1.4h-5.1zM180.9 511.3h6.5v1.4h-6.5zM223 511.3h5.9v1.4h-5.9zM231.3 523.3h2.5v1.4h-2.5zM220 525.5h13.8v1.4h-13.8zM207.3 527.6h3.9v1.4h-3.9zM220.8 527.6h13v1.4h-13zM230.4 529.8h3.4v1.4h-3.4zM219.3 533.1h4.1v1.4h-4.1zM227.4 534.2h6.4v1.4h-6.4zM170.7 538.6h9.8v1.4h-9.8zM170.7 541.8h5.2v1.4h-5.2zM220.8 547.3h9.7v1.4h-9.7zM230.4 547.3h3.4v1.4h-3.4zM175.9 550.6h4.8v1.4h-4.8zM170.7 551.7h9.3v1.4h-9.3zM198.6 551.7h5.3v1.4h-5.3zM223.7 552.8h10.1v1.4h-10.1zM170.7 553.8h13v1.4h-13zM200.6 558.2h5.5v1.4h-5.5zM212.5 559.3h8.9v1.4h-8.9zM170.7 561.5h10.4v1.4h-10.4zM175.8 563.7h8.1v1.4h-8.1zM189.7 564.8h7.6v1.4h-7.6zM182.2 568h7.3v1.4h-7.3zM170.7 569.1h7.8v1.4h-7.8zM208.9 569.1h8.3v1.4h-8.3zM192 572.4h8.9v1.4h-8.9zM189.3 573.5h12.8v1.4h-12.8z" fill="#e64e35"/><path d="M179.8 481.8h11.7v1.4h-11.7zM230.6 481.8h3.2v1.4h-3.2zM193.5 482.9h4.5v1.4h-4.5zM218.2 486.1h10.3v1.4h-10.3zM231.6 490.5h2.2v1.4h-2.2zM170.7 500.3h4.3v1.4h-4.3zM170.7 504.7h4.8v1.4h-4.8zM223.7 504.7h10.1v1.4h-10.1zM185 512.3h5.2v1.4h-5.2zM210.5 512.3h7.6v1.4h-7.6zM170.7 536.4h5v1.4h-5zM223.6 545.1h4.7v1.4h-4.7zM191.8 548.4h5v1.4h-5zM220.9 548.4h6.9v1.4h-6.9zM208.8 557.1h8.4v1.4h-8.4zM208.9 559.3h3.5v1.4h-3.5zM190.3 561.5h11.7v1.4h-11.7zM217.2 569.1h8.9v1.4h-8.9zM193.7 570.2h6v1.4h-6z" fill="#ca2427"/><path d="M198.1 482.9h4.4v1.4h-4.4zM215.5 485h7.9v1.4h-7.9zM222.3 498.1h11.5v1.4h-11.5zM170.7 505.8h6.2v1.4h-6.2zM170.7 506.9h12.3v1.4h-12.3zM226.5 510.2h5.2v1.4h-5.2zM193.7 527.6h3.8v1.4h-3.8zM210.5 535.3h7.9v1.4h-7.9zM180.5 538.6h4v1.4h-4zM229.5 544h4.3v1.4h-4.3zM204.7 548.4h11.7v1.4h-11.7zM183.7 553.8h3.3v1.4h-3.3zM223 553.8h4.9v1.4h-4.9zM184.3 562.6h12.1v1.4h-12.1zM184.1 571.3h8v1.4h-8z" fill="#fed484"/><path d="M194.4 483.9h12.9v1.4h-12.9zM182.7 486.1h5.6v1.4h-5.6zM198.4 490.5h3.8v1.4h-3.8zM212.7 490.5h3.6v1.4h-3.6zM199.1 498.1h9.5v1.4h-9.5zM200 517.8h13.6v1.4h-13.6zM183.8 520h12.2v1.4h-12.2zM191.4 522.2h5.4v1.4h-5.4zM212.5 533.1h6.7v1.4h-6.7zM197.6 538.6h13.4v1.4h-13.4zM203.9 551.7h10.8v1.4h-10.8zM222 563.7h8.1v1.4h-8.1z" fill="#74add1"/><path d="M207.3 483.9h9v1.4h-9zM220.5 483.9h11.1v1.4h-11.1zM170.7 488.3h5.9v1.4h-5.9zM228 488.3h3.4v1.4h-3.4zM187.6 489.4h11.7v1.4h-11.7zM209.8 489.4h13.2v1.4h-13.2zM176 493.8h9.1v1.4h-9.1zM224.9 494.9h8.9v1.4h-8.9zM221.2 496h7.3v1.4h-7.3zM219.5 497.1h8.5v1.4h-8.5zM175 500.3h5.2v1.4h-5.2zM180.2 500.3h5.7v1.4h-5.7zM186.1 501.4h6.7v1.4h-6.7zM214.1 503.6h13.6v1.4h-13.6zM215 504.7h8.7v1.4h-8.7zM175.6 508h4.1v1.4h-4.1zM170.7 510.2h13.6v1.4h-13.6zM231.7 510.2h2.1v1.4h-2.1zM219 511.3h4v1.4h-4zM218.1 512.3h5.9v1.4h-5.9zM230.2 512.3h3.6v1.4h-3.6zM203.8 513.4h10.5v1.4h-10.5zM208.9 515.6h12.7v1.4h-12.7zM205.3 521.1h11.7v1.4h-11.7zM228.6 521.1h5.2v1.4h-5.2zM215.3 524.4h4.6v1.4h-4.6zM219.9 524.4h8.3v1.4h-8.3zM177.8 526.5h11.9v1.4h-11.9zM173.9 527.6h4.3v1.4h-4.3zM215.6 527.6h5.2v1.4h-5.2zM185.4 529.8h4v1.4h-4zM170.7 534.2h11.7v1.4h-11.7zM230.9 536.4h2.9v1.4h-2.9zM210.9 538.6h7.7v1.4h-7.7zM204.9 541.8h9.8v1.4h-9.8zM226.8 541.8h7v1.4h-7zM198.1 542.9h12.6v1.4h-12.6zM215.9 545.1h7.7v1.4h-7.7zM184.3 547.3h13.5v1.4h-13.5zM216.1 547.3h4.7v1.4h-4.7zM227.8 548.4h6v1.4h-6zM228.4 549.5h5.4v1.4h-5.4zM170.7 550.6h5.2v1.4h-5.2zM206 550.6h6.7v1.4h-6.7zM180 551.7h7.9v1.4h-7.9zM196.6 552.8h12.1v1.4h-12.1zM208.8 552.8h11.3v1.4h-11.3zM195.3 553.8h8v1.4h-8zM212.6 554.9h4.9v1.4h-4.9zM228.2 556h5.6v1.4h-5.6zM203.9 557.1h4.9v1.4h-4.9zM227 559.3h6.8v1.4h-6.8zM230 560.4h3.8v1.4h-3.8zM229.9 562.6h3.9v1.4h-3.9zM198.2 563.7h9.9v1.4h-9.9zM179.9 565.9h8.3v1.4h-8.3zM170.7 571.3h9.2v1.4h-9.2zM170.7 572.4h9.3v1.4h-9.3zM223.3 572.4h10.5v1.4h-10.5zM182.5 573.5h6.9v1.4h-6.9zM223.6 573.5h6.5v1.4h-6.5z" fill="#f46d43"/><path d="M170.7 485h12v1.4h-12zM223 489.4h3.2v1.4h-3.2zM170.7 491.6h11v1.4h-11zM170.7 492.7h12.9v1.4h-12.9zM196.6 492.7h13.3v1.4h-13.3zM216.8 492.7h11.3v1.4h-11.3zM204 493.8h7.7v1.4h-7.7zM205.3 509.1h11.8v1.4h-11.8zM221.6 515.6h7.5v1.4h-7.5zM176.7 516.7h7.7v1.4h-7.7zM203.2 520h8.3v1.4h-8.3zM183.6 521.1h4.5v1.4h-4.5zM217 521.1h11.6v1.4h-11.6zM170.7 524.4h6.5v1.4h-6.5zM170.7 525.5h13.3v1.4h-13.3zM181.3 537.5h4.2v1.4h-4.2zM182.6 540.7h9.7v1.4h-9.7zM205.5 544h11.4v1.4h-11.4zM182.4 545.1h5.1v1.4h-5.1zM177.6 546.2h4.4v1.4h-4.4zM220.1 552.8h3.7v1.4h-3.7zM211.5 560.4h10.6v1.4h-10.6zM209.1 561.5h12.2v1.4h-12.2zM176.5 564.8h3.8v1.4h-3.8zM189.5 568h12.1v1.4h-12.1zM188.5 572.4h3.6v1.4h-3.6z" fill="#fb9e5a"/><path d="M188.3 486.1h10v1.4h-10zM177.9 487.2h13.6v1.4h-13.6zM221.5 488.3h3.4v1.4h-3.4zM226.2 489.4h7.6v1.4h-7.6zM206.7 491.6h12.4v1.4h-12.4zM228.5 496h5.3v1.4h-5.3zM177.8 498.1h3.6v1.4h-3.6zM221.5 500.3h12.3v1.4h-12.3zM181.4 505.8h8v1.4h-8zM226.4 513.4h7.4v1.4h-7.4zM229 514.5h4.8v1.4h-4.8zM179 515.6h7.4v1.4h-7.4zM213.6 517.8h12.9v1.4h-12.9zM226.6 517.8h7.2v1.4h-7.2zM229.5 520h4.3v1.4h-4.3zM202.2 526.5h8.2v1.4h-8.2zM228.4 526.5h5.4v1.4h-5.4zM170.7 527.6h3.2v1.4h-3.2zM189.4 529.8h11.4v1.4h-11.4zM210.7 532h10.2v1.4h-10.2zM182.9 536.4h4.4v1.4h-4.4zM170.7 537.5h10.6v1.4h-10.6zM192.2 540.7h5.4v1.4h-5.4zM219.9 540.7h6.8v1.4h-6.8zM226.7 540.7h7.1v1.4h-7.1zM179.9 541.8h6.3v1.4h-6.3zM186.2 541.8h13.1v1.4h-13.1zM194.3 544h7.5v1.4h-7.5zM195.5 546.2h13.6v1.4h-13.6zM218.6 550.6h10.6v1.4h-10.6zM214.7 551.7h12.4v1.4h-12.4zM170.7 552.8h12.5v1.4h-12.5zM183.2 552.8h13.4v1.4h-13.4zM190.8 554.9h11.8v1.4h-11.8zM170.7 556h13.9v1.4h-13.9zM170.7 557.1h11.3v1.4h-11.3zM170.7 562.6h13.6v1.4h-13.6zM222.9 564.8h7.8v1.4h-7.8zM201.7 567h3.5v1.4h-3.5zM205.2 567h4.1v1.4h-4.1zM231 567h2.8v1.4h-2.8zM170.7 568h11.5v1.4h-11.5zM181.8 569.1h5.4v1.4h-5.4zM179.9 571.3h4.2v1.4h-4.2zM210.3 571.3h8.8v1.4h-8.8z" fill="#f88e52"/><path d="M230.5 487.2h3.3v1.4h-3.3zM176.6 488.3h12.3v1.4h-12.3zM208.4 502.5h12.6v1.4h-12.6zM203.7 503.6h10.5v1.4h-10.5zM224.1 516.7h4v1.4h-4zM179 522.2h12.4v1.4h-12.4zM184 525.5h5.7v1.4h-5.7zM203.6 533.1h5.2v1.4h-5.2zM227 551.7h6.8v1.4h-6.8zM170.7 554.9h6.2v1.4h-6.2zM170.7 558.2h5.7v1.4h-5.7zM221.4 559.3h5.7v1.4h-5.7z" fill="#fff7b3"/><path d="M175.8 490.5h9.7v1.4h-9.7zM183.6 492.7h13v1.4h-13zM228.1 492.7h5.7v1.4h-5.7zM222 493.8h11.8v1.4h-11.8zM208.6 511.3h10.4v1.4h-10.4zM228.1 516.7h5.7v1.4h-5.7zM177.5 528.7h6.4v1.4h-6.4zM228.5 528.7h5.3v1.4h-5.3zM182.7 535.3h7.1v1.4h-7.1zM197.6 540.7h9.5v1.4h-9.5zM178.9 542.9h7.6v1.4h-7.6zM227.9 553.8h5.9v1.4h-5.9zM202.6 554.9h10v1.4h-10zM220.4 558.2h4.2v1.4h-4.2zM219.1 571.3h9.5v1.4h-9.5zM208.1 572.4h8.9v1.4h-8.9zM217 572.4h6.3v1.4h-6.3z" fill="#de3f2e"/><path d="M227.7 503.6h6.1v1.4h-6.1zM191.3 504.7h11.7v1.4h-11.7zM218.4 535.3h5.5v1.4h-5.5zM209.7 545.1h6.2v1.4h-6.2zM182 546.2h13.5v1.4h-13.5zM170.7 549.5h12.3v1.4h-12.3zM200.1 556h12.1v1.4h-12.1zM224.7 558.2h5.2v1.4h-5.2zM170.7 564.8h5.8v1.4h-5.8zM224.3 570.2h9.5v1.4h-9.5z" fill="#d73027"/></g><rect x="170.7" y="476.3" width="63.1" height="98.3" fill="none" stroke="#444" stroke-width="0.7"/><g filter="url(#hblur)"><rect x="170.7" y="577" width="63.1" height="264.7" fill="#f46d43"/><path d="M170.7 577h13.5v1.4h-13.5zM223.6 577h10.2v1.4h-10.2zM190 583.6h5.5v1.4h-5.5zM225.6 583.6h3.3v1.4h-3.3zM170.7 585.8h5.1v1.4h-5.1zM231.5 588h2.3v1.4h-2.3zM181.2 589.1h7v1.4h-7zM203.7 589.1h10v1.4h-10zM177.2 594.6h8v1.4h-8zM220.4 596.9h13.4v1.4h-13.4zM189.7 605.7h7.9v1.4h-7.9zM214.9 605.7h5.5v1.4h-5.5zM178.5 616.7h6.3v1.4h-6.3zM170.7 622.2h13.4v1.4h-13.4zM215.6 633.2h3.2v1.4h-3.2zM206.4 637.7h5.9v1.4h-5.9zM227 639.9h6.8v1.4h-6.8zM206.1 650.9h10.1v1.4h-10.1zM200.4 652h4.6v1.4h-4.6zM209 665.2h11.8v1.4h-11.8zM222.1 684h8.4v1.4h-8.4zM200.5 700.5h11.6v1.4h-11.6zM203.5 701.6h6.7v1.4h-6.7zM170.7 708.2h4.8v1.4h-4.8zM205 712.7h5.4v1.4h-5.4zM181.1 714.9h7.2v1.4h-7.2zM179.2 718.2h12v1.4h-12zM205.8 722.6h12.1v1.4h-12.1zM170.7 727h6.7v1.4h-6.7zM210.6 731.4h8.1v1.4h-8.1zM190.7 746.8h4.2v1.4h-4.2zM229.2 752.4h4.6v1.4h-4.6zM225.6 755.7h8.2v1.4h-8.2zM190.8 779.9h5.5v1.4h-5.5zM195.8 808.6h10.7v1.4h-10.7z" fill="#c6e6f0"/><path d="M184.2 577h14v1.4h-14zM170.7 584.7h5.6v1.4h-5.6zM193.7 588h8.7v1.4h-8.7zM202.3 588h5.6v1.4h-5.6zM193.3 591.3h10.9v1.4h-10.9zM186.3 592.4h3.6v1.4h-3.6zM215.4 594.6h5.1v1.4h-5.1zM179 596.9h6.8v1.4h-6.8zM190.7 599.1h11.8v1.4h-11.8zM179.6 603.5h3.5v1.4h-3.5zM208.5 611.2h7.3v1.4h-7.3zM197.9 612.3h7v1.4h-7zM177.3 615.6h3.6v1.4h-3.6zM193.9 617.8h10.9v1.4h-10.9zM231.5 633.2h2.3v1.4h-2.3zM198.4 634.4h12.7v1.4h-12.7zM170.7 636.6h7.5v1.4h-7.5zM190.9 642.1h3.9v1.4h-3.9zM205.2 644.3h8.1v1.4h-8.1zM214.3 646.5h9.5v1.4h-9.5zM170.7 653.1h10.5v1.4h-10.5zM193.2 668.5h6.7v1.4h-6.7zM186.4 674.1h5.8v1.4h-5.8zM215.2 674.1h10v1.4h-10zM223.2 680.7h10.6v1.4h-10.6zM187.3 684h10.7v1.4h-10.7zM186.2 687.3h4.2v1.4h-4.2zM217.4 690.6h6v1.4h-6zM197.3 695h5.7v1.4h-5.7zM215.4 724.8h6.7v1.4h-6.7zM186.7 727h13v1.4h-13zM210.1 727h9.7v1.4h-9.7zM229.8 745.7h4v1.4h-4zM206.6 767.8h9v1.4h-9zM220.1 770h6.2v1.4h-6.2zM196.8 783.2h9.4v1.4h-9.4z" fill="#b8e0ed"/><path d="M198.2 577h10.2v1.4h-10.2zM183.9 580.3h7.4v1.4h-7.4zM216.4 580.3h3.6v1.4h-3.6zM219.9 580.3h13.9v1.4h-13.9zM195.5 583.6h10.3v1.4h-10.3zM186.1 584.7h4.9v1.4h-4.9zM191.1 584.7h9.1v1.4h-9.1zM224.2 584.7h5.1v1.4h-5.1zM220.4 594.6h13.4v1.4h-13.4zM170.7 595.7h11.1v1.4h-11.1zM222.1 595.7h11.7v1.4h-11.7zM210.1 599.1h4.2v1.4h-4.2zM203.1 603.5h12.5v1.4h-12.5zM203.9 610.1h4v1.4h-4zM193.2 615.6h12.9v1.4h-12.9zM210.5 628.8h10.5v1.4h-10.5zM202.3 633.2h13.3v1.4h-13.3zM213.3 644.3h12.7v1.4h-12.7zM211.3 649.8h5.2v1.4h-5.2zM198.5 650.9h7.6v1.4h-7.6zM195.4 657.5h4.8v1.4h-4.8zM182.5 661.9h6.9v1.4h-6.9zM201.4 673h10.5v1.4h-10.5zM215.9 673h8.5v1.4h-8.5zM192.1 674.1h11.5v1.4h-11.5zM210.2 674.1h5v1.4h-5zM205.9 676.3h9.3v1.4h-9.3zM188.9 679.6h9v1.4h-9zM195.4 681.8h7.7v1.4h-7.7zM184 682.9h3.9v1.4h-3.9zM219.7 698.3h8.7v1.4h-8.7zM174.2 701.6h13v1.4h-13zM210.9 702.7h7.1v1.4h-7.1zM195.7 709.4h6.2v1.4h-6.2zM197.7 719.3h10.7v1.4h-10.7zM194.8 736.9h12.6v1.4h-12.6zM200.3 749.1h5.4v1.4h-5.4zM193.9 757.9h8.3v1.4h-8.3zM201.2 759h7.2v1.4h-7.2zM182.9 772.2h11.2v1.4h-11.2zM202 782.1h11.9v1.4h-11.9zM194.7 787.7h10.6v1.4h-10.6zM203.8 788.8h13.1v1.4h-13.1zM198.5 797.6h6.1v1.4h-6.1zM193.2 800.9h9.9v1.4h-9.9zM192 807.5h5.4v1.4h-5.4z" fill="#4065ac"/><path d="M208.4 577h5.5v1.4h-5.5zM181.3 582.5h3.5v1.4h-3.5zM201.2 594.6h10.3v1.4h-10.3zM187.5 604.6h11.8v1.4h-11.8zM183.3 606.8h9.9v1.4h-9.9zM190.8 609h6.6v1.4h-6.6zM173.9 616.7h4.5v1.4h-4.5zM214.8 618.9h4.7v1.4h-4.7zM202.9 620h8.7v1.4h-8.7zM228.5 629.9h5.3v1.4h-5.3zM213.9 631h6.5v1.4h-6.5zM215.4 667.4h13.8v1.4h-13.8zM197.5 669.6h13v1.4h-13zM203 670.7h6.8v1.4h-6.8zM182.9 680.7h7.7v1.4h-7.7zM210.7 682.9h13.6v1.4h-13.6zM170.7 691.7h5.3v1.4h-5.3zM181.6 692.8h8.8v1.4h-8.8zM186 697.2h9.4v1.4h-9.4zM195.4 697.2h10v1.4h-10zM199.9 703.8h5v1.4h-5zM200.4 711.6h5v1.4h-5zM202.6 717.1h3.4v1.4h-3.4zM217.8 717.1h9.7v1.4h-9.7zM170.7 729.2h8.8v1.4h-8.8zM198.2 735.8h10.1v1.4h-10.1zM170.7 742.4h11v1.4h-11zM182.8 745.7h8.7v1.4h-8.7zM170.7 751.3h11.8v1.4h-11.8zM221.9 757.9h6.7v1.4h-6.7zM226.4 759h7.4v1.4h-7.4zM181.3 763.4h6.4v1.4h-6.4zM223.8 774.4h3.6v1.4h-3.6zM196.3 779.9h12.9v1.4h-12.9zM206.2 783.2h12.4v1.4h-12.4zM208.6 787.7h12.5v1.4h-12.5zM225.4 792.1h8.4v1.4h-8.4zM170.7 805.3h13.8v1.4h-13.8zM227 816.3h6.8v1.4h-6.8zM170.7 819.6h11.4v1.4h-11.4zM206 826.3h5.4v1.4h-5.4zM183.6 837.3h13.5v1.4h-13.5z" fill="#fed484"/><path d="M213.9 577h9.6v1.4h-9.6zM229.7 598h4.1v1.4h-4.1zM208.7 600.2h11.2v1.4h-11.2zM191.5 601.3h8.3v1.4h-8.3zM197.3 606.8h8.5v1.4h-8.5zM227.6 631h6.2v1.4h-6.2zM194.1 639.9h10.2v1.4h-10.2zM204.3 639.9h10.4v1.4h-10.4zM221.1 641h12.7v1.4h-12.7zM170.7 645.4h6.8v1.4h-6.8zM192.4 663h7.6v1.4h-7.6zM215.6 663h7.4v1.4h-7.4zM170.7 669.6h12.8v1.4h-12.8zM226.2 679.6h7.6v1.4h-7.6zM225.6 681.8h8.2v1.4h-8.2zM210.2 687.3h9v1.4h-9zM182 689.5h4.5v1.4h-4.5zM223.4 690.6h5v1.4h-5zM202.8 693.9h7.4v1.4h-7.4zM193.2 702.7h6.7v1.4h-6.7zM201.9 709.4h12.1v1.4h-12.1zM183.8 711.6h11.2v1.4h-11.2zM180.7 716h9.7v1.4h-9.7zM194.3 741.3h12.5v1.4h-12.5zM189.2 744.6h7.8v1.4h-7.8zM220.4 746.8h3.1v1.4h-3.1zM203.5 751.3h4.9v1.4h-4.9zM208.6 754.6h8.9v1.4h-8.9zM188.1 761.2h5.5v1.4h-5.5zM170.7 771.1h12.2v1.4h-12.2zM227 776.6h6.8v1.4h-6.8zM229.2 777.7h4.6v1.4h-4.6zM209.2 779.9h7.6v1.4h-7.6zM229.2 786.6h4.6v1.4h-4.6zM224.9 797.6h4.4v1.4h-4.4zM201.5 811.9h6.1v1.4h-6.1zM170.7 818.5h11.2v1.4h-11.2zM225.8 832.9h8v1.4h-8zM227.8 834h6v1.4h-6zM188.4 835.1h13.6v1.4h-13.6z" fill="#fff7b3"/><path d="M170.7 578.1h12.7v1.4h-12.7zM191.3 580.3h4.9v1.4h-4.9zM193.1 581.4h11v1.4h-11zM220.2 586.9h6.3v1.4h-6.3zM226.5 586.9h4.1v1.4h-4.1zM170.7 588h6.9v1.4h-6.9zM215.7 588h8.5v1.4h-8.5zM213.7 589.1h13.1v1.4h-13.1zM222.9 592.4h7.5v1.4h-7.5zM181.3 599.1h9.4v1.4h-9.4zM204.8 617.8h9.2v1.4h-9.2zM176.7 626.6h9.5v1.4h-9.5zM210.1 626.6h7.2v1.4h-7.2zM187.5 627.7h7.1v1.4h-7.1zM180.7 628.8h6v1.4h-6zM206.9 645.4h12.5v1.4h-12.5zM184.4 658.6h4.2v1.4h-4.2zM189.4 661.9h4.4v1.4h-4.4zM194.6 664.1h5.7v1.4h-5.7zM170.7 667.4h12.4v1.4h-12.4zM190.4 687.3h7v1.4h-7zM208.9 704.9h10.9v1.4h-10.9zM208.1 708.2h5.8v1.4h-5.8zM214 709.4h10.3v1.4h-10.3zM227.9 723.7h5.9v1.4h-5.9zM204.3 729.2h5.5v1.4h-5.5zM176.7 732.5h3.1v1.4h-3.1zM200.4 733.6h6.5v1.4h-6.5zM199 738h5v1.4h-5zM182.9 748h12.9v1.4h-12.9zM183.1 759h3.1v1.4h-3.1zM199.2 761.2h12.8v1.4h-12.8zM213.8 762.3h11.7v1.4h-11.7zM226.4 763.4h5.3v1.4h-5.3zM203.1 765.6h9.2v1.4h-9.2zM215.2 784.3h7.7v1.4h-7.7z" fill="#90c3dd"/><path d="M183.4 578.1h5.1v1.4h-5.1zM170.7 579.2h5v1.4h-5zM200.9 579.2h9.4v1.4h-9.4zM170.7 581.4h8.5v1.4h-8.5zM183 585.8h13.7v1.4h-13.7zM196.7 585.8h12.5v1.4h-12.5zM170.7 590.2h6.7v1.4h-6.7zM204 590.2h8.8v1.4h-8.8zM212.8 590.2h9.6v1.4h-9.6zM221.6 599.1h4v1.4h-4zM206.2 605.7h8.8v1.4h-8.8zM207.9 610.1h6.8v1.4h-6.8zM214 617.8h9.8v1.4h-9.8zM170.7 618.9h10.9v1.4h-10.9zM224.6 621.1h9.2v1.4h-9.2zM194.4 623.3h6.5v1.4h-6.5zM206 623.3h12.7v1.4h-12.7zM208.6 627.7h12.8v1.4h-12.8zM170.7 633.2h11.2v1.4h-11.2zM218.8 633.2h5v1.4h-5zM203 636.6h8v1.4h-8zM193.5 638.8h9.6v1.4h-9.6zM223.6 654.2h5v1.4h-5zM209.3 666.3h5.5v1.4h-5.5zM205.1 684h10.9v1.4h-10.9zM177.9 702.7h11.9v1.4h-11.9zM210.5 713.8h5.3v1.4h-5.3zM203.6 716h6v1.4h-6zM206 717.1h11.8v1.4h-11.8zM195.4 734.7h8.6v1.4h-8.6zM202.8 745.7h9.2v1.4h-9.2zM219 777.7h10.2v1.4h-10.2zM185.6 784.3h5.5v1.4h-5.5zM204.6 797.6h10.2v1.4h-10.2zM182.8 806.4h10.3v1.4h-10.3zM190.9 816.3h6.8v1.4h-6.8z" fill="#689fca"/><path d="M188.5 578.1h13.3v1.4h-13.3zM205.7 582.5h6.8v1.4h-6.8zM213.5 584.7h10.7v1.4h-10.7zM209.2 585.8h11.4v1.4h-11.4zM214.6 586.9h5.6v1.4h-5.6zM177.6 588h9v1.4h-9zM186.5 588h7.1v1.4h-7.1zM226.8 589.1h7v1.4h-7zM177.4 590.2h4.9v1.4h-4.9zM230.4 592.4h3.4v1.4h-3.4zM215.7 596.9h4.7v1.4h-4.7zM210.8 621.1h3.9v1.4h-3.9zM217.3 626.6h5.1v1.4h-5.1zM202.8 628.8h7.7v1.4h-7.7zM214.7 639.9h12.3v1.4h-12.3zM215.3 642.1h5.1v1.4h-5.1zM170.7 649.8h5.1v1.4h-5.1zM182.2 650.9h8.8v1.4h-8.8zM183.3 652h13.6v1.4h-13.6zM221.1 657.5h12.7v1.4h-12.7zM213.2 671.9h3.9v1.4h-3.9zM203.7 674.1h6.6v1.4h-6.6zM201.2 675.2h4v1.4h-4zM215.3 675.2h12.1v1.4h-12.1zM203.7 680.7h7.1v1.4h-7.1zM190.5 692.8h10.1v1.4h-10.1zM216.5 696.1h9.9v1.4h-9.9zM217.1 706h13.6v1.4h-13.6zM189.2 717.1h9.8v1.4h-9.8zM209.7 718.2h3.4v1.4h-3.4zM208.4 719.3h13.8v1.4h-13.8zM205.7 725.9h4.8v1.4h-4.8zM170.7 732.5h6v1.4h-6zM218.9 736.9h5.6v1.4h-5.6zM197 744.6h4.2v1.4h-4.2zM198.3 750.2h7.9v1.4h-7.9zM199.1 753.5h6v1.4h-6zM186.2 759h4.1v1.4h-4.1zM212 761.2h11.9v1.4h-11.9zM187 786.6h13.8v1.4h-13.8z" fill="#3b56a4"/><path d="M201.8 578.1h9.2v1.4h-9.2zM228.5 578.1h5.3v1.4h-5.3zM179.1 579.2h8.7v1.4h-8.7zM210.3 579.2h9v1.4h-9zM204.1 581.4h11.6v1.4h-11.6zM183 584.7h3.1v1.4h-3.1zM229.3 584.7h4.5v1.4h-4.5zM170.7 589.1h10.5v1.4h-10.5zM211.8 593.5h7.3v1.4h-7.3zM212.4 606.8h10.9v1.4h-10.9zM205.3 607.9h6.3v1.4h-6.3zM170.7 610.1h11.4v1.4h-11.4zM200 613.4h7.4v1.4h-7.4zM209.1 618.9h5.7v1.4h-5.7zM190.9 620h12v1.4h-12zM216 622.2h5.6v1.4h-5.6zM186.7 628.8h3.4v1.4h-3.4zM207.3 629.9h13.9v1.4h-13.9zM201.5 635.5h5.8v1.4h-5.8zM193 641h9.9v1.4h-9.9zM215.1 641h6v1.4h-6zM194.8 642.1h9.2v1.4h-9.2zM219.9 649.8h6.3v1.4h-6.3zM213.8 652h5.1v1.4h-5.1zM170.7 654.2h4v1.4h-4zM194.4 655.3h12.3v1.4h-12.3zM211.6 659.7h14v1.4h-14zM175.1 674.1h11.3v1.4h-11.3zM205.1 675.2h10.2v1.4h-10.2zM216 684h6.1v1.4h-6.1zM210.2 693.9h4.8v1.4h-4.8zM226.8 695h7v1.4h-7zM193.9 699.4h12.7v1.4h-12.7zM199.9 702.7h11v1.4h-11zM205.4 711.6h6v1.4h-6zM211.3 711.6h8.6v1.4h-8.6zM210.4 712.7h6.9v1.4h-6.9zM199 720.4h11.7v1.4h-11.7zM217.9 722.6h12.8v1.4h-12.8zM209.8 729.2h11.8v1.4h-11.8zM191 731.4h7.6v1.4h-7.6zM194.5 750.2h3.8v1.4h-3.8zM204.1 756.8h5.1v1.4h-5.1zM190.1 762.3h6.1v1.4h-6.1zM196.2 762.3h10.5v1.4h-10.5zM224.4 834h3.4v1.4h-3.4z" fill="#5c91c2"/><path d="M211 578.1h5.8v1.4h-5.8zM178.3 591.3h3.5v1.4h-3.5zM204.2 591.3h7.1v1.4h-7.1zM189.4 594.6h11.7v1.4h-11.7zM192 596.9h6.9v1.4h-6.9zM205.9 598h4.5v1.4h-4.5zM216.9 598h3.6v1.4h-3.6zM220.5 598h9.1v1.4h-9.1zM220 615.6h10.4v1.4h-10.4zM170.7 627.7h9.5v1.4h-9.5zM174 629.9h6.7v1.4h-6.7zM228.1 635.5h3.2v1.4h-3.2zM228.6 638.8h5.2v1.4h-5.2zM208.1 643.2h13.7v1.4h-13.7zM220 650.9h7.1v1.4h-7.1zM209.1 653.1h11.2v1.4h-11.2zM170.7 655.3h3.4v1.4h-3.4zM182.5 657.5h12.9v1.4h-12.9zM210.9 658.6h11.7v1.4h-11.7zM204.9 661.9h12.5v1.4h-12.5zM226.4 663h7.4v1.4h-7.4zM176.8 671.9h9.3v1.4h-9.3zM170.7 675.2h13.4v1.4h-13.4zM178.6 682.9h5.4v1.4h-5.4zM224.4 691.7h9.4v1.4h-9.4zM214.7 695h4.9v1.4h-4.9zM192 706h7.8v1.4h-7.8zM207.3 707.1h13.4v1.4h-13.4zM175.5 708.2h7.5v1.4h-7.5zM217.3 712.7h5.6v1.4h-5.6zM191.2 718.2h13.3v1.4h-13.3zM230 729.2h3.8v1.4h-3.8zM221.5 742.4h4.7v1.4h-4.7zM216.3 743.5h10.8v1.4h-10.8zM218.8 745.7h11v1.4h-11zM176 750.2h5.1v1.4h-5.1zM212.4 752.4h7.4v1.4h-7.4zM174.1 757.9h10.4v1.4h-10.4zM213.8 757.9h3.7v1.4h-3.7zM201.5 763.4h3.1v1.4h-3.1zM213.5 775.5h13.9v1.4h-13.9zM223.7 786.6h5.4v1.4h-5.4zM202.6 789.9h10.1v1.4h-10.1zM219.6 798.7h10.1v1.4h-10.1zM220.7 806.4h6.5v1.4h-6.5zM170.7 809.7h5.2v1.4h-5.2z" fill="#fec778"/><path d="M216.9 578.1h11.6v1.4h-11.6zM224.3 588h7.2v1.4h-7.2zM210.8 604.6h6.2v1.4h-6.2zM187.9 607.9h4.2v1.4h-4.2zM170.7 617.8h11.4v1.4h-11.4zM230.6 624.4h3.2v1.4h-3.2zM181.9 633.2h6.6v1.4h-6.6zM170.7 646.5h10.1v1.4h-10.1zM191.8 646.5h9.6v1.4h-9.6zM206.7 655.3h10v1.4h-10zM230.5 664.1h3.3v1.4h-3.3zM186.3 666.3h11.2v1.4h-11.2zM231.1 677.4h2.7v1.4h-2.7zM201.7 685.1h7.7v1.4h-7.7zM183.2 690.6h9.5v1.4h-9.5zM219.6 695h7.3v1.4h-7.3zM170.7 696.1h8.6v1.4h-8.6zM187.3 701.6h11.4v1.4h-11.4zM178.5 707.1h9.7v1.4h-9.7zM220 711.6h13.8v1.4h-13.8zM170.7 713.8h4.7v1.4h-4.7zM177.4 727h4.9v1.4h-4.9zM180.5 731.4h10.5v1.4h-10.5zM229.3 740.2h4.5v1.4h-4.5zM189.1 754.6h6.2v1.4h-6.2zM212.1 760.1h3.7v1.4h-3.7zM215.8 760.1h8.4v1.4h-8.4zM182.1 789.9h7.1v1.4h-7.1zM228.4 795.4h5.4v1.4h-5.4zM187 796.5h3.1v1.4h-3.1zM174.7 815.2h8.4v1.4h-8.4zM178.5 816.3h6.2v1.4h-6.2zM213.8 834h10.6v1.4h-10.6zM195.1 836.2h12.4v1.4h-12.4zM197.1 837.3h8.3v1.4h-8.3z" fill="#fef0a8"/><path d="M175.7 579.2h3.4v1.4h-3.4zM170.7 580.3h13.2v1.4h-13.2zM199.8 601.3h13.3v1.4h-13.3zM193.8 610.1h10.1v1.4h-10.1zM221.4 627.7h12.4v1.4h-12.4zM207.3 635.5h13.7v1.4h-13.7zM201.1 637.7h5.3v1.4h-5.3zM204 642.1h4.8v1.4h-4.8zM183.1 644.3h4.3v1.4h-4.3zM225.4 648.7h8.4v1.4h-8.4zM184.2 655.3h10.1v1.4h-10.1zM170.7 668.5h5.1v1.4h-5.1zM170.7 671.9h6.1v1.4h-6.1zM221 676.3h7.4v1.4h-7.4zM190.8 685.1h7.2v1.4h-7.2zM201.3 689.5h12.7v1.4h-12.7zM198.2 696.1h7.5v1.4h-7.5zM229.1 697.2h4.7v1.4h-4.7zM170.7 723.7h5.8v1.4h-5.8zM211.7 723.7h8.1v1.4h-8.1zM224.5 736.9h9.3v1.4h-9.3zM216 740.2h4.4v1.4h-4.4zM181.9 743.5h3.7v1.4h-3.7zM191.5 745.7h11.3v1.4h-11.3zM182.5 751.3h9.7v1.4h-9.7zM170.7 752.4h7.4v1.4h-7.4zM170.7 755.7h11.4v1.4h-11.4zM212.2 755.7h5.7v1.4h-5.7zM206.1 766.7h6.1v1.4h-6.1zM177.7 772.2h5.2v1.4h-5.2zM200.5 773.3h6.2v1.4h-6.2zM229.4 797.6h4.4v1.4h-4.4zM177.2 800.9h10.7v1.4h-10.7zM203.6 802h8v1.4h-8zM170.7 803.1h12.9v1.4h-12.9zM204.5 821.8h5v1.4h-5z" fill="#fee89c"/><path d="M187.8 579.2h13.1v1.4h-13.1zM228.1 579.2h5.7v1.4h-5.7zM212.5 582.5h12.2v1.4h-12.2zM230.7 586.9h3.1v1.4h-3.1zM222.5 590.2h6.9v1.4h-6.9zM202 592.4h9.9v1.4h-9.9zM198.9 596.9h3.8v1.4h-3.8zM228.3 600.2h5.5v1.4h-5.5zM210.3 602.4h10.5v1.4h-10.5zM199.3 604.6h5.5v1.4h-5.5zM182.1 610.1h11.7v1.4h-11.7zM183.9 612.3h14v1.4h-14zM230.4 615.6h3.4v1.4h-3.4zM211.6 620h13.3v1.4h-13.3zM186.2 626.6h4.5v1.4h-4.5zM196.9 626.6h13.2v1.4h-13.2zM182 636.6h10.8v1.4h-10.8zM220.3 653.1h8.6v1.4h-8.6zM198.3 654.2h13.4v1.4h-13.4zM225.5 656.4h8.3v1.4h-8.3zM222.6 658.6h8.2v1.4h-8.2zM199.9 663h3.6v1.4h-3.6zM190.4 664.1h4.2v1.4h-4.2zM219.1 687.3h4.7v1.4h-4.7zM182.6 699.4h7.7v1.4h-7.7zM204.9 703.8h4.8v1.4h-4.8zM209.6 716h11.1v1.4h-11.1zM170.7 728.1h3.4v1.4h-3.4zM170.7 731.4h4.6v1.4h-4.6zM198.6 731.4h12v1.4h-12zM207.2 732.5h11.2v1.4h-11.2zM211.5 734.7h12.3v1.4h-12.3zM218.5 738h11.9v1.4h-11.9zM220.4 741.3h5.8v1.4h-5.8zM213.9 744.6h10.5v1.4h-10.5zM200.8 786.6h13.1v1.4h-13.1zM170.7 828.5h7v1.4h-7z" fill="#82b8d7"/><path d="M219.2 579.2h8.8v1.4h-8.8zM191 650.9h7.5v1.4h-7.5zM200.1 667.4h8.5v1.4h-8.5zM187.7 673h8.3v1.4h-8.3zM212.1 700.5h12.2v1.4h-12.2zM195 711.6h5.4v1.4h-5.4z" fill="#36469d"/><path d="M196.2 580.3h6.6v1.4h-6.6zM229.1 581.4h4.7v1.4h-4.7zM201.6 582.5h4.1v1.4h-4.1zM224.6 582.5h9.2v1.4h-9.2zM231.2 585.8h2.6v1.4h-2.6zM193.7 595.7h8.3v1.4h-8.3zM215.2 595.7h6.9v1.4h-6.9zM202.7 596.9h13v1.4h-13zM210.4 598h6.5v1.4h-6.5zM195.2 614.5h10.5v1.4h-10.5zM220.4 631h7.1v1.4h-7.1zM188.2 637.7h5.1v1.4h-5.1zM201.4 646.5h9.8v1.4h-9.8zM211.2 646.5h3v1.4h-3zM170.7 648.7h7.7v1.4h-7.7zM219.3 656.4h6.2v1.4h-6.2zM225.6 659.7h4.4v1.4h-4.4zM230.1 659.7h3.7v1.4h-3.7zM213.6 664.1h7.7v1.4h-7.7zM205.1 666.3h4.2v1.4h-4.2zM224.5 673h9.3v1.4h-9.3zM197.9 679.6h9.7v1.4h-9.7zM215.8 713.8h3.2v1.4h-3.2zM206.9 733.6h12.1v1.4h-12.1zM204 738h11v1.4h-11zM190.3 759h10.9v1.4h-10.9zM186.8 767.8h13.3v1.4h-13.3zM229.2 767.8h4.6v1.4h-4.6zM214.3 768.9h9.4v1.4h-9.4zM202.3 778.8h9.1v1.4h-9.1zM170.7 787.7h8.6v1.4h-8.6zM195.3 826.3h10.8v1.4h-10.8zM226.2 828.5h7.6v1.4h-7.6zM207.6 836.2h10.4v1.4h-10.4z" fill="#abd9e9"/><path d="M202.8 580.3h3.4v1.4h-3.4zM170.7 583.6h8.4v1.4h-8.4zM176.3 584.7h6.8v1.4h-6.8zM220.6 585.8h10.6v1.4h-10.6zM211.5 588h4.2v1.4h-4.2zM211.3 591.3h3.1v1.4h-3.1zM211.9 592.4h11.1v1.4h-11.1zM230.8 593.5h3v1.4h-3zM185.2 594.6h4.2v1.4h-4.2zM170.7 596.9h8.3v1.4h-8.3zM214.3 599.1h7.3v1.4h-7.3zM222.9 612.3h10.9v1.4h-10.9zM219.9 614.5h10.8v1.4h-10.8zM204 622.2h12v1.4h-12zM203.3 625.5h7.8v1.4h-7.8zM221.7 632.1h3.5v1.4h-3.5zM188.5 633.2h13.8v1.4h-13.8zM208.8 642.1h6.4v1.4h-6.4zM180.8 646.5h11v1.4h-11zM230.6 650.9h3.2v1.4h-3.2zM220.4 655.3h9.7v1.4h-9.7zM194.9 656.4h11.5v1.4h-11.5zM198.1 684h7.1v1.4h-7.1zM176 690.6h7.1v1.4h-7.1zM230.2 701.6h3.6v1.4h-3.6zM213.9 708.2h9.4v1.4h-9.4zM205.3 714.9h8.7v1.4h-8.7zM205.8 728.1h7.1v1.4h-7.1zM200.6 732.5h6.6v1.4h-6.6zM207.4 771.1h11.8v1.4h-11.8z" fill="#4575b4"/><path d="M206.2 580.3h10.1v1.4h-10.1zM179.3 586.9h7.5v1.4h-7.5zM170.7 591.3h7.6v1.4h-7.6zM181.8 591.3h11.5v1.4h-11.5zM185.8 596.9h6.2v1.4h-6.2zM189.1 600.2h6v1.4h-6zM199.8 607.9h5.5v1.4h-5.5zM186.7 609h4.1v1.4h-4.1zM194.6 611.2h13.9v1.4h-13.9zM204.9 612.3h9.9v1.4h-9.9zM210.1 614.5h3.6v1.4h-3.6zM207.3 616.7h13.6v1.4h-13.6zM197.6 621.1h13.2v1.4h-13.2zM199.6 629.9h7.7v1.4h-7.7zM225.2 632.1h3.1v1.4h-3.1zM193 635.5h8.5v1.4h-8.5zM210.9 636.6h9.5v1.4h-9.5zM222.3 637.7h6.2v1.4h-6.2zM203.1 638.8h13.5v1.4h-13.5zM193.3 644.3h11.9v1.4h-11.9zM216.3 650.9h3.7v1.4h-3.7zM205.4 653.1h3.7v1.4h-3.7zM174.7 654.2h11.7v1.4h-11.7zM206.4 656.4h12.9v1.4h-12.9zM193.8 661.9h4.5v1.4h-4.5zM186.2 663h6.2v1.4h-6.2zM200.3 664.1h13.2v1.4h-13.2zM193.9 667.4h6.1v1.4h-6.1zM205.4 692.8h9.4v1.4h-9.4zM188.1 698.3h4.1v1.4h-4.1zM202 698.3h13.7v1.4h-13.7zM209.7 703.8h5.4v1.4h-5.4zM183.6 706h8.5v1.4h-8.5zM170.7 712.7h11.2v1.4h-11.2zM210.5 725.9h12v1.4h-12zM223.9 731.4h4.2v1.4h-4.2zM219 733.6h11.3v1.4h-11.3zM201.4 755.7h10.8v1.4h-10.8zM170.7 774.4h13.1v1.4h-13.1z" fill="#5183bb"/><path d="M179.2 581.4h13.9v1.4h-13.9zM215.7 581.4h13.4v1.4h-13.4zM205.9 583.6h10.1v1.4h-10.1zM216 583.6h9.6v1.4h-9.6zM208.8 584.7h4.8v1.4h-4.8zM175.8 585.8h7.2v1.4h-7.2zM188.2 589.1h3.9v1.4h-3.9zM192.1 589.1h11.6v1.4h-11.6zM219.1 591.3h4.1v1.4h-4.1zM223.2 591.3h4.9v1.4h-4.9zM228.1 591.3h5.7v1.4h-5.7zM197.6 598h8.4v1.4h-8.4zM198.7 603.5h4.4v1.4h-4.4zM181.4 604.6h6.1v1.4h-6.1zM170.7 605.7h8.8v1.4h-8.8zM192.1 607.9h7.7v1.4h-7.7zM220.4 607.9h13.4v1.4h-13.4zM214.8 610.1h6.1v1.4h-6.1zM206.1 615.6h13.9v1.4h-13.9zM197.7 618.9h11.4v1.4h-11.4zM190.7 626.6h6.2v1.4h-6.2zM228.5 637.7h5.3v1.4h-5.3zM194.1 645.4h12.8v1.4h-12.8zM199.7 649.8h11.6v1.4h-11.6zM204.9 652h8.9v1.4h-8.9zM194.8 675.2h6.3v1.4h-6.3zM193.2 688.4h5.4v1.4h-5.4zM186.5 689.5h6.1v1.4h-6.1zM211.2 695h3.5v1.4h-3.5zM186.3 696.1h7.6v1.4h-7.6zM215.7 698.3h4v1.4h-4zM196.9 707.1h10.4v1.4h-10.4zM228.4 712.7h5.4v1.4h-5.4zM204.5 718.2h5.2v1.4h-5.2zM188.6 730.3h10.4v1.4h-10.4zM217.5 757.9h4.5v1.4h-4.5zM205.9 785.5h8.6v1.4h-8.6zM195.1 803.1h4.8v1.4h-4.8z" fill="#74add1"/><path d="M170.7 582.5h10.6v1.4h-10.6zM184.8 582.5h4.3v1.4h-4.3zM189.1 582.5h12.5v1.4h-12.5zM179.1 583.6h10.9v1.4h-10.9zM200.1 584.7h8.6v1.4h-8.6zM204.4 586.9h10.2v1.4h-10.2zM182.3 590.2h9.1v1.4h-9.1zM191.5 590.2h12.6v1.4h-12.6zM229.4 590.2h4.4v1.4h-4.4zM219 593.5h11.7v1.4h-11.7zM211.5 594.6h3.9v1.4h-3.9zM208.4 595.7h6.8v1.4h-6.8zM170.7 600.2h7v1.4h-7zM204.8 604.6h6v1.4h-6zM186.3 613.4h13.6v1.4h-13.6zM200.9 623.3h5.1v1.4h-5.1zM224 624.4h6.6v1.4h-6.6zM192.7 636.6h10.2v1.4h-10.2zM202.9 641h12.2v1.4h-12.2zM218.9 652h5.6v1.4h-5.6zM181.4 656.4h6.1v1.4h-6.1zM188.6 658.6h11.8v1.4h-11.8zM183.5 669.6h14v1.4h-14zM209.8 670.7h8v1.4h-8zM218.7 679.6h7.5v1.4h-7.5zM198.5 688.4h6.8v1.4h-6.8zM192.6 690.6h12.6v1.4h-12.6zM202.9 695h8.2v1.4h-8.2zM179.8 700.5h8.7v1.4h-8.7zM190.3 723.7h13.7v1.4h-13.7zM227.8 724.8h6v1.4h-6zM231.8 727h2v1.4h-2zM228.1 730.3h5.7v1.4h-5.7zM209.3 746.8h11.2v1.4h-11.2zM194.8 770h13.4v1.4h-13.4zM205.1 775.5h8.4v1.4h-8.4zM213.7 800.9h6.6v1.4h-6.6zM224.4 815.2h9.4v1.4h-9.4zM202.3 816.3h11.5v1.4h-11.5zM221.3 828.5h4.9v1.4h-4.9z" fill="#9dcee3"/><path d="M228.9 583.6h4.9v1.4h-4.9zM174.3 603.5h5.4v1.4h-5.4zM220.5 605.7h6.4v1.4h-6.4zM229.6 609h4.2v1.4h-4.2zM230 618.9h3.8v1.4h-3.8zM221 635.5h7.1v1.4h-7.1zM196.9 652h3.5v1.4h-3.5zM211.7 654.2h4.3v1.4h-4.3zM200.2 657.5h11v1.4h-11zM224 660.8h9.8v1.4h-9.8zM170.7 663h10.2v1.4h-10.2zM170.7 670.7h6.6v1.4h-6.6zM180.4 678.5h13.7v1.4h-13.7zM170.7 692.8h10.9v1.4h-10.9zM215 693.9h13.8v1.4h-13.8zM190.3 699.4h3.6v1.4h-3.6zM182.7 709.4h12.9v1.4h-12.9zM224.3 709.4h6.9v1.4h-6.9zM176.9 719.3h10.5v1.4h-10.5zM189.7 721.5h3.7v1.4h-3.7zM184.4 734.7h4.1v1.4h-4.1zM207.4 736.9h11.5v1.4h-11.5zM188.3 756.8h5.6v1.4h-5.6zM199.2 760.1h12.9v1.4h-12.9zM194.4 771.1h13.1v1.4h-13.1zM224.8 771.1h9v1.4h-9zM186.7 776.6h6v1.4h-6zM189.2 789.9h4.1v1.4h-4.1zM180.5 799.8h9.1v1.4h-9.1zM227.8 803.1h6v1.4h-6zM188.6 804.2h13v1.4h-13zM184.7 807.5h7.2v1.4h-7.2zM220.2 808.6h13.6v1.4h-13.6zM221.3 811.9h4.1v1.4h-4.1zM188.7 824.1h6v1.4h-6zM180.3 825.2h5.1v1.4h-5.1zM213.6 837.3h6.2v1.4h-6.2zM203.6 838.4h10.7v1.4h-10.7zM224.1 840.6h9.7v1.4h-9.7z" fill="#d73027"/><path d="M170.7 586.9h8.6v1.4h-8.6zM170.7 593.5h13.2v1.4h-13.2zM208 593.5h3.8v1.4h-3.8zM181.8 595.7h11.9v1.4h-11.9zM211.6 607.9h8.9v1.4h-8.9zM223.4 609h6.2v1.4h-6.2zM205.7 614.5h4.5v1.4h-4.5zM229.5 626.6h4.3v1.4h-4.3zM194.7 627.7h13.9v1.4h-13.9zM216.6 638.8h3.1v1.4h-3.1zM204 643.2h4.1v1.4h-4.1zM186.9 649.8h12.8v1.4h-12.8zM170.7 652h12.6v1.4h-12.6zM174.1 655.3h10.2v1.4h-10.2zM208.6 667.4h6.8v1.4h-6.8zM199.8 668.5h3.9v1.4h-3.9zM196 673h5.4v1.4h-5.4zM193.2 677.4h6.4v1.4h-6.4zM207.5 678.5h11.2v1.4h-11.2zM214 681.8h11.6v1.4h-11.6zM216.9 699.4h7.8v1.4h-7.8zM170.7 707.1h7.8v1.4h-7.8zM188.2 708.2h3.2v1.4h-3.2zM206.9 721.5h12.6v1.4h-12.6zM170.7 725.9h12.6v1.4h-12.6zM219.8 727h12v1.4h-12zM204.1 734.7h7.5v1.4h-7.5zM191.9 743.5h9.7v1.4h-9.7zM210.9 753.5h5.8v1.4h-5.8zM224.3 760.1h3.3v1.4h-3.3zM178.2 761.2h6v1.4h-6zM218.1 782.1h8.2v1.4h-8.2zM227.6 783.2h6.2v1.4h-6.2zM213.9 819.6h7.1v1.4h-7.1zM170.7 824.1h6.6v1.4h-6.6z" fill="#f7fccd"/><path d="M186.8 586.9h6.7v1.4h-6.7zM189.9 592.4h12.1v1.4h-12.1zM213.1 601.3h10.5v1.4h-10.5zM205.8 606.8h6.6v1.4h-6.6zM180.8 615.6h12.4v1.4h-12.4zM231.3 620h2.5v1.4h-2.5zM191.4 631h9.8v1.4h-9.8zM211.1 634.4h9.9v1.4h-9.9zM170.7 635.5h13v1.4h-13zM229.2 644.3h4.6v1.4h-4.6zM199 660.8h8.9v1.4h-8.9zM184.1 675.2h10.7v1.4h-10.7zM198.1 685.1h3.6v1.4h-3.6zM231.4 690.6h2.4v1.4h-2.4zM205.7 696.1h10.8v1.4h-10.8zM212.7 699.4h4.2v1.4h-4.2zM198.7 701.6h4.8v1.4h-4.8zM210.2 701.6h7v1.4h-7zM170.7 702.7h7.2v1.4h-7.2zM187.6 703.8h12.3v1.4h-12.3zM198.1 713.8h12.4v1.4h-12.4zM219.8 723.7h8.2v1.4h-8.2zM195.1 729.2h9.2v1.4h-9.2zM203.3 739.1h4.1v1.4h-4.1zM170.7 740.2h11.1v1.4h-11.1zM226.2 741.3h7.6v1.4h-7.6zM212.1 745.7h6.7v1.4h-6.7zM184.5 757.9h9.4v1.4h-9.4zM208.5 759h9.1v1.4h-9.1zM197.8 764.5h6.4v1.4h-6.4zM170.7 766.7h7.3v1.4h-7.3zM188.5 766.7h5.7v1.4h-5.7zM209 774.4h10.6v1.4h-10.6zM170.7 783.2h12.2v1.4h-12.2zM193.9 788.8h6.2v1.4h-6.2zM228.7 820.7h5.1v1.4h-5.1zM170.7 823h6.3v1.4h-6.3zM207.5 827.4h3.3v1.4h-3.3zM170.7 837.3h4.7v1.4h-4.7zM219.8 839.5h9.8v1.4h-9.8z" fill="#f0f9dc"/><path d="M193.4 586.9h11v1.4h-11zM186.7 598h10.9v1.4h-10.9zM196.2 602.4h3.2v1.4h-3.2zM193.2 606.8h4.1v1.4h-4.1zM197.4 609h13.8v1.4h-13.8zM170.7 616.7h3.2v1.4h-3.2zM201.2 624.4h11.3v1.4h-11.3zM180.7 643.2h11.3v1.4h-11.3zM226.2 649.8h5v1.4h-5zM173.9 650.9h8.3v1.4h-8.3zM179.4 659.7h9.4v1.4h-9.4zM197.5 666.3h7.6v1.4h-7.6zM214.8 666.3h8v1.4h-8zM227.1 666.3h6.7v1.4h-6.7zM203.8 668.5h3.1v1.4h-3.1zM202.9 677.4h13v1.4h-13zM188.4 686.2h11.7v1.4h-11.7zM214 689.5h9.7v1.4h-9.7zM228.3 690.6h3v1.4h-3zM182.5 698.3h5.6v1.4h-5.6zM178 710.5h8.6v1.4h-8.6zM204 723.7h7.7v1.4h-7.7zM201.8 724.8h13.7v1.4h-13.7zM226.9 734.7h6.9v1.4h-6.9zM229.2 735.8h4.6v1.4h-4.6zM190.5 742.4h8.6v1.4h-8.6zM201.5 746.8h7.8v1.4h-7.8zM192.3 751.3h11.2v1.4h-11.2zM170.7 759h12.4v1.4h-12.4zM226.4 770h7.4v1.4h-7.4zM219.2 771.1h5.6v1.4h-5.6zM219.6 774.4h4.1v1.4h-4.1zM179.6 775.5h9.3v1.4h-9.3zM208.4 784.3h6.8v1.4h-6.8zM222.9 784.3h10.9v1.4h-10.9zM224.5 803.1h3.3v1.4h-3.3zM229.2 804.2h4.6v1.4h-4.6zM210.2 806.4h10.5v1.4h-10.5zM176.5 807.5h8.3v1.4h-8.3zM219.8 814.1h10.9v1.4h-10.9zM196.6 828.5h3.3v1.4h-3.3zM183.9 838.4h11v1.4h-11zM225.5 838.4h8.3v1.4h-8.3z" fill="#ffffbf"/><path d="M208 588h3.5v1.4h-3.5zM226.9 604.6h6.9v1.4h-6.9zM214.8 612.3h8.1v1.4h-8.1zM220.9 616.7h12.9v1.4h-12.9zM182.7 624.4h10.6v1.4h-10.6zM197 647.6h11.2v1.4h-11.2zM178.4 648.7h8.1v1.4h-8.1zM205.2 648.7h8.1v1.4h-8.1zM194.9 660.8h4.1v1.4h-4.1zM174.4 664.1h11v1.4h-11zM220.7 665.2h3.4v1.4h-3.4zM218.9 669.6h8.5v1.4h-8.5zM207.9 671.9h5.3v1.4h-5.3zM193.4 676.3h12.5v1.4h-12.5zM183 708.2h5.2v1.4h-5.2zM208.3 710.5h13.8v1.4h-13.8zM229.7 716h4.1v1.4h-4.1zM199.3 722.6h6.5v1.4h-6.5zM222.4 725.9h7.5v1.4h-7.5zM178 730.3h10.6v1.4h-10.6zM207.1 748h8.8v1.4h-8.8zM170.7 777.7h4.1v1.4h-4.1zM170.7 778.8h6.1v1.4h-6.1zM182.9 783.2h14v1.4h-14zM226.2 789.9h3.5v1.4h-3.5zM170.7 796.5h4.8v1.4h-4.8zM226.8 796.5h7v1.4h-7zM170.7 802h10v1.4h-10zM213.5 803.1h4.9v1.4h-4.9zM221.6 810.8h9.3v1.4h-9.3zM186.4 821.8h9.7v1.4h-9.7zM190.2 830.7h7.6v1.4h-7.6z" fill="#ca2427"/><path d="M214.4 591.3h4.7v1.4h-4.7zM225.7 599.1h8.1v1.4h-8.1zM219.9 600.2h8.4v1.4h-8.4zM178.3 602.4h7.1v1.4h-7.1zM183.1 603.5h11.1v1.4h-11.1zM215.6 603.5h6.7v1.4h-6.7zM217.1 604.6h9.9v1.4h-9.9zM170.7 611.2h4.9v1.4h-4.9zM183.9 614.5h11.3v1.4h-11.3zM184.7 616.7h5.2v1.4h-5.2zM182.1 617.8h11.8v1.4h-11.8zM184.1 622.2h9.9v1.4h-9.9zM221.6 622.2h12.2v1.4h-12.2zM184.1 623.3h10.3v1.4h-10.3zM170.7 626.6h6v1.4h-6zM180.2 627.7h7.3v1.4h-7.3zM170.7 628.8h10v1.4h-10zM170.7 629.9h3.3v1.4h-3.3zM180.7 629.9h8.3v1.4h-8.3zM175.8 632.1h7.5v1.4h-7.5zM192.9 632.1h11.8v1.4h-11.8zM220.4 636.6h13.4v1.4h-13.4zM193.4 637.7h7.8v1.4h-7.8zM170.7 642.1h13v1.4h-13zM178.4 644.3h4.7v1.4h-4.7zM227.8 645.4h6v1.4h-6zM223.8 646.5h10v1.4h-10zM170.7 647.6h13.2v1.4h-13.2zM230.2 647.6h3.6v1.4h-3.6zM231.6 652h2.2v1.4h-2.2zM216 654.2h7.6v1.4h-7.6zM187.5 656.4h7.4v1.4h-7.4zM211.2 657.5h9.9v1.4h-9.9zM230 661.9h3.8v1.4h-3.8zM180.9 663h5.3v1.4h-5.3zM185.4 664.1h5v1.4h-5zM170.7 665.2h5.2v1.4h-5.2zM188.4 665.2h3.4v1.4h-3.4zM184.8 668.5h8.4v1.4h-8.4zM224.3 668.5h9.5v1.4h-9.5zM227.3 669.6h6.5v1.4h-6.5zM204.4 671.9h3.5v1.4h-3.5zM217.1 671.9h13.9v1.4h-13.9zM176.5 673h3.4v1.4h-3.4zM230.6 678.5h3.2v1.4h-3.2zM207.6 679.6h11.2v1.4h-11.2zM187.9 682.9h9v1.4h-9zM223 685.1h10.8v1.4h-10.8zM170.7 688.4h8.9v1.4h-8.9zM222.7 692.8h5.5v1.4h-5.5zM170.7 695h4.2v1.4h-4.2zM228.4 698.3h5.4v1.4h-5.4zM193.2 700.5h7.3v1.4h-7.3zM218 702.7h10.6v1.4h-10.6zM170.7 703.8h8.3v1.4h-8.3zM215.1 703.8h6.3v1.4h-6.3zM221.4 703.8h4.9v1.4h-4.9zM170.7 704.9h7.5v1.4h-7.5zM226.5 707.1h7.3v1.4h-7.3zM231.1 708.2h2.7v1.4h-2.7zM177.9 709.4h4.8v1.4h-4.8zM181.9 712.7h11v1.4h-11zM219 713.8h6.4v1.4h-6.4zM174.2 716h6.6v1.4h-6.6zM190.4 716h13.2v1.4h-13.2zM213.1 718.2h12.6v1.4h-12.6zM170.7 724.8h11.5v1.4h-11.5zM195.2 724.8h6.5v1.4h-6.5zM222.2 724.8h5.7v1.4h-5.7zM183.3 725.9h9.5v1.4h-9.5zM229.9 725.9h3.9v1.4h-3.9zM199.7 727h10.4v1.4h-10.4zM196.2 728.1h9.7v1.4h-9.7zM170.7 730.3h7.3v1.4h-7.3zM218.8 731.4h5.2v1.4h-5.2zM179.8 732.5h13.6v1.4h-13.6zM218.5 732.5h5.4v1.4h-5.4zM230.3 733.6h3.5v1.4h-3.5zM170.7 734.7h13.7v1.4h-13.7zM170.7 738h5.8v1.4h-5.8zM176.5 738h9v1.4h-9zM185.5 738h13.5v1.4h-13.5zM215 738h3.5v1.4h-3.5zM179.1 739.1h10.7v1.4h-10.7zM189.8 739.1h13.5v1.4h-13.5zM223.1 739.1h10.7v1.4h-10.7zM199.2 742.4h9.8v1.4h-9.8zM170.7 743.5h11.2v1.4h-11.2zM185.6 743.5h6.3v1.4h-6.3zM183.4 744.6h5.8v1.4h-5.8zM178 745.7h4.8v1.4h-4.8zM178.5 746.8h12.2v1.4h-12.2zM223.5 746.8h3.3v1.4h-3.3zM228.5 749.1h5.3v1.4h-5.3zM225.9 751.3h7.9v1.4h-7.9zM174.9 754.6h5.5v1.4h-5.5zM180.4 754.6h8.7v1.4h-8.7zM226.6 754.6h7.2v1.4h-7.2zM218 755.7h7.6v1.4h-7.6zM170.7 757.9h3.4v1.4h-3.4zM202.3 757.9h11.5v1.4h-11.5zM170.7 760.1h4.8v1.4h-4.8zM212.3 764.5h11.6v1.4h-11.6zM230.9 765.6h2.9v1.4h-2.9zM215.4 766.7h12.2v1.4h-12.2zM173.9 768.9h13.8v1.4h-13.8zM170.7 770h6v1.4h-6zM189.3 770h5.5v1.4h-5.5zM208.2 770h11.9v1.4h-11.9zM182.9 771.1h11.5v1.4h-11.5zM170.7 772.2h7v1.4h-7zM178.8 773.3h12.1v1.4h-12.1zM190.8 773.3h9.6v1.4h-9.6zM197.7 774.4h4.3v1.4h-4.3zM170.7 775.5h4.4v1.4h-4.4zM205.6 776.6h8.4v1.4h-8.4zM195.9 777.7h4.3v1.4h-4.3zM213.4 781h10.5v1.4h-10.5zM223.8 781h10v1.4h-10zM178.5 782.1h12v1.4h-12zM218.6 783.2h5.5v1.4h-5.5zM220.7 785.5h13.1v1.4h-13.1zM182.4 786.6h4.6v1.4h-4.6zM213.9 786.6h9.9v1.4h-9.9zM187.4 787.7h7.3v1.4h-7.3zM170.7 788.8h11.3v1.4h-11.3zM229.8 789.9h4v1.4h-4zM176.7 792.1h12.4v1.4h-12.4zM197.7 792.1h7.3v1.4h-7.3zM217.8 792.1h7.6v1.4h-7.6zM196.2 793.2h11.7v1.4h-11.7zM183.5 794.3h9.6v1.4h-9.6zM193 794.3h5.9v1.4h-5.9zM211.7 794.3h6.3v1.4h-6.3zM183 795.4h9.4v1.4h-9.4zM192.4 795.4h9.7v1.4h-9.7zM175.5 796.5h11.5v1.4h-11.5zM203.4 796.5h12.3v1.4h-12.3zM182.9 797.6h12.5v1.4h-12.5zM214.8 797.6h4.4v1.4h-4.4zM170.7 798.7h12.6v1.4h-12.6zM170.7 800.9h6.5v1.4h-6.5zM203.1 800.9h10.6v1.4h-10.6zM230.6 802h3.2v1.4h-3.2zM187.7 803.1h7.4v1.4h-7.4zM218.4 803.1h6.1v1.4h-6.1zM182.7 804.2h5.9v1.4h-5.9zM211.5 804.2h9.7v1.4h-9.7zM184.5 805.3h13v1.4h-13zM197.8 806.4h12.5v1.4h-12.5zM227.4 807.5h6.4v1.4h-6.4zM205.3 810.8h5.6v1.4h-5.6zM230.9 810.8h2.9v1.4h-2.9zM170.7 811.9h11.1v1.4h-11.1zM216.5 811.9h4.8v1.4h-4.8zM194.1 813h11.4v1.4h-11.4zM170.7 816.3h7.8v1.4h-7.8zM197.8 816.3h4.5v1.4h-4.5zM213.8 816.3h13.2v1.4h-13.2zM179.2 817.4h12.4v1.4h-12.4zM209 818.5h12.7v1.4h-12.7zM187.4 820.7h8.7v1.4h-8.7zM209.5 821.8h10.8v1.4h-10.8zM177 823h7.8v1.4h-7.8zM177.3 824.1h5.2v1.4h-5.2zM216.6 826.3h5.5v1.4h-5.5zM227.3 826.3h6.5v1.4h-6.5zM200 828.5h4.8v1.4h-4.8zM170.7 829.6h13.7v1.4h-13.7zM210.8 830.7h13.1v1.4h-13.1zM223.8 830.7h10v1.4h-10zM179 831.8h9.5v1.4h-9.5zM229.1 831.8h4.7v1.4h-4.7zM180.2 832.9h13.4v1.4h-13.4zM175.6 834h10.4v1.4h-10.4zM191.4 834h5.9v1.4h-5.9zM182.2 836.2h3.9v1.4h-3.9zM218 836.2h9.2v1.4h-9.2zM175.4 837.3h8.3v1.4h-8.3zM205.4 837.3h8.2v1.4h-8.2zM177.8 839.5h9v1.4h-9zM193.6 839.5h5.5v1.4h-5.5zM229.6 839.5h4.2v1.4h-4.2zM191.9 840.6h13.2v1.4h-13.2z" fill="#f46d43"/><path d="M170.7 592.4h10.7v1.4h-10.7zM183.9 593.5h10.6v1.4h-10.6zM170.7 603.5h3.6v1.4h-3.6zM207.4 613.4h12.4v1.4h-12.4zM170.7 621.1h3.3v1.4h-3.3zM193.9 622.2h10.1v1.4h-10.1zM212.5 624.4h11.5v1.4h-11.5zM197.6 625.5h5.7v1.4h-5.7zM170.7 638.8h8.4v1.4h-8.4zM179.1 638.8h4.2v1.4h-4.2zM187.4 644.3h5.9v1.4h-5.9zM170.7 657.5h11.8v1.4h-11.8zM170.7 658.6h13.7v1.4h-13.7zM170.7 659.7h8.7v1.4h-8.7zM207.9 660.8h7v1.4h-7zM217.4 661.9h9.2v1.4h-9.2zM183.1 667.4h10.8v1.4h-10.8zM227.4 675.2h6.4v1.4h-6.4zM170.7 677.4h9.2v1.4h-9.2zM215.9 677.4h11v1.4h-11zM183.9 679.6h5.1v1.4h-5.1zM224.3 682.9h9.5v1.4h-9.5zM206.7 699.4h6v1.4h-6zM226.5 728.1h7.3v1.4h-7.3zM193.4 732.5h7.2v1.4h-7.2zM207.5 739.1h4.7v1.4h-4.7zM201.6 743.5h3.2v1.4h-3.2zM217.5 754.6h9.1v1.4h-9.1zM182.3 756.8h5.9v1.4h-5.9zM193.6 761.2h5.6v1.4h-5.6zM223.8 761.2h10v1.4h-10zM187.7 768.9h13.3v1.4h-13.3zM228.9 768.9h4.9v1.4h-4.9zM176.8 778.8h3.8v1.4h-3.8zM195.4 797.6h3.1v1.4h-3.1zM218 799.8h5.5v1.4h-5.5zM195.1 802h8.6v1.4h-8.6zM213.7 815.2h3.8v1.4h-3.8zM214.3 817.4h8.6v1.4h-8.6zM203.4 820.7h13.2v1.4h-13.2zM216.6 820.7h12.1v1.4h-12.1zM220.3 821.8h13.5v1.4h-13.5zM223.2 837.3h8.4v1.4h-8.4zM202.3 839.5h7.4v1.4h-7.4z" fill="#fdba6d"/><path d="M181.4 592.4h5v1.4h-5zM170.7 594.6h6.5v1.4h-6.5zM202 595.7h6.4v1.4h-6.4zM177.7 600.2h11.4v1.4h-11.4zM182.7 601.3h8.8v1.4h-8.8zM170.7 602.4h7.6v1.4h-7.6zM170.7 606.8h7.8v1.4h-7.8zM170.7 612.3h13.2v1.4h-13.2zM177.1 620h13.8v1.4h-13.8zM174 621.1h10.9v1.4h-10.9zM190.1 628.8h5.1v1.4h-5.1zM170.7 631h7.1v1.4h-7.1zM170.7 634.4h6.1v1.4h-6.1zM183.3 639.9h10.9v1.4h-10.9zM183.7 642.1h7.2v1.4h-7.2zM170.7 644.3h7.7v1.4h-7.7zM186.4 648.7h9.5v1.4h-9.5zM213.3 648.7h12.2v1.4h-12.2zM216.5 649.8h3.4v1.4h-3.4zM188.8 659.7h9.5v1.4h-9.5zM181.2 660.8h13.7v1.4h-13.7zM214.9 660.8h9.1v1.4h-9.1zM226.6 661.9h3.4v1.4h-3.4zM222.9 663h3.5v1.4h-3.5zM218 668.5h6.3v1.4h-6.3zM215.4 669.6h3.5v1.4h-3.5zM183.8 670.7h8.7v1.4h-8.7zM231 671.9h2.8v1.4h-2.8zM179.9 673h7.7v1.4h-7.7zM170.7 676.3h10.8v1.4h-10.8zM181.5 676.3h8.6v1.4h-8.6zM176.7 678.5h3.7v1.4h-3.7zM174.3 680.7h8.6v1.4h-8.6zM210.8 680.7h12.4v1.4h-12.4zM170.7 682.9h7.9v1.4h-7.9zM178.4 684h9v1.4h-9zM184.4 686.2h4v1.4h-4zM200 686.2h13v1.4h-13zM173.8 689.5h8.2v1.4h-8.2zM231.8 689.5h2v1.4h-2zM205.2 690.6h12.2v1.4h-12.2zM214.8 692.8h7.8v1.4h-7.8zM170.7 697.2h10.8v1.4h-10.8zM181.5 697.2h4.5v1.4h-4.5zM218.9 697.2h10.3v1.4h-10.3zM170.7 701.6h3.5v1.4h-3.5zM228.5 702.7h5.3v1.4h-5.3zM179 703.8h8.7v1.4h-8.7zM191.3 708.2h3.5v1.4h-3.5zM194.8 708.2h13.3v1.4h-13.3zM223.2 708.2h7.8v1.4h-7.8zM170.7 709.4h7.2v1.4h-7.2zM175.4 713.8h11.7v1.4h-11.7zM187.1 713.8h11.1v1.4h-11.1zM170.7 716h3.5v1.4h-3.5zM220.7 716h9v1.4h-9zM225.7 718.2h8.1v1.4h-8.1zM222.2 719.3h11.6v1.4h-11.6zM182.5 722.6h5.7v1.4h-5.7zM230.7 722.6h3.1v1.4h-3.1zM176.5 723.7h8.1v1.4h-8.1zM182.2 727h4.4v1.4h-4.4zM221.6 729.2h8.5v1.4h-8.5zM223.8 732.5h6.9v1.4h-6.9zM230.7 732.5h3.1v1.4h-3.1zM194.7 733.6h5.6v1.4h-5.6zM188.5 734.7h7v1.4h-7zM170.7 735.8h13.7v1.4h-13.7zM218 735.8h11.2v1.4h-11.2zM170.7 736.9h5.4v1.4h-5.4zM176.1 736.9h7.3v1.4h-7.3zM170.7 739.1h4v1.4h-4zM181.8 740.2h8v1.4h-8zM227.1 743.5h6.7v1.4h-6.7zM195.8 748h11.2v1.4h-11.2zM170.7 749.1h9.4v1.4h-9.4zM206.2 750.2h12.6v1.4h-12.6zM229.6 750.2h4.2v1.4h-4.2zM185.4 753.5h13.7v1.4h-13.7zM187.9 760.1h11.3v1.4h-11.3zM217.7 763.4h8.7v1.4h-8.7zM170.7 764.5h4.3v1.4h-4.3zM188 764.5h9.7v1.4h-9.7zM204.2 764.5h8.1v1.4h-8.1zM223.9 764.5h7.9v1.4h-7.9zM230.3 772.2h3.5v1.4h-3.5zM219.6 773.3h11.3v1.4h-11.3zM202 774.4h7v1.4h-7zM227.4 774.4h6.4v1.4h-6.4zM193 775.5h8.6v1.4h-8.6zM170.7 776.6h3.5v1.4h-3.5zM192.8 776.6h12.8v1.4h-12.8zM214 776.6h4.6v1.4h-4.6zM174.8 777.7h14v1.4h-14zM200.3 777.7h5v1.4h-5zM225.2 778.8h3.7v1.4h-3.7zM179.1 779.9h11.7v1.4h-11.7zM216.7 779.9h12.8v1.4h-12.8zM229.5 779.9h4.3v1.4h-4.3zM174.4 781h12.6v1.4h-12.6zM204.7 781h8.7v1.4h-8.7zM200 784.3h8.4v1.4h-8.4zM185.1 791h5.8v1.4h-5.8zM207.4 791h4.3v1.4h-4.3zM211.7 791h12.8v1.4h-12.8zM231.7 791h2.1v1.4h-2.1zM189.1 792.1h8.6v1.4h-8.6zM208.3 792.1h9.4v1.4h-9.4zM216.2 793.2h7.6v1.4h-7.6zM198.9 794.3h4.2v1.4h-4.2zM202.1 795.4h13.1v1.4h-13.1zM196.5 798.7h9.5v1.4h-9.5zM223.6 799.8h5.2v1.4h-5.2zM220.3 800.9h3.2v1.4h-3.2zM180.7 802h5.3v1.4h-5.3zM186 802h9.1v1.4h-9.1zM219.2 802h11.3v1.4h-11.3zM209.2 803.1h4.3v1.4h-4.3zM205.2 804.2h6.3v1.4h-6.3zM221.1 804.2h8.1v1.4h-8.1zM211.8 805.3h5.9v1.4h-5.9zM223.9 805.3h9.9v1.4h-9.9zM197.4 807.5h11.2v1.4h-11.2zM207.3 809.7h8.5v1.4h-8.5zM182.9 810.8h12.1v1.4h-12.1zM181.8 811.9h9.4v1.4h-9.4zM178.7 813h10.5v1.4h-10.5zM207.9 814.1h11.9v1.4h-11.9zM191.6 817.4h13.6v1.4h-13.6zM223 817.4h10.8v1.4h-10.8zM208 819.6h5.9v1.4h-5.9zM170.7 820.7h8.1v1.4h-8.1zM201.3 824.1h5.8v1.4h-5.8zM207.2 824.1h11.5v1.4h-11.5zM170.7 825.2h9.6v1.4h-9.6zM219.7 825.2h6.3v1.4h-6.3zM170.7 826.3h7.5v1.4h-7.5zM187.1 826.3h8.2v1.4h-8.2zM211.4 826.3h5.3v1.4h-5.3zM170.7 827.4h10.8v1.4h-10.8zM219.5 827.4h10.1v1.4h-10.1zM217.9 828.5h3.4v1.4h-3.4zM197.7 830.7h13v1.4h-13zM170.7 831.8h8.3v1.4h-8.3zM206.6 832.9h12.4v1.4h-12.4zM186 834h5.4v1.4h-5.4zM231.6 837.3h2.2v1.4h-2.2zM214.4 838.4h11.1v1.4h-11.1zM186.8 839.5h3.4v1.4h-3.4z" fill="#f67d4a"/><path d="M194.5 593.5h13.5v1.4h-13.5zM170.7 599.1h10.6v1.4h-10.6zM170.7 601.3h12v1.4h-12zM175.9 604.6h5.5v1.4h-5.5zM179.5 605.7h10.2v1.4h-10.2zM178.5 606.8h4.7v1.4h-4.7zM223.3 606.8h10.5v1.4h-10.5zM181.6 618.9h4.4v1.4h-4.4zM170.7 620h6.4v1.4h-6.4zM188.1 621.1h9.6v1.4h-9.6zM183.5 625.5h3v1.4h-3zM186.5 625.5h11.1v1.4h-11.1zM224.2 625.5h9.6v1.4h-9.6zM221.1 628.8h12.7v1.4h-12.7zM189.1 629.9h10.5v1.4h-10.5zM170.7 639.9h9.2v1.4h-9.2zM188.2 641h4.8v1.4h-4.8zM187.7 645.4h6.4v1.4h-6.4zM221.9 647.6h8.3v1.4h-8.3zM227.1 650.9h3.5v1.4h-3.5zM181.2 653.1h9.2v1.4h-9.2zM186.4 654.2h4.7v1.4h-4.7zM191.1 654.2h7.2v1.4h-7.2zM170.7 661.9h11.8v1.4h-11.8zM170.7 664.1h3.7v1.4h-3.7zM175.9 665.2h12.5v1.4h-12.5zM201.6 665.2h7.4v1.4h-7.4zM179.3 666.3h7v1.4h-7zM175.8 668.5h5.5v1.4h-5.5zM170.7 673h5.8v1.4h-5.8zM179.9 677.4h3.3v1.4h-3.3zM183.1 677.4h3.4v1.4h-3.4zM199.7 677.4h3.2v1.4h-3.2zM226.9 677.4h4.2v1.4h-4.2zM194.2 678.5h6.3v1.4h-6.3zM218.7 678.5h11.9v1.4h-11.9zM190.6 680.7h13.1v1.4h-13.1zM203.2 681.8h10.8v1.4h-10.8zM179.5 685.1h11.3v1.4h-11.3zM219 688.4h5.9v1.4h-5.9zM225 688.4h8.8v1.4h-8.8zM170.7 689.5h3.1v1.4h-3.1zM176 691.7h8.3v1.4h-8.3zM179.3 696.1h3.1v1.4h-3.1zM194 696.1h4.2v1.4h-4.2zM224.7 699.4h9.1v1.4h-9.1zM178.2 704.9h11.2v1.4h-11.2zM170.7 706h12.9v1.4h-12.9zM199.9 706h9.3v1.4h-9.3zM231.2 709.4h2.6v1.4h-2.6zM198.7 710.5h9.6v1.4h-9.6zM222 710.5h11.8v1.4h-11.8zM196.3 712.7h8.7v1.4h-8.7zM226 714.9h7.8v1.4h-7.8zM199 717.1h3.6v1.4h-3.6zM227.5 717.1h6.3v1.4h-6.3zM175.2 720.4h8.1v1.4h-8.1zM221.6 720.4h7.7v1.4h-7.7zM175.9 721.5h13.9v1.4h-13.9zM193.4 721.5h13.5v1.4h-13.5zM219.6 721.5h14.2v1.4h-14.2zM174.2 722.6h8.2v1.4h-8.2zM184.6 723.7h5.7v1.4h-5.7zM187.9 728.1h8.3v1.4h-8.3zM199 730.3h4.9v1.4h-4.9zM228.1 731.4h5.7v1.4h-5.7zM191.7 736.9h3.1v1.4h-3.1zM179.6 741.3h6.7v1.4h-6.7zM186.3 741.3h7.9v1.4h-7.9zM181.7 742.4h8.8v1.4h-8.8zM204.8 743.5h11.5v1.4h-11.5zM170.7 744.6h12.7v1.4h-12.7zM170.7 748h12.2v1.4h-12.2zM188.5 749.1h3.5v1.4h-3.5zM192 749.1h8.3v1.4h-8.3zM222.9 751.3h3.1v1.4h-3.1zM170.7 753.5h4.3v1.4h-4.3zM175 753.5h10.4v1.4h-10.4zM216.8 753.5h12.2v1.4h-12.2zM228.9 753.5h4.9v1.4h-4.9zM195.2 754.6h13.4v1.4h-13.4zM182.1 755.7h13.8v1.4h-13.8zM195.9 755.7h5.5v1.4h-5.5zM209.1 756.8h13.8v1.4h-13.8zM223 756.8h10.8v1.4h-10.8zM228.6 757.9h5.2v1.4h-5.2zM175.5 760.1h12.4v1.4h-12.4zM174.3 765.6h9.8v1.4h-9.8zM197.6 765.6h5.5v1.4h-5.5zM216.9 765.6h14v1.4h-14zM194.2 766.7h11.9v1.4h-11.9zM176.7 770h12.6v1.4h-12.6zM200 772.2h4.3v1.4h-4.3zM218.2 772.2h12.1v1.4h-12.1zM227.4 775.5h3.2v1.4h-3.2zM230.6 775.5h3.2v1.4h-3.2zM193.2 778.8h9.1v1.4h-9.1zM211.5 778.8h13.7v1.4h-13.7zM170.7 779.9h4.8v1.4h-4.8zM175.5 779.9h3.6v1.4h-3.6zM170.7 781h3.7v1.4h-3.7zM190.5 782.1h11.5v1.4h-11.5zM224.1 783.2h3.5v1.4h-3.5zM170.7 784.3h5.4v1.4h-5.4zM176.1 784.3h4.2v1.4h-4.2zM191.1 784.3h8.9v1.4h-8.9zM221.1 787.7h12.7v1.4h-12.7zM200.1 788.8h3.7v1.4h-3.7zM216.9 788.8h5.1v1.4h-5.1zM170.7 791h3.9v1.4h-3.9zM190.9 791h11.7v1.4h-11.7zM205 792.1h3.4v1.4h-3.4zM189.2 793.2h7v1.4h-7zM170.7 795.4h12.3v1.4h-12.3zM215.2 795.4h13.2v1.4h-13.2zM219.2 797.6h5.8v1.4h-5.8zM170.7 799.8h9.8v1.4h-9.8zM189.6 799.8h12.5v1.4h-12.5zM208.5 799.8h9.5v1.4h-9.5zM223.4 800.9h10.4v1.4h-10.4zM215.3 802h3.9v1.4h-3.9zM183.6 803.1h4v1.4h-4zM170.7 804.2h12v1.4h-12zM170.7 807.5h5.8v1.4h-5.8zM208.7 807.5h8.1v1.4h-8.1zM179.8 808.6h8.2v1.4h-8.2zM187.9 808.6h7.9v1.4h-7.9zM206.5 808.6h13.7v1.4h-13.7zM215.7 809.7h13.8v1.4h-13.8zM195.1 810.8h10.3v1.4h-10.3zM207.6 811.9h3.7v1.4h-3.7zM216.2 813h10.9v1.4h-10.9zM227.1 813h6.7v1.4h-6.7zM170.7 814.1h10.9v1.4h-10.9zM181.6 814.1h9.6v1.4h-9.6zM170.7 815.2h4v1.4h-4zM217.5 815.2h6.9v1.4h-6.9zM170.7 817.4h8.5v1.4h-8.5zM221.8 818.5h4.4v1.4h-4.4zM221 819.6h6.4v1.4h-6.4zM227.4 819.6h6.4v1.4h-6.4zM170.7 821.8h11.8v1.4h-11.8zM182.5 821.8h4v1.4h-4zM196.1 821.8h8.4v1.4h-8.4zM194.6 824.1h6.7v1.4h-6.7zM218.6 824.1h12.6v1.4h-12.6zM194.2 825.2h12.7v1.4h-12.7zM181.5 827.4h7.9v1.4h-7.9zM177.7 828.5h13v1.4h-13zM190.7 828.5h5.9v1.4h-5.9zM184.4 829.6h4.5v1.4h-4.5zM188.8 829.6h10.1v1.4h-10.1zM183.5 830.7h6.7v1.4h-6.7zM193.7 832.9h12.9v1.4h-12.9zM197.4 834h6.4v1.4h-6.4zM203.8 834h10v1.4h-10zM226.4 835.1h7.4v1.4h-7.4zM186 836.2h9.1v1.4h-9.1zM170.7 838.4h13.2v1.4h-13.2zM194.9 838.4h8.8v1.4h-8.8zM170.7 839.5h7.1v1.4h-7.1zM209.7 839.5h10.1v1.4h-10.1zM170.7 840.6h12.3v1.4h-12.3z" fill="#ed5e3c"/><path d="M170.7 598h8.4v1.4h-8.4zM202.5 599.1h7.6v1.4h-7.6zM197.6 605.7h8.5v1.4h-8.5zM184.5 611.2h10.1v1.4h-10.1zM170.7 632.1h5.1v1.4h-5.1zM228.2 632.1h5.6v1.4h-5.6zM231.3 635.5h2.5v1.4h-2.5zM178.2 636.6h3.8v1.4h-3.8zM183.3 638.8h10.2v1.4h-10.2zM199.3 643.2h4.7v1.4h-4.7zM221.8 643.2h9.7v1.4h-9.7zM231.1 649.8h2.7v1.4h-2.7zM228.6 654.2h5.2v1.4h-5.2zM206.9 668.5h11.2v1.4h-11.2zM211.9 673h4v1.4h-4zM176.1 681.8h12.8v1.4h-12.8zM209.3 685.1h13.7v1.4h-13.7zM221.5 686.2h6.3v1.4h-6.3zM197.4 687.3h12.8v1.4h-12.8zM212.2 691.7h7v1.4h-7zM222.9 712.7h5.5v1.4h-5.5zM170.7 714.9h4.3v1.4h-4.3zM187.3 719.3h10.3v1.4h-10.3zM208.4 740.2h7.6v1.4h-7.6zM206.8 741.3h13.6v1.4h-13.6zM194.9 746.8h6.6v1.4h-6.6zM180.1 749.1h8.4v1.4h-8.4zM219.1 749.1h4.4v1.4h-4.4zM170.7 761.2h7.5v1.4h-7.5zM175 764.5h13.1v1.4h-13.1zM226.3 782.1h7.5v1.4h-7.5zM202.1 823h12.5v1.4h-12.5zM194.2 827.4h13.3v1.4h-13.3zM170.7 832.9h9.5v1.4h-9.5zM219.8 837.3h3.4v1.4h-3.4zM190.1 839.5h3.5v1.4h-3.5z" fill="#fdae61"/><path d="M179.1 598h7.6v1.4h-7.6zM228.8 611.2h5v1.4h-5zM186 618.9h3.1v1.4h-3.1zM219.5 618.9h4.2v1.4h-4.2zM224.9 620h6.4v1.4h-6.4zM218.6 623.3h12.7v1.4h-12.7zM170.7 624.4h12v1.4h-12zM193.3 624.4h7.9v1.4h-7.9zM177.8 631h13.6v1.4h-13.6zM208.2 647.6h13.7v1.4h-13.7zM195.9 648.7h9.3v1.4h-9.3zM216.7 655.3h3.7v1.4h-3.7zM181.4 668.5h3.4v1.4h-3.4zM193.2 714.9h12.1v1.4h-12.1zM210.7 720.4h10.9v1.4h-10.9zM203.9 730.3h11.2v1.4h-11.2zM226.1 742.4h7.7v1.4h-7.7zM205.7 749.1h13.4v1.4h-13.4zM193.8 756.8h10.2v1.4h-10.2zM221.8 759h4.6v1.4h-4.6zM184.2 761.2h3.9v1.4h-3.9zM183.5 762.3h6.6v1.4h-6.6zM215.6 767.8h13.6v1.4h-13.6zM206.6 773.3h13v1.4h-13zM170.7 789.9h11.4v1.4h-11.4zM185.5 793.2h3.6v1.4h-3.6zM223.9 793.2h9.9v1.4h-9.9zM170.7 808.6h9.1v1.4h-9.1zM226 825.2h7.8v1.4h-7.8zM178.2 826.3h8.9v1.4h-8.9zM175.8 836.2h6.4v1.4h-6.4z" fill="#b20c26"/><path d="M195.1 600.2h13.6v1.4h-13.6zM220.9 602.4h12.9v1.4h-12.9zM170.7 607.9h13.7v1.4h-13.7zM230.7 614.5h3.1v1.4h-3.1zM170.7 615.6h6.6v1.4h-6.6zM201.5 616.7h5.8v1.4h-5.8zM189.1 618.9h8.6v1.4h-8.6zM214.7 621.1h9.9v1.4h-9.9zM207.7 632.1h13.9v1.4h-13.9zM183.7 635.5h9.3v1.4h-9.3zM226 644.3h3.2v1.4h-3.2zM196.5 653.1h9v1.4h-9zM198.3 659.7h13.4v1.4h-13.4zM170.7 660.8h10.5v1.4h-10.5zM203.5 663h12.1v1.4h-12.1zM186.5 677.4h6.7v1.4h-6.7zM170.7 679.6h13.2v1.4h-13.2zM188.9 681.8h6.5v1.4h-6.5zM170.7 684h7.7v1.4h-7.7zM213 686.2h8.5v1.4h-8.5zM202.2 691.7h9.9v1.4h-9.9zM205.4 697.2h6.8v1.4h-6.8zM219.8 704.9h9.4v1.4h-9.4zM220.7 707.1h5.7v1.4h-5.7zM178.7 711.6h5.1v1.4h-5.1zM218.9 750.2h10.7v1.4h-10.7zM201 768.9h13.3v1.4h-13.3zM174.2 776.6h12.6v1.4h-12.6zM170.7 797.6h3.7v1.4h-3.7zM205.9 798.7h3.3v1.4h-3.3zM202.1 799.8h6.4v1.4h-6.4zM196 820.7h7.4v1.4h-7.4zM212.6 840.6h11.6v1.4h-11.6z" fill="#fee090"/><path d="M223.6 601.3h10.2v1.4h-10.2zM185.4 602.4h10.8v1.4h-10.8zM211.2 609h12.2v1.4h-12.2zM213.7 614.5h6.2v1.4h-6.2zM211.2 625.5h13v1.4h-13zM201.2 631h12.7v1.4h-12.7zM204.7 632.1h3v1.4h-3zM198.3 661.9h6.6v1.4h-6.6zM196.9 665.2h4.6v1.4h-4.6zM190.1 676.3h3.3v1.4h-3.3zM228.2 692.8h5.6v1.4h-5.6zM170.7 700.5h9.1v1.4h-9.1zM209.1 706h7.9v1.4h-7.9zM170.7 710.5h7.3v1.4h-7.3zM175 714.9h6.1v1.4h-6.1zM170.7 721.5h5.2v1.4h-5.2zM212.9 728.1h9v1.4h-9zM212.1 739.1h11v1.4h-11zM201.7 740.2h6.7v1.4h-6.7zM225.5 762.3h8.3v1.4h-8.3zM202.6 791h4.8v1.4h-4.8zM217.9 794.3h7.3v1.4h-7.3zM225.3 794.3h8.5v1.4h-8.5zM193 806.4h4.7v1.4h-4.7zM184.7 816.3h6.2v1.4h-6.2zM231.2 824.1h2.6v1.4h-2.6zM222.1 826.3h5.2v1.4h-5.2zM199.1 839.5h3.1v1.4h-3.1z" fill="#be1826"/><path d="M199.4 602.4h11v1.4h-11zM170.7 613.4h11.5v1.4h-11.5zM170.7 614.5h13.2v1.4h-13.2zM223.8 617.8h10v1.4h-10zM170.7 637.7h9.8v1.4h-9.8zM180.5 637.7h7.7v1.4h-7.7zM170.7 641h9v1.4h-9zM179.7 641h8.5v1.4h-8.5zM220.4 642.1h13.4v1.4h-13.4zM192 643.2h7.3v1.4h-7.3zM177.5 645.4h10.2v1.4h-10.2zM219.4 645.4h8.3v1.4h-8.3zM183.9 647.6h13.1v1.4h-13.1zM230.1 655.3h3.7v1.4h-3.7zM200.4 658.6h10.5v1.4h-10.5zM230.7 658.6h3.1v1.4h-3.1zM191.8 665.2h5.2v1.4h-5.2zM210.5 669.6h4.9v1.4h-4.9zM192.5 670.7h10.4v1.4h-10.4zM186.1 671.9h7.3v1.4h-7.3zM228.4 676.3h5.4v1.4h-5.4zM170.7 687.3h6.2v1.4h-6.2zM205.3 688.4h13.7v1.4h-13.7zM200.6 692.8h4.8v1.4h-4.8zM226.3 696.1h7.5v1.4h-7.5zM170.7 699.4h11.9v1.4h-11.9zM224.2 700.5h6.7v1.4h-6.7zM189.5 704.9h6.6v1.4h-6.6zM186.6 710.5h5.8v1.4h-5.8zM183.4 720.4h3.1v1.4h-3.1zM170.7 733.6h13.2v1.4h-13.2zM189.8 740.2h11.9v1.4h-11.9zM205.1 753.5h5.8v1.4h-5.8zM206.7 762.3h7.2v1.4h-7.2zM204.7 763.4h13v1.4h-13zM212.2 765.6h4.7v1.4h-4.7zM170.7 767.8h3.8v1.4h-3.8zM174.5 767.8h3.2v1.4h-3.2zM200 767.8h6.5v1.4h-6.5zM170.7 768.9h3.2v1.4h-3.2zM188.9 775.5h4.2v1.4h-4.2zM222.5 776.6h4.5v1.4h-4.5zM187 781h10.2v1.4h-10.2zM180.2 784.3h5.4v1.4h-5.4zM221.9 788.8h11.9v1.4h-11.9zM170.7 793.2h6.2v1.4h-6.2zM183.3 798.7h7.8v1.4h-7.8zM191.1 798.7h5.4v1.4h-5.4zM229.7 798.7h4.1v1.4h-4.1zM199.9 803.1h9.3v1.4h-9.3zM201.4 805.3h10.4v1.4h-10.4zM197.4 814.1h10.5v1.4h-10.5zM190.8 818.5h4.5v1.4h-4.5zM202.2 819.6h5.8v1.4h-5.8zM184.7 823h5.8v1.4h-5.8zM211 829.6h8.2v1.4h-8.2z" fill="#fb9e5a"/><path d="M194.2 603.5h4.4v1.4h-4.4zM170.7 604.6h5.2v1.4h-5.2zM170.7 609h4.3v1.4h-4.3zM183.3 609h3.3v1.4h-3.3zM190 616.7h11.5v1.4h-11.5zM223.8 618.9h6.2v1.4h-6.2zM231.3 623.3h2.5v1.4h-2.5zM170.7 625.5h12.8v1.4h-12.8zM222.4 626.6h7v1.4h-7zM183.3 632.1h9.6v1.4h-9.6zM221 634.4h12.8v1.4h-12.8zM212.4 637.7h10v1.4h-10zM219.6 638.8h9v1.4h-9zM231.5 643.2h2.3v1.4h-2.3zM224.5 652h7.2v1.4h-7.2zM221.3 664.1h9.2v1.4h-9.2zM224.2 665.2h9.6v1.4h-9.6zM170.7 666.3h8.6v1.4h-8.6zM222.8 666.3h4.3v1.4h-4.3zM229.2 667.4h4.6v1.4h-4.6zM217.8 670.7h13.1v1.4h-13.1zM193.4 671.9h11v1.4h-11zM215.1 676.3h5.9v1.4h-5.9zM170.7 678.5h6v1.4h-6zM170.7 681.8h5.4v1.4h-5.4zM196.8 682.9h7.3v1.4h-7.3zM230.4 684h3.4v1.4h-3.4zM170.7 685.1h8.8v1.4h-8.8zM170.7 686.2h13.7v1.4h-13.7zM227.8 686.2h6v1.4h-6zM183.7 688.4h9.5v1.4h-9.5zM192.6 689.5h8.7v1.4h-8.7zM223.8 689.5h8v1.4h-8zM189.8 691.7h12.4v1.4h-12.4zM219.1 691.7h5.3v1.4h-5.3zM170.7 693.9h11.2v1.4h-11.2zM228.8 693.9h5v1.4h-5zM192.1 698.3h9.9v1.4h-9.9zM188.5 700.5h4.7v1.4h-4.7zM217.2 701.6h13v1.4h-13zM189.8 702.7h3.4v1.4h-3.4zM226.3 703.8h7.5v1.4h-7.5zM188.2 707.1h8.7v1.4h-8.7zM192.3 710.5h6.3v1.4h-6.3zM170.7 711.6h8v1.4h-8zM192.9 712.7h3.3v1.4h-3.3zM188.3 714.9h4.9v1.4h-4.9zM214 714.9h12v1.4h-12zM170.7 717.1h7.9v1.4h-7.9zM229.4 720.4h4.4v1.4h-4.4zM221.9 728.1h4.6v1.4h-4.6zM179.5 729.2h12.2v1.4h-12.2zM215 730.3h13.1v1.4h-13.1zM175.3 731.4h5.2v1.4h-5.2zM208.3 735.8h4.7v1.4h-4.7zM212.9 735.8h5.1v1.4h-5.1zM220.4 740.2h9v1.4h-9zM170.7 741.3h8.9v1.4h-8.9zM209 742.4h12.5v1.4h-12.5zM170.7 745.7h7.3v1.4h-7.3zM170.7 746.8h7.8v1.4h-7.8zM226.8 746.8h7v1.4h-7zM215.8 748h13.5v1.4h-13.5zM229.3 748h4.5v1.4h-4.5zM223.5 749.1h5.1v1.4h-5.1zM170.7 750.2h5.3v1.4h-5.3zM181 750.2h13.5v1.4h-13.5zM216.6 751.3h6.2v1.4h-6.2zM170.7 754.6h4.2v1.4h-4.2zM227.5 760.1h6.3v1.4h-6.3zM170.7 763.4h10.6v1.4h-10.6zM187.7 763.4h13.9v1.4h-13.9zM231.8 764.5h2v1.4h-2zM184.1 765.6h13.5v1.4h-13.5zM178 766.7h10.5v1.4h-10.5zM223.6 768.9h5.3v1.4h-5.3zM194.2 772.2h5.8v1.4h-5.8zM180.6 778.8h12.6v1.4h-12.6zM197.2 781h7.5v1.4h-7.5zM170.7 785.5h13.4v1.4h-13.4zM184.1 785.5h11.5v1.4h-11.5zM195.6 785.5h10.3v1.4h-10.3zM214.5 785.5h6.2v1.4h-6.2zM170.7 786.6h11.7v1.4h-11.7zM179.3 787.7h8.1v1.4h-8.1zM205.3 787.7h3.3v1.4h-3.3zM182 788.8h11.9v1.4h-11.9zM212.6 789.9h13.6v1.4h-13.6zM174.6 791h10.4v1.4h-10.4zM224.5 791h7.2v1.4h-7.2zM170.7 794.3h12.8v1.4h-12.8zM203.1 794.3h8.6v1.4h-8.6zM187.9 800.9h5.4v1.4h-5.4zM211.7 802h3.6v1.4h-3.6zM197.5 805.3h3.9v1.4h-3.9zM227.2 806.4h6.6v1.4h-6.6zM216.8 807.5h10.6v1.4h-10.6zM187.7 809.7h4.8v1.4h-4.8zM192.5 809.7h3.6v1.4h-3.6zM229.5 809.7h4.3v1.4h-4.3zM191.1 811.9h10.4v1.4h-10.4zM225.3 811.9h8.5v1.4h-8.5zM170.7 813h8v1.4h-8zM189.2 813h4.9v1.4h-4.9zM205.5 813h10.7v1.4h-10.7zM191.2 814.1h6.2v1.4h-6.2zM183.2 815.2h10.5v1.4h-10.5zM193.7 815.2h7.7v1.4h-7.7zM201.4 815.2h12.3v1.4h-12.3zM205.1 817.4h9.2v1.4h-9.2zM181.9 818.5h8.9v1.4h-8.9zM182.1 819.6h12.9v1.4h-12.9zM195.1 819.6h7.1v1.4h-7.1zM229.6 827.4h4.2v1.4h-4.2zM199 829.6h12v1.4h-12zM219.2 829.6h4.9v1.4h-4.9zM170.7 830.7h12.8v1.4h-12.8zM188.4 831.8h11.8v1.4h-11.8zM200.2 831.8h8.6v1.4h-8.6zM217.2 831.8h11.9v1.4h-11.9zM219 832.9h6.8v1.4h-6.8zM170.7 834h4.9v1.4h-4.9zM215.2 835.1h11.2v1.4h-11.2zM183 840.6h8.9v1.4h-8.9z" fill="#e64e35"/><path d="M222.2 603.5h11.6v1.4h-11.6zM184.4 607.9h3.5v1.4h-3.5zM175.6 611.2h8.8v1.4h-8.8zM215.8 611.2h13v1.4h-13zM195.2 628.8h7.6v1.4h-7.6zM221.2 629.9h7.3v1.4h-7.3zM176.8 634.4h12.5v1.4h-12.5zM170.7 656.4h10.7v1.4h-10.7zM225.2 674.1h8.6v1.4h-8.6zM176.9 687.3h9.3v1.4h-9.3zM223.8 687.3h10v1.4h-10zM184.3 691.7h5.5v1.4h-5.5zM196.1 704.9h12.8v1.4h-12.8zM170.7 718.2h8.5v1.4h-8.5zM170.7 720.4h4.5v1.4h-4.5zM186.4 720.4h12.6v1.4h-12.6zM191.7 729.2h3.4v1.4h-3.4zM183.9 733.6h10.8v1.4h-10.8zM184.4 735.8h13.8v1.4h-13.8zM230.4 738h3.4v1.4h-3.4zM224.4 744.6h9.4v1.4h-9.4zM212.2 766.7h3.2v1.4h-3.2zM227.6 766.7h6.2v1.4h-6.2zM175.1 775.5h4.5v1.4h-4.5zM205.3 777.7h13.7v1.4h-13.7zM228.9 778.8h4.9v1.4h-4.9zM170.7 782.1h7.8v1.4h-7.8zM193.3 789.9h9.2v1.4h-9.2zM207.9 793.2h8.3v1.4h-8.3zM215.7 796.5h11.1v1.4h-11.1zM209.2 798.7h10.4v1.4h-10.4zM228.8 799.8h5v1.4h-5zM196.1 809.7h11.2v1.4h-11.2zM170.7 810.8h12.2v1.4h-12.2zM211 810.8h10.6v1.4h-10.6zM226.2 818.5h7.6v1.4h-7.6zM190.5 823h11.6v1.4h-11.6zM224.2 823h9.6v1.4h-9.6zM182.6 824.1h6.1v1.4h-6.1zM189.4 827.4h4.8v1.4h-4.8zM210.8 827.4h8.7v1.4h-8.7zM224.1 829.6h9.7v1.4h-9.7zM170.7 835.1h8.5v1.4h-8.5zM179.2 835.1h9.2v1.4h-9.2zM202 835.1h13.2v1.4h-13.2zM170.7 836.2h5.1v1.4h-5.1zM227.1 836.2h6.7v1.4h-6.7z" fill="#de3f2e"/><path d="M226.8 605.7h7v1.4h-7zM175 609h8.3v1.4h-8.3zM220.9 610.1h12.9v1.4h-12.9zM182.2 613.4h4.1v1.4h-4.1zM219.8 613.4h14v1.4h-14zM184.9 621.1h3.2v1.4h-3.2zM170.7 623.3h13.4v1.4h-13.4zM223.7 633.2h7.8v1.4h-7.8zM189.3 634.4h9.2v1.4h-9.2zM179.9 639.9h3.4v1.4h-3.4zM170.7 643.2h10v1.4h-10zM175.8 649.8h11.1v1.4h-11.1zM170.7 650.9h3.2v1.4h-3.2zM190.4 653.1h6v1.4h-6zM228.9 653.1h4.9v1.4h-4.9zM177.3 670.7h6.6v1.4h-6.6zM230.9 670.7h2.9v1.4h-2.9zM170.7 674.1h4.4v1.4h-4.4zM200.5 678.5h6.9v1.4h-6.9zM170.7 680.7h3.6v1.4h-3.6zM204.2 682.9h6.5v1.4h-6.5zM179.6 688.4h4.1v1.4h-4.1zM170.7 690.6h5.3v1.4h-5.3zM181.9 693.9h7.5v1.4h-7.5zM189.4 693.9h13.4v1.4h-13.4zM174.9 695h7.4v1.4h-7.4zM182.3 695h8.9v1.4h-8.9zM191.2 695h6.1v1.4h-6.1zM182.3 696.1h4v1.4h-4zM212.2 697.2h6.6v1.4h-6.6zM170.7 698.3h11.8v1.4h-11.8zM230.9 700.5h2.9v1.4h-2.9zM229.2 704.9h4.6v1.4h-4.6zM230.7 706h3.1v1.4h-3.1zM225.4 713.8h8.4v1.4h-8.4zM178.6 717.1h10.6v1.4h-10.6zM170.7 719.3h6.2v1.4h-6.2zM170.7 722.6h3.5v1.4h-3.5zM188.1 722.6h11.1v1.4h-11.1zM182.2 724.8h13v1.4h-13zM192.8 725.9h12.9v1.4h-12.9zM174.1 728.1h13.8v1.4h-13.8zM223.8 734.7h3.1v1.4h-3.1zM183.4 736.9h8.3v1.4h-8.3zM174.7 739.1h4.4v1.4h-4.4zM201.2 744.6h12.7v1.4h-12.7zM208.4 751.3h8.2v1.4h-8.2zM178.1 752.4h11.1v1.4h-11.1zM189.1 752.4h13.7v1.4h-13.7zM202.8 752.4h9.6v1.4h-9.6zM219.8 752.4h9.5v1.4h-9.5zM170.7 756.8h11.6v1.4h-11.6zM217.6 759h4.2v1.4h-4.2zM170.7 762.3h12.8v1.4h-12.8zM231.7 763.4h2.1v1.4h-2.1zM170.7 765.6h3.6v1.4h-3.6zM177.7 767.8h9v1.4h-9zM204.3 772.2h13.9v1.4h-13.9zM170.7 773.3h8.1v1.4h-8.1zM230.9 773.3h2.9v1.4h-2.9zM183.8 774.4h13.8v1.4h-13.8zM201.7 775.5h3.4v1.4h-3.4zM218.6 776.6h3.9v1.4h-3.9zM188.8 777.7h7.2v1.4h-7.2zM213.8 782.1h4.3v1.4h-4.3zM170.7 792.1h6v1.4h-6zM176.9 793.2h8.7v1.4h-8.7zM190.1 796.5h13.3v1.4h-13.3zM174.4 797.6h8.6v1.4h-8.6zM201.6 804.2h3.5v1.4h-3.5zM217.7 805.3h6.2v1.4h-6.2zM170.7 806.4h12.1v1.4h-12.1zM175.9 809.7h11.8v1.4h-11.8zM211.2 811.9h5.2v1.4h-5.2zM230.7 814.1h3.1v1.4h-3.1zM195.2 818.5h13.8v1.4h-13.8zM178.8 820.7h8.6v1.4h-8.6zM214.6 823h6.4v1.4h-6.4zM221 823h3.2v1.4h-3.2zM185.4 825.2h8.8v1.4h-8.8zM206.9 825.2h12.8v1.4h-12.8zM204.8 828.5h13.1v1.4h-13.1zM208.8 831.8h8.4v1.4h-8.4zM205.1 840.6h7.5v1.4h-7.5z" fill="#f88e52"/><path d="M170.7 585.6h17.3v1.1h-17.3zM212 585.6h21.8v1.1h-21.8zM170.7 589.6h5.3v1.1h-5.3zM170.7 592.2h9.3v1.1h-9.3z" fill="#000000"/></g><rect x="170.7" y="577" width="63.1" height="264.7" fill="none" stroke="#444" stroke-width="0.7"/><path d="M298.4 476.7h3.4v6.6h-3.4zM301.5 476.7h3.4v6.6h-3.4zM304.7 476.7h3.4v6.6h-3.4zM307.8 476.7h3.4v6.6h-3.4zM351.9 476.7h3.4v6.6h-3.4zM355 476.7h3.4v6.6h-3.4zM298.4 483h3.4v6.6h-3.4zM339.3 489.4h3.4v6.6h-3.4zM342.4 489.4h3.4v6.6h-3.4zM345.6 489.4h3.4v6.6h-3.4zM348.7 489.4h3.4v6.6h-3.4zM351.9 489.4h3.4v6.6h-3.4zM298.4 495.7h3.4v6.6h-3.4zM301.5 495.7h3.4v6.6h-3.4zM304.7 495.7h3.4v6.6h-3.4zM307.8 495.7h3.4v6.6h-3.4zM311 495.7h3.4v6.6h-3.4zM314.1 495.7h3.4v6.6h-3.4zM298.4 502h3.4v6.6h-3.4zM301.5 502h3.4v6.6h-3.4zM304.7 502h3.4v6.6h-3.4zM355 502h3.4v6.6h-3.4zM358.2 502h3.4v6.6h-3.4zM307.8 508.4h3.4v6.6h-3.4zM298.4 514.7h3.4v6.6h-3.4zM301.5 514.7h3.4v6.6h-3.4zM304.7 514.7h3.4v6.6h-3.4zM307.8 514.7h3.4v6.6h-3.4zM311 514.7h3.4v6.6h-3.4zM314.1 514.7h3.4v6.6h-3.4zM320.4 514.7h3.4v6.6h-3.4zM323.6 514.7h3.4v6.6h-3.4zM348.7 521.1h3.4v6.6h-3.4zM351.9 521.1h3.4v6.6h-3.4zM355 521.1h3.4v6.6h-3.4zM358.2 521.1h3.4v6.6h-3.4zM304.7 533.7h3.4v6.6h-3.4zM311 533.7h3.4v6.6h-3.4zM314.1 533.7h3.4v6.6h-3.4zM317.3 533.7h3.4v6.6h-3.4zM298.4 540.1h3.4v6.6h-3.4zM301.5 540.1h3.4v6.6h-3.4zM345.6 540.1h3.4v6.6h-3.4zM348.7 540.1h3.4v6.6h-3.4zM351.9 540.1h3.4v6.6h-3.4zM355 540.1h3.4v6.6h-3.4zM358.2 540.1h3.4v6.6h-3.4z" fill="#de3f2e"/><path d="M311 476.7h3.4v6.6h-3.4zM317.3 476.7h3.4v6.6h-3.4zM320.4 476.7h3.4v6.6h-3.4zM358.2 476.7h3.4v6.6h-3.4zM336.1 489.4h3.4v6.6h-3.4zM345.6 495.7h3.4v6.6h-3.4zM307.8 502h3.4v6.6h-3.4zM298.4 508.4h3.4v6.6h-3.4zM301.5 508.4h3.4v6.6h-3.4zM317.3 508.4h3.4v6.6h-3.4zM329.9 508.4h3.4v6.6h-3.4zM333 508.4h3.4v6.6h-3.4zM336.1 508.4h3.4v6.6h-3.4zM345.6 508.4h3.4v6.6h-3.4zM348.7 508.4h3.4v6.6h-3.4zM317.3 514.7h3.4v6.6h-3.4zM329.9 514.7h3.4v6.6h-3.4zM298.4 521.1h3.4v6.6h-3.4zM329.9 521.1h3.4v6.6h-3.4zM333 521.1h3.4v6.6h-3.4zM342.4 527.4h3.4v6.6h-3.4zM345.6 527.4h3.4v6.6h-3.4zM351.9 527.4h3.4v6.6h-3.4zM355 527.4h3.4v6.6h-3.4zM298.4 533.7h3.4v6.6h-3.4zM301.5 533.7h3.4v6.6h-3.4zM351.9 533.7h3.4v6.6h-3.4zM323.6 540.1h3.4v6.6h-3.4zM326.7 540.1h3.4v6.6h-3.4zM329.9 540.1h3.4v6.6h-3.4zM336.1 540.1h3.4v6.6h-3.4z" fill="#fdae61"/><path d="M314.1 476.7h3.4v6.6h-3.4zM301.5 483h3.4v6.6h-3.4zM304.7 483h3.4v6.6h-3.4zM314.1 489.4h3.4v6.6h-3.4zM348.7 495.7h3.4v6.6h-3.4zM351.9 495.7h3.4v6.6h-3.4zM311 502h3.4v6.6h-3.4zM339.3 508.4h3.4v6.6h-3.4zM342.4 508.4h3.4v6.6h-3.4zM351.9 508.4h3.4v6.6h-3.4zM351.9 514.7h3.4v6.6h-3.4zM355 514.7h3.4v6.6h-3.4zM301.5 521.1h3.4v6.6h-3.4zM307.8 521.1h3.4v6.6h-3.4zM311 521.1h3.4v6.6h-3.4zM314.1 521.1h3.4v6.6h-3.4zM336.1 521.1h3.4v6.6h-3.4zM298.4 527.4h3.4v6.6h-3.4zM339.3 527.4h3.4v6.6h-3.4zM358.2 527.4h3.4v6.6h-3.4zM307.8 533.7h3.4v6.6h-3.4zM329.9 533.7h3.4v6.6h-3.4zM333 533.7h3.4v6.6h-3.4zM317.3 540.1h3.4v6.6h-3.4zM320.4 540.1h3.4v6.6h-3.4zM333 540.1h3.4v6.6h-3.4zM339.3 540.1h3.4v6.6h-3.4z" fill="#f7fccd"/><path d="M323.6 476.7h3.4v6.6h-3.4zM339.3 483h3.4v6.6h-3.4zM358.2 483h3.4v6.6h-3.4zM329.9 489.4h3.4v6.6h-3.4zM355 489.4h3.4v6.6h-3.4zM333 495.7h3.4v6.6h-3.4zM355 495.7h3.4v6.6h-3.4z" fill="#689fca"/><path d="M326.7 476.7h3.4v6.6h-3.4zM311 483h3.4v6.6h-3.4zM348.7 483h3.4v6.6h-3.4zM351.9 483h3.4v6.6h-3.4zM311 489.4h3.4v6.6h-3.4zM317.3 489.4h3.4v6.6h-3.4zM320.4 489.4h3.4v6.6h-3.4zM323.6 489.4h3.4v6.6h-3.4zM326.7 495.7h3.4v6.6h-3.4zM342.4 495.7h3.4v6.6h-3.4zM358.2 495.7h3.4v6.6h-3.4zM317.3 502h3.4v6.6h-3.4zM320.4 502h3.4v6.6h-3.4zM323.6 502h3.4v6.6h-3.4zM333 502h3.4v6.6h-3.4zM348.7 502h3.4v6.6h-3.4zM351.9 502h3.4v6.6h-3.4zM358.2 508.4h3.4v6.6h-3.4zM320.4 521.1h3.4v6.6h-3.4z" fill="#e0f3f8"/><path d="M329.9 476.7h3.4v6.6h-3.4zM333 476.7h3.4v6.6h-3.4zM336.1 476.7h3.4v6.6h-3.4zM339.3 476.7h3.4v6.6h-3.4zM342.4 476.7h3.4v6.6h-3.4zM345.6 476.7h3.4v6.6h-3.4zM342.4 483h3.4v6.6h-3.4zM326.7 489.4h3.4v6.6h-3.4zM345.6 502h3.4v6.6h-3.4zM355 508.4h3.4v6.6h-3.4zM336.1 514.7h3.4v6.6h-3.4zM326.7 533.7h3.4v6.6h-3.4z" fill="#313695"/><path d="M348.7 476.7h3.4v6.6h-3.4zM307.8 483h3.4v6.6h-3.4zM298.4 489.4h3.4v6.6h-3.4zM301.5 489.4h3.4v6.6h-3.4zM304.7 489.4h3.4v6.6h-3.4zM333 489.4h3.4v6.6h-3.4zM314.1 502h3.4v6.6h-3.4zM358.2 514.7h3.4v6.6h-3.4zM301.5 527.4h3.4v6.6h-3.4z" fill="#fee090"/><path d="M314.1 483h3.4v6.6h-3.4zM317.3 483h3.4v6.6h-3.4zM311 508.4h3.4v6.6h-3.4zM314.1 508.4h3.4v6.6h-3.4zM304.7 540.1h3.4v6.6h-3.4z" fill="#be1826"/><path d="M320.4 483h3.4v6.6h-3.4zM323.6 483h3.4v6.6h-3.4zM317.3 495.7h3.4v6.6h-3.4zM320.4 495.7h3.4v6.6h-3.4zM323.6 495.7h3.4v6.6h-3.4zM336.1 502h3.4v6.6h-3.4zM339.3 502h3.4v6.6h-3.4zM304.7 508.4h3.4v6.6h-3.4zM326.7 514.7h3.4v6.6h-3.4zM323.6 521.1h3.4v6.6h-3.4zM326.7 521.1h3.4v6.6h-3.4zM342.4 521.1h3.4v6.6h-3.4zM345.6 521.1h3.4v6.6h-3.4zM304.7 527.4h3.4v6.6h-3.4zM307.8 527.4h3.4v6.6h-3.4zM311 527.4h3.4v6.6h-3.4zM314.1 527.4h3.4v6.6h-3.4zM317.3 527.4h3.4v6.6h-3.4zM320.4 527.4h3.4v6.6h-3.4zM323.6 527.4h3.4v6.6h-3.4zM326.7 527.4h3.4v6.6h-3.4zM329.9 527.4h3.4v6.6h-3.4zM333 527.4h3.4v6.6h-3.4zM348.7 527.4h3.4v6.6h-3.4zM320.4 533.7h3.4v6.6h-3.4zM336.1 533.7h3.4v6.6h-3.4zM339.3 533.7h3.4v6.6h-3.4zM342.4 533.7h3.4v6.6h-3.4zM345.6 533.7h3.4v6.6h-3.4zM348.7 533.7h3.4v6.6h-3.4zM355 533.7h3.4v6.6h-3.4zM358.2 533.7h3.4v6.6h-3.4zM307.8 540.1h3.4v6.6h-3.4zM311 540.1h3.4v6.6h-3.4zM314.1 540.1h3.4v6.6h-3.4zM342.4 540.1h3.4v6.6h-3.4z" fill="#f46d43"/><path d="M326.7 483h3.4v6.6h-3.4zM329.9 483h3.4v6.6h-3.4zM345.6 483h3.4v6.6h-3.4zM307.8 489.4h3.4v6.6h-3.4zM358.2 489.4h3.4v6.6h-3.4zM320.4 508.4h3.4v6.6h-3.4zM323.6 508.4h3.4v6.6h-3.4zM333 514.7h3.4v6.6h-3.4zM339.3 521.1h3.4v6.6h-3.4zM323.6 533.7h3.4v6.6h-3.4z" fill="#4575b4"/><path d="M333 483h3.4v6.6h-3.4zM336.1 483h3.4v6.6h-3.4zM355 483h3.4v6.6h-3.4zM329.9 495.7h3.4v6.6h-3.4zM336.1 495.7h3.4v6.6h-3.4zM339.3 495.7h3.4v6.6h-3.4zM326.7 502h3.4v6.6h-3.4zM329.9 502h3.4v6.6h-3.4zM342.4 502h3.4v6.6h-3.4zM326.7 508.4h3.4v6.6h-3.4zM339.3 514.7h3.4v6.6h-3.4zM342.4 514.7h3.4v6.6h-3.4zM345.6 514.7h3.4v6.6h-3.4zM348.7 514.7h3.4v6.6h-3.4zM304.7 521.1h3.4v6.6h-3.4zM317.3 521.1h3.4v6.6h-3.4zM336.1 527.4h3.4v6.6h-3.4z" fill="#9dcee3"/><rect x="298.4" y="476.7" width="62.9" height="69.7" fill="none" stroke="#555" stroke-width="0.5"/><path d="M298.4 549.6h3.4v6.7h-3.4zM301.5 549.6h3.4v6.7h-3.4zM304.7 549.6h3.4v6.7h-3.4zM307.8 549.6h3.4v6.7h-3.4zM351.9 549.6h3.4v6.7h-3.4zM355 549.6h3.4v6.7h-3.4zM298.4 619.5h3.4v6.7h-3.4zM301.5 619.5h3.4v6.7h-3.4zM304.7 619.5h3.4v6.7h-3.4zM304.7 625.8h3.4v6.7h-3.4zM307.8 625.8h3.4v6.7h-3.4zM311 625.8h3.4v6.7h-3.4zM314.1 625.8h3.4v6.7h-3.4zM311 632.2h3.4v6.7h-3.4zM314.1 632.2h3.4v6.7h-3.4zM317.3 632.2h3.4v6.7h-3.4zM320.4 632.2h3.4v6.7h-3.4zM298.4 638.5h3.4v6.7h-3.4zM339.3 644.9h3.4v6.7h-3.4zM342.4 644.9h3.4v6.7h-3.4zM345.6 644.9h3.4v6.7h-3.4zM348.7 644.9h3.4v6.7h-3.4zM351.9 644.9h3.4v6.7h-3.4zM307.8 657.6h3.4v6.7h-3.4zM311 657.6h3.4v6.7h-3.4zM298.4 663.9h3.4v6.7h-3.4zM301.5 663.9h3.4v6.7h-3.4zM304.7 663.9h3.4v6.7h-3.4zM307.8 663.9h3.4v6.7h-3.4zM311 663.9h3.4v6.7h-3.4zM320.4 670.2h3.4v6.7h-3.4zM298.4 689.3h3.4v6.7h-3.4zM301.5 689.3h3.4v6.7h-3.4zM304.7 689.3h3.4v6.7h-3.4zM355 689.3h3.4v6.7h-3.4zM358.2 689.3h3.4v6.7h-3.4zM307.8 695.7h3.4v6.7h-3.4zM298.4 702h3.4v6.7h-3.4zM301.5 702h3.4v6.7h-3.4zM304.7 702h3.4v6.7h-3.4zM307.8 702h3.4v6.7h-3.4zM311 702h3.4v6.7h-3.4zM314.1 702h3.4v6.7h-3.4zM320.4 702h3.4v6.7h-3.4zM323.6 702h3.4v6.7h-3.4zM348.7 708.4h3.4v6.7h-3.4zM351.9 708.4h3.4v6.7h-3.4zM355 708.4h3.4v6.7h-3.4zM358.2 708.4h3.4v6.7h-3.4zM298.4 714.7h3.4v6.7h-3.4zM301.5 714.7h3.4v6.7h-3.4zM314.1 714.7h3.4v6.7h-3.4zM317.3 714.7h3.4v6.7h-3.4zM345.6 714.7h3.4v6.7h-3.4zM304.7 721.1h3.4v6.7h-3.4zM307.8 721.1h3.4v6.7h-3.4zM311 721.1h3.4v6.7h-3.4zM355 721.1h3.4v6.7h-3.4zM358.2 721.1h3.4v6.7h-3.4zM314.1 727.4h3.4v6.7h-3.4zM317.3 727.4h3.4v6.7h-3.4zM320.4 746.5h3.4v6.7h-3.4zM323.6 746.5h3.4v6.7h-3.4zM326.7 746.5h3.4v6.7h-3.4zM329.9 746.5h3.4v6.7h-3.4zM351.9 746.5h3.4v6.7h-3.4zM339.3 752.8h3.4v6.7h-3.4zM298.4 759.2h3.4v6.7h-3.4zM304.7 759.2h3.4v6.7h-3.4zM345.6 759.2h3.4v6.7h-3.4zM348.7 759.2h3.4v6.7h-3.4zM336.1 771.9h3.4v6.7h-3.4zM298.4 778.2h3.4v6.7h-3.4zM358.2 778.2h3.4v6.7h-3.4zM304.7 784.6h3.4v6.7h-3.4zM307.8 784.6h3.4v6.7h-3.4zM311 784.6h3.4v6.7h-3.4zM314.1 784.6h3.4v6.7h-3.4zM345.6 790.9h3.4v6.7h-3.4zM348.7 790.9h3.4v6.7h-3.4zM351.9 790.9h3.4v6.7h-3.4zM355 790.9h3.4v6.7h-3.4zM358.2 790.9h3.4v6.7h-3.4zM298.4 797.2h3.4v6.7h-3.4zM307.8 797.2h3.4v6.7h-3.4zM298.4 803.6h3.4v6.7h-3.4zM311 803.6h3.4v6.7h-3.4zM314.1 803.6h3.4v6.7h-3.4zM298.4 810h3.4v6.7h-3.4zM314.1 810h3.4v6.7h-3.4zM317.3 810h3.4v6.7h-3.4zM320.4 810h3.4v6.7h-3.4zM329.9 810h3.4v6.7h-3.4zM333 810h3.4v6.7h-3.4zM336.1 810h3.4v6.7h-3.4zM339.3 810h3.4v6.7h-3.4zM342.4 810h3.4v6.7h-3.4zM345.6 810h3.4v6.7h-3.4zM298.4 816.3h3.4v6.7h-3.4zM301.5 816.3h3.4v6.7h-3.4zM304.7 816.3h3.4v6.7h-3.4zM342.4 816.3h3.4v6.7h-3.4zM345.6 816.3h3.4v6.7h-3.4zM348.7 816.3h3.4v6.7h-3.4zM351.9 816.3h3.4v6.7h-3.4zM355 816.3h3.4v6.7h-3.4zM358.2 816.3h3.4v6.7h-3.4zM307.8 822.7h3.4v6.7h-3.4zM311 822.7h3.4v6.7h-3.4zM342.4 822.7h3.4v6.7h-3.4zM345.6 822.7h3.4v6.7h-3.4zM348.7 822.7h3.4v6.7h-3.4zM351.9 822.7h3.4v6.7h-3.4zM355 822.7h3.4v6.7h-3.4zM358.2 822.7h3.4v6.7h-3.4zM320.4 829h3.4v6.7h-3.4zM323.6 829h3.4v6.7h-3.4zM326.7 829h3.4v6.7h-3.4zM329.9 829h3.4v6.7h-3.4zM333 829h3.4v6.7h-3.4zM336.1 829h3.4v6.7h-3.4zM339.3 829h3.4v6.7h-3.4zM323.6 835.4h3.4v6.7h-3.4z" fill="#de3f2e"/><path d="M311 549.6h3.4v6.7h-3.4zM317.3 549.6h3.4v6.7h-3.4zM320.4 549.6h3.4v6.7h-3.4zM358.2 549.6h3.4v6.7h-3.4zM336.1 644.9h3.4v6.7h-3.4zM311 651.2h3.4v6.7h-3.4zM314.1 651.2h3.4v6.7h-3.4zM336.1 651.2h3.4v6.7h-3.4zM323.6 657.6h3.4v6.7h-3.4zM326.7 657.6h3.4v6.7h-3.4zM329.9 657.6h3.4v6.7h-3.4zM333 657.6h3.4v6.7h-3.4zM345.6 657.6h3.4v6.7h-3.4zM348.7 657.6h3.4v6.7h-3.4zM345.6 663.9h3.4v6.7h-3.4zM298.4 676.6h3.4v6.7h-3.4zM301.5 676.6h3.4v6.7h-3.4zM323.6 676.6h3.4v6.7h-3.4zM326.7 676.6h3.4v6.7h-3.4zM355 676.6h3.4v6.7h-3.4zM358.2 676.6h3.4v6.7h-3.4zM326.7 683h3.4v6.7h-3.4zM329.9 683h3.4v6.7h-3.4zM333 683h3.4v6.7h-3.4zM336.1 683h3.4v6.7h-3.4zM339.3 683h3.4v6.7h-3.4zM342.4 683h3.4v6.7h-3.4zM345.6 683h3.4v6.7h-3.4zM355 683h3.4v6.7h-3.4zM307.8 689.3h3.4v6.7h-3.4zM298.4 695.7h3.4v6.7h-3.4zM301.5 695.7h3.4v6.7h-3.4zM317.3 695.7h3.4v6.7h-3.4zM329.9 695.7h3.4v6.7h-3.4zM333 695.7h3.4v6.7h-3.4zM336.1 695.7h3.4v6.7h-3.4zM345.6 695.7h3.4v6.7h-3.4zM348.7 695.7h3.4v6.7h-3.4zM317.3 702h3.4v6.7h-3.4zM329.9 702h3.4v6.7h-3.4zM298.4 708.4h3.4v6.7h-3.4zM329.9 708.4h3.4v6.7h-3.4zM333 708.4h3.4v6.7h-3.4zM304.7 714.7h3.4v6.7h-3.4zM307.8 714.7h3.4v6.7h-3.4zM348.7 714.7h3.4v6.7h-3.4zM351.9 714.7h3.4v6.7h-3.4zM355 714.7h3.4v6.7h-3.4zM358.2 714.7h3.4v6.7h-3.4zM301.5 721.1h3.4v6.7h-3.4zM314.1 721.1h3.4v6.7h-3.4zM304.7 727.4h3.4v6.7h-3.4zM307.8 727.4h3.4v6.7h-3.4zM320.4 727.4h3.4v6.7h-3.4zM323.6 727.4h3.4v6.7h-3.4zM329.9 727.4h3.4v6.7h-3.4zM304.7 733.8h3.4v6.7h-3.4zM307.8 733.8h3.4v6.7h-3.4zM320.4 733.8h3.4v6.7h-3.4zM323.6 733.8h3.4v6.7h-3.4zM326.7 733.8h3.4v6.7h-3.4zM329.9 733.8h3.4v6.7h-3.4zM345.6 733.8h3.4v6.7h-3.4zM320.4 740.1h3.4v6.7h-3.4zM323.6 740.1h3.4v6.7h-3.4zM339.3 740.1h3.4v6.7h-3.4zM345.6 740.1h3.4v6.7h-3.4zM348.7 740.1h3.4v6.7h-3.4zM351.9 740.1h3.4v6.7h-3.4zM339.3 746.5h3.4v6.7h-3.4zM345.6 746.5h3.4v6.7h-3.4zM348.7 746.5h3.4v6.7h-3.4zM298.4 752.8h3.4v6.7h-3.4zM301.5 752.8h3.4v6.7h-3.4zM333 752.8h3.4v6.7h-3.4zM336.1 752.8h3.4v6.7h-3.4zM307.8 759.2h3.4v6.7h-3.4zM311 759.2h3.4v6.7h-3.4zM314.1 759.2h3.4v6.7h-3.4zM320.4 759.2h3.4v6.7h-3.4zM351.9 759.2h3.4v6.7h-3.4zM304.7 765.5h3.4v6.7h-3.4zM339.3 765.5h3.4v6.7h-3.4zM342.4 765.5h3.4v6.7h-3.4zM348.7 765.5h3.4v6.7h-3.4zM351.9 765.5h3.4v6.7h-3.4zM298.4 771.9h3.4v6.7h-3.4zM301.5 771.9h3.4v6.7h-3.4zM314.1 771.9h3.4v6.7h-3.4zM317.3 771.9h3.4v6.7h-3.4zM320.4 771.9h3.4v6.7h-3.4zM329.9 771.9h3.4v6.7h-3.4zM339.3 771.9h3.4v6.7h-3.4zM301.5 778.2h3.4v6.7h-3.4zM304.7 778.2h3.4v6.7h-3.4zM323.6 778.2h3.4v6.7h-3.4zM326.7 778.2h3.4v6.7h-3.4zM329.9 778.2h3.4v6.7h-3.4zM333 778.2h3.4v6.7h-3.4zM339.3 778.2h3.4v6.7h-3.4zM342.4 778.2h3.4v6.7h-3.4zM345.6 778.2h3.4v6.7h-3.4zM348.7 778.2h3.4v6.7h-3.4zM298.4 784.6h3.4v6.7h-3.4zM301.5 784.6h3.4v6.7h-3.4zM355 784.6h3.4v6.7h-3.4zM298.4 790.9h3.4v6.7h-3.4zM301.5 790.9h3.4v6.7h-3.4zM314.1 790.9h3.4v6.7h-3.4zM320.4 790.9h3.4v6.7h-3.4zM323.6 790.9h3.4v6.7h-3.4zM326.7 790.9h3.4v6.7h-3.4zM333 790.9h3.4v6.7h-3.4zM336.1 790.9h3.4v6.7h-3.4zM339.3 790.9h3.4v6.7h-3.4zM314.1 797.2h3.4v6.7h-3.4zM317.3 797.2h3.4v6.7h-3.4zM320.4 797.2h3.4v6.7h-3.4zM323.6 797.2h3.4v6.7h-3.4zM326.7 797.2h3.4v6.7h-3.4zM355 797.2h3.4v6.7h-3.4zM358.2 797.2h3.4v6.7h-3.4zM317.3 803.6h3.4v6.7h-3.4zM320.4 803.6h3.4v6.7h-3.4zM326.7 803.6h3.4v6.7h-3.4zM339.3 803.6h3.4v6.7h-3.4zM342.4 803.6h3.4v6.7h-3.4zM345.6 803.6h3.4v6.7h-3.4zM351.9 803.6h3.4v6.7h-3.4zM355 803.6h3.4v6.7h-3.4zM358.2 803.6h3.4v6.7h-3.4zM348.7 810h3.4v6.7h-3.4zM351.9 810h3.4v6.7h-3.4zM323.6 816.3h3.4v6.7h-3.4zM326.7 816.3h3.4v6.7h-3.4zM336.1 816.3h3.4v6.7h-3.4zM339.3 816.3h3.4v6.7h-3.4zM320.4 822.7h3.4v6.7h-3.4zM333 822.7h3.4v6.7h-3.4zM336.1 822.7h3.4v6.7h-3.4zM339.3 822.7h3.4v6.7h-3.4zM342.4 829h3.4v6.7h-3.4zM345.6 829h3.4v6.7h-3.4zM348.7 829h3.4v6.7h-3.4zM351.9 829h3.4v6.7h-3.4zM355 829h3.4v6.7h-3.4zM339.3 835.4h3.4v6.7h-3.4zM348.7 835.4h3.4v6.7h-3.4zM351.9 835.4h3.4v6.7h-3.4zM358.2 835.4h3.4v6.7h-3.4z" fill="#fdae61"/><path d="M314.1 549.6h3.4v6.7h-3.4zM307.8 556h3.4v6.7h-3.4zM301.5 562.3h3.4v6.7h-3.4zM304.7 562.3h3.4v6.7h-3.4zM358.2 562.3h3.4v6.7h-3.4zM345.6 568.6h3.4v6.7h-3.4zM348.7 568.6h3.4v6.7h-3.4zM351.9 568.6h3.4v6.7h-3.4zM345.6 575h3.4v6.7h-3.4zM348.7 575h3.4v6.7h-3.4zM351.9 575h3.4v6.7h-3.4zM301.5 581.4h3.4v6.7h-3.4zM355 581.4h3.4v6.7h-3.4zM358.2 581.4h3.4v6.7h-3.4zM342.4 587.7h3.4v6.7h-3.4zM345.6 587.7h3.4v6.7h-3.4zM348.7 587.7h3.4v6.7h-3.4zM298.4 594.1h3.4v6.7h-3.4zM351.9 594.1h3.4v6.7h-3.4zM355 594.1h3.4v6.7h-3.4zM358.2 594.1h3.4v6.7h-3.4zM333 600.4h3.4v6.7h-3.4zM336.1 600.4h3.4v6.7h-3.4zM339.3 600.4h3.4v6.7h-3.4zM333 606.8h3.4v6.7h-3.4zM336.1 606.8h3.4v6.7h-3.4zM339.3 606.8h3.4v6.7h-3.4zM317.3 613.1h3.4v6.7h-3.4zM320.4 613.1h3.4v6.7h-3.4zM320.4 619.5h3.4v6.7h-3.4zM326.7 625.8h3.4v6.7h-3.4zM333 632.2h3.4v6.7h-3.4zM336.1 632.2h3.4v6.7h-3.4zM301.5 638.5h3.4v6.7h-3.4zM304.7 638.5h3.4v6.7h-3.4zM314.1 644.9h3.4v6.7h-3.4zM317.3 651.2h3.4v6.7h-3.4zM339.3 651.2h3.4v6.7h-3.4zM314.1 657.6h3.4v6.7h-3.4zM317.3 657.6h3.4v6.7h-3.4zM320.4 657.6h3.4v6.7h-3.4zM348.7 663.9h3.4v6.7h-3.4zM351.9 663.9h3.4v6.7h-3.4zM355 670.2h3.4v6.7h-3.4zM358.2 670.2h3.4v6.7h-3.4zM314.1 676.6h3.4v6.7h-3.4zM317.3 676.6h3.4v6.7h-3.4zM301.5 683h3.4v6.7h-3.4zM317.3 683h3.4v6.7h-3.4zM323.6 683h3.4v6.7h-3.4zM348.7 683h3.4v6.7h-3.4zM311 689.3h3.4v6.7h-3.4zM314.1 689.3h3.4v6.7h-3.4zM339.3 695.7h3.4v6.7h-3.4zM342.4 695.7h3.4v6.7h-3.4zM351.9 695.7h3.4v6.7h-3.4zM351.9 702h3.4v6.7h-3.4zM355 702h3.4v6.7h-3.4zM301.5 708.4h3.4v6.7h-3.4zM307.8 708.4h3.4v6.7h-3.4zM311 708.4h3.4v6.7h-3.4zM314.1 708.4h3.4v6.7h-3.4zM336.1 708.4h3.4v6.7h-3.4zM336.1 714.7h3.4v6.7h-3.4zM339.3 714.7h3.4v6.7h-3.4zM298.4 721.1h3.4v6.7h-3.4zM317.3 721.1h3.4v6.7h-3.4zM323.6 721.1h3.4v6.7h-3.4zM326.7 721.1h3.4v6.7h-3.4zM339.3 721.1h3.4v6.7h-3.4zM342.4 721.1h3.4v6.7h-3.4zM348.7 721.1h3.4v6.7h-3.4zM351.9 721.1h3.4v6.7h-3.4zM311 727.4h3.4v6.7h-3.4zM339.3 727.4h3.4v6.7h-3.4zM342.4 727.4h3.4v6.7h-3.4zM348.7 727.4h3.4v6.7h-3.4zM351.9 727.4h3.4v6.7h-3.4zM355 727.4h3.4v6.7h-3.4zM358.2 727.4h3.4v6.7h-3.4zM311 733.8h3.4v6.7h-3.4zM333 733.8h3.4v6.7h-3.4zM336.1 733.8h3.4v6.7h-3.4zM348.7 733.8h3.4v6.7h-3.4zM351.9 733.8h3.4v6.7h-3.4zM355 733.8h3.4v6.7h-3.4zM301.5 740.1h3.4v6.7h-3.4zM333 740.1h3.4v6.7h-3.4zM336.1 740.1h3.4v6.7h-3.4zM342.4 740.1h3.4v6.7h-3.4zM355 740.1h3.4v6.7h-3.4zM358.2 740.1h3.4v6.7h-3.4zM355 746.5h3.4v6.7h-3.4zM329.9 752.8h3.4v6.7h-3.4zM358.2 752.8h3.4v6.7h-3.4zM317.3 759.2h3.4v6.7h-3.4zM355 759.2h3.4v6.7h-3.4zM358.2 759.2h3.4v6.7h-3.4zM298.4 765.5h3.4v6.7h-3.4zM301.5 765.5h3.4v6.7h-3.4zM336.1 765.5h3.4v6.7h-3.4zM355 765.5h3.4v6.7h-3.4zM358.2 765.5h3.4v6.7h-3.4zM307.8 771.9h3.4v6.7h-3.4zM311 771.9h3.4v6.7h-3.4zM323.6 771.9h3.4v6.7h-3.4zM326.7 771.9h3.4v6.7h-3.4zM342.4 771.9h3.4v6.7h-3.4zM345.6 771.9h3.4v6.7h-3.4zM348.7 771.9h3.4v6.7h-3.4zM311 778.2h3.4v6.7h-3.4zM317.3 778.2h3.4v6.7h-3.4zM320.4 778.2h3.4v6.7h-3.4zM336.1 778.2h3.4v6.7h-3.4zM326.7 784.6h3.4v6.7h-3.4zM329.9 784.6h3.4v6.7h-3.4zM304.7 790.9h3.4v6.7h-3.4zM317.3 790.9h3.4v6.7h-3.4zM329.9 790.9h3.4v6.7h-3.4zM329.9 803.6h3.4v6.7h-3.4zM336.1 803.6h3.4v6.7h-3.4zM348.7 803.6h3.4v6.7h-3.4zM307.8 810h3.4v6.7h-3.4zM317.3 816.3h3.4v6.7h-3.4zM320.4 816.3h3.4v6.7h-3.4zM329.9 816.3h3.4v6.7h-3.4zM333 816.3h3.4v6.7h-3.4zM323.6 822.7h3.4v6.7h-3.4zM326.7 822.7h3.4v6.7h-3.4zM314.1 829h3.4v6.7h-3.4zM326.7 835.4h3.4v6.7h-3.4zM329.9 835.4h3.4v6.7h-3.4zM342.4 835.4h3.4v6.7h-3.4z" fill="#f7fccd"/><path d="M323.6 549.6h3.4v6.7h-3.4zM336.1 556h3.4v6.7h-3.4zM339.3 556h3.4v6.7h-3.4zM345.6 556h3.4v6.7h-3.4zM348.7 556h3.4v6.7h-3.4zM351.9 556h3.4v6.7h-3.4zM329.9 562.3h3.4v6.7h-3.4zM333 562.3h3.4v6.7h-3.4zM339.3 562.3h3.4v6.7h-3.4zM342.4 562.3h3.4v6.7h-3.4zM345.6 562.3h3.4v6.7h-3.4zM320.4 568.6h3.4v6.7h-3.4zM323.6 568.6h3.4v6.7h-3.4zM329.9 568.6h3.4v6.7h-3.4zM333 568.6h3.4v6.7h-3.4zM336.1 568.6h3.4v6.7h-3.4zM342.4 568.6h3.4v6.7h-3.4zM320.4 575h3.4v6.7h-3.4zM326.7 575h3.4v6.7h-3.4zM329.9 575h3.4v6.7h-3.4zM333 575h3.4v6.7h-3.4zM333 581.4h3.4v6.7h-3.4zM339.3 581.4h3.4v6.7h-3.4zM342.4 581.4h3.4v6.7h-3.4zM345.6 581.4h3.4v6.7h-3.4zM317.3 587.7h3.4v6.7h-3.4zM323.6 587.7h3.4v6.7h-3.4zM326.7 587.7h3.4v6.7h-3.4zM329.9 587.7h3.4v6.7h-3.4zM326.7 594.1h3.4v6.7h-3.4zM333 594.1h3.4v6.7h-3.4zM336.1 594.1h3.4v6.7h-3.4zM339.3 594.1h3.4v6.7h-3.4zM307.8 600.4h3.4v6.7h-3.4zM311 600.4h3.4v6.7h-3.4zM314.1 600.4h3.4v6.7h-3.4zM317.3 600.4h3.4v6.7h-3.4zM320.4 600.4h3.4v6.7h-3.4zM326.7 600.4h3.4v6.7h-3.4zM348.7 606.8h3.4v6.7h-3.4zM351.9 606.8h3.4v6.7h-3.4zM355 606.8h3.4v6.7h-3.4zM358.2 606.8h3.4v6.7h-3.4zM298.4 613.1h3.4v6.7h-3.4zM301.5 613.1h3.4v6.7h-3.4zM304.7 613.1h3.4v6.7h-3.4zM348.7 619.5h3.4v6.7h-3.4zM351.9 619.5h3.4v6.7h-3.4zM358.2 619.5h3.4v6.7h-3.4zM358.2 625.8h3.4v6.7h-3.4zM358.2 638.5h3.4v6.7h-3.4zM329.9 644.9h3.4v6.7h-3.4zM355 644.9h3.4v6.7h-3.4zM333 663.9h3.4v6.7h-3.4zM355 663.9h3.4v6.7h-3.4zM348.7 670.2h3.4v6.7h-3.4zM351.9 670.2h3.4v6.7h-3.4zM329.9 676.6h3.4v6.7h-3.4zM336.1 676.6h3.4v6.7h-3.4zM342.4 676.6h3.4v6.7h-3.4zM320.4 683h3.4v6.7h-3.4zM326.7 740.1h3.4v6.7h-3.4zM329.9 797.2h3.4v6.7h-3.4zM355 810h3.4v6.7h-3.4z" fill="#689fca"/><path d="M326.7 549.6h3.4v6.7h-3.4zM323.6 556h3.4v6.7h-3.4zM326.7 556h3.4v6.7h-3.4zM317.3 562.3h3.4v6.7h-3.4zM320.4 562.3h3.4v6.7h-3.4zM307.8 568.6h3.4v6.7h-3.4zM311 568.6h3.4v6.7h-3.4zM304.7 575h3.4v6.7h-3.4zM307.8 575h3.4v6.7h-3.4zM317.3 581.4h3.4v6.7h-3.4zM320.4 581.4h3.4v6.7h-3.4zM304.7 587.7h3.4v6.7h-3.4zM314.1 594.1h3.4v6.7h-3.4zM317.3 594.1h3.4v6.7h-3.4zM351.9 600.4h3.4v6.7h-3.4zM320.4 606.8h3.4v6.7h-3.4zM333 613.1h3.4v6.7h-3.4zM336.1 619.5h3.4v6.7h-3.4zM339.3 619.5h3.4v6.7h-3.4zM342.4 625.8h3.4v6.7h-3.4zM345.6 625.8h3.4v6.7h-3.4zM351.9 632.2h3.4v6.7h-3.4zM355 632.2h3.4v6.7h-3.4zM311 638.5h3.4v6.7h-3.4zM345.6 638.5h3.4v6.7h-3.4zM348.7 638.5h3.4v6.7h-3.4zM351.9 638.5h3.4v6.7h-3.4zM311 644.9h3.4v6.7h-3.4zM317.3 644.9h3.4v6.7h-3.4zM320.4 644.9h3.4v6.7h-3.4zM323.6 644.9h3.4v6.7h-3.4zM320.4 651.2h3.4v6.7h-3.4zM323.6 651.2h3.4v6.7h-3.4zM326.7 651.2h3.4v6.7h-3.4zM329.9 651.2h3.4v6.7h-3.4zM342.4 651.2h3.4v6.7h-3.4zM351.9 651.2h3.4v6.7h-3.4zM355 651.2h3.4v6.7h-3.4zM301.5 657.6h3.4v6.7h-3.4zM304.7 657.6h3.4v6.7h-3.4zM339.3 657.6h3.4v6.7h-3.4zM342.4 657.6h3.4v6.7h-3.4zM323.6 663.9h3.4v6.7h-3.4zM342.4 663.9h3.4v6.7h-3.4zM358.2 663.9h3.4v6.7h-3.4zM323.6 670.2h3.4v6.7h-3.4zM326.7 670.2h3.4v6.7h-3.4zM342.4 670.2h3.4v6.7h-3.4zM345.6 670.2h3.4v6.7h-3.4zM304.7 683h3.4v6.7h-3.4zM317.3 689.3h3.4v6.7h-3.4zM320.4 689.3h3.4v6.7h-3.4zM333 689.3h3.4v6.7h-3.4zM348.7 689.3h3.4v6.7h-3.4zM351.9 689.3h3.4v6.7h-3.4zM358.2 695.7h3.4v6.7h-3.4zM320.4 708.4h3.4v6.7h-3.4zM320.4 714.7h3.4v6.7h-3.4zM333 727.4h3.4v6.7h-3.4zM345.6 727.4h3.4v6.7h-3.4zM314.1 733.8h3.4v6.7h-3.4zM329.9 740.1h3.4v6.7h-3.4zM336.1 746.5h3.4v6.7h-3.4zM323.6 752.8h3.4v6.7h-3.4zM355 752.8h3.4v6.7h-3.4zM336.1 759.2h3.4v6.7h-3.4zM339.3 759.2h3.4v6.7h-3.4zM342.4 759.2h3.4v6.7h-3.4zM333 765.5h3.4v6.7h-3.4zM333 803.6h3.4v6.7h-3.4zM333 835.4h3.4v6.7h-3.4zM336.1 835.4h3.4v6.7h-3.4zM345.6 835.4h3.4v6.7h-3.4zM355 835.4h3.4v6.7h-3.4z" fill="#e0f3f8"/><path d="M329.9 549.6h3.4v6.7h-3.4zM333 549.6h3.4v6.7h-3.4zM336.1 549.6h3.4v6.7h-3.4zM339.3 549.6h3.4v6.7h-3.4zM342.4 549.6h3.4v6.7h-3.4zM345.6 549.6h3.4v6.7h-3.4zM336.1 638.5h3.4v6.7h-3.4zM339.3 638.5h3.4v6.7h-3.4zM326.7 644.9h3.4v6.7h-3.4zM345.6 651.2h3.4v6.7h-3.4zM348.7 651.2h3.4v6.7h-3.4zM358.2 657.6h3.4v6.7h-3.4zM329.9 670.2h3.4v6.7h-3.4zM333 670.2h3.4v6.7h-3.4zM345.6 689.3h3.4v6.7h-3.4zM355 695.7h3.4v6.7h-3.4zM336.1 702h3.4v6.7h-3.4zM323.6 784.6h3.4v6.7h-3.4zM358.2 810h3.4v6.7h-3.4z" fill="#313695"/><path d="M348.7 549.6h3.4v6.7h-3.4zM307.8 638.5h3.4v6.7h-3.4zM298.4 644.9h3.4v6.7h-3.4zM301.5 644.9h3.4v6.7h-3.4zM304.7 644.9h3.4v6.7h-3.4zM333 644.9h3.4v6.7h-3.4zM358.2 702h3.4v6.7h-3.4zM342.4 714.7h3.4v6.7h-3.4z" fill="#fee090"/><path d="M298.4 556h3.4v6.7h-3.4zM301.5 556h3.4v6.7h-3.4zM304.7 556h3.4v6.7h-3.4zM311 556h3.4v6.7h-3.4zM314.1 556h3.4v6.7h-3.4zM317.3 556h3.4v6.7h-3.4zM320.4 556h3.4v6.7h-3.4zM329.9 556h3.4v6.7h-3.4zM333 556h3.4v6.7h-3.4zM355 556h3.4v6.7h-3.4zM358.2 556h3.4v6.7h-3.4zM298.4 562.3h3.4v6.7h-3.4zM307.8 562.3h3.4v6.7h-3.4zM311 562.3h3.4v6.7h-3.4zM314.1 562.3h3.4v6.7h-3.4zM323.6 562.3h3.4v6.7h-3.4zM326.7 562.3h3.4v6.7h-3.4zM348.7 562.3h3.4v6.7h-3.4zM351.9 562.3h3.4v6.7h-3.4zM355 562.3h3.4v6.7h-3.4zM298.4 568.6h3.4v6.7h-3.4zM301.5 568.6h3.4v6.7h-3.4zM304.7 568.6h3.4v6.7h-3.4zM314.1 568.6h3.4v6.7h-3.4zM317.3 568.6h3.4v6.7h-3.4zM339.3 568.6h3.4v6.7h-3.4zM355 568.6h3.4v6.7h-3.4zM358.2 568.6h3.4v6.7h-3.4zM298.4 575h3.4v6.7h-3.4zM301.5 575h3.4v6.7h-3.4zM311 575h3.4v6.7h-3.4zM314.1 575h3.4v6.7h-3.4zM317.3 575h3.4v6.7h-3.4zM336.1 575h3.4v6.7h-3.4zM339.3 575h3.4v6.7h-3.4zM342.4 575h3.4v6.7h-3.4zM355 575h3.4v6.7h-3.4zM358.2 575h3.4v6.7h-3.4zM298.4 581.4h3.4v6.7h-3.4zM304.7 581.4h3.4v6.7h-3.4zM307.8 581.4h3.4v6.7h-3.4zM311 581.4h3.4v6.7h-3.4zM314.1 581.4h3.4v6.7h-3.4zM323.6 581.4h3.4v6.7h-3.4zM326.7 581.4h3.4v6.7h-3.4zM329.9 581.4h3.4v6.7h-3.4zM348.7 581.4h3.4v6.7h-3.4zM351.9 581.4h3.4v6.7h-3.4zM298.4 587.7h3.4v6.7h-3.4zM301.5 587.7h3.4v6.7h-3.4zM307.8 587.7h3.4v6.7h-3.4zM311 587.7h3.4v6.7h-3.4zM314.1 587.7h3.4v6.7h-3.4zM333 587.7h3.4v6.7h-3.4zM336.1 587.7h3.4v6.7h-3.4zM339.3 587.7h3.4v6.7h-3.4zM351.9 587.7h3.4v6.7h-3.4zM355 587.7h3.4v6.7h-3.4zM358.2 587.7h3.4v6.7h-3.4zM301.5 594.1h3.4v6.7h-3.4zM304.7 594.1h3.4v6.7h-3.4zM307.8 594.1h3.4v6.7h-3.4zM311 594.1h3.4v6.7h-3.4zM320.4 594.1h3.4v6.7h-3.4zM323.6 594.1h3.4v6.7h-3.4zM342.4 594.1h3.4v6.7h-3.4zM345.6 594.1h3.4v6.7h-3.4zM348.7 594.1h3.4v6.7h-3.4zM298.4 600.4h3.4v6.7h-3.4zM301.5 600.4h3.4v6.7h-3.4zM304.7 600.4h3.4v6.7h-3.4zM323.6 600.4h3.4v6.7h-3.4zM329.9 600.4h3.4v6.7h-3.4zM342.4 600.4h3.4v6.7h-3.4zM345.6 600.4h3.4v6.7h-3.4zM348.7 600.4h3.4v6.7h-3.4zM323.6 606.8h3.4v6.7h-3.4zM326.7 606.8h3.4v6.7h-3.4zM329.9 606.8h3.4v6.7h-3.4zM342.4 606.8h3.4v6.7h-3.4zM345.6 606.8h3.4v6.7h-3.4zM307.8 613.1h3.4v6.7h-3.4zM311 613.1h3.4v6.7h-3.4zM314.1 613.1h3.4v6.7h-3.4zM323.6 613.1h3.4v6.7h-3.4zM326.7 613.1h3.4v6.7h-3.4zM329.9 613.1h3.4v6.7h-3.4zM336.1 613.1h3.4v6.7h-3.4zM311 619.5h3.4v6.7h-3.4zM314.1 619.5h3.4v6.7h-3.4zM317.3 619.5h3.4v6.7h-3.4zM323.6 619.5h3.4v6.7h-3.4zM326.7 619.5h3.4v6.7h-3.4zM329.9 619.5h3.4v6.7h-3.4zM333 619.5h3.4v6.7h-3.4zM342.4 619.5h3.4v6.7h-3.4zM345.6 619.5h3.4v6.7h-3.4zM320.4 625.8h3.4v6.7h-3.4zM323.6 625.8h3.4v6.7h-3.4zM329.9 625.8h3.4v6.7h-3.4zM333 625.8h3.4v6.7h-3.4zM336.1 625.8h3.4v6.7h-3.4zM339.3 625.8h3.4v6.7h-3.4zM348.7 625.8h3.4v6.7h-3.4zM351.9 625.8h3.4v6.7h-3.4zM355 625.8h3.4v6.7h-3.4zM326.7 632.2h3.4v6.7h-3.4zM329.9 632.2h3.4v6.7h-3.4zM339.3 632.2h3.4v6.7h-3.4zM342.4 632.2h3.4v6.7h-3.4zM345.6 632.2h3.4v6.7h-3.4zM348.7 632.2h3.4v6.7h-3.4zM358.2 632.2h3.4v6.7h-3.4zM329.9 638.5h3.4v6.7h-3.4zM333 638.5h3.4v6.7h-3.4zM355 638.5h3.4v6.7h-3.4zM358.2 651.2h3.4v6.7h-3.4zM336.1 657.6h3.4v6.7h-3.4zM326.7 663.9h3.4v6.7h-3.4zM329.9 663.9h3.4v6.7h-3.4zM336.1 663.9h3.4v6.7h-3.4zM339.3 663.9h3.4v6.7h-3.4zM336.1 670.2h3.4v6.7h-3.4zM339.3 670.2h3.4v6.7h-3.4zM307.8 683h3.4v6.7h-3.4zM311 683h3.4v6.7h-3.4zM314.1 683h3.4v6.7h-3.4zM358.2 683h3.4v6.7h-3.4zM323.6 689.3h3.4v6.7h-3.4zM326.7 689.3h3.4v6.7h-3.4zM329.9 689.3h3.4v6.7h-3.4zM342.4 689.3h3.4v6.7h-3.4zM326.7 695.7h3.4v6.7h-3.4zM339.3 702h3.4v6.7h-3.4zM342.4 702h3.4v6.7h-3.4zM345.6 702h3.4v6.7h-3.4zM348.7 702h3.4v6.7h-3.4zM304.7 708.4h3.4v6.7h-3.4zM317.3 708.4h3.4v6.7h-3.4zM323.6 714.7h3.4v6.7h-3.4zM326.7 714.7h3.4v6.7h-3.4zM333 714.7h3.4v6.7h-3.4zM320.4 721.1h3.4v6.7h-3.4zM345.6 721.1h3.4v6.7h-3.4zM358.2 733.8h3.4v6.7h-3.4zM342.4 746.5h3.4v6.7h-3.4zM358.2 746.5h3.4v6.7h-3.4zM326.7 752.8h3.4v6.7h-3.4zM329.9 759.2h3.4v6.7h-3.4zM351.9 771.9h3.4v6.7h-3.4zM314.1 778.2h3.4v6.7h-3.4zM333 797.2h3.4v6.7h-3.4zM329.9 822.7h3.4v6.7h-3.4z" fill="#9dcee3"/><path d="M342.4 556h3.4v6.7h-3.4zM336.1 562.3h3.4v6.7h-3.4zM326.7 568.6h3.4v6.7h-3.4zM323.6 575h3.4v6.7h-3.4zM336.1 581.4h3.4v6.7h-3.4zM320.4 587.7h3.4v6.7h-3.4zM329.9 594.1h3.4v6.7h-3.4zM307.8 619.5h3.4v6.7h-3.4zM355 619.5h3.4v6.7h-3.4zM317.3 625.8h3.4v6.7h-3.4zM323.6 632.2h3.4v6.7h-3.4zM326.7 638.5h3.4v6.7h-3.4zM342.4 638.5h3.4v6.7h-3.4zM307.8 644.9h3.4v6.7h-3.4zM358.2 644.9h3.4v6.7h-3.4zM298.4 657.6h3.4v6.7h-3.4zM333 676.6h3.4v6.7h-3.4zM339.3 676.6h3.4v6.7h-3.4zM320.4 695.7h3.4v6.7h-3.4zM323.6 695.7h3.4v6.7h-3.4zM333 702h3.4v6.7h-3.4zM339.3 708.4h3.4v6.7h-3.4zM329.9 714.7h3.4v6.7h-3.4zM336.1 727.4h3.4v6.7h-3.4zM317.3 733.8h3.4v6.7h-3.4zM333 746.5h3.4v6.7h-3.4zM333 759.2h3.4v6.7h-3.4z" fill="#4575b4"/><path d="M355 600.4h3.4v6.7h-3.4zM317.3 606.8h3.4v6.7h-3.4zM339.3 613.1h3.4v6.7h-3.4zM342.4 613.1h3.4v6.7h-3.4zM320.4 638.5h3.4v6.7h-3.4zM323.6 638.5h3.4v6.7h-3.4zM298.4 651.2h3.4v6.7h-3.4zM301.5 651.2h3.4v6.7h-3.4zM304.7 651.2h3.4v6.7h-3.4zM307.8 651.2h3.4v6.7h-3.4zM333 651.2h3.4v6.7h-3.4zM351.9 657.6h3.4v6.7h-3.4zM355 657.6h3.4v6.7h-3.4zM314.1 663.9h3.4v6.7h-3.4zM317.3 663.9h3.4v6.7h-3.4zM320.4 663.9h3.4v6.7h-3.4zM298.4 670.2h3.4v6.7h-3.4zM304.7 676.6h3.4v6.7h-3.4zM307.8 676.6h3.4v6.7h-3.4zM311 676.6h3.4v6.7h-3.4zM320.4 676.6h3.4v6.7h-3.4zM345.6 676.6h3.4v6.7h-3.4zM348.7 676.6h3.4v6.7h-3.4zM351.9 676.6h3.4v6.7h-3.4zM298.4 683h3.4v6.7h-3.4zM336.1 689.3h3.4v6.7h-3.4zM339.3 689.3h3.4v6.7h-3.4zM304.7 695.7h3.4v6.7h-3.4zM326.7 702h3.4v6.7h-3.4zM323.6 708.4h3.4v6.7h-3.4zM326.7 708.4h3.4v6.7h-3.4zM342.4 708.4h3.4v6.7h-3.4zM345.6 708.4h3.4v6.7h-3.4zM311 714.7h3.4v6.7h-3.4zM329.9 721.1h3.4v6.7h-3.4zM333 721.1h3.4v6.7h-3.4zM336.1 721.1h3.4v6.7h-3.4zM298.4 727.4h3.4v6.7h-3.4zM301.5 727.4h3.4v6.7h-3.4zM326.7 727.4h3.4v6.7h-3.4zM298.4 733.8h3.4v6.7h-3.4zM301.5 733.8h3.4v6.7h-3.4zM339.3 733.8h3.4v6.7h-3.4zM342.4 733.8h3.4v6.7h-3.4zM298.4 740.1h3.4v6.7h-3.4zM304.7 740.1h3.4v6.7h-3.4zM307.8 740.1h3.4v6.7h-3.4zM311 740.1h3.4v6.7h-3.4zM314.1 740.1h3.4v6.7h-3.4zM317.3 740.1h3.4v6.7h-3.4zM304.7 746.5h3.4v6.7h-3.4zM307.8 746.5h3.4v6.7h-3.4zM311 746.5h3.4v6.7h-3.4zM314.1 746.5h3.4v6.7h-3.4zM317.3 746.5h3.4v6.7h-3.4zM304.7 752.8h3.4v6.7h-3.4zM307.8 752.8h3.4v6.7h-3.4zM311 752.8h3.4v6.7h-3.4zM314.1 752.8h3.4v6.7h-3.4zM317.3 752.8h3.4v6.7h-3.4zM320.4 752.8h3.4v6.7h-3.4zM342.4 752.8h3.4v6.7h-3.4zM345.6 752.8h3.4v6.7h-3.4zM348.7 752.8h3.4v6.7h-3.4zM351.9 752.8h3.4v6.7h-3.4zM323.6 759.2h3.4v6.7h-3.4zM326.7 759.2h3.4v6.7h-3.4zM307.8 765.5h3.4v6.7h-3.4zM311 765.5h3.4v6.7h-3.4zM314.1 765.5h3.4v6.7h-3.4zM317.3 765.5h3.4v6.7h-3.4zM320.4 765.5h3.4v6.7h-3.4zM323.6 765.5h3.4v6.7h-3.4zM326.7 765.5h3.4v6.7h-3.4zM329.9 765.5h3.4v6.7h-3.4zM345.6 765.5h3.4v6.7h-3.4zM304.7 771.9h3.4v6.7h-3.4zM333 771.9h3.4v6.7h-3.4zM355 771.9h3.4v6.7h-3.4zM358.2 771.9h3.4v6.7h-3.4zM307.8 778.2h3.4v6.7h-3.4zM351.9 778.2h3.4v6.7h-3.4zM355 778.2h3.4v6.7h-3.4zM317.3 784.6h3.4v6.7h-3.4zM320.4 784.6h3.4v6.7h-3.4zM333 784.6h3.4v6.7h-3.4zM336.1 784.6h3.4v6.7h-3.4zM339.3 784.6h3.4v6.7h-3.4zM342.4 784.6h3.4v6.7h-3.4zM345.6 784.6h3.4v6.7h-3.4zM348.7 784.6h3.4v6.7h-3.4zM351.9 784.6h3.4v6.7h-3.4zM358.2 784.6h3.4v6.7h-3.4zM307.8 790.9h3.4v6.7h-3.4zM311 790.9h3.4v6.7h-3.4zM342.4 790.9h3.4v6.7h-3.4zM311 797.2h3.4v6.7h-3.4zM336.1 797.2h3.4v6.7h-3.4zM339.3 797.2h3.4v6.7h-3.4zM342.4 797.2h3.4v6.7h-3.4zM345.6 797.2h3.4v6.7h-3.4zM348.7 797.2h3.4v6.7h-3.4zM351.9 797.2h3.4v6.7h-3.4zM301.5 803.6h3.4v6.7h-3.4zM304.7 803.6h3.4v6.7h-3.4zM307.8 803.6h3.4v6.7h-3.4zM323.6 803.6h3.4v6.7h-3.4zM301.5 810h3.4v6.7h-3.4zM304.7 810h3.4v6.7h-3.4zM311 810h3.4v6.7h-3.4zM323.6 810h3.4v6.7h-3.4zM326.7 810h3.4v6.7h-3.4zM307.8 816.3h3.4v6.7h-3.4zM311 816.3h3.4v6.7h-3.4zM314.1 816.3h3.4v6.7h-3.4zM298.4 822.7h3.4v6.7h-3.4zM301.5 822.7h3.4v6.7h-3.4zM304.7 822.7h3.4v6.7h-3.4zM314.1 822.7h3.4v6.7h-3.4zM317.3 822.7h3.4v6.7h-3.4zM298.4 829h3.4v6.7h-3.4zM301.5 829h3.4v6.7h-3.4zM304.7 829h3.4v6.7h-3.4zM307.8 829h3.4v6.7h-3.4zM311 829h3.4v6.7h-3.4zM317.3 829h3.4v6.7h-3.4zM358.2 829h3.4v6.7h-3.4zM317.3 835.4h3.4v6.7h-3.4zM320.4 835.4h3.4v6.7h-3.4z" fill="#f46d43"/><path d="M358.2 600.4h3.4v6.7h-3.4zM298.4 606.8h3.4v6.7h-3.4zM301.5 606.8h3.4v6.7h-3.4zM304.7 606.8h3.4v6.7h-3.4zM307.8 606.8h3.4v6.7h-3.4zM311 606.8h3.4v6.7h-3.4zM314.1 606.8h3.4v6.7h-3.4zM345.6 613.1h3.4v6.7h-3.4zM348.7 613.1h3.4v6.7h-3.4zM351.9 613.1h3.4v6.7h-3.4zM355 613.1h3.4v6.7h-3.4zM358.2 613.1h3.4v6.7h-3.4zM298.4 625.8h3.4v6.7h-3.4zM301.5 625.8h3.4v6.7h-3.4zM298.4 632.2h3.4v6.7h-3.4zM301.5 632.2h3.4v6.7h-3.4zM304.7 632.2h3.4v6.7h-3.4zM307.8 632.2h3.4v6.7h-3.4z" fill="#000000"/><path d="M314.1 638.5h3.4v6.7h-3.4zM317.3 638.5h3.4v6.7h-3.4zM301.5 670.2h3.4v6.7h-3.4zM304.7 670.2h3.4v6.7h-3.4zM307.8 670.2h3.4v6.7h-3.4zM311 670.2h3.4v6.7h-3.4zM314.1 670.2h3.4v6.7h-3.4zM317.3 670.2h3.4v6.7h-3.4zM351.9 683h3.4v6.7h-3.4zM311 695.7h3.4v6.7h-3.4zM314.1 695.7h3.4v6.7h-3.4zM298.4 746.5h3.4v6.7h-3.4zM301.5 746.5h3.4v6.7h-3.4zM301.5 759.2h3.4v6.7h-3.4zM301.5 797.2h3.4v6.7h-3.4zM304.7 797.2h3.4v6.7h-3.4zM298.4 835.4h3.4v6.7h-3.4zM301.5 835.4h3.4v6.7h-3.4zM304.7 835.4h3.4v6.7h-3.4zM307.8 835.4h3.4v6.7h-3.4zM311 835.4h3.4v6.7h-3.4zM314.1 835.4h3.4v6.7h-3.4z" fill="#be1826"/><rect x="298.4" y="549.6" width="62.9" height="292.1" fill="none" stroke="#555" stroke-width="0.5"/><defs><linearGradient id="gc" x1="0" x2="0" y1="0" y2="1"><stop offset="0" stop-color="#313695"/><stop offset="0.1" stop-color="#4575b4"/><stop offset="0.2" stop-color="#74add1"/><stop offset="0.3" stop-color="#abd9e9"/><stop offset="0.4" stop-color="#e0f3f8"/><stop offset="0.5" stop-color="#ffffbf"/><stop offset="0.6" stop-color="#fee090"/><stop offset="0.7" stop-color="#fdae61"/><stop offset="0.8" stop-color="#f46d43"/><stop offset="0.9" stop-color="#d73027"/><stop offset="1" stop-color="#a50026"/></linearGradient></defs><rect x="107.9" y="476.8" width="6.1" height="365.6" fill="url(#gc)" stroke="#666" stroke-width="0.5"/><line x1="114" y1="498.3" x2="115.8" y2="498.3" stroke="#555" stroke-width="0.6"/><text stroke="#231f20" stroke-width="0.18" x="120" y="500.8" font-size="7" text-anchor="start" fill="#231f20">1.75</text><line x1="114" y1="539.59" x2="115.8" y2="539.59" stroke="#555" stroke-width="0.6"/><text stroke="#231f20" stroke-width="0.18" x="120" y="542.09" font-size="7" text-anchor="start" fill="#231f20">1.50</text><line x1="114" y1="580.88" x2="115.8" y2="580.88" stroke="#555" stroke-width="0.6"/><text stroke="#231f20" stroke-width="0.18" x="120" y="583.38" font-size="7" text-anchor="start" fill="#231f20">1.25</text><line x1="114" y1="622.17" x2="115.8" y2="622.17" stroke="#555" stroke-width="0.6"/><text stroke="#231f20" stroke-width="0.18" x="120" y="624.67" font-size="7" text-anchor="start" fill="#231f20">1.00</text><line x1="114" y1="663.46" x2="115.8" y2="663.46" stroke="#555" stroke-width="0.6"/><text stroke="#231f20" stroke-width="0.18" x="120" y="665.96" font-size="7" text-anchor="start" fill="#231f20">0.75</text><line x1="114" y1="704.75" x2="115.8" y2="704.75" stroke="#555" stroke-width="0.6"/><text stroke="#231f20" stroke-width="0.18" x="120" y="707.25" font-size="7" text-anchor="start" fill="#231f20">0.50</text><line x1="114" y1="746.04" x2="115.8" y2="746.04" stroke="#555" stroke-width="0.6"/><text stroke="#231f20" stroke-width="0.18" x="120" y="748.54" font-size="7" text-anchor="start" fill="#231f20">0.25</text><line x1="114" y1="787.33" x2="115.8" y2="787.33" stroke="#555" stroke-width="0.6"/><text stroke="#231f20" stroke-width="0.18" x="120" y="789.83" font-size="7" text-anchor="start" fill="#231f20">0</text><line x1="114" y1="828.62" x2="115.8" y2="828.62" stroke="#555" stroke-width="0.6"/><text stroke="#231f20" stroke-width="0.18" x="120" y="831.12" font-size="7" text-anchor="start" fill="#231f20">−0.25</text><defs><linearGradient id="gd" x1="0" x2="0" y1="0" y2="1"><stop offset="0" stop-color="#313695"/><stop offset="0.1" stop-color="#4575b4"/><stop offset="0.2" stop-color="#74add1"/><stop offset="0.3" stop-color="#abd9e9"/><stop offset="0.4" stop-color="#e0f3f8"/><stop offset="0.5" stop-color="#ffffbf"/><stop offset="0.6" stop-color="#fee090"/><stop offset="0.7" stop-color="#fdae61"/><stop offset="0.8" stop-color="#f46d43"/><stop offset="0.9" stop-color="#d73027"/><stop offset="1" stop-color="#a50026"/></linearGradient></defs><rect x="237.2" y="476.8" width="6.5" height="365.6" fill="url(#gd)" stroke="#666" stroke-width="0.5"/><line x1="243" y1="492.6" x2="244.8" y2="492.6" stroke="#555" stroke-width="0.6"/><text stroke="#231f20" stroke-width="0.18" x="249" y="495.1" font-size="7" text-anchor="start" fill="#231f20">1.75</text><line x1="243" y1="534.5" x2="244.8" y2="534.5" stroke="#555" stroke-width="0.6"/><text stroke="#231f20" stroke-width="0.18" x="249" y="537" font-size="7" text-anchor="start" fill="#231f20">1.50</text><line x1="243" y1="576.4" x2="244.8" y2="576.4" stroke="#555" stroke-width="0.6"/><text stroke="#231f20" stroke-width="0.18" x="249" y="578.9" font-size="7" text-anchor="start" fill="#231f20">1.25</text><line x1="243" y1="618.3" x2="244.8" y2="618.3" stroke="#555" stroke-width="0.6"/><text stroke="#231f20" stroke-width="0.18" x="249" y="620.8" font-size="7" text-anchor="start" fill="#231f20">1.00</text><line x1="243" y1="660.2" x2="244.8" y2="660.2" stroke="#555" stroke-width="0.6"/><text stroke="#231f20" stroke-width="0.18" x="249" y="662.7" font-size="7" text-anchor="start" fill="#231f20">0.75</text><line x1="243" y1="702.1" x2="244.8" y2="702.1" stroke="#555" stroke-width="0.6"/><text stroke="#231f20" stroke-width="0.18" x="249" y="704.6" font-size="7" text-anchor="start" fill="#231f20">0.50</text><line x1="243" y1="744" x2="244.8" y2="744" stroke="#555" stroke-width="0.6"/><text stroke="#231f20" stroke-width="0.18" x="249" y="746.5" font-size="7" text-anchor="start" fill="#231f20">0.25</text><line x1="243" y1="785.9" x2="244.8" y2="785.9" stroke="#555" stroke-width="0.6"/><text stroke="#231f20" stroke-width="0.18" x="249" y="788.4" font-size="7" text-anchor="start" fill="#231f20">0</text><line x1="243" y1="827.8" x2="244.8" y2="827.8" stroke="#555" stroke-width="0.6"/><text stroke="#231f20" stroke-width="0.18" x="249" y="830.3" font-size="7" text-anchor="start" fill="#231f20">−0.25</text><defs><linearGradient id="ge" x1="0" x2="0" y1="0" y2="1"><stop offset="0" stop-color="#313695"/><stop offset="0.1" stop-color="#4575b4"/><stop offset="0.2" stop-color="#74add1"/><stop offset="0.3" stop-color="#abd9e9"/><stop offset="0.4" stop-color="#e0f3f8"/><stop offset="0.5" stop-color="#ffffbf"/><stop offset="0.6" stop-color="#fee090"/><stop offset="0.7" stop-color="#fdae61"/><stop offset="0.8" stop-color="#f46d43"/><stop offset="0.9" stop-color="#d73027"/><stop offset="1" stop-color="#a50026"/></linearGradient></defs><rect x="365" y="476.8" width="6.2" height="365.6" fill="url(#ge)" stroke="#666" stroke-width="0.5"/><line x1="371" y1="551" x2="372.8" y2="551" stroke="#555" stroke-width="0.6"/><text stroke="#231f20" stroke-width="0.18" x="377" y="553.5" font-size="7" text-anchor="start" fill="#231f20">1.5</text><line x1="371" y1="630.4" x2="372.8" y2="630.4" stroke="#555" stroke-width="0.6"/><text stroke="#231f20" stroke-width="0.18" x="377" y="632.9" font-size="7" text-anchor="start" fill="#231f20">1.0</text><line x1="371" y1="708.4" x2="372.8" y2="708.4" stroke="#555" stroke-width="0.6"/><text stroke="#231f20" stroke-width="0.18" x="377" y="710.9" font-size="7" text-anchor="start" fill="#231f20">0.5</text><line x1="371" y1="788.3" x2="372.8" y2="788.3" stroke="#555" stroke-width="0.6"/><text stroke="#231f20" stroke-width="0.18" x="377" y="790.8" font-size="7" text-anchor="start" fill="#231f20">0</text><text stroke="#231f20" stroke-width="0.18" x="33.3" y="526" font-size="7" fill="#231f20" text-anchor="middle" transform="rotate(-90 33.3 526)">ATF4–OPA1 overlap (<tspan font-style="italic">n</tspan> = 103)</text><text stroke="#231f20" stroke-width="0.18" x="33.6" y="694.5" font-size="7" fill="#231f20" text-anchor="middle" transform="rotate(-90 33.6 694.5)">OPA1 DEGs (<tspan font-style="italic">n</tspan> = 261)</text><text stroke="#231f20" stroke-width="0.18" x="162.6" y="524.5" font-size="7" fill="#231f20" text-anchor="middle" transform="rotate(-90 162.6 524.5)">ATF4–TFAM overlap (<tspan font-style="italic">n</tspan> = 91)</text><text stroke="#231f20" stroke-width="0.18" x="162.4" y="691.5" font-size="7" fill="#231f20" text-anchor="middle" transform="rotate(-90 162.4 691.5)">TFAM DEGs (<tspan font-style="italic">n</tspan> = 250)</text><text stroke="#231f20" stroke-width="0.18" x="291" y="525" font-size="7" fill="#231f20" text-anchor="middle" transform="rotate(-90 291 525)">ATF4–POLG overlap (<tspan font-style="italic">n</tspan> = 11)</text><text stroke="#231f20" stroke-width="0.18" x="291.2" y="696" font-size="7" fill="#231f20" text-anchor="middle" transform="rotate(-90 291.2 696)">POLG DEGs (<tspan font-style="italic">n</tspan> = 46)</text><line x1="41" y1="841.7" x2="41" y2="844" stroke="#777" stroke-width="0.6"/><line x1="72.8" y1="841.7" x2="72.8" y2="844" stroke="#777" stroke-width="0.6"/><line x1="104.6" y1="841.7" x2="104.6" y2="844" stroke="#777" stroke-width="0.6"/><text stroke="#231f20" stroke-width="0.18" x="41" y="855" font-size="7.4" text-anchor="middle" fill="#231f20">–5 kb</text><text stroke="#231f20" stroke-width="0.18" x="72.8" y="855" font-size="7.4" text-anchor="middle" fill="#231f20">TSS</text><text stroke="#231f20" stroke-width="0.18" x="104.6" y="855" font-size="7.4" text-anchor="middle" fill="#231f20">+5 kb</text><line x1="170.7" y1="841.7" x2="170.7" y2="844" stroke="#777" stroke-width="0.6"/><line x1="202.25" y1="841.7" x2="202.25" y2="844" stroke="#777" stroke-width="0.6"/><line x1="233.8" y1="841.7" x2="233.8" y2="844" stroke="#777" stroke-width="0.6"/><text stroke="#231f20" stroke-width="0.18" x="170.7" y="855" font-size="7.4" text-anchor="middle" fill="#231f20">–5 kb</text><text stroke="#231f20" stroke-width="0.18" x="202.25" y="855" font-size="7.4" text-anchor="middle" fill="#231f20">TSS</text><text stroke="#231f20" stroke-width="0.18" x="233.8" y="855" font-size="7.4" text-anchor="middle" fill="#231f20">+5 kb</text><line x1="298.4" y1="841.7" x2="298.4" y2="844" stroke="#777" stroke-width="0.6"/><line x1="329.85" y1="841.7" x2="329.85" y2="844" stroke="#777" stroke-width="0.6"/><line x1="361.3" y1="841.7" x2="361.3" y2="844" stroke="#777" stroke-width="0.6"/><text stroke="#231f20" stroke-width="0.18" x="298.4" y="855" font-size="7.4" text-anchor="middle" fill="#231f20">–5 kb</text><text stroke="#231f20" stroke-width="0.18" x="329.85" y="855" font-size="7.4" text-anchor="middle" fill="#231f20">TSS</text><text stroke="#231f20" stroke-width="0.18" x="361.3" y="855" font-size="7.4" text-anchor="middle" fill="#231f20">+5 kb</text><text stroke="#000" stroke-width="0.18" x="421.4" y="402.5" font-size="12" text-anchor="start" fill="#000" font-weight="bold">f</text><defs><clipPath id="cpB"><ellipse cx="509.3" cy="500" rx="71.5" ry="40.9" transform="rotate(45 509.3 500)" fill="none" stroke="none" stroke-width="1"/></clipPath><clipPath id="cpG"><ellipse cx="540" cy="480.4" rx="71.5" ry="30.7" transform="rotate(45 540 480.4)" fill="none" stroke="none" stroke-width="1"/></clipPath><clipPath id="cpR"><ellipse cx="540" cy="480.4" rx="67.4" ry="30.7" transform="rotate(-45 540 480.4)" fill="none" stroke="none" stroke-width="1"/></clipPath></defs><ellipse cx="570.7" cy="500" rx="71.5" ry="40.9" transform="rotate(-45 570.7 500)" fill="#5f5f5f" stroke="none" stroke-width="1"/><ellipse cx="540" cy="480.4" rx="67.4" ry="30.7" transform="rotate(-45 540 480.4)" fill="#fafafa" stroke="none" stroke-width="1"/><ellipse cx="540" cy="480.4" rx="71.5" ry="30.7" transform="rotate(45 540 480.4)" fill="#fafafa" stroke="none" stroke-width="1"/><g clip-path="url(#cpR)"><ellipse cx="570.7" cy="500" rx="71.5" ry="40.9" transform="rotate(-45 570.7 500)" fill="#f8f8f8" stroke="none" stroke-width="1"/></g><g clip-path="url(#cpG)"><ellipse cx="570.7" cy="500" rx="71.5" ry="40.9" transform="rotate(-45 570.7 500)" fill="#fafafa" stroke="none" stroke-width="1"/></g><ellipse cx="509.3" cy="500" rx="71.5" ry="40.9" transform="rotate(45 509.3 500)" fill="#f6f6f6" stroke="none" stroke-width="1"/><g clip-path="url(#cpB)"><ellipse cx="540" cy="480.4" rx="67.4" ry="30.7" transform="rotate(-45 540 480.4)" fill="#efefef" stroke="none" stroke-width="1"/></g><g clip-path="url(#cpB)"><ellipse cx="540" cy="480.4" rx="71.5" ry="30.7" transform="rotate(45 540 480.4)" fill="#f8f8f8" stroke="none" stroke-width="1"/></g><g clip-path="url(#cpB)"><ellipse cx="570.7" cy="500" rx="71.5" ry="40.9" transform="rotate(-45 570.7 500)" fill="#f5f5f5" stroke="none" stroke-width="1"/></g><ellipse cx="509.3" cy="500" rx="71.5" ry="40.9" transform="rotate(45 509.3 500)" fill="none" stroke="#2a87d0" stroke-width="1.1"/><ellipse cx="540" cy="480.4" rx="71.5" ry="30.7" transform="rotate(45 540 480.4)" fill="none" stroke="#30a030" stroke-width="1.1"/><ellipse cx="540" cy="480.4" rx="67.4" ry="30.7" transform="rotate(-45 540 480.4)" fill="none" stroke="#e23a3a" stroke-width="1.1"/><ellipse cx="570.7" cy="500" rx="71.5" ry="40.9" transform="rotate(-45 570.7 500)" fill="none" stroke="#111111" stroke-width="1.1"/><text stroke="#222" stroke-width="0.18" x="511" y="443.9" font-size="8.3" text-anchor="middle" fill="#222">1</text><text stroke="#222" stroke-width="0.18" x="566.4" y="445.3" font-size="8.3" text-anchor="middle" fill="#222">38</text><text stroke="#222" stroke-width="0.18" x="500.7" y="463.7" font-size="8.3" text-anchor="middle" fill="#222">2</text><text stroke="#222" stroke-width="0.18" x="540.1" y="461.4" font-size="8.3" text-anchor="middle" fill="#222">1</text><text stroke="#222" stroke-width="0.18" x="578.1" y="463.7" font-size="8.3" text-anchor="middle" fill="#222">23</text><text stroke="#222" stroke-width="0.18" x="519.4" y="482.4" font-size="8.3" text-anchor="middle" fill="#222">31</text><text stroke="#222" stroke-width="0.18" x="559.7" y="482.4" font-size="8.3" text-anchor="middle" fill="#222">0</text><text stroke="#222" stroke-width="0.18" x="478.8" y="495" font-size="8.3" text-anchor="middle" fill="#222">36</text><text stroke="#222" stroke-width="0.18" x="601.5" y="487.7" font-size="8.3" text-anchor="middle" fill="#222">4351</text><text stroke="#222" stroke-width="0.18" x="539.9" y="502.3" font-size="8.3" text-anchor="middle" fill="#222">10</text><text stroke="#222" stroke-width="0.18" x="501.9" y="513.4" font-size="8.3" text-anchor="middle" fill="#222">89</text><text stroke="#222" stroke-width="0.18" x="578.7" y="511" font-size="8.3" text-anchor="middle" fill="#222">0</text><text stroke="#222" stroke-width="0.18" x="522.6" y="523.3" font-size="8.3" text-anchor="middle" fill="#222">58</text><text stroke="#222" stroke-width="0.18" x="556.2" y="523.3" font-size="8.3" text-anchor="middle" fill="#222">1</text><text stroke="#222" stroke-width="0.18" x="539.3" y="544.6" font-size="8.3" text-anchor="middle" fill="#222">34</text><text stroke="#2a87d0" stroke-width="0.18" x="445.8" y="439.6" font-size="8.3" fill="#2a87d0"><tspan font-style="italic">Opa1</tspan> KO</text><text stroke="#30a030" stroke-width="0.18" x="496.2" y="421.4" font-size="8.3" fill="#30a030"><tspan font-style="italic">Polg</tspan> KO</text><text stroke="#e23a3a" stroke-width="0.18" x="544.5" y="421.4" font-size="8.3" fill="#e23a3a"><tspan font-style="italic">Tfam</tspan> KO</text><text stroke="#222" stroke-width="0.18" x="602.4" y="439.6" font-size="8.3" text-anchor="start" fill="#222">ATF4-bound</text><text stroke="#222" stroke-width="0.18" x="612.5" y="539.2" font-size="8.8" text-anchor="start" fill="#222">Gene count</text><defs><linearGradient id="ggc" x1="0" x2="1" y1="0" y2="0"><stop offset="0" stop-color="#f4f4f4"/><stop offset="1" stop-color="#5a5a5a"/></linearGradient></defs><rect x="610.2" y="543.7" width="50.5" height="10.1" fill="url(#ggc)"/><line x1="621.7" y1="543.7" x2="621.7" y2="545.5" stroke="#fff" stroke-width="0.6"/><line x1="621.7" y1="552" x2="621.7" y2="553.8" stroke="#fff" stroke-width="0.6"/><line x1="634" y1="543.7" x2="634" y2="545.5" stroke="#fff" stroke-width="0.6"/><line x1="634" y1="552" x2="634" y2="553.8" stroke="#fff" stroke-width="0.6"/><line x1="645.8" y1="543.7" x2="645.8" y2="545.5" stroke="#fff" stroke-width="0.6"/><line x1="645.8" y1="552" x2="645.8" y2="553.8" stroke="#fff" stroke-width="0.6"/><text stroke="#231f20" stroke-width="0.18" x="612.8" y="565" font-size="7.5" text-anchor="middle" fill="#231f20">0</text><text stroke="#231f20" stroke-width="0.18" x="633" y="565" font-size="7.5" text-anchor="middle" fill="#231f20">2,000</text><text stroke="#231f20" stroke-width="0.18" x="657" y="565" font-size="7.5" text-anchor="middle" fill="#231f20">4,000</text><text stroke="#000" stroke-width="0.18" x="421.8" y="601.6" font-size="12" text-anchor="start" fill="#000" font-weight="bold">g</text><line x1="456.6" y1="745.9" x2="644.3" y2="745.9" stroke="#e6e6e6" stroke-width="0.7"/><line x1="456.6" y1="711.4" x2="644.3" y2="711.4" stroke="#e6e6e6" stroke-width="0.7"/><line x1="456.6" y1="676.9" x2="644.3" y2="676.9" stroke="#e6e6e6" stroke-width="0.7"/><line x1="456.6" y1="642.4" x2="644.3" y2="642.4" stroke="#e6e6e6" stroke-width="0.7"/><line x1="456.6" y1="607.9" x2="644.3" y2="607.9" stroke="#e6e6e6" stroke-width="0.7"/><line x1="488.6" y1="598.1" x2="488.6" y2="780.4" stroke="#e6e6e6" stroke-width="0.7"/><line x1="551.05" y1="598.1" x2="551.05" y2="780.4" stroke="#e6e6e6" stroke-width="0.7"/><line x1="614" y1="598.1" x2="614" y2="780.4" stroke="#e6e6e6" stroke-width="0.7"/><rect x="465.8" y="600.31" width="45.6" height="109.02" fill="#d3ecf4"/><rect x="465.8" y="709.33" width="45.6" height="71.07" fill="#4bb8d6"/><line x1="488.6" y1="600.31" x2="488.6" y2="780.4" stroke="rgba(0,0,0,0.06)" stroke-width="0.7"/><line x1="465.8" y1="745.9" x2="511.4" y2="745.9" stroke="rgba(0,0,0,0.05)" stroke-width="0.7"/><line x1="465.8" y1="711.4" x2="511.4" y2="711.4" stroke="rgba(0,0,0,0.05)" stroke-width="0.7"/><line x1="465.8" y1="676.9" x2="511.4" y2="676.9" stroke="rgba(0,0,0,0.05)" stroke-width="0.7"/><line x1="465.8" y1="642.4" x2="511.4" y2="642.4" stroke="rgba(0,0,0,0.05)" stroke-width="0.7"/><line x1="465.8" y1="607.9" x2="511.4" y2="607.9" stroke="rgba(0,0,0,0.05)" stroke-width="0.7"/><rect x="528.2" y="607.9" width="45.7" height="109.71" fill="#f2a69b"/><rect x="528.2" y="717.61" width="45.7" height="62.79" fill="#e44c35"/><line x1="551.05" y1="607.9" x2="551.05" y2="780.4" stroke="rgba(0,0,0,0.06)" stroke-width="0.7"/><line x1="528.2" y1="745.9" x2="573.9" y2="745.9" stroke="rgba(0,0,0,0.05)" stroke-width="0.7"/><line x1="528.2" y1="711.4" x2="573.9" y2="711.4" stroke="rgba(0,0,0,0.05)" stroke-width="0.7"/><line x1="528.2" y1="676.9" x2="573.9" y2="676.9" stroke="rgba(0,0,0,0.05)" stroke-width="0.7"/><line x1="528.2" y1="642.4" x2="573.9" y2="642.4" stroke="rgba(0,0,0,0.05)" stroke-width="0.7"/><rect x="591" y="748.66" width="46" height="24.15" fill="#bde6dc"/><rect x="591" y="772.81" width="46" height="7.59" fill="#079b7f"/><line x1="614" y1="748.66" x2="614" y2="780.4" stroke="rgba(0,0,0,0.06)" stroke-width="0.7"/><text stroke="#222" stroke-width="0.18" x="488.6" y="614" font-size="7" text-anchor="middle" fill="#222">158</text><text stroke="#222" stroke-width="0.18" x="488.6" y="720.5" font-size="7" text-anchor="middle" fill="#222">103</text><text stroke="#222" stroke-width="0.18" x="551" y="622" font-size="7" text-anchor="middle" fill="#222">159</text><text stroke="#222" stroke-width="0.18" x="551" y="727.6" font-size="7" text-anchor="middle" fill="#222">91</text><text stroke="#222" stroke-width="0.18" x="614" y="761" font-size="7" text-anchor="middle" fill="#222">35</text><text stroke="#222" stroke-width="0.18" x="614" y="778.2" font-size="7" text-anchor="middle" fill="#222">11</text><line x1="456.6" y1="598.1" x2="456.6" y2="780.4" stroke="#999" stroke-width="0.9"/><line x1="456.6" y1="780.4" x2="644.3" y2="780.4" stroke="#999" stroke-width="0.9"/><line x1="453" y1="780.4" x2="456.6" y2="780.4" stroke="#999" stroke-width="0.7"/><text stroke="#231f20" stroke-width="0.18" x="449.4" y="782.9" font-size="7" text-anchor="end" fill="#231f20">0</text><line x1="453" y1="711.4" x2="456.6" y2="711.4" stroke="#999" stroke-width="0.7"/><text stroke="#231f20" stroke-width="0.18" x="449.4" y="713.9" font-size="7" text-anchor="end" fill="#231f20">100</text><line x1="453" y1="642.4" x2="456.6" y2="642.4" stroke="#999" stroke-width="0.7"/><text stroke="#231f20" stroke-width="0.18" x="449.4" y="644.9" font-size="7" text-anchor="end" fill="#231f20">200</text><line x1="454.6" y1="745.9" x2="456.6" y2="745.9" stroke="#999" stroke-width="0.6"/><line x1="454.6" y1="676.9" x2="456.6" y2="676.9" stroke="#999" stroke-width="0.6"/><line x1="454.6" y1="607.9" x2="456.6" y2="607.9" stroke="#999" stroke-width="0.6"/><line x1="456.6" y1="780.4" x2="456.6" y2="783.8" stroke="#999" stroke-width="0.7"/><line x1="488.6" y1="780.4" x2="488.6" y2="783.8" stroke="#999" stroke-width="0.7"/><line x1="551.05" y1="780.4" x2="551.05" y2="783.8" stroke="#999" stroke-width="0.7"/><line x1="614" y1="780.4" x2="614" y2="783.8" stroke="#999" stroke-width="0.7"/><text stroke="#231f20" stroke-width="0.18" x="429.6" y="691" font-size="8.5" fill="#231f20" text-anchor="middle" transform="rotate(-90 429.6 691)">Number of DEGs</text><rect x="591.4" y="616" width="80.8" height="65.6" fill="#fff" stroke="#d0d0d0" stroke-width="0.7"/><rect x="613" y="619.2" width="10" height="10" fill="#d3ecf4"/><rect x="627" y="619.2" width="10" height="10" fill="#f2a69b"/><rect x="641.2" y="619.2" width="10" height="10" fill="#bde6dc"/><rect x="613" y="654.7" width="10" height="10" fill="#4bb8d6"/><rect x="627" y="654.7" width="10" height="10" fill="#e44c35"/><rect x="641.2" y="654.7" width="10" height="10" fill="#079b7f"/><text stroke="#231f20" stroke-width="0.18" x="632.1" y="640.3" font-size="7" text-anchor="middle" fill="#231f20">Not ATF4-bound</text><text stroke="#231f20" stroke-width="0.18" x="632.1" y="676.4" font-size="7" text-anchor="middle" fill="#231f20">ATF4-bound</text><text stroke="#231f20" stroke-width="0.18" x="488" y="796.2" font-size="8.3" text-anchor="middle" fill="#231f20" font-style="italic">Opa1</text><text stroke="#231f20" stroke-width="0.18" x="488" y="806.6" font-size="8.3" text-anchor="middle" fill="#231f20">39.5%</text><text stroke="#231f20" stroke-width="0.18" x="488" y="816.6" font-size="8.3" fill="#231f20" text-anchor="middle">(adj. <tspan font-style="italic">P</tspan>:</text><text stroke="#231f20" stroke-width="0.18" x="488" y="827.2" font-size="8.3" fill="#231f20" text-anchor="middle">3.18 × 10<tspan font-size="5.5" dy="-3.2">−6</tspan><tspan dy="3.2">)</tspan></text><text stroke="#231f20" stroke-width="0.18" x="550.6" y="796.2" font-size="8.3" text-anchor="middle" fill="#231f20" font-style="italic">Tfam</text><text stroke="#231f20" stroke-width="0.18" x="550.6" y="806.6" font-size="8.3" text-anchor="middle" fill="#231f20">36.4%</text><text stroke="#231f20" stroke-width="0.18" x="550.6" y="816.6" font-size="8.3" fill="#231f20" text-anchor="middle">(adj. <tspan font-style="italic">P</tspan>:</text><text stroke="#231f20" stroke-width="0.18" x="550.6" y="827.2" font-size="8.3" fill="#231f20" text-anchor="middle">6.50 × 10<tspan font-size="5.5" dy="-3.2">−4</tspan><tspan dy="3.2">)</tspan></text><text stroke="#231f20" stroke-width="0.18" x="613.6" y="796.2" font-size="8.3" text-anchor="middle" fill="#231f20" font-style="italic">Polg</text><text stroke="#231f20" stroke-width="0.18" x="613.6" y="806.6" font-size="8.3" text-anchor="middle" fill="#231f20">23.9%</text><text stroke="#231f20" stroke-width="0.18" x="613.6" y="816.6" font-size="8.3" fill="#231f20" text-anchor="middle">(adj. <tspan font-style="italic">P</tspan>:</text><text stroke="#231f20" stroke-width="0.18" x="613.6" y="827.2" font-size="8.3" fill="#231f20" text-anchor="middle">1.00 × 10<tspan font-size="5.5" dy="-3.2">0</tspan><tspan dy="3.2">)</tspan></text><text stroke="#231f20" stroke-width="0.18" x="449.3" y="808.6" font-size="8.6" text-anchor="end" fill="#231f20">DEGs (%)</text><text stroke="#231f20" stroke-width="0.18" x="449.3" y="819.6" font-size="8.6" text-anchor="end" fill="#231f20">ATF4-bound</text></svg></body></html>
